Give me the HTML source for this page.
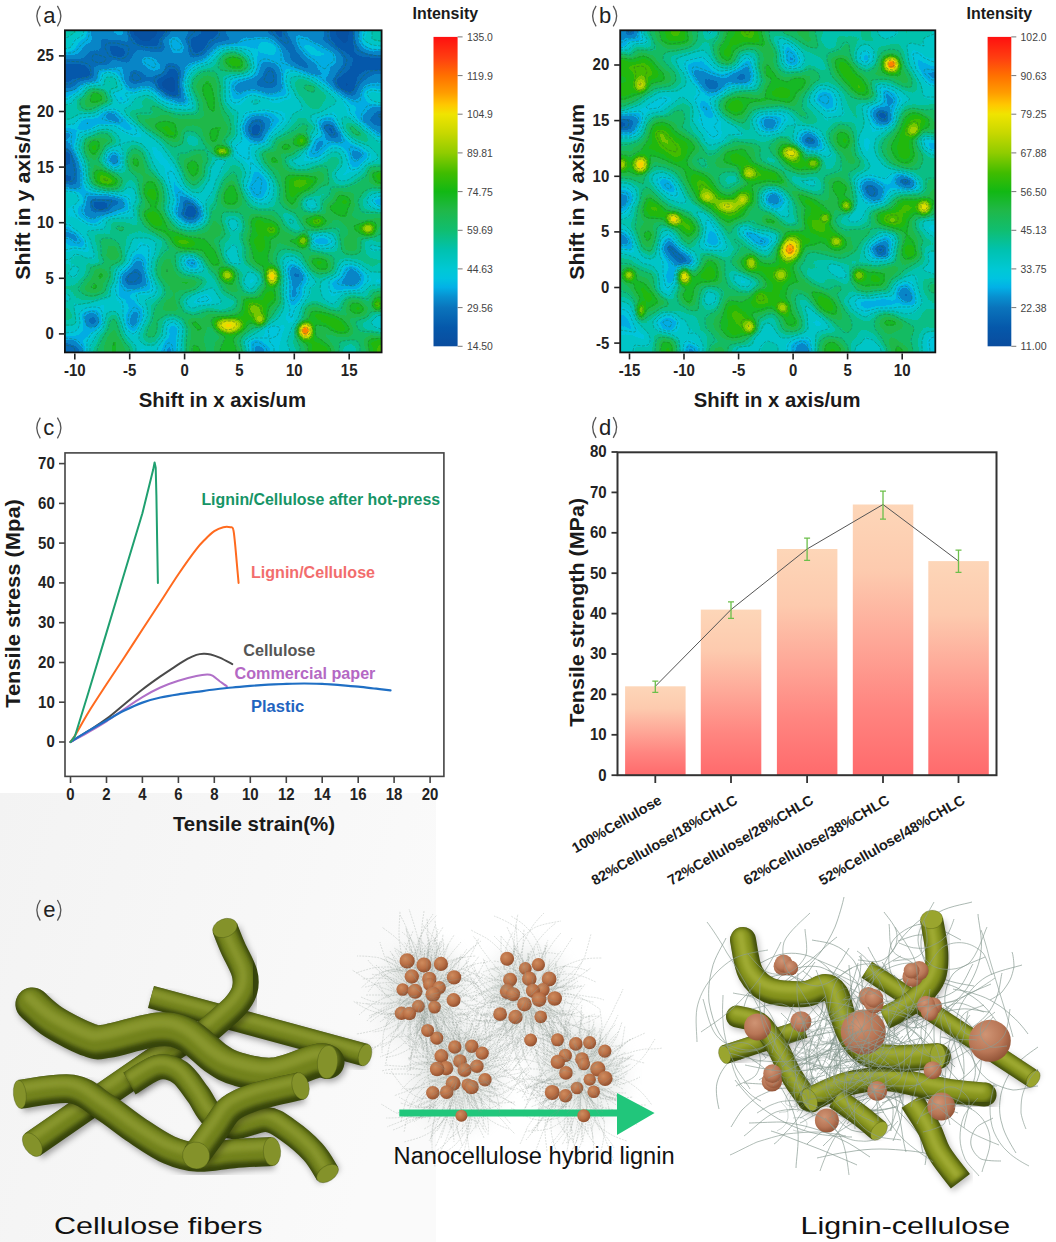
<!DOCTYPE html>
<html><head><meta charset="utf-8"><style>
html,body{margin:0;padding:0;background:#fff;}
body{width:1056px;height:1242px;overflow:hidden;}
svg{display:block;font-family:"Liberation Sans",sans-serif;}
</style></head><body>
<svg width="1056" height="1242" viewBox="0 0 1056 1242" font-family="Liberation Sans, sans-serif">
<rect width="1056" height="1242" fill="#fff"/>
<defs><linearGradient id="bgE" x1="0" y1="0" x2="1" y2="0.3"><stop offset="0" stop-color="#f3f3f3"/><stop offset="0.6" stop-color="#f7f7f7"/><stop offset="1" stop-color="#fafafa"/></linearGradient></defs>
<rect x="0" y="793" width="436" height="449" fill="url(#bgE)"/>
<defs><radialGradient id="hA_s60"><stop offset="0" stop-color="#999999" stop-opacity="1"/><stop offset="0.35" stop-color="#999999" stop-opacity="0.85"/><stop offset="0.7" stop-color="#999999" stop-opacity="0.4"/><stop offset="1" stop-color="#999999" stop-opacity="0"/></radialGradient><radialGradient id="hA_s66"><stop offset="0" stop-color="#a8a8a8" stop-opacity="1"/><stop offset="0.35" stop-color="#a8a8a8" stop-opacity="0.85"/><stop offset="0.7" stop-color="#a8a8a8" stop-opacity="0.4"/><stop offset="1" stop-color="#a8a8a8" stop-opacity="0"/></radialGradient><radialGradient id="hA_s70"><stop offset="0" stop-color="#b2b2b2" stop-opacity="1"/><stop offset="0.35" stop-color="#b2b2b2" stop-opacity="0.85"/><stop offset="0.7" stop-color="#b2b2b2" stop-opacity="0.4"/><stop offset="1" stop-color="#b2b2b2" stop-opacity="0"/></radialGradient><radialGradient id="hA_s72"><stop offset="0" stop-color="#b8b8b8" stop-opacity="1"/><stop offset="0.35" stop-color="#b8b8b8" stop-opacity="0.85"/><stop offset="0.7" stop-color="#b8b8b8" stop-opacity="0.4"/><stop offset="1" stop-color="#b8b8b8" stop-opacity="0"/></radialGradient><radialGradient id="hA_s73"><stop offset="0" stop-color="#bababa" stop-opacity="1"/><stop offset="0.35" stop-color="#bababa" stop-opacity="0.85"/><stop offset="0.7" stop-color="#bababa" stop-opacity="0.4"/><stop offset="1" stop-color="#bababa" stop-opacity="0"/></radialGradient><radialGradient id="hA_s80"><stop offset="0" stop-color="#cccccc" stop-opacity="1"/><stop offset="0.35" stop-color="#cccccc" stop-opacity="0.85"/><stop offset="0.7" stop-color="#cccccc" stop-opacity="0.4"/><stop offset="1" stop-color="#cccccc" stop-opacity="0"/></radialGradient><radialGradient id="hA_s86"><stop offset="0" stop-color="#dbdbdb" stop-opacity="1"/><stop offset="0.35" stop-color="#dbdbdb" stop-opacity="0.85"/><stop offset="0.7" stop-color="#dbdbdb" stop-opacity="0.4"/><stop offset="1" stop-color="#dbdbdb" stop-opacity="0"/></radialGradient><radialGradient id="hA_s96"><stop offset="0" stop-color="#f5f5f5" stop-opacity="1"/><stop offset="0.35" stop-color="#f5f5f5" stop-opacity="0.85"/><stop offset="0.7" stop-color="#f5f5f5" stop-opacity="0.4"/><stop offset="1" stop-color="#f5f5f5" stop-opacity="0"/></radialGradient><filter id="hA" x="44.9" y="10.3" width="356.7" height="362.1" filterUnits="userSpaceOnUse" color-interpolation-filters="sRGB"><feGaussianBlur stdDeviation="2.40"/><feComponentTransfer><feFuncR type="discrete" tableValues="0.031 0.020 0.031 0.035 0.008 0.000 0.000 0.004 0.043 0.082 0.122 0.090 0.133 0.263 0.463 0.635 0.776 0.886 0.980 1.000 1.000 1.000 1.000 1.000"/><feFuncG type="discrete" tableValues="0.314 0.349 0.420 0.522 0.678 0.773 0.776 0.761 0.749 0.737 0.722 0.722 0.725 0.741 0.780 0.816 0.847 0.878 0.820 0.643 0.506 0.369 0.231 0.118"/><feFuncB type="discrete" tableValues="0.635 0.671 0.714 0.784 0.894 0.863 0.784 0.682 0.522 0.388 0.290 0.149 0.051 0.000 0.000 0.000 0.000 0.000 0.000 0.000 0.000 0.024 0.063 0.063"/><feFuncA type="linear" slope="0" intercept="1"/></feComponentTransfer></filter><clipPath id="chA"><rect x="64.9" y="30.3" width="316.7" height="322.1"/></clipPath></defs><g clip-path="url(#chA)"><g filter="url(#hA)"><path fill="#000000" d="M163.6 83.7h7.2v7.3h-7.2z"/><path fill="#020202" d="M137.2 16.6h7.2v7.3h-7.2zM341.7 16.6h7.2v7.3h-7.2zM137.2 23.3h7.2v7.3h-7.2zM341.7 23.3h7.2v7.3h-7.2zM137.2 30.0h7.2v7.3h-7.2zM341.7 30.0h7.2v7.3h-7.2zM170.2 83.7h7.2v7.3h-7.2z"/><path fill="#040404" d="M143.8 16.6h7.2v7.3h-7.2zM335.1 16.6h7.2v7.3h-7.2zM143.8 23.3h7.2v7.3h-7.2zM335.1 23.3h7.2v7.3h-7.2zM143.8 30.0h7.2v7.3h-7.2zM335.1 30.0h7.2v7.3h-7.2zM163.6 77.0h7.2v7.3h-7.2z"/><path fill="#060606" d="M130.6 16.6h7.2v7.3h-7.2zM150.4 16.6h7.2v7.3h-7.2zM130.6 23.3h7.2v7.3h-7.2zM150.4 23.3h7.2v7.3h-7.2zM130.6 30.0h7.2v7.3h-7.2zM150.4 30.0h7.2v7.3h-7.2zM341.7 36.7h7.2v7.3h-7.2zM170.2 77.0h7.2v7.3h-7.2z"/><path fill="#080808" d="M137.2 36.7h7.2v7.3h-7.2zM143.8 36.7h7.2v7.3h-7.2zM341.7 83.7h7.2v7.3h-7.2zM170.2 90.4h7.2v7.3h-7.2z"/><path fill="#0a0a0a" d="M170.2 70.3h7.2v7.3h-7.2zM341.7 77.0h7.2v7.3h-7.2z"/><path fill="#0c0c0c" d="M150.4 36.7h7.2v7.3h-7.2zM335.1 36.7h7.2v7.3h-7.2zM110.8 50.1h7.2v7.3h-7.2zM368.1 56.8h7.2v7.3h-7.2zM77.8 70.3h7.2v7.3h-7.2zM157.0 77.0h7.2v7.3h-7.2zM157.0 83.7h7.2v7.3h-7.2zM348.3 83.7h7.2v7.3h-7.2zM51.4 150.8h7.2v7.3h-7.2zM58.0 150.8h7.2v7.3h-7.2zM64.6 150.8h7.2v7.3h-7.2zM97.6 204.5h7.2v7.3h-7.2zM190.0 204.5h7.2v7.3h-7.2z"/><path fill="#0e0e0e" d="M157.0 16.6h7.2v7.3h-7.2zM157.0 23.3h7.2v7.3h-7.2zM157.0 30.0h7.2v7.3h-7.2zM190.0 43.4h7.2v7.3h-7.2zM196.6 43.4h7.2v7.3h-7.2zM341.7 43.4h7.2v7.3h-7.2zM117.4 50.1h7.2v7.3h-7.2zM361.5 56.8h7.2v7.3h-7.2zM374.7 56.8h7.2v7.3h-7.2zM381.3 56.8h7.2v7.3h-7.2zM387.9 56.8h7.2v7.3h-7.2zM374.7 63.6h7.2v7.3h-7.2zM381.3 63.6h7.2v7.3h-7.2zM387.9 63.6h7.2v7.3h-7.2zM71.2 70.3h7.2v7.3h-7.2zM84.4 70.3h7.2v7.3h-7.2zM348.3 77.0h7.2v7.3h-7.2zM190.0 211.2h7.2v7.3h-7.2z"/><path fill="#101010" d="M203.2 16.6h7.2v7.3h-7.2zM209.8 16.6h7.2v7.3h-7.2zM275.7 16.6h7.2v7.3h-7.2zM203.2 23.3h7.2v7.3h-7.2zM209.8 23.3h7.2v7.3h-7.2zM275.7 23.3h7.2v7.3h-7.2zM203.2 30.0h7.2v7.3h-7.2zM209.8 30.0h7.2v7.3h-7.2zM275.7 30.0h7.2v7.3h-7.2zM190.0 36.7h7.2v7.3h-7.2zM348.3 43.4h7.2v7.3h-7.2zM71.2 63.6h7.2v7.3h-7.2zM77.8 63.6h7.2v7.3h-7.2zM368.1 63.6h7.2v7.3h-7.2zM51.4 70.3h7.2v7.3h-7.2zM58.0 70.3h7.2v7.3h-7.2zM64.6 70.3h7.2v7.3h-7.2zM335.1 77.0h7.2v7.3h-7.2zM249.3 130.7h7.2v7.3h-7.2zM328.5 130.7h7.2v7.3h-7.2zM183.4 211.2h7.2v7.3h-7.2z"/><path fill="#121212" d="M328.5 16.6h7.2v7.3h-7.2zM348.3 16.6h7.2v7.3h-7.2zM328.5 23.3h7.2v7.3h-7.2zM348.3 23.3h7.2v7.3h-7.2zM328.5 30.0h7.2v7.3h-7.2zM348.3 30.0h7.2v7.3h-7.2zM196.6 36.7h7.2v7.3h-7.2zM282.3 36.7h7.2v7.3h-7.2zM348.3 36.7h7.2v7.3h-7.2zM110.8 43.4h7.2v7.3h-7.2zM335.1 43.4h7.2v7.3h-7.2zM97.6 56.8h7.2v7.3h-7.2zM354.9 56.8h7.2v7.3h-7.2zM51.4 63.6h7.2v7.3h-7.2zM58.0 63.6h7.2v7.3h-7.2zM64.6 63.6h7.2v7.3h-7.2zM354.9 63.6h7.2v7.3h-7.2zM361.5 63.6h7.2v7.3h-7.2zM348.3 70.3h7.2v7.3h-7.2zM249.3 123.9h7.2v7.3h-7.2zM255.9 123.9h7.2v7.3h-7.2zM321.9 123.9h7.2v7.3h-7.2zM328.5 123.9h7.2v7.3h-7.2zM51.4 157.5h7.2v7.3h-7.2zM58.0 157.5h7.2v7.3h-7.2zM64.6 157.5h7.2v7.3h-7.2zM51.4 177.6h7.2v7.3h-7.2zM58.0 177.6h7.2v7.3h-7.2zM64.6 177.6h7.2v7.3h-7.2zM91.0 197.8h7.2v7.3h-7.2z"/><path fill="#141414" d="M203.2 36.7h7.2v7.3h-7.2zM328.5 36.7h7.2v7.3h-7.2zM104.2 43.4h7.2v7.3h-7.2zM348.3 50.1h7.2v7.3h-7.2zM348.3 63.6h7.2v7.3h-7.2zM163.6 70.3h7.2v7.3h-7.2zM341.7 70.3h7.2v7.3h-7.2zM354.9 70.3h7.2v7.3h-7.2zM51.4 77.0h7.2v7.3h-7.2zM58.0 77.0h7.2v7.3h-7.2zM64.6 77.0h7.2v7.3h-7.2zM335.1 83.7h7.2v7.3h-7.2zM163.6 90.4h7.2v7.3h-7.2zM255.9 130.7h7.2v7.3h-7.2zM97.6 197.8h7.2v7.3h-7.2zM91.0 204.5h7.2v7.3h-7.2zM104.2 204.5h7.2v7.3h-7.2zM183.4 204.5h7.2v7.3h-7.2zM130.6 271.6h7.2v7.3h-7.2z"/><path fill="#161616" d="M196.6 16.6h7.2v7.3h-7.2zM196.6 23.3h7.2v7.3h-7.2zM196.6 30.0h7.2v7.3h-7.2zM130.6 36.7h7.2v7.3h-7.2zM117.4 43.4h7.2v7.3h-7.2zM143.8 43.4h7.2v7.3h-7.2zM150.4 43.4h7.2v7.3h-7.2zM157.0 43.4h7.2v7.3h-7.2zM203.2 43.4h7.2v7.3h-7.2zM190.0 50.1h7.2v7.3h-7.2zM196.6 50.1h7.2v7.3h-7.2zM341.7 50.1h7.2v7.3h-7.2zM354.9 50.1h7.2v7.3h-7.2zM348.3 56.8h7.2v7.3h-7.2zM84.4 63.6h7.2v7.3h-7.2zM170.2 63.6h7.2v7.3h-7.2zM269.1 70.3h7.2v7.3h-7.2zM269.1 77.0h7.2v7.3h-7.2zM51.4 170.9h7.2v7.3h-7.2zM58.0 170.9h7.2v7.3h-7.2zM64.6 170.9h7.2v7.3h-7.2zM71.2 170.9h7.2v7.3h-7.2zM104.2 197.8h7.2v7.3h-7.2zM110.8 197.8h7.2v7.3h-7.2zM183.4 197.8h7.2v7.3h-7.2zM124.0 278.3h7.2v7.3h-7.2zM130.6 278.3h7.2v7.3h-7.2zM91.0 318.5h7.2v7.3h-7.2zM51.4 345.4h7.2v7.3h-7.2zM58.0 345.4h7.2v7.3h-7.2zM64.6 345.4h7.2v7.3h-7.2zM71.2 345.4h7.2v7.3h-7.2zM51.4 352.1h7.2v7.3h-7.2zM58.0 352.1h7.2v7.3h-7.2zM64.6 352.1h7.2v7.3h-7.2zM71.2 352.1h7.2v7.3h-7.2zM51.4 358.8h7.2v7.3h-7.2zM58.0 358.8h7.2v7.3h-7.2zM64.6 358.8h7.2v7.3h-7.2zM71.2 358.8h7.2v7.3h-7.2z"/><path fill="#181818" d="M163.6 16.6h7.2v7.3h-7.2zM216.4 16.6h7.2v7.3h-7.2zM269.1 16.6h7.2v7.3h-7.2zM163.6 23.3h7.2v7.3h-7.2zM216.4 23.3h7.2v7.3h-7.2zM269.1 23.3h7.2v7.3h-7.2zM163.6 30.0h7.2v7.3h-7.2zM216.4 30.0h7.2v7.3h-7.2zM269.1 30.0h7.2v7.3h-7.2zM157.0 36.7h7.2v7.3h-7.2zM209.8 36.7h7.2v7.3h-7.2zM275.7 36.7h7.2v7.3h-7.2zM124.0 43.4h7.2v7.3h-7.2zM288.9 43.4h7.2v7.3h-7.2zM91.0 50.1h7.2v7.3h-7.2zM124.0 50.1h7.2v7.3h-7.2zM91.0 56.8h7.2v7.3h-7.2zM295.5 56.8h7.2v7.3h-7.2zM163.6 63.6h7.2v7.3h-7.2zM130.6 70.3h7.2v7.3h-7.2zM361.5 70.3h7.2v7.3h-7.2zM71.2 77.0h7.2v7.3h-7.2zM130.6 77.0h7.2v7.3h-7.2zM137.2 77.0h7.2v7.3h-7.2zM262.5 77.0h7.2v7.3h-7.2zM354.9 77.0h7.2v7.3h-7.2zM176.8 90.4h7.2v7.3h-7.2zM348.3 90.4h7.2v7.3h-7.2zM374.7 110.5h7.2v7.3h-7.2zM381.3 110.5h7.2v7.3h-7.2zM387.9 110.5h7.2v7.3h-7.2zM255.9 117.2h7.2v7.3h-7.2zM51.4 164.2h7.2v7.3h-7.2zM58.0 164.2h7.2v7.3h-7.2zM64.6 164.2h7.2v7.3h-7.2zM71.2 164.2h7.2v7.3h-7.2zM71.2 177.6h7.2v7.3h-7.2zM137.2 271.6h7.2v7.3h-7.2z"/><path fill="#1a1a1a" d="M190.0 16.6h7.2v7.3h-7.2zM190.0 23.3h7.2v7.3h-7.2zM190.0 30.0h7.2v7.3h-7.2zM183.4 36.7h7.2v7.3h-7.2zM216.4 36.7h7.2v7.3h-7.2zM137.2 43.4h7.2v7.3h-7.2zM282.3 43.4h7.2v7.3h-7.2zM288.9 50.1h7.2v7.3h-7.2zM361.5 50.1h7.2v7.3h-7.2zM51.4 56.8h7.2v7.3h-7.2zM58.0 56.8h7.2v7.3h-7.2zM64.6 56.8h7.2v7.3h-7.2zM104.2 56.8h7.2v7.3h-7.2zM302.1 63.6h7.2v7.3h-7.2zM341.7 63.6h7.2v7.3h-7.2zM176.8 70.3h7.2v7.3h-7.2zM262.5 70.3h7.2v7.3h-7.2zM335.1 70.3h7.2v7.3h-7.2zM150.4 77.0h7.2v7.3h-7.2zM249.3 117.2h7.2v7.3h-7.2zM374.7 117.2h7.2v7.3h-7.2zM381.3 117.2h7.2v7.3h-7.2zM387.9 117.2h7.2v7.3h-7.2zM110.8 157.5h7.2v7.3h-7.2zM124.0 271.6h7.2v7.3h-7.2zM295.5 271.6h7.2v7.3h-7.2z"/><path fill="#1c1c1c" d="M282.3 16.6h7.2v7.3h-7.2zM282.3 23.3h7.2v7.3h-7.2zM282.3 30.0h7.2v7.3h-7.2zM223.0 36.7h7.2v7.3h-7.2zM321.9 36.7h7.2v7.3h-7.2zM130.6 43.4h7.2v7.3h-7.2zM104.2 50.1h7.2v7.3h-7.2zM71.2 56.8h7.2v7.3h-7.2zM77.8 56.8h7.2v7.3h-7.2zM84.4 56.8h7.2v7.3h-7.2zM117.4 56.8h7.2v7.3h-7.2zM124.0 56.8h7.2v7.3h-7.2zM288.9 56.8h7.2v7.3h-7.2zM341.7 56.8h7.2v7.3h-7.2zM137.2 70.3h7.2v7.3h-7.2zM77.8 77.0h7.2v7.3h-7.2zM255.9 77.0h7.2v7.3h-7.2zM51.4 83.7h7.2v7.3h-7.2zM58.0 83.7h7.2v7.3h-7.2zM64.6 83.7h7.2v7.3h-7.2zM368.1 117.2h7.2v7.3h-7.2zM335.1 130.7h7.2v7.3h-7.2zM71.2 157.5h7.2v7.3h-7.2zM176.8 211.2h7.2v7.3h-7.2zM137.2 278.3h7.2v7.3h-7.2z"/><path fill="#1e1e1e" d="M124.0 16.6h7.2v7.3h-7.2zM321.9 16.6h7.2v7.3h-7.2zM124.0 23.3h7.2v7.3h-7.2zM321.9 23.3h7.2v7.3h-7.2zM124.0 30.0h7.2v7.3h-7.2zM321.9 30.0h7.2v7.3h-7.2zM97.6 36.7h7.2v7.3h-7.2zM104.2 36.7h7.2v7.3h-7.2zM110.8 36.7h7.2v7.3h-7.2zM117.4 36.7h7.2v7.3h-7.2zM328.5 43.4h7.2v7.3h-7.2zM354.9 43.4h7.2v7.3h-7.2zM84.4 50.1h7.2v7.3h-7.2zM97.6 50.1h7.2v7.3h-7.2zM295.5 50.1h7.2v7.3h-7.2zM262.5 63.6h7.2v7.3h-7.2zM269.1 63.6h7.2v7.3h-7.2zM91.0 70.3h7.2v7.3h-7.2zM368.1 70.3h7.2v7.3h-7.2zM143.8 77.0h7.2v7.3h-7.2zM176.8 77.0h7.2v7.3h-7.2zM328.5 77.0h7.2v7.3h-7.2zM176.8 83.7h7.2v7.3h-7.2zM255.9 83.7h7.2v7.3h-7.2zM262.5 83.7h7.2v7.3h-7.2zM269.1 83.7h7.2v7.3h-7.2zM354.9 83.7h7.2v7.3h-7.2zM341.7 90.4h7.2v7.3h-7.2zM176.8 97.1h7.2v7.3h-7.2zM51.4 144.1h7.2v7.3h-7.2zM58.0 144.1h7.2v7.3h-7.2zM64.6 144.1h7.2v7.3h-7.2zM130.6 264.9h7.2v7.3h-7.2zM288.9 271.6h7.2v7.3h-7.2zM348.3 271.6h7.2v7.3h-7.2zM84.4 318.5h7.2v7.3h-7.2z"/><path fill="#202020" d="M183.4 16.6h7.2v7.3h-7.2zM223.0 16.6h7.2v7.3h-7.2zM183.4 23.3h7.2v7.3h-7.2zM223.0 23.3h7.2v7.3h-7.2zM183.4 30.0h7.2v7.3h-7.2zM223.0 30.0h7.2v7.3h-7.2zM229.5 36.7h7.2v7.3h-7.2zM97.6 43.4h7.2v7.3h-7.2zM130.6 50.1h7.2v7.3h-7.2zM150.4 50.1h7.2v7.3h-7.2zM368.1 50.1h7.2v7.3h-7.2zM374.7 50.1h7.2v7.3h-7.2zM381.3 50.1h7.2v7.3h-7.2zM387.9 50.1h7.2v7.3h-7.2zM302.1 56.8h7.2v7.3h-7.2zM91.0 63.6h7.2v7.3h-7.2zM176.8 63.6h7.2v7.3h-7.2zM295.5 63.6h7.2v7.3h-7.2zM308.7 63.6h7.2v7.3h-7.2zM157.0 70.3h7.2v7.3h-7.2zM374.7 70.3h7.2v7.3h-7.2zM381.3 70.3h7.2v7.3h-7.2zM387.9 70.3h7.2v7.3h-7.2zM84.4 77.0h7.2v7.3h-7.2zM124.0 77.0h7.2v7.3h-7.2zM361.5 77.0h7.2v7.3h-7.2zM71.2 83.7h7.2v7.3h-7.2zM242.7 123.9h7.2v7.3h-7.2zM262.5 123.9h7.2v7.3h-7.2zM374.7 123.9h7.2v7.3h-7.2zM381.3 123.9h7.2v7.3h-7.2zM387.9 123.9h7.2v7.3h-7.2zM117.4 197.8h7.2v7.3h-7.2zM196.6 211.2h7.2v7.3h-7.2zM190.0 217.9h7.2v7.3h-7.2zM348.3 278.3h7.2v7.3h-7.2zM91.0 311.8h7.2v7.3h-7.2zM51.4 338.7h7.2v7.3h-7.2zM58.0 338.7h7.2v7.3h-7.2zM64.6 338.7h7.2v7.3h-7.2z"/><path fill="#222222" d="M91.0 16.6h7.2v7.3h-7.2zM97.6 16.6h7.2v7.3h-7.2zM249.3 16.6h7.2v7.3h-7.2zM255.9 16.6h7.2v7.3h-7.2zM262.5 16.6h7.2v7.3h-7.2zM91.0 23.3h7.2v7.3h-7.2zM97.6 23.3h7.2v7.3h-7.2zM249.3 23.3h7.2v7.3h-7.2zM255.9 23.3h7.2v7.3h-7.2zM262.5 23.3h7.2v7.3h-7.2zM91.0 30.0h7.2v7.3h-7.2zM97.6 30.0h7.2v7.3h-7.2zM249.3 30.0h7.2v7.3h-7.2zM255.9 30.0h7.2v7.3h-7.2zM262.5 30.0h7.2v7.3h-7.2zM124.0 36.7h7.2v7.3h-7.2zM288.9 36.7h7.2v7.3h-7.2zM315.3 36.7h7.2v7.3h-7.2zM163.6 43.4h7.2v7.3h-7.2zM183.4 43.4h7.2v7.3h-7.2zM209.8 43.4h7.2v7.3h-7.2zM157.0 50.1h7.2v7.3h-7.2zM183.4 50.1h7.2v7.3h-7.2zM203.2 50.1h7.2v7.3h-7.2zM335.1 50.1h7.2v7.3h-7.2zM110.8 56.8h7.2v7.3h-7.2zM183.4 56.8h7.2v7.3h-7.2zM104.2 63.6h7.2v7.3h-7.2zM130.6 63.6h7.2v7.3h-7.2zM335.1 63.6h7.2v7.3h-7.2zM124.0 70.3h7.2v7.3h-7.2zM143.8 70.3h7.2v7.3h-7.2zM150.4 70.3h7.2v7.3h-7.2zM249.3 77.0h7.2v7.3h-7.2zM275.7 77.0h7.2v7.3h-7.2zM236.1 83.7h7.2v7.3h-7.2zM275.7 83.7h7.2v7.3h-7.2zM368.1 110.5h7.2v7.3h-7.2zM262.5 117.2h7.2v7.3h-7.2zM354.9 150.8h7.2v7.3h-7.2zM183.4 217.9h7.2v7.3h-7.2zM190.0 258.2h7.2v7.3h-7.2zM137.2 264.9h7.2v7.3h-7.2zM288.9 264.9h7.2v7.3h-7.2zM84.4 311.8h7.2v7.3h-7.2zM130.6 318.5h7.2v7.3h-7.2z"/><path fill="#242424" d="M302.1 16.6h7.2v7.3h-7.2zM302.1 23.3h7.2v7.3h-7.2zM302.1 30.0h7.2v7.3h-7.2zM84.4 43.4h7.2v7.3h-7.2zM143.8 50.1h7.2v7.3h-7.2zM163.6 50.1h7.2v7.3h-7.2zM130.6 56.8h7.2v7.3h-7.2zM157.0 56.8h7.2v7.3h-7.2zM163.6 56.8h7.2v7.3h-7.2zM176.8 56.8h7.2v7.3h-7.2zM190.0 56.8h7.2v7.3h-7.2zM97.6 63.6h7.2v7.3h-7.2zM124.0 63.6h7.2v7.3h-7.2zM275.7 70.3h7.2v7.3h-7.2zM91.0 77.0h7.2v7.3h-7.2zM130.6 83.7h7.2v7.3h-7.2zM242.7 83.7h7.2v7.3h-7.2zM249.3 83.7h7.2v7.3h-7.2zM354.9 90.4h7.2v7.3h-7.2zM104.2 110.5h7.2v7.3h-7.2zM361.5 117.2h7.2v7.3h-7.2zM368.1 123.9h7.2v7.3h-7.2zM255.9 137.4h7.2v7.3h-7.2zM335.1 137.4h7.2v7.3h-7.2zM110.8 150.8h7.2v7.3h-7.2zM71.2 184.3h7.2v7.3h-7.2zM84.4 197.8h7.2v7.3h-7.2zM84.4 204.5h7.2v7.3h-7.2zM110.8 204.5h7.2v7.3h-7.2zM91.0 211.2h7.2v7.3h-7.2zM51.4 231.3h7.2v7.3h-7.2zM58.0 231.3h7.2v7.3h-7.2zM64.6 231.3h7.2v7.3h-7.2zM71.2 231.3h7.2v7.3h-7.2zM341.7 278.3h7.2v7.3h-7.2zM77.8 345.4h7.2v7.3h-7.2zM255.9 345.4h7.2v7.3h-7.2zM77.8 352.1h7.2v7.3h-7.2zM255.9 352.1h7.2v7.3h-7.2zM77.8 358.8h7.2v7.3h-7.2zM255.9 358.8h7.2v7.3h-7.2z"/><path fill="#262626" d="M170.2 16.6h7.2v7.3h-7.2zM176.8 16.6h7.2v7.3h-7.2zM229.5 16.6h7.2v7.3h-7.2zM242.7 16.6h7.2v7.3h-7.2zM308.7 16.6h7.2v7.3h-7.2zM315.3 16.6h7.2v7.3h-7.2zM170.2 23.3h7.2v7.3h-7.2zM176.8 23.3h7.2v7.3h-7.2zM229.5 23.3h7.2v7.3h-7.2zM242.7 23.3h7.2v7.3h-7.2zM308.7 23.3h7.2v7.3h-7.2zM315.3 23.3h7.2v7.3h-7.2zM170.2 30.0h7.2v7.3h-7.2zM176.8 30.0h7.2v7.3h-7.2zM229.5 30.0h7.2v7.3h-7.2zM242.7 30.0h7.2v7.3h-7.2zM308.7 30.0h7.2v7.3h-7.2zM315.3 30.0h7.2v7.3h-7.2zM91.0 43.4h7.2v7.3h-7.2zM77.8 50.1h7.2v7.3h-7.2zM137.2 50.1h7.2v7.3h-7.2zM282.3 50.1h7.2v7.3h-7.2zM170.2 56.8h7.2v7.3h-7.2zM137.2 63.6h7.2v7.3h-7.2zM255.9 70.3h7.2v7.3h-7.2zM308.7 70.3h7.2v7.3h-7.2zM315.3 70.3h7.2v7.3h-7.2zM242.7 77.0h7.2v7.3h-7.2zM368.1 77.0h7.2v7.3h-7.2zM150.4 83.7h7.2v7.3h-7.2zM374.7 103.8h7.2v7.3h-7.2zM381.3 103.8h7.2v7.3h-7.2zM387.9 103.8h7.2v7.3h-7.2zM110.8 110.5h7.2v7.3h-7.2zM110.8 117.2h7.2v7.3h-7.2zM117.4 117.2h7.2v7.3h-7.2zM51.4 130.7h7.2v7.3h-7.2zM58.0 130.7h7.2v7.3h-7.2zM64.6 130.7h7.2v7.3h-7.2zM315.3 137.4h7.2v7.3h-7.2zM71.2 150.8h7.2v7.3h-7.2zM176.8 197.8h7.2v7.3h-7.2zM190.0 197.8h7.2v7.3h-7.2zM117.4 204.5h7.2v7.3h-7.2zM176.8 204.5h7.2v7.3h-7.2zM84.4 211.2h7.2v7.3h-7.2zM354.9 271.6h7.2v7.3h-7.2zM288.9 278.3h7.2v7.3h-7.2zM295.5 278.3h7.2v7.3h-7.2zM288.9 291.7h7.2v7.3h-7.2zM130.6 311.8h7.2v7.3h-7.2zM71.2 338.7h7.2v7.3h-7.2z"/><path fill="#282828" d="M104.2 16.6h7.2v7.3h-7.2zM295.5 16.6h7.2v7.3h-7.2zM104.2 23.3h7.2v7.3h-7.2zM295.5 23.3h7.2v7.3h-7.2zM104.2 30.0h7.2v7.3h-7.2zM295.5 30.0h7.2v7.3h-7.2zM91.0 36.7h7.2v7.3h-7.2zM236.1 36.7h7.2v7.3h-7.2zM308.7 36.7h7.2v7.3h-7.2zM321.9 43.4h7.2v7.3h-7.2zM170.2 50.1h7.2v7.3h-7.2zM282.3 56.8h7.2v7.3h-7.2zM335.1 56.8h7.2v7.3h-7.2zM110.8 63.6h7.2v7.3h-7.2zM328.5 63.6h7.2v7.3h-7.2zM328.5 70.3h7.2v7.3h-7.2zM321.9 77.0h7.2v7.3h-7.2zM374.7 77.0h7.2v7.3h-7.2zM381.3 77.0h7.2v7.3h-7.2zM387.9 77.0h7.2v7.3h-7.2zM328.5 83.7h7.2v7.3h-7.2zM368.1 103.8h7.2v7.3h-7.2zM321.9 117.2h7.2v7.3h-7.2zM242.7 130.7h7.2v7.3h-7.2zM321.9 130.7h7.2v7.3h-7.2zM315.3 144.1h7.2v7.3h-7.2zM348.3 150.8h7.2v7.3h-7.2zM249.3 184.3h7.2v7.3h-7.2zM176.8 191.0h7.2v7.3h-7.2zM196.6 204.5h7.2v7.3h-7.2zM71.2 238.0h7.2v7.3h-7.2zM137.2 258.2h7.2v7.3h-7.2zM348.3 264.9h7.2v7.3h-7.2zM354.9 278.3h7.2v7.3h-7.2zM130.6 285.0h7.2v7.3h-7.2zM288.9 285.0h7.2v7.3h-7.2zM163.6 345.4h7.2v7.3h-7.2zM163.6 352.1h7.2v7.3h-7.2zM163.6 358.8h7.2v7.3h-7.2z"/><path fill="#2a2a2a" d="M110.8 16.6h7.2v7.3h-7.2zM236.1 16.6h7.2v7.3h-7.2zM288.9 16.6h7.2v7.3h-7.2zM354.9 16.6h7.2v7.3h-7.2zM110.8 23.3h7.2v7.3h-7.2zM236.1 23.3h7.2v7.3h-7.2zM288.9 23.3h7.2v7.3h-7.2zM354.9 23.3h7.2v7.3h-7.2zM110.8 30.0h7.2v7.3h-7.2zM236.1 30.0h7.2v7.3h-7.2zM288.9 30.0h7.2v7.3h-7.2zM354.9 30.0h7.2v7.3h-7.2zM163.6 36.7h7.2v7.3h-7.2zM176.8 36.7h7.2v7.3h-7.2zM354.9 36.7h7.2v7.3h-7.2zM176.8 50.1h7.2v7.3h-7.2zM137.2 56.8h7.2v7.3h-7.2zM196.6 56.8h7.2v7.3h-7.2zM143.8 63.6h7.2v7.3h-7.2zM255.9 63.6h7.2v7.3h-7.2zM124.0 83.7h7.2v7.3h-7.2zM229.5 83.7h7.2v7.3h-7.2zM157.0 90.4h7.2v7.3h-7.2zM236.1 90.4h7.2v7.3h-7.2zM262.5 90.4h7.2v7.3h-7.2zM361.5 110.5h7.2v7.3h-7.2zM328.5 137.4h7.2v7.3h-7.2zM348.3 144.1h7.2v7.3h-7.2zM308.7 150.8h7.2v7.3h-7.2zM255.9 177.6h7.2v7.3h-7.2zM84.4 191.0h7.2v7.3h-7.2zM255.9 191.0h7.2v7.3h-7.2zM374.7 197.8h7.2v7.3h-7.2zM381.3 197.8h7.2v7.3h-7.2zM387.9 197.8h7.2v7.3h-7.2zM97.6 211.2h7.2v7.3h-7.2zM77.8 238.0h7.2v7.3h-7.2zM130.6 258.2h7.2v7.3h-7.2zM183.4 258.2h7.2v7.3h-7.2zM295.5 264.9h7.2v7.3h-7.2zM341.7 271.6h7.2v7.3h-7.2zM143.8 278.3h7.2v7.3h-7.2zM335.1 278.3h7.2v7.3h-7.2zM124.0 285.0h7.2v7.3h-7.2zM288.9 298.4h7.2v7.3h-7.2zM130.6 305.1h7.2v7.3h-7.2zM170.2 325.3h7.2v7.3h-7.2z"/><path fill="#2c2c2c" d="M269.1 36.7h7.2v7.3h-7.2zM77.8 43.4h7.2v7.3h-7.2zM295.5 43.4h7.2v7.3h-7.2zM71.2 50.1h7.2v7.3h-7.2zM262.5 56.8h7.2v7.3h-7.2zM308.7 56.8h7.2v7.3h-7.2zM117.4 63.6h7.2v7.3h-7.2zM157.0 63.6h7.2v7.3h-7.2zM183.4 63.6h7.2v7.3h-7.2zM275.7 63.6h7.2v7.3h-7.2zM288.9 63.6h7.2v7.3h-7.2zM236.1 77.0h7.2v7.3h-7.2zM269.1 90.4h7.2v7.3h-7.2zM170.2 97.1h7.2v7.3h-7.2zM183.4 97.1h7.2v7.3h-7.2zM348.3 97.1h7.2v7.3h-7.2zM354.9 97.1h7.2v7.3h-7.2zM84.4 117.2h7.2v7.3h-7.2zM91.0 117.2h7.2v7.3h-7.2zM97.6 117.2h7.2v7.3h-7.2zM104.2 117.2h7.2v7.3h-7.2zM269.1 117.2h7.2v7.3h-7.2zM328.5 117.2h7.2v7.3h-7.2zM84.4 123.9h7.2v7.3h-7.2zM124.0 123.9h7.2v7.3h-7.2zM262.5 130.7h7.2v7.3h-7.2zM374.7 130.7h7.2v7.3h-7.2zM381.3 130.7h7.2v7.3h-7.2zM387.9 130.7h7.2v7.3h-7.2zM51.4 137.4h7.2v7.3h-7.2zM58.0 137.4h7.2v7.3h-7.2zM64.6 137.4h7.2v7.3h-7.2zM249.3 137.4h7.2v7.3h-7.2zM321.9 137.4h7.2v7.3h-7.2zM341.7 137.4h7.2v7.3h-7.2zM308.7 144.1h7.2v7.3h-7.2zM315.3 150.8h7.2v7.3h-7.2zM361.5 150.8h7.2v7.3h-7.2zM348.3 157.5h7.2v7.3h-7.2zM354.9 157.5h7.2v7.3h-7.2zM77.8 170.9h7.2v7.3h-7.2zM77.8 177.6h7.2v7.3h-7.2zM51.4 184.3h7.2v7.3h-7.2zM58.0 184.3h7.2v7.3h-7.2zM64.6 184.3h7.2v7.3h-7.2zM77.8 184.3h7.2v7.3h-7.2zM255.9 184.3h7.2v7.3h-7.2zM104.2 211.2h7.2v7.3h-7.2zM315.3 238.0h7.2v7.3h-7.2zM321.9 238.0h7.2v7.3h-7.2zM117.4 271.6h7.2v7.3h-7.2zM117.4 278.3h7.2v7.3h-7.2zM137.2 285.0h7.2v7.3h-7.2zM295.5 285.0h7.2v7.3h-7.2zM295.5 291.7h7.2v7.3h-7.2zM137.2 311.8h7.2v7.3h-7.2zM124.0 318.5h7.2v7.3h-7.2zM130.6 325.3h7.2v7.3h-7.2zM249.3 338.7h7.2v7.3h-7.2zM170.2 345.4h7.2v7.3h-7.2zM249.3 345.4h7.2v7.3h-7.2zM262.5 345.4h7.2v7.3h-7.2zM170.2 352.1h7.2v7.3h-7.2zM249.3 352.1h7.2v7.3h-7.2zM262.5 352.1h7.2v7.3h-7.2zM170.2 358.8h7.2v7.3h-7.2zM249.3 358.8h7.2v7.3h-7.2zM262.5 358.8h7.2v7.3h-7.2z"/><path fill="#2e2e2e" d="M84.4 36.7h7.2v7.3h-7.2zM242.7 36.7h7.2v7.3h-7.2zM249.3 36.7h7.2v7.3h-7.2zM275.7 43.4h7.2v7.3h-7.2zM51.4 50.1h7.2v7.3h-7.2zM58.0 50.1h7.2v7.3h-7.2zM64.6 50.1h7.2v7.3h-7.2zM150.4 56.8h7.2v7.3h-7.2zM255.9 56.8h7.2v7.3h-7.2zM315.3 63.6h7.2v7.3h-7.2zM321.9 63.6h7.2v7.3h-7.2zM117.4 70.3h7.2v7.3h-7.2zM321.9 70.3h7.2v7.3h-7.2zM137.2 83.7h7.2v7.3h-7.2zM143.8 83.7h7.2v7.3h-7.2zM361.5 83.7h7.2v7.3h-7.2zM242.7 117.2h7.2v7.3h-7.2zM77.8 123.9h7.2v7.3h-7.2zM321.9 144.1h7.2v7.3h-7.2zM104.2 157.5h7.2v7.3h-7.2zM255.9 170.9h7.2v7.3h-7.2zM91.0 191.0h7.2v7.3h-7.2zM104.2 191.0h7.2v7.3h-7.2zM249.3 191.0h7.2v7.3h-7.2zM77.8 204.5h7.2v7.3h-7.2zM77.8 211.2h7.2v7.3h-7.2zM117.4 291.7h7.2v7.3h-7.2zM91.0 325.3h7.2v7.3h-7.2zM170.2 332.0h7.2v7.3h-7.2zM163.6 338.7h7.2v7.3h-7.2zM170.2 338.7h7.2v7.3h-7.2zM255.9 338.7h7.2v7.3h-7.2z"/><path fill="#303030" d="M117.4 16.6h7.2v7.3h-7.2zM117.4 23.3h7.2v7.3h-7.2zM117.4 30.0h7.2v7.3h-7.2zM302.1 36.7h7.2v7.3h-7.2zM216.4 43.4h7.2v7.3h-7.2zM315.3 43.4h7.2v7.3h-7.2zM361.5 43.4h7.2v7.3h-7.2zM275.7 50.1h7.2v7.3h-7.2zM302.1 50.1h7.2v7.3h-7.2zM328.5 50.1h7.2v7.3h-7.2zM269.1 56.8h7.2v7.3h-7.2zM275.7 56.8h7.2v7.3h-7.2zM315.3 56.8h7.2v7.3h-7.2zM321.9 56.8h7.2v7.3h-7.2zM374.7 83.7h7.2v7.3h-7.2zM381.3 83.7h7.2v7.3h-7.2zM387.9 83.7h7.2v7.3h-7.2zM51.4 90.4h7.2v7.3h-7.2zM58.0 90.4h7.2v7.3h-7.2zM64.6 90.4h7.2v7.3h-7.2zM229.5 90.4h7.2v7.3h-7.2zM275.7 90.4h7.2v7.3h-7.2zM117.4 97.1h7.2v7.3h-7.2zM361.5 103.8h7.2v7.3h-7.2zM255.9 110.5h7.2v7.3h-7.2zM262.5 110.5h7.2v7.3h-7.2zM354.9 110.5h7.2v7.3h-7.2zM315.3 117.2h7.2v7.3h-7.2zM71.2 130.7h7.2v7.3h-7.2zM341.7 144.1h7.2v7.3h-7.2zM354.9 144.1h7.2v7.3h-7.2zM77.8 164.2h7.2v7.3h-7.2zM262.5 177.6h7.2v7.3h-7.2zM97.6 191.0h7.2v7.3h-7.2zM124.0 204.5h7.2v7.3h-7.2zM91.0 217.9h7.2v7.3h-7.2zM51.4 224.6h7.2v7.3h-7.2zM58.0 224.6h7.2v7.3h-7.2zM64.6 224.6h7.2v7.3h-7.2zM124.0 264.9h7.2v7.3h-7.2zM190.0 264.9h7.2v7.3h-7.2zM341.7 264.9h7.2v7.3h-7.2zM302.1 271.6h7.2v7.3h-7.2zM143.8 285.0h7.2v7.3h-7.2zM335.1 285.0h7.2v7.3h-7.2zM348.3 285.0h7.2v7.3h-7.2zM124.0 291.7h7.2v7.3h-7.2zM137.2 305.1h7.2v7.3h-7.2zM124.0 311.8h7.2v7.3h-7.2zM97.6 318.5h7.2v7.3h-7.2zM84.4 325.3h7.2v7.3h-7.2z"/><path fill="#323232" d="M84.4 16.6h7.2v7.3h-7.2zM84.4 23.3h7.2v7.3h-7.2zM84.4 30.0h7.2v7.3h-7.2zM170.2 36.7h7.2v7.3h-7.2zM295.5 36.7h7.2v7.3h-7.2zM143.8 56.8h7.2v7.3h-7.2zM328.5 56.8h7.2v7.3h-7.2zM150.4 63.6h7.2v7.3h-7.2zM302.1 70.3h7.2v7.3h-7.2zM242.7 90.4h7.2v7.3h-7.2zM282.3 90.4h7.2v7.3h-7.2zM335.1 90.4h7.2v7.3h-7.2zM361.5 97.1h7.2v7.3h-7.2zM249.3 110.5h7.2v7.3h-7.2zM269.1 123.9h7.2v7.3h-7.2zM335.1 123.9h7.2v7.3h-7.2zM71.2 137.4h7.2v7.3h-7.2zM170.2 177.6h7.2v7.3h-7.2zM249.3 177.6h7.2v7.3h-7.2zM170.2 184.3h7.2v7.3h-7.2zM262.5 184.3h7.2v7.3h-7.2zM110.8 211.2h7.2v7.3h-7.2zM84.4 217.9h7.2v7.3h-7.2zM196.6 217.9h7.2v7.3h-7.2zM308.7 238.0h7.2v7.3h-7.2zM143.8 271.6h7.2v7.3h-7.2zM302.1 278.3h7.2v7.3h-7.2zM328.5 278.3h7.2v7.3h-7.2zM117.4 285.0h7.2v7.3h-7.2zM341.7 285.0h7.2v7.3h-7.2zM124.0 298.4h7.2v7.3h-7.2zM130.6 298.4h7.2v7.3h-7.2zM77.8 311.8h7.2v7.3h-7.2zM77.8 332.0h7.2v7.3h-7.2zM84.4 332.0h7.2v7.3h-7.2zM77.8 338.7h7.2v7.3h-7.2z"/><path fill="#343434" d="M77.8 36.7h7.2v7.3h-7.2zM255.9 36.7h7.2v7.3h-7.2zM262.5 36.7h7.2v7.3h-7.2zM170.2 43.4h7.2v7.3h-7.2zM176.8 43.4h7.2v7.3h-7.2zM249.3 43.4h7.2v7.3h-7.2zM209.8 50.1h7.2v7.3h-7.2zM255.9 50.1h7.2v7.3h-7.2zM282.3 63.6h7.2v7.3h-7.2zM117.4 77.0h7.2v7.3h-7.2zM229.5 77.0h7.2v7.3h-7.2zM77.8 83.7h7.2v7.3h-7.2zM368.1 83.7h7.2v7.3h-7.2zM110.8 90.4h7.2v7.3h-7.2zM255.9 90.4h7.2v7.3h-7.2zM163.6 97.1h7.2v7.3h-7.2zM354.9 103.8h7.2v7.3h-7.2zM97.6 110.5h7.2v7.3h-7.2zM269.1 110.5h7.2v7.3h-7.2zM77.8 117.2h7.2v7.3h-7.2zM275.7 117.2h7.2v7.3h-7.2zM354.9 117.2h7.2v7.3h-7.2zM315.3 123.9h7.2v7.3h-7.2zM262.5 137.4h7.2v7.3h-7.2zM236.1 144.1h7.2v7.3h-7.2zM104.2 150.8h7.2v7.3h-7.2zM242.7 150.8h7.2v7.3h-7.2zM117.4 157.5h7.2v7.3h-7.2zM249.3 170.9h7.2v7.3h-7.2zM77.8 191.0h7.2v7.3h-7.2zM183.4 191.0h7.2v7.3h-7.2zM170.2 204.5h7.2v7.3h-7.2zM130.6 251.4h7.2v7.3h-7.2zM137.2 251.4h7.2v7.3h-7.2zM354.9 264.9h7.2v7.3h-7.2zM354.9 285.0h7.2v7.3h-7.2zM137.2 318.5h7.2v7.3h-7.2zM269.1 325.3h7.2v7.3h-7.2z"/><path fill="#363636" d="M223.0 43.4h7.2v7.3h-7.2zM229.5 43.4h7.2v7.3h-7.2zM236.1 43.4h7.2v7.3h-7.2zM242.7 43.4h7.2v7.3h-7.2zM255.9 43.4h7.2v7.3h-7.2zM262.5 50.1h7.2v7.3h-7.2zM321.9 50.1h7.2v7.3h-7.2zM203.2 56.8h7.2v7.3h-7.2zM183.4 70.3h7.2v7.3h-7.2zM249.3 70.3h7.2v7.3h-7.2zM315.3 77.0h7.2v7.3h-7.2zM282.3 83.7h7.2v7.3h-7.2zM117.4 90.4h7.2v7.3h-7.2zM229.5 97.1h7.2v7.3h-7.2zM124.0 117.2h7.2v7.3h-7.2zM51.4 123.9h7.2v7.3h-7.2zM58.0 123.9h7.2v7.3h-7.2zM64.6 123.9h7.2v7.3h-7.2zM130.6 123.9h7.2v7.3h-7.2zM308.7 137.4h7.2v7.3h-7.2zM236.1 150.8h7.2v7.3h-7.2zM361.5 157.5h7.2v7.3h-7.2zM110.8 164.2h7.2v7.3h-7.2zM249.3 164.2h7.2v7.3h-7.2zM348.3 164.2h7.2v7.3h-7.2zM354.9 164.2h7.2v7.3h-7.2zM176.8 184.3h7.2v7.3h-7.2zM110.8 191.0h7.2v7.3h-7.2zM170.2 191.0h7.2v7.3h-7.2zM124.0 197.8h7.2v7.3h-7.2zM51.4 238.0h7.2v7.3h-7.2zM58.0 238.0h7.2v7.3h-7.2zM64.6 238.0h7.2v7.3h-7.2zM51.4 244.7h7.2v7.3h-7.2zM58.0 244.7h7.2v7.3h-7.2zM64.6 244.7h7.2v7.3h-7.2zM77.8 244.7h7.2v7.3h-7.2zM143.8 244.7h7.2v7.3h-7.2zM143.8 258.2h7.2v7.3h-7.2zM361.5 271.6h7.2v7.3h-7.2zM295.5 298.4h7.2v7.3h-7.2zM97.6 311.8h7.2v7.3h-7.2zM124.0 325.3h7.2v7.3h-7.2zM71.2 332.0h7.2v7.3h-7.2zM157.0 345.4h7.2v7.3h-7.2zM157.0 352.1h7.2v7.3h-7.2zM157.0 358.8h7.2v7.3h-7.2z"/><path fill="#383838" d="M71.2 43.4h7.2v7.3h-7.2zM308.7 43.4h7.2v7.3h-7.2zM269.1 50.1h7.2v7.3h-7.2zM308.7 50.1h7.2v7.3h-7.2zM315.3 50.1h7.2v7.3h-7.2zM97.6 70.3h7.2v7.3h-7.2zM71.2 90.4h7.2v7.3h-7.2zM124.0 97.1h7.2v7.3h-7.2zM236.1 97.1h7.2v7.3h-7.2zM348.3 110.5h7.2v7.3h-7.2zM71.2 123.9h7.2v7.3h-7.2zM91.0 123.9h7.2v7.3h-7.2zM117.4 123.9h7.2v7.3h-7.2zM130.6 130.7h7.2v7.3h-7.2zM71.2 144.1h7.2v7.3h-7.2zM170.2 170.9h7.2v7.3h-7.2zM262.5 191.0h7.2v7.3h-7.2zM170.2 211.2h7.2v7.3h-7.2zM176.8 217.9h7.2v7.3h-7.2zM328.5 238.0h7.2v7.3h-7.2zM288.9 258.2h7.2v7.3h-7.2zM143.8 264.9h7.2v7.3h-7.2zM196.6 264.9h7.2v7.3h-7.2zM282.3 264.9h7.2v7.3h-7.2zM361.5 278.3h7.2v7.3h-7.2zM328.5 285.0h7.2v7.3h-7.2zM196.6 298.4h7.2v7.3h-7.2zM203.2 298.4h7.2v7.3h-7.2zM91.0 305.1h7.2v7.3h-7.2zM124.0 305.1h7.2v7.3h-7.2zM288.9 305.1h7.2v7.3h-7.2zM77.8 325.3h7.2v7.3h-7.2zM163.6 325.3h7.2v7.3h-7.2zM51.4 332.0h7.2v7.3h-7.2zM58.0 332.0h7.2v7.3h-7.2zM64.6 332.0h7.2v7.3h-7.2zM269.1 332.0h7.2v7.3h-7.2z"/><path fill="#3a3a3a" d="M302.1 43.4h7.2v7.3h-7.2zM374.7 43.4h7.2v7.3h-7.2zM381.3 43.4h7.2v7.3h-7.2zM387.9 43.4h7.2v7.3h-7.2zM249.3 50.1h7.2v7.3h-7.2zM190.0 63.6h7.2v7.3h-7.2zM110.8 70.3h7.2v7.3h-7.2zM282.3 70.3h7.2v7.3h-7.2zM97.6 77.0h7.2v7.3h-7.2zM183.4 90.4h7.2v7.3h-7.2zM249.3 90.4h7.2v7.3h-7.2zM361.5 90.4h7.2v7.3h-7.2zM341.7 97.1h7.2v7.3h-7.2zM183.4 103.8h7.2v7.3h-7.2zM348.3 103.8h7.2v7.3h-7.2zM117.4 110.5h7.2v7.3h-7.2zM242.7 110.5h7.2v7.3h-7.2zM361.5 123.9h7.2v7.3h-7.2zM242.7 137.4h7.2v7.3h-7.2zM242.7 144.1h7.2v7.3h-7.2zM117.4 150.8h7.2v7.3h-7.2zM157.0 150.8h7.2v7.3h-7.2zM77.8 157.5h7.2v7.3h-7.2zM242.7 184.3h7.2v7.3h-7.2zM255.9 197.8h7.2v7.3h-7.2zM368.1 197.8h7.2v7.3h-7.2zM71.2 204.5h7.2v7.3h-7.2zM308.7 204.5h7.2v7.3h-7.2zM97.6 217.9h7.2v7.3h-7.2zM137.2 244.7h7.2v7.3h-7.2zM143.8 251.4h7.2v7.3h-7.2zM374.7 278.3h7.2v7.3h-7.2zM381.3 278.3h7.2v7.3h-7.2zM387.9 278.3h7.2v7.3h-7.2zM110.8 285.0h7.2v7.3h-7.2zM150.4 285.0h7.2v7.3h-7.2zM203.2 291.7h7.2v7.3h-7.2zM84.4 305.1h7.2v7.3h-7.2zM288.9 311.8h7.2v7.3h-7.2zM77.8 318.5h7.2v7.3h-7.2zM170.2 318.5h7.2v7.3h-7.2zM275.7 325.3h7.2v7.3h-7.2zM163.6 332.0h7.2v7.3h-7.2zM262.5 338.7h7.2v7.3h-7.2zM269.1 345.4h7.2v7.3h-7.2zM269.1 352.1h7.2v7.3h-7.2zM269.1 358.8h7.2v7.3h-7.2z"/><path fill="#3c3c3c" d="M361.5 16.6h7.2v7.3h-7.2zM361.5 23.3h7.2v7.3h-7.2zM361.5 30.0h7.2v7.3h-7.2zM71.2 36.7h7.2v7.3h-7.2zM269.1 43.4h7.2v7.3h-7.2zM368.1 43.4h7.2v7.3h-7.2zM282.3 77.0h7.2v7.3h-7.2zM130.6 90.4h7.2v7.3h-7.2zM150.4 90.4h7.2v7.3h-7.2zM51.4 97.1h7.2v7.3h-7.2zM58.0 97.1h7.2v7.3h-7.2zM64.6 97.1h7.2v7.3h-7.2zM157.0 97.1h7.2v7.3h-7.2zM269.1 97.1h7.2v7.3h-7.2zM275.7 110.5h7.2v7.3h-7.2zM328.5 110.5h7.2v7.3h-7.2zM236.1 123.9h7.2v7.3h-7.2zM137.2 130.7h7.2v7.3h-7.2zM150.4 144.1h7.2v7.3h-7.2zM229.5 144.1h7.2v7.3h-7.2zM328.5 144.1h7.2v7.3h-7.2zM335.1 144.1h7.2v7.3h-7.2zM150.4 150.8h7.2v7.3h-7.2zM302.1 150.8h7.2v7.3h-7.2zM157.0 157.5h7.2v7.3h-7.2zM163.6 157.5h7.2v7.3h-7.2zM242.7 157.5h7.2v7.3h-7.2zM249.3 157.5h7.2v7.3h-7.2zM163.6 164.2h7.2v7.3h-7.2zM163.6 170.9h7.2v7.3h-7.2zM341.7 170.9h7.2v7.3h-7.2zM163.6 177.6h7.2v7.3h-7.2zM77.8 197.8h7.2v7.3h-7.2zM374.7 204.5h7.2v7.3h-7.2zM381.3 204.5h7.2v7.3h-7.2zM387.9 204.5h7.2v7.3h-7.2zM71.2 211.2h7.2v7.3h-7.2zM77.8 231.3h7.2v7.3h-7.2zM321.9 231.3h7.2v7.3h-7.2zM71.2 244.7h7.2v7.3h-7.2zM84.4 244.7h7.2v7.3h-7.2zM229.5 258.2h7.2v7.3h-7.2zM183.4 264.9h7.2v7.3h-7.2zM282.3 271.6h7.2v7.3h-7.2zM249.3 278.3h7.2v7.3h-7.2zM282.3 291.7h7.2v7.3h-7.2zM190.0 298.4h7.2v7.3h-7.2zM97.6 305.1h7.2v7.3h-7.2zM176.8 325.3h7.2v7.3h-7.2zM262.5 325.3h7.2v7.3h-7.2zM275.7 332.0h7.2v7.3h-7.2zM137.2 345.4h7.2v7.3h-7.2zM137.2 352.1h7.2v7.3h-7.2zM137.2 358.8h7.2v7.3h-7.2z"/><path fill="#3e3e3e" d="M262.5 43.4h7.2v7.3h-7.2zM249.3 56.8h7.2v7.3h-7.2zM321.9 83.7h7.2v7.3h-7.2zM275.7 97.1h7.2v7.3h-7.2zM288.9 97.1h7.2v7.3h-7.2zM368.1 97.1h7.2v7.3h-7.2zM282.3 117.2h7.2v7.3h-7.2zM275.7 123.9h7.2v7.3h-7.2zM348.3 137.4h7.2v7.3h-7.2zM341.7 150.8h7.2v7.3h-7.2zM302.1 157.5h7.2v7.3h-7.2zM170.2 164.2h7.2v7.3h-7.2zM255.9 164.2h7.2v7.3h-7.2zM84.4 184.3h7.2v7.3h-7.2zM117.4 191.0h7.2v7.3h-7.2zM124.0 191.0h7.2v7.3h-7.2zM196.6 197.8h7.2v7.3h-7.2zM308.7 197.8h7.2v7.3h-7.2zM117.4 211.2h7.2v7.3h-7.2zM77.8 217.9h7.2v7.3h-7.2zM315.3 231.3h7.2v7.3h-7.2zM137.2 238.0h7.2v7.3h-7.2zM84.4 251.4h7.2v7.3h-7.2zM229.5 251.4h7.2v7.3h-7.2zM282.3 258.2h7.2v7.3h-7.2zM249.3 271.6h7.2v7.3h-7.2zM335.1 271.6h7.2v7.3h-7.2zM282.3 285.0h7.2v7.3h-7.2zM130.6 291.7h7.2v7.3h-7.2zM196.6 291.7h7.2v7.3h-7.2zM302.1 291.7h7.2v7.3h-7.2zM328.5 291.7h7.2v7.3h-7.2zM104.2 298.4h7.2v7.3h-7.2zM209.8 298.4h7.2v7.3h-7.2zM282.3 311.8h7.2v7.3h-7.2zM288.9 318.5h7.2v7.3h-7.2zM374.7 318.5h7.2v7.3h-7.2zM381.3 318.5h7.2v7.3h-7.2zM387.9 318.5h7.2v7.3h-7.2zM97.6 325.3h7.2v7.3h-7.2zM130.6 332.0h7.2v7.3h-7.2zM262.5 332.0h7.2v7.3h-7.2zM275.7 338.7h7.2v7.3h-7.2z"/><path fill="#404040" d="M295.5 70.3h7.2v7.3h-7.2zM124.0 90.4h7.2v7.3h-7.2zM341.7 103.8h7.2v7.3h-7.2zM282.3 110.5h7.2v7.3h-7.2zM321.9 110.5h7.2v7.3h-7.2zM124.0 130.7h7.2v7.3h-7.2zM269.1 130.7h7.2v7.3h-7.2zM315.3 130.7h7.2v7.3h-7.2zM341.7 130.7h7.2v7.3h-7.2zM236.1 137.4h7.2v7.3h-7.2zM302.1 144.1h7.2v7.3h-7.2zM361.5 144.1h7.2v7.3h-7.2zM321.9 150.8h7.2v7.3h-7.2zM368.1 150.8h7.2v7.3h-7.2zM216.4 157.5h7.2v7.3h-7.2zM295.5 157.5h7.2v7.3h-7.2zM308.7 157.5h7.2v7.3h-7.2zM117.4 164.2h7.2v7.3h-7.2zM209.8 170.9h7.2v7.3h-7.2zM262.5 170.9h7.2v7.3h-7.2zM335.1 170.9h7.2v7.3h-7.2zM242.7 177.6h7.2v7.3h-7.2zM269.1 184.3h7.2v7.3h-7.2zM170.2 197.8h7.2v7.3h-7.2zM262.5 197.8h7.2v7.3h-7.2zM51.4 204.5h7.2v7.3h-7.2zM58.0 204.5h7.2v7.3h-7.2zM64.6 204.5h7.2v7.3h-7.2zM51.4 211.2h7.2v7.3h-7.2zM58.0 211.2h7.2v7.3h-7.2zM64.6 211.2h7.2v7.3h-7.2zM124.0 211.2h7.2v7.3h-7.2zM229.5 217.9h7.2v7.3h-7.2zM229.5 224.6h7.2v7.3h-7.2zM84.4 238.0h7.2v7.3h-7.2zM196.6 258.2h7.2v7.3h-7.2zM117.4 264.9h7.2v7.3h-7.2zM242.7 278.3h7.2v7.3h-7.2zM368.1 278.3h7.2v7.3h-7.2zM302.1 285.0h7.2v7.3h-7.2zM143.8 291.7h7.2v7.3h-7.2zM117.4 298.4h7.2v7.3h-7.2zM77.8 305.1h7.2v7.3h-7.2zM117.4 305.1h7.2v7.3h-7.2zM282.3 318.5h7.2v7.3h-7.2zM282.3 325.3h7.2v7.3h-7.2zM176.8 332.0h7.2v7.3h-7.2zM84.4 338.7h7.2v7.3h-7.2zM157.0 338.7h7.2v7.3h-7.2zM242.7 338.7h7.2v7.3h-7.2zM269.1 338.7h7.2v7.3h-7.2zM84.4 345.4h7.2v7.3h-7.2zM143.8 345.4h7.2v7.3h-7.2zM275.7 345.4h7.2v7.3h-7.2zM84.4 352.1h7.2v7.3h-7.2zM143.8 352.1h7.2v7.3h-7.2zM275.7 352.1h7.2v7.3h-7.2zM84.4 358.8h7.2v7.3h-7.2zM143.8 358.8h7.2v7.3h-7.2zM275.7 358.8h7.2v7.3h-7.2z"/><path fill="#424242" d="M77.8 16.6h7.2v7.3h-7.2zM77.8 23.3h7.2v7.3h-7.2zM77.8 30.0h7.2v7.3h-7.2zM361.5 36.7h7.2v7.3h-7.2zM104.2 70.3h7.2v7.3h-7.2zM183.4 77.0h7.2v7.3h-7.2zM183.4 83.7h7.2v7.3h-7.2zM288.9 90.4h7.2v7.3h-7.2zM374.7 90.4h7.2v7.3h-7.2zM381.3 90.4h7.2v7.3h-7.2zM387.9 90.4h7.2v7.3h-7.2zM242.7 97.1h7.2v7.3h-7.2zM282.3 97.1h7.2v7.3h-7.2zM110.8 103.8h7.2v7.3h-7.2zM176.8 103.8h7.2v7.3h-7.2zM236.1 103.8h7.2v7.3h-7.2zM275.7 103.8h7.2v7.3h-7.2zM335.1 110.5h7.2v7.3h-7.2zM341.7 110.5h7.2v7.3h-7.2zM71.2 117.2h7.2v7.3h-7.2zM335.1 117.2h7.2v7.3h-7.2zM97.6 123.9h7.2v7.3h-7.2zM104.2 123.9h7.2v7.3h-7.2zM110.8 123.9h7.2v7.3h-7.2zM77.8 130.7h7.2v7.3h-7.2zM368.1 130.7h7.2v7.3h-7.2zM143.8 137.4h7.2v7.3h-7.2zM249.3 144.1h7.2v7.3h-7.2zM229.5 150.8h7.2v7.3h-7.2zM249.3 150.8h7.2v7.3h-7.2zM368.1 157.5h7.2v7.3h-7.2zM341.7 164.2h7.2v7.3h-7.2zM176.8 177.6h7.2v7.3h-7.2zM130.6 191.0h7.2v7.3h-7.2zM374.7 191.0h7.2v7.3h-7.2zM381.3 191.0h7.2v7.3h-7.2zM387.9 191.0h7.2v7.3h-7.2zM51.4 217.9h7.2v7.3h-7.2zM58.0 217.9h7.2v7.3h-7.2zM64.6 217.9h7.2v7.3h-7.2zM288.9 217.9h7.2v7.3h-7.2zM91.0 224.6h7.2v7.3h-7.2zM97.6 224.6h7.2v7.3h-7.2zM321.9 244.7h7.2v7.3h-7.2zM236.1 258.2h7.2v7.3h-7.2zM368.1 271.6h7.2v7.3h-7.2zM282.3 278.3h7.2v7.3h-7.2zM308.7 278.3h7.2v7.3h-7.2zM110.8 291.7h7.2v7.3h-7.2zM137.2 291.7h7.2v7.3h-7.2zM150.4 291.7h7.2v7.3h-7.2zM335.1 291.7h7.2v7.3h-7.2zM97.6 298.4h7.2v7.3h-7.2zM110.8 298.4h7.2v7.3h-7.2zM328.5 298.4h7.2v7.3h-7.2zM104.2 305.1h7.2v7.3h-7.2zM110.8 305.1h7.2v7.3h-7.2zM71.2 325.3h7.2v7.3h-7.2zM137.2 325.3h7.2v7.3h-7.2zM91.0 332.0h7.2v7.3h-7.2zM176.8 338.7h7.2v7.3h-7.2zM282.3 345.4h7.2v7.3h-7.2zM282.3 352.1h7.2v7.3h-7.2zM282.3 358.8h7.2v7.3h-7.2z"/><path fill="#444444" d="M51.4 43.4h7.2v7.3h-7.2zM58.0 43.4h7.2v7.3h-7.2zM64.6 43.4h7.2v7.3h-7.2zM242.7 50.1h7.2v7.3h-7.2zM288.9 70.3h7.2v7.3h-7.2zM223.0 77.0h7.2v7.3h-7.2zM137.2 90.4h7.2v7.3h-7.2zM223.0 97.1h7.2v7.3h-7.2zM262.5 97.1h7.2v7.3h-7.2zM104.2 103.8h7.2v7.3h-7.2zM170.2 103.8h7.2v7.3h-7.2zM262.5 103.8h7.2v7.3h-7.2zM282.3 103.8h7.2v7.3h-7.2zM335.1 103.8h7.2v7.3h-7.2zM236.1 117.2h7.2v7.3h-7.2zM117.4 130.7h7.2v7.3h-7.2zM236.1 130.7h7.2v7.3h-7.2zM137.2 137.4h7.2v7.3h-7.2zM150.4 137.4h7.2v7.3h-7.2zM143.8 144.1h7.2v7.3h-7.2zM157.0 144.1h7.2v7.3h-7.2zM150.4 157.5h7.2v7.3h-7.2zM315.3 157.5h7.2v7.3h-7.2zM341.7 157.5h7.2v7.3h-7.2zM157.0 164.2h7.2v7.3h-7.2zM348.3 170.9h7.2v7.3h-7.2zM203.2 184.3h7.2v7.3h-7.2zM71.2 191.0h7.2v7.3h-7.2zM190.0 191.0h7.2v7.3h-7.2zM203.2 191.0h7.2v7.3h-7.2zM269.1 191.0h7.2v7.3h-7.2zM51.4 197.8h7.2v7.3h-7.2zM58.0 197.8h7.2v7.3h-7.2zM64.6 197.8h7.2v7.3h-7.2zM71.2 197.8h7.2v7.3h-7.2zM71.2 224.6h7.2v7.3h-7.2zM308.7 231.3h7.2v7.3h-7.2zM130.6 238.0h7.2v7.3h-7.2zM143.8 238.0h7.2v7.3h-7.2zM130.6 244.7h7.2v7.3h-7.2zM150.4 244.7h7.2v7.3h-7.2zM315.3 244.7h7.2v7.3h-7.2zM368.1 244.7h7.2v7.3h-7.2zM150.4 251.4h7.2v7.3h-7.2zM223.0 251.4h7.2v7.3h-7.2zM124.0 258.2h7.2v7.3h-7.2zM295.5 258.2h7.2v7.3h-7.2zM150.4 278.3h7.2v7.3h-7.2zM321.9 278.3h7.2v7.3h-7.2zM249.3 285.0h7.2v7.3h-7.2zM321.9 285.0h7.2v7.3h-7.2zM361.5 285.0h7.2v7.3h-7.2zM209.8 291.7h7.2v7.3h-7.2zM321.9 291.7h7.2v7.3h-7.2zM137.2 298.4h7.2v7.3h-7.2zM282.3 298.4h7.2v7.3h-7.2zM295.5 305.1h7.2v7.3h-7.2zM117.4 311.8h7.2v7.3h-7.2zM163.6 318.5h7.2v7.3h-7.2zM275.7 318.5h7.2v7.3h-7.2zM51.4 325.3h7.2v7.3h-7.2zM58.0 325.3h7.2v7.3h-7.2zM64.6 325.3h7.2v7.3h-7.2zM255.9 332.0h7.2v7.3h-7.2zM130.6 338.7h7.2v7.3h-7.2zM150.4 345.4h7.2v7.3h-7.2zM176.8 345.4h7.2v7.3h-7.2zM150.4 352.1h7.2v7.3h-7.2zM176.8 352.1h7.2v7.3h-7.2zM150.4 358.8h7.2v7.3h-7.2zM176.8 358.8h7.2v7.3h-7.2z"/><path fill="#464646" d="M209.8 56.8h7.2v7.3h-7.2zM249.3 63.6h7.2v7.3h-7.2zM117.4 83.7h7.2v7.3h-7.2zM223.0 83.7h7.2v7.3h-7.2zM77.8 90.4h7.2v7.3h-7.2zM223.0 90.4h7.2v7.3h-7.2zM328.5 90.4h7.2v7.3h-7.2zM368.1 90.4h7.2v7.3h-7.2zM110.8 97.1h7.2v7.3h-7.2zM374.7 97.1h7.2v7.3h-7.2zM381.3 97.1h7.2v7.3h-7.2zM387.9 97.1h7.2v7.3h-7.2zM190.0 103.8h7.2v7.3h-7.2zM229.5 103.8h7.2v7.3h-7.2zM242.7 103.8h7.2v7.3h-7.2zM255.9 103.8h7.2v7.3h-7.2zM269.1 103.8h7.2v7.3h-7.2zM288.9 103.8h7.2v7.3h-7.2zM295.5 103.8h7.2v7.3h-7.2zM328.5 103.8h7.2v7.3h-7.2zM91.0 110.5h7.2v7.3h-7.2zM308.7 117.2h7.2v7.3h-7.2zM117.4 137.4h7.2v7.3h-7.2zM124.0 137.4h7.2v7.3h-7.2zM190.0 137.4h7.2v7.3h-7.2zM110.8 144.1h7.2v7.3h-7.2zM288.9 157.5h7.2v7.3h-7.2zM209.8 164.2h7.2v7.3h-7.2zM216.4 164.2h7.2v7.3h-7.2zM242.7 164.2h7.2v7.3h-7.2zM157.0 170.9h7.2v7.3h-7.2zM209.8 177.6h7.2v7.3h-7.2zM209.8 184.3h7.2v7.3h-7.2zM368.1 191.0h7.2v7.3h-7.2zM130.6 197.8h7.2v7.3h-7.2zM302.1 197.8h7.2v7.3h-7.2zM130.6 211.2h7.2v7.3h-7.2zM71.2 217.9h7.2v7.3h-7.2zM84.4 224.6h7.2v7.3h-7.2zM302.1 231.3h7.2v7.3h-7.2zM229.5 244.7h7.2v7.3h-7.2zM328.5 244.7h7.2v7.3h-7.2zM374.7 244.7h7.2v7.3h-7.2zM381.3 244.7h7.2v7.3h-7.2zM387.9 244.7h7.2v7.3h-7.2zM51.4 251.4h7.2v7.3h-7.2zM58.0 251.4h7.2v7.3h-7.2zM64.6 251.4h7.2v7.3h-7.2zM91.0 251.4h7.2v7.3h-7.2zM341.7 258.2h7.2v7.3h-7.2zM71.2 271.6h7.2v7.3h-7.2zM374.7 271.6h7.2v7.3h-7.2zM381.3 271.6h7.2v7.3h-7.2zM387.9 271.6h7.2v7.3h-7.2zM51.4 291.7h7.2v7.3h-7.2zM58.0 291.7h7.2v7.3h-7.2zM64.6 291.7h7.2v7.3h-7.2zM183.4 298.4h7.2v7.3h-7.2zM282.3 305.1h7.2v7.3h-7.2zM143.8 311.8h7.2v7.3h-7.2zM374.7 325.3h7.2v7.3h-7.2zM381.3 325.3h7.2v7.3h-7.2zM387.9 325.3h7.2v7.3h-7.2zM124.0 332.0h7.2v7.3h-7.2zM282.3 332.0h7.2v7.3h-7.2z"/><path fill="#484848" d="M51.4 36.7h7.2v7.3h-7.2zM58.0 36.7h7.2v7.3h-7.2zM64.6 36.7h7.2v7.3h-7.2zM196.6 63.6h7.2v7.3h-7.2zM242.7 70.3h7.2v7.3h-7.2zM104.2 83.7h7.2v7.3h-7.2zM143.8 90.4h7.2v7.3h-7.2zM295.5 97.1h7.2v7.3h-7.2zM335.1 97.1h7.2v7.3h-7.2zM117.4 103.8h7.2v7.3h-7.2zM163.6 103.8h7.2v7.3h-7.2zM249.3 103.8h7.2v7.3h-7.2zM77.8 110.5h7.2v7.3h-7.2zM236.1 110.5h7.2v7.3h-7.2zM315.3 110.5h7.2v7.3h-7.2zM51.4 117.2h7.2v7.3h-7.2zM58.0 117.2h7.2v7.3h-7.2zM64.6 117.2h7.2v7.3h-7.2zM84.4 130.7h7.2v7.3h-7.2zM143.8 130.7h7.2v7.3h-7.2zM308.7 130.7h7.2v7.3h-7.2zM229.5 137.4h7.2v7.3h-7.2zM374.7 137.4h7.2v7.3h-7.2zM381.3 137.4h7.2v7.3h-7.2zM387.9 137.4h7.2v7.3h-7.2zM163.6 150.8h7.2v7.3h-7.2zM223.0 157.5h7.2v7.3h-7.2zM236.1 157.5h7.2v7.3h-7.2zM216.4 170.9h7.2v7.3h-7.2zM335.1 177.6h7.2v7.3h-7.2zM341.7 177.6h7.2v7.3h-7.2zM124.0 184.3h7.2v7.3h-7.2zM51.4 191.0h7.2v7.3h-7.2zM58.0 191.0h7.2v7.3h-7.2zM64.6 191.0h7.2v7.3h-7.2zM196.6 191.0h7.2v7.3h-7.2zM249.3 197.8h7.2v7.3h-7.2zM368.1 204.5h7.2v7.3h-7.2zM203.2 211.2h7.2v7.3h-7.2zM328.5 231.3h7.2v7.3h-7.2zM150.4 238.0h7.2v7.3h-7.2zM124.0 251.4h7.2v7.3h-7.2zM183.4 251.4h7.2v7.3h-7.2zM348.3 258.2h7.2v7.3h-7.2zM71.2 264.9h7.2v7.3h-7.2zM335.1 264.9h7.2v7.3h-7.2zM361.5 264.9h7.2v7.3h-7.2zM209.8 285.0h7.2v7.3h-7.2zM242.7 285.0h7.2v7.3h-7.2zM190.0 291.7h7.2v7.3h-7.2zM216.4 298.4h7.2v7.3h-7.2zM71.2 305.1h7.2v7.3h-7.2zM190.0 305.1h7.2v7.3h-7.2zM374.7 311.8h7.2v7.3h-7.2zM381.3 311.8h7.2v7.3h-7.2zM387.9 311.8h7.2v7.3h-7.2zM295.5 318.5h7.2v7.3h-7.2zM368.1 318.5h7.2v7.3h-7.2zM288.9 325.3h7.2v7.3h-7.2zM249.3 332.0h7.2v7.3h-7.2zM282.3 338.7h7.2v7.3h-7.2z"/><path fill="#4a4a4a" d="M368.1 16.6h7.2v7.3h-7.2zM368.1 23.3h7.2v7.3h-7.2zM368.1 30.0h7.2v7.3h-7.2zM368.1 36.7h7.2v7.3h-7.2zM216.4 50.1h7.2v7.3h-7.2zM308.7 77.0h7.2v7.3h-7.2zM84.4 83.7h7.2v7.3h-7.2zM124.0 103.8h7.2v7.3h-7.2zM84.4 110.5h7.2v7.3h-7.2zM288.9 110.5h7.2v7.3h-7.2zM302.1 110.5h7.2v7.3h-7.2zM308.7 110.5h7.2v7.3h-7.2zM130.6 137.4h7.2v7.3h-7.2zM117.4 144.1h7.2v7.3h-7.2zM255.9 144.1h7.2v7.3h-7.2zM374.7 157.5h7.2v7.3h-7.2zM381.3 157.5h7.2v7.3h-7.2zM387.9 157.5h7.2v7.3h-7.2zM295.5 164.2h7.2v7.3h-7.2zM176.8 170.9h7.2v7.3h-7.2zM242.7 170.9h7.2v7.3h-7.2zM269.1 177.6h7.2v7.3h-7.2zM130.6 184.3h7.2v7.3h-7.2zM203.2 197.8h7.2v7.3h-7.2zM302.1 204.5h7.2v7.3h-7.2zM282.3 211.2h7.2v7.3h-7.2zM77.8 224.6h7.2v7.3h-7.2zM190.0 224.6h7.2v7.3h-7.2zM236.1 224.6h7.2v7.3h-7.2zM229.5 238.0h7.2v7.3h-7.2zM236.1 244.7h7.2v7.3h-7.2zM77.8 251.4h7.2v7.3h-7.2zM51.4 258.2h7.2v7.3h-7.2zM58.0 258.2h7.2v7.3h-7.2zM64.6 258.2h7.2v7.3h-7.2zM91.0 258.2h7.2v7.3h-7.2zM176.8 258.2h7.2v7.3h-7.2zM77.8 264.9h7.2v7.3h-7.2zM242.7 264.9h7.2v7.3h-7.2zM302.1 264.9h7.2v7.3h-7.2zM51.4 271.6h7.2v7.3h-7.2zM58.0 271.6h7.2v7.3h-7.2zM64.6 271.6h7.2v7.3h-7.2zM242.7 271.6h7.2v7.3h-7.2zM255.9 278.3h7.2v7.3h-7.2zM51.4 298.4h7.2v7.3h-7.2zM58.0 298.4h7.2v7.3h-7.2zM64.6 298.4h7.2v7.3h-7.2zM71.2 298.4h7.2v7.3h-7.2zM91.0 298.4h7.2v7.3h-7.2zM321.9 298.4h7.2v7.3h-7.2zM143.8 305.1h7.2v7.3h-7.2zM295.5 311.8h7.2v7.3h-7.2zM269.1 318.5h7.2v7.3h-7.2zM91.0 338.7h7.2v7.3h-7.2zM137.2 338.7h7.2v7.3h-7.2z"/><path fill="#4c4c4c" d="M51.4 16.6h7.2v7.3h-7.2zM58.0 16.6h7.2v7.3h-7.2zM64.6 16.6h7.2v7.3h-7.2zM71.2 16.6h7.2v7.3h-7.2zM51.4 23.3h7.2v7.3h-7.2zM58.0 23.3h7.2v7.3h-7.2zM64.6 23.3h7.2v7.3h-7.2zM71.2 23.3h7.2v7.3h-7.2zM51.4 30.0h7.2v7.3h-7.2zM58.0 30.0h7.2v7.3h-7.2zM64.6 30.0h7.2v7.3h-7.2zM71.2 30.0h7.2v7.3h-7.2zM97.6 83.7h7.2v7.3h-7.2zM71.2 97.1h7.2v7.3h-7.2zM130.6 97.1h7.2v7.3h-7.2zM190.0 97.1h7.2v7.3h-7.2zM249.3 97.1h7.2v7.3h-7.2zM255.9 97.1h7.2v7.3h-7.2zM302.1 103.8h7.2v7.3h-7.2zM321.9 103.8h7.2v7.3h-7.2zM288.9 117.2h7.2v7.3h-7.2zM348.3 117.2h7.2v7.3h-7.2zM137.2 123.9h7.2v7.3h-7.2zM282.3 123.9h7.2v7.3h-7.2zM110.8 130.7h7.2v7.3h-7.2zM77.8 137.4h7.2v7.3h-7.2zM302.1 137.4h7.2v7.3h-7.2zM368.1 144.1h7.2v7.3h-7.2zM77.8 150.8h7.2v7.3h-7.2zM374.7 150.8h7.2v7.3h-7.2zM381.3 150.8h7.2v7.3h-7.2zM387.9 150.8h7.2v7.3h-7.2zM170.2 157.5h7.2v7.3h-7.2zM150.4 164.2h7.2v7.3h-7.2zM354.9 170.9h7.2v7.3h-7.2zM203.2 177.6h7.2v7.3h-7.2zM163.6 184.3h7.2v7.3h-7.2zM183.4 184.3h7.2v7.3h-7.2zM209.8 191.0h7.2v7.3h-7.2zM269.1 197.8h7.2v7.3h-7.2zM361.5 197.8h7.2v7.3h-7.2zM130.6 204.5h7.2v7.3h-7.2zM163.6 204.5h7.2v7.3h-7.2zM315.3 204.5h7.2v7.3h-7.2zM130.6 217.9h7.2v7.3h-7.2zM223.0 217.9h7.2v7.3h-7.2zM104.2 224.6h7.2v7.3h-7.2zM183.4 224.6h7.2v7.3h-7.2zM84.4 231.3h7.2v7.3h-7.2zM157.0 238.0h7.2v7.3h-7.2zM302.1 238.0h7.2v7.3h-7.2zM368.1 238.0h7.2v7.3h-7.2zM71.2 251.4h7.2v7.3h-7.2zM190.0 251.4h7.2v7.3h-7.2zM288.9 251.4h7.2v7.3h-7.2zM71.2 258.2h7.2v7.3h-7.2zM51.4 264.9h7.2v7.3h-7.2zM58.0 264.9h7.2v7.3h-7.2zM64.6 264.9h7.2v7.3h-7.2zM110.8 278.3h7.2v7.3h-7.2zM203.2 285.0h7.2v7.3h-7.2zM315.3 285.0h7.2v7.3h-7.2zM223.0 298.4h7.2v7.3h-7.2zM302.1 298.4h7.2v7.3h-7.2zM335.1 298.4h7.2v7.3h-7.2zM183.4 305.1h7.2v7.3h-7.2zM275.7 311.8h7.2v7.3h-7.2zM176.8 318.5h7.2v7.3h-7.2zM255.9 325.3h7.2v7.3h-7.2zM288.9 332.0h7.2v7.3h-7.2zM242.7 345.4h7.2v7.3h-7.2zM288.9 345.4h7.2v7.3h-7.2zM348.3 345.4h7.2v7.3h-7.2zM242.7 352.1h7.2v7.3h-7.2zM288.9 352.1h7.2v7.3h-7.2zM348.3 352.1h7.2v7.3h-7.2zM242.7 358.8h7.2v7.3h-7.2zM288.9 358.8h7.2v7.3h-7.2zM348.3 358.8h7.2v7.3h-7.2z"/><path fill="#4e4e4e" d="M374.7 36.7h7.2v7.3h-7.2zM381.3 36.7h7.2v7.3h-7.2zM387.9 36.7h7.2v7.3h-7.2zM203.2 63.6h7.2v7.3h-7.2zM190.0 70.3h7.2v7.3h-7.2zM71.2 103.8h7.2v7.3h-7.2zM130.6 103.8h7.2v7.3h-7.2zM295.5 110.5h7.2v7.3h-7.2zM275.7 130.7h7.2v7.3h-7.2zM209.8 150.8h7.2v7.3h-7.2zM216.4 150.8h7.2v7.3h-7.2zM223.0 150.8h7.2v7.3h-7.2zM209.8 157.5h7.2v7.3h-7.2zM229.5 157.5h7.2v7.3h-7.2zM104.2 164.2h7.2v7.3h-7.2zM223.0 164.2h7.2v7.3h-7.2zM302.1 164.2h7.2v7.3h-7.2zM335.1 164.2h7.2v7.3h-7.2zM361.5 164.2h7.2v7.3h-7.2zM84.4 177.6h7.2v7.3h-7.2zM242.7 191.0h7.2v7.3h-7.2zM104.2 217.9h7.2v7.3h-7.2zM236.1 217.9h7.2v7.3h-7.2zM295.5 224.6h7.2v7.3h-7.2zM91.0 244.7h7.2v7.3h-7.2zM124.0 244.7h7.2v7.3h-7.2zM223.0 244.7h7.2v7.3h-7.2zM236.1 251.4h7.2v7.3h-7.2zM282.3 251.4h7.2v7.3h-7.2zM354.9 258.2h7.2v7.3h-7.2zM77.8 271.6h7.2v7.3h-7.2zM110.8 271.6h7.2v7.3h-7.2zM203.2 271.6h7.2v7.3h-7.2zM71.2 278.3h7.2v7.3h-7.2zM209.8 278.3h7.2v7.3h-7.2zM315.3 278.3h7.2v7.3h-7.2zM157.0 285.0h7.2v7.3h-7.2zM308.7 285.0h7.2v7.3h-7.2zM216.4 291.7h7.2v7.3h-7.2zM308.7 291.7h7.2v7.3h-7.2zM315.3 291.7h7.2v7.3h-7.2zM341.7 291.7h7.2v7.3h-7.2zM361.5 291.7h7.2v7.3h-7.2zM143.8 298.4h7.2v7.3h-7.2zM229.5 298.4h7.2v7.3h-7.2zM216.4 305.1h7.2v7.3h-7.2zM71.2 311.8h7.2v7.3h-7.2zM117.4 318.5h7.2v7.3h-7.2zM368.1 325.3h7.2v7.3h-7.2zM137.2 332.0h7.2v7.3h-7.2z"/><path fill="#505050" d="M236.1 70.3h7.2v7.3h-7.2zM288.9 77.0h7.2v7.3h-7.2zM288.9 83.7h7.2v7.3h-7.2zM328.5 97.1h7.2v7.3h-7.2zM51.4 103.8h7.2v7.3h-7.2zM58.0 103.8h7.2v7.3h-7.2zM64.6 103.8h7.2v7.3h-7.2zM97.6 103.8h7.2v7.3h-7.2zM71.2 110.5h7.2v7.3h-7.2zM354.9 137.4h7.2v7.3h-7.2zM223.0 144.1h7.2v7.3h-7.2zM262.5 144.1h7.2v7.3h-7.2zM374.7 144.1h7.2v7.3h-7.2zM381.3 144.1h7.2v7.3h-7.2zM387.9 144.1h7.2v7.3h-7.2zM143.8 150.8h7.2v7.3h-7.2zM328.5 150.8h7.2v7.3h-7.2zM335.1 150.8h7.2v7.3h-7.2zM255.9 157.5h7.2v7.3h-7.2zM328.5 170.9h7.2v7.3h-7.2zM348.3 177.6h7.2v7.3h-7.2zM91.0 184.3h7.2v7.3h-7.2zM321.9 191.0h7.2v7.3h-7.2zM315.3 197.8h7.2v7.3h-7.2zM203.2 204.5h7.2v7.3h-7.2zM170.2 217.9h7.2v7.3h-7.2zM203.2 217.9h7.2v7.3h-7.2zM288.9 224.6h7.2v7.3h-7.2zM130.6 231.3h7.2v7.3h-7.2zM143.8 231.3h7.2v7.3h-7.2zM229.5 231.3h7.2v7.3h-7.2zM361.5 238.0h7.2v7.3h-7.2zM308.7 244.7h7.2v7.3h-7.2zM368.1 251.4h7.2v7.3h-7.2zM374.7 251.4h7.2v7.3h-7.2zM381.3 251.4h7.2v7.3h-7.2zM387.9 251.4h7.2v7.3h-7.2zM150.4 258.2h7.2v7.3h-7.2zM176.8 264.9h7.2v7.3h-7.2zM236.1 264.9h7.2v7.3h-7.2zM374.7 264.9h7.2v7.3h-7.2zM381.3 264.9h7.2v7.3h-7.2zM387.9 264.9h7.2v7.3h-7.2zM255.9 271.6h7.2v7.3h-7.2zM308.7 271.6h7.2v7.3h-7.2zM328.5 271.6h7.2v7.3h-7.2zM354.9 291.7h7.2v7.3h-7.2zM77.8 298.4h7.2v7.3h-7.2zM84.4 298.4h7.2v7.3h-7.2zM196.6 305.1h7.2v7.3h-7.2zM104.2 311.8h7.2v7.3h-7.2zM71.2 318.5h7.2v7.3h-7.2zM143.8 318.5h7.2v7.3h-7.2zM157.0 332.0h7.2v7.3h-7.2zM130.6 345.4h7.2v7.3h-7.2zM341.7 345.4h7.2v7.3h-7.2zM130.6 352.1h7.2v7.3h-7.2zM341.7 352.1h7.2v7.3h-7.2zM130.6 358.8h7.2v7.3h-7.2zM341.7 358.8h7.2v7.3h-7.2z"/><path fill="#525252" d="M229.5 70.3h7.2v7.3h-7.2zM110.8 83.7h7.2v7.3h-7.2zM137.2 103.8h7.2v7.3h-7.2zM124.0 110.5h7.2v7.3h-7.2zM130.6 117.2h7.2v7.3h-7.2zM341.7 117.2h7.2v7.3h-7.2zM157.0 137.4h7.2v7.3h-7.2zM183.4 137.4h7.2v7.3h-7.2zM104.2 144.1h7.2v7.3h-7.2zM124.0 144.1h7.2v7.3h-7.2zM295.5 150.8h7.2v7.3h-7.2zM321.9 157.5h7.2v7.3h-7.2zM84.4 170.9h7.2v7.3h-7.2zM124.0 177.6h7.2v7.3h-7.2zM216.4 177.6h7.2v7.3h-7.2zM196.6 184.3h7.2v7.3h-7.2zM163.6 191.0h7.2v7.3h-7.2zM209.8 197.8h7.2v7.3h-7.2zM361.5 204.5h7.2v7.3h-7.2zM117.4 217.9h7.2v7.3h-7.2zM124.0 217.9h7.2v7.3h-7.2zM282.3 217.9h7.2v7.3h-7.2zM176.8 224.6h7.2v7.3h-7.2zM91.0 238.0h7.2v7.3h-7.2zM236.1 238.0h7.2v7.3h-7.2zM176.8 251.4h7.2v7.3h-7.2zM77.8 258.2h7.2v7.3h-7.2zM335.1 258.2h7.2v7.3h-7.2zM110.8 264.9h7.2v7.3h-7.2zM150.4 264.9h7.2v7.3h-7.2zM203.2 264.9h7.2v7.3h-7.2zM150.4 271.6h7.2v7.3h-7.2zM196.6 271.6h7.2v7.3h-7.2zM51.4 278.3h7.2v7.3h-7.2zM58.0 278.3h7.2v7.3h-7.2zM64.6 278.3h7.2v7.3h-7.2zM157.0 291.7h7.2v7.3h-7.2zM150.4 298.4h7.2v7.3h-7.2zM223.0 305.1h7.2v7.3h-7.2zM51.4 318.5h7.2v7.3h-7.2zM58.0 318.5h7.2v7.3h-7.2zM64.6 318.5h7.2v7.3h-7.2zM262.5 318.5h7.2v7.3h-7.2zM361.5 318.5h7.2v7.3h-7.2zM361.5 325.3h7.2v7.3h-7.2z"/><path fill="#545454" d="M374.7 16.6h7.2v7.3h-7.2zM381.3 16.6h7.2v7.3h-7.2zM387.9 16.6h7.2v7.3h-7.2zM374.7 23.3h7.2v7.3h-7.2zM381.3 23.3h7.2v7.3h-7.2zM387.9 23.3h7.2v7.3h-7.2zM374.7 30.0h7.2v7.3h-7.2zM381.3 30.0h7.2v7.3h-7.2zM387.9 30.0h7.2v7.3h-7.2zM110.8 77.0h7.2v7.3h-7.2zM91.0 83.7h7.2v7.3h-7.2zM315.3 83.7h7.2v7.3h-7.2zM137.2 97.1h7.2v7.3h-7.2zM150.4 97.1h7.2v7.3h-7.2zM321.9 97.1h7.2v7.3h-7.2zM223.0 103.8h7.2v7.3h-7.2zM229.5 110.5h7.2v7.3h-7.2zM91.0 130.7h7.2v7.3h-7.2zM183.4 130.7h7.2v7.3h-7.2zM368.1 137.4h7.2v7.3h-7.2zM77.8 144.1h7.2v7.3h-7.2zM84.4 164.2h7.2v7.3h-7.2zM203.2 164.2h7.2v7.3h-7.2zM288.9 164.2h7.2v7.3h-7.2zM130.6 177.6h7.2v7.3h-7.2zM315.3 191.0h7.2v7.3h-7.2zM163.6 197.8h7.2v7.3h-7.2zM255.9 204.5h7.2v7.3h-7.2zM262.5 204.5h7.2v7.3h-7.2zM288.9 211.2h7.2v7.3h-7.2zM137.2 224.6h7.2v7.3h-7.2zM104.2 231.3h7.2v7.3h-7.2zM124.0 231.3h7.2v7.3h-7.2zM137.2 231.3h7.2v7.3h-7.2zM150.4 231.3h7.2v7.3h-7.2zM295.5 231.3h7.2v7.3h-7.2zM124.0 238.0h7.2v7.3h-7.2zM223.0 238.0h7.2v7.3h-7.2zM157.0 244.7h7.2v7.3h-7.2zM361.5 244.7h7.2v7.3h-7.2zM84.4 258.2h7.2v7.3h-7.2zM275.7 258.2h7.2v7.3h-7.2zM368.1 264.9h7.2v7.3h-7.2zM203.2 278.3h7.2v7.3h-7.2zM368.1 285.0h7.2v7.3h-7.2zM374.7 285.0h7.2v7.3h-7.2zM381.3 285.0h7.2v7.3h-7.2zM387.9 285.0h7.2v7.3h-7.2zM104.2 291.7h7.2v7.3h-7.2zM183.4 291.7h7.2v7.3h-7.2zM315.3 298.4h7.2v7.3h-7.2zM209.8 305.1h7.2v7.3h-7.2zM335.1 305.1h7.2v7.3h-7.2zM150.4 338.7h7.2v7.3h-7.2zM288.9 338.7h7.2v7.3h-7.2z"/><path fill="#565656" d="M209.8 63.6h7.2v7.3h-7.2zM223.0 70.3h7.2v7.3h-7.2zM104.2 90.4h7.2v7.3h-7.2zM321.9 90.4h7.2v7.3h-7.2zM143.8 103.8h7.2v7.3h-7.2zM51.4 110.5h7.2v7.3h-7.2zM58.0 110.5h7.2v7.3h-7.2zM64.6 110.5h7.2v7.3h-7.2zM229.5 117.2h7.2v7.3h-7.2zM341.7 123.9h7.2v7.3h-7.2zM190.0 130.7h7.2v7.3h-7.2zM302.1 130.7h7.2v7.3h-7.2zM196.6 137.4h7.2v7.3h-7.2zM269.1 137.4h7.2v7.3h-7.2zM137.2 144.1h7.2v7.3h-7.2zM163.6 144.1h7.2v7.3h-7.2zM196.6 144.1h7.2v7.3h-7.2zM255.9 150.8h7.2v7.3h-7.2zM97.6 157.5h7.2v7.3h-7.2zM236.1 164.2h7.2v7.3h-7.2zM203.2 170.9h7.2v7.3h-7.2zM236.1 177.6h7.2v7.3h-7.2zM137.2 197.8h7.2v7.3h-7.2zM269.1 204.5h7.2v7.3h-7.2zM275.7 204.5h7.2v7.3h-7.2zM223.0 211.2h7.2v7.3h-7.2zM229.5 211.2h7.2v7.3h-7.2zM110.8 217.9h7.2v7.3h-7.2zM196.6 224.6h7.2v7.3h-7.2zM223.0 224.6h7.2v7.3h-7.2zM91.0 231.3h7.2v7.3h-7.2zM110.8 231.3h7.2v7.3h-7.2zM236.1 231.3h7.2v7.3h-7.2zM335.1 238.0h7.2v7.3h-7.2zM374.7 238.0h7.2v7.3h-7.2zM381.3 238.0h7.2v7.3h-7.2zM387.9 238.0h7.2v7.3h-7.2zM335.1 244.7h7.2v7.3h-7.2zM361.5 251.4h7.2v7.3h-7.2zM97.6 258.2h7.2v7.3h-7.2zM374.7 258.2h7.2v7.3h-7.2zM381.3 258.2h7.2v7.3h-7.2zM387.9 258.2h7.2v7.3h-7.2zM209.8 271.6h7.2v7.3h-7.2zM321.9 271.6h7.2v7.3h-7.2zM51.4 285.0h7.2v7.3h-7.2zM58.0 285.0h7.2v7.3h-7.2zM64.6 285.0h7.2v7.3h-7.2zM216.4 285.0h7.2v7.3h-7.2zM71.2 291.7h7.2v7.3h-7.2zM223.0 291.7h7.2v7.3h-7.2zM348.3 291.7h7.2v7.3h-7.2zM308.7 298.4h7.2v7.3h-7.2zM51.4 305.1h7.2v7.3h-7.2zM58.0 305.1h7.2v7.3h-7.2zM64.6 305.1h7.2v7.3h-7.2zM203.2 305.1h7.2v7.3h-7.2zM328.5 305.1h7.2v7.3h-7.2zM368.1 311.8h7.2v7.3h-7.2zM117.4 325.3h7.2v7.3h-7.2zM295.5 325.3h7.2v7.3h-7.2zM242.7 332.0h7.2v7.3h-7.2zM124.0 338.7h7.2v7.3h-7.2zM143.8 338.7h7.2v7.3h-7.2zM348.3 338.7h7.2v7.3h-7.2z"/><path fill="#585858" d="M236.1 50.1h7.2v7.3h-7.2zM104.2 77.0h7.2v7.3h-7.2zM190.0 90.4h7.2v7.3h-7.2zM295.5 90.4h7.2v7.3h-7.2zM302.1 97.1h7.2v7.3h-7.2zM315.3 97.1h7.2v7.3h-7.2zM308.7 103.8h7.2v7.3h-7.2zM315.3 103.8h7.2v7.3h-7.2zM288.9 123.9h7.2v7.3h-7.2zM354.9 123.9h7.2v7.3h-7.2zM150.4 130.7h7.2v7.3h-7.2zM361.5 137.4h7.2v7.3h-7.2zM176.8 144.1h7.2v7.3h-7.2zM183.4 144.1h7.2v7.3h-7.2zM190.0 144.1h7.2v7.3h-7.2zM143.8 157.5h7.2v7.3h-7.2zM282.3 157.5h7.2v7.3h-7.2zM335.1 157.5h7.2v7.3h-7.2zM176.8 164.2h7.2v7.3h-7.2zM262.5 164.2h7.2v7.3h-7.2zM308.7 164.2h7.2v7.3h-7.2zM117.4 170.9h7.2v7.3h-7.2zM124.0 170.9h7.2v7.3h-7.2zM223.0 170.9h7.2v7.3h-7.2zM361.5 170.9h7.2v7.3h-7.2zM328.5 177.6h7.2v7.3h-7.2zM163.6 211.2h7.2v7.3h-7.2zM137.2 217.9h7.2v7.3h-7.2zM97.6 231.3h7.2v7.3h-7.2zM117.4 238.0h7.2v7.3h-7.2zM295.5 251.4h7.2v7.3h-7.2zM223.0 258.2h7.2v7.3h-7.2zM361.5 258.2h7.2v7.3h-7.2zM368.1 258.2h7.2v7.3h-7.2zM84.4 264.9h7.2v7.3h-7.2zM249.3 264.9h7.2v7.3h-7.2zM183.4 271.6h7.2v7.3h-7.2zM190.0 271.6h7.2v7.3h-7.2zM104.2 285.0h7.2v7.3h-7.2zM196.6 285.0h7.2v7.3h-7.2zM275.7 305.1h7.2v7.3h-7.2zM110.8 311.8h7.2v7.3h-7.2zM104.2 318.5h7.2v7.3h-7.2zM354.9 318.5h7.2v7.3h-7.2zM157.0 325.3h7.2v7.3h-7.2zM97.6 332.0h7.2v7.3h-7.2zM341.7 338.7h7.2v7.3h-7.2zM91.0 345.4h7.2v7.3h-7.2zM354.9 345.4h7.2v7.3h-7.2zM91.0 352.1h7.2v7.3h-7.2zM354.9 352.1h7.2v7.3h-7.2zM91.0 358.8h7.2v7.3h-7.2zM354.9 358.8h7.2v7.3h-7.2z"/><path fill="#5a5a5a" d="M216.4 70.3h7.2v7.3h-7.2zM295.5 77.0h7.2v7.3h-7.2zM302.1 77.0h7.2v7.3h-7.2zM295.5 83.7h7.2v7.3h-7.2zM176.8 110.5h7.2v7.3h-7.2zM295.5 117.2h7.2v7.3h-7.2zM302.1 117.2h7.2v7.3h-7.2zM229.5 123.9h7.2v7.3h-7.2zM308.7 123.9h7.2v7.3h-7.2zM229.5 130.7h7.2v7.3h-7.2zM361.5 130.7h7.2v7.3h-7.2zM223.0 137.4h7.2v7.3h-7.2zM269.1 144.1h7.2v7.3h-7.2zM124.0 150.8h7.2v7.3h-7.2zM124.0 164.2h7.2v7.3h-7.2zM229.5 164.2h7.2v7.3h-7.2zM190.0 184.3h7.2v7.3h-7.2zM216.4 184.3h7.2v7.3h-7.2zM321.9 184.3h7.2v7.3h-7.2zM361.5 191.0h7.2v7.3h-7.2zM295.5 217.9h7.2v7.3h-7.2zM130.6 224.6h7.2v7.3h-7.2zM117.4 231.3h7.2v7.3h-7.2zM163.6 244.7h7.2v7.3h-7.2zM157.0 251.4h7.2v7.3h-7.2zM275.7 251.4h7.2v7.3h-7.2zM335.1 251.4h7.2v7.3h-7.2zM84.4 271.6h7.2v7.3h-7.2zM77.8 278.3h7.2v7.3h-7.2zM236.1 278.3h7.2v7.3h-7.2zM71.2 285.0h7.2v7.3h-7.2zM176.8 298.4h7.2v7.3h-7.2zM229.5 305.1h7.2v7.3h-7.2zM170.2 311.8h7.2v7.3h-7.2zM157.0 318.5h7.2v7.3h-7.2z"/><path fill="#5c5c5c" d="M216.4 77.0h7.2v7.3h-7.2zM302.1 90.4h7.2v7.3h-7.2zM308.7 90.4h7.2v7.3h-7.2zM143.8 97.1h7.2v7.3h-7.2zM143.8 110.5h7.2v7.3h-7.2zM183.4 110.5h7.2v7.3h-7.2zM190.0 110.5h7.2v7.3h-7.2zM282.3 130.7h7.2v7.3h-7.2zM110.8 137.4h7.2v7.3h-7.2zM295.5 144.1h7.2v7.3h-7.2zM170.2 150.8h7.2v7.3h-7.2zM84.4 157.5h7.2v7.3h-7.2zM328.5 164.2h7.2v7.3h-7.2zM236.1 170.9h7.2v7.3h-7.2zM269.1 170.9h7.2v7.3h-7.2zM275.7 184.3h7.2v7.3h-7.2zM275.7 191.0h7.2v7.3h-7.2zM308.7 191.0h7.2v7.3h-7.2zM354.9 197.8h7.2v7.3h-7.2zM249.3 204.5h7.2v7.3h-7.2zM236.1 211.2h7.2v7.3h-7.2zM275.7 211.2h7.2v7.3h-7.2zM335.1 231.3h7.2v7.3h-7.2zM216.4 238.0h7.2v7.3h-7.2zM97.6 244.7h7.2v7.3h-7.2zM328.5 251.4h7.2v7.3h-7.2zM275.7 264.9h7.2v7.3h-7.2zM315.3 271.6h7.2v7.3h-7.2zM77.8 291.7h7.2v7.3h-7.2zM97.6 291.7h7.2v7.3h-7.2zM368.1 305.1h7.2v7.3h-7.2zM374.7 305.1h7.2v7.3h-7.2zM381.3 305.1h7.2v7.3h-7.2zM387.9 305.1h7.2v7.3h-7.2zM51.4 311.8h7.2v7.3h-7.2zM58.0 311.8h7.2v7.3h-7.2zM64.6 311.8h7.2v7.3h-7.2zM163.6 311.8h7.2v7.3h-7.2zM183.4 325.3h7.2v7.3h-7.2zM354.9 325.3h7.2v7.3h-7.2zM295.5 345.4h7.2v7.3h-7.2zM295.5 352.1h7.2v7.3h-7.2zM295.5 358.8h7.2v7.3h-7.2z"/><path fill="#5e5e5e" d="M223.0 50.1h7.2v7.3h-7.2zM216.4 56.8h7.2v7.3h-7.2zM216.4 90.4h7.2v7.3h-7.2zM315.3 90.4h7.2v7.3h-7.2zM308.7 97.1h7.2v7.3h-7.2zM157.0 103.8h7.2v7.3h-7.2zM150.4 110.5h7.2v7.3h-7.2zM170.2 110.5h7.2v7.3h-7.2zM348.3 130.7h7.2v7.3h-7.2zM130.6 144.1h7.2v7.3h-7.2zM170.2 144.1h7.2v7.3h-7.2zM203.2 144.1h7.2v7.3h-7.2zM97.6 150.8h7.2v7.3h-7.2zM183.4 150.8h7.2v7.3h-7.2zM203.2 150.8h7.2v7.3h-7.2zM328.5 157.5h7.2v7.3h-7.2zM130.6 170.9h7.2v7.3h-7.2zM150.4 170.9h7.2v7.3h-7.2zM157.0 177.6h7.2v7.3h-7.2zM183.4 177.6h7.2v7.3h-7.2zM196.6 177.6h7.2v7.3h-7.2zM354.9 177.6h7.2v7.3h-7.2zM117.4 184.3h7.2v7.3h-7.2zM315.3 184.3h7.2v7.3h-7.2zM335.1 184.3h7.2v7.3h-7.2zM341.7 184.3h7.2v7.3h-7.2zM242.7 197.8h7.2v7.3h-7.2zM275.7 197.8h7.2v7.3h-7.2zM209.8 204.5h7.2v7.3h-7.2zM110.8 224.6h7.2v7.3h-7.2zM124.0 224.6h7.2v7.3h-7.2zM143.8 224.6h7.2v7.3h-7.2zM335.1 224.6h7.2v7.3h-7.2zM223.0 231.3h7.2v7.3h-7.2zM374.7 231.3h7.2v7.3h-7.2zM381.3 231.3h7.2v7.3h-7.2zM387.9 231.3h7.2v7.3h-7.2zM117.4 244.7h7.2v7.3h-7.2zM216.4 244.7h7.2v7.3h-7.2zM341.7 251.4h7.2v7.3h-7.2zM354.9 251.4h7.2v7.3h-7.2zM242.7 258.2h7.2v7.3h-7.2zM236.1 271.6h7.2v7.3h-7.2zM157.0 278.3h7.2v7.3h-7.2zM216.4 278.3h7.2v7.3h-7.2zM255.9 285.0h7.2v7.3h-7.2zM368.1 298.4h7.2v7.3h-7.2zM150.4 305.1h7.2v7.3h-7.2zM190.0 311.8h7.2v7.3h-7.2zM269.1 311.8h7.2v7.3h-7.2zM104.2 325.3h7.2v7.3h-7.2zM143.8 325.3h7.2v7.3h-7.2zM249.3 325.3h7.2v7.3h-7.2zM183.4 332.0h7.2v7.3h-7.2zM295.5 332.0h7.2v7.3h-7.2zM354.9 338.7h7.2v7.3h-7.2zM335.1 345.4h7.2v7.3h-7.2zM335.1 352.1h7.2v7.3h-7.2zM335.1 358.8h7.2v7.3h-7.2z"/><path fill="#606060" d="M242.7 56.8h7.2v7.3h-7.2zM216.4 63.6h7.2v7.3h-7.2zM196.6 70.3h7.2v7.3h-7.2zM190.0 77.0h7.2v7.3h-7.2zM77.8 103.8h7.2v7.3h-7.2zM130.6 110.5h7.2v7.3h-7.2zM137.2 110.5h7.2v7.3h-7.2zM223.0 110.5h7.2v7.3h-7.2zM295.5 123.9h7.2v7.3h-7.2zM176.8 150.8h7.2v7.3h-7.2zM143.8 164.2h7.2v7.3h-7.2zM321.9 164.2h7.2v7.3h-7.2zM374.7 164.2h7.2v7.3h-7.2zM381.3 164.2h7.2v7.3h-7.2zM387.9 164.2h7.2v7.3h-7.2zM97.6 184.3h7.2v7.3h-7.2zM328.5 184.3h7.2v7.3h-7.2zM368.1 184.3h7.2v7.3h-7.2zM137.2 191.0h7.2v7.3h-7.2zM354.9 211.2h7.2v7.3h-7.2zM242.7 224.6h7.2v7.3h-7.2zM302.1 224.6h7.2v7.3h-7.2zM328.5 224.6h7.2v7.3h-7.2zM110.8 238.0h7.2v7.3h-7.2zM163.6 238.0h7.2v7.3h-7.2zM242.7 244.7h7.2v7.3h-7.2zM282.3 244.7h7.2v7.3h-7.2zM302.1 244.7h7.2v7.3h-7.2zM97.6 251.4h7.2v7.3h-7.2zM348.3 251.4h7.2v7.3h-7.2zM117.4 258.2h7.2v7.3h-7.2zM302.1 258.2h7.2v7.3h-7.2zM229.5 264.9h7.2v7.3h-7.2zM104.2 278.3h7.2v7.3h-7.2zM275.7 285.0h7.2v7.3h-7.2zM229.5 291.7h7.2v7.3h-7.2zM249.3 291.7h7.2v7.3h-7.2zM368.1 291.7h7.2v7.3h-7.2zM157.0 298.4h7.2v7.3h-7.2zM302.1 305.1h7.2v7.3h-7.2zM150.4 311.8h7.2v7.3h-7.2zM302.1 318.5h7.2v7.3h-7.2zM209.8 325.3h7.2v7.3h-7.2zM302.1 325.3h7.2v7.3h-7.2zM117.4 332.0h7.2v7.3h-7.2zM97.6 338.7h7.2v7.3h-7.2zM236.1 338.7h7.2v7.3h-7.2zM295.5 338.7h7.2v7.3h-7.2zM335.1 338.7h7.2v7.3h-7.2z"/><path fill="#626262" d="M209.8 70.3h7.2v7.3h-7.2zM302.1 83.7h7.2v7.3h-7.2zM104.2 97.1h7.2v7.3h-7.2zM196.6 103.8h7.2v7.3h-7.2zM196.6 110.5h7.2v7.3h-7.2zM143.8 123.9h7.2v7.3h-7.2zM104.2 130.7h7.2v7.3h-7.2zM295.5 130.7h7.2v7.3h-7.2zM295.5 137.4h7.2v7.3h-7.2zM124.0 157.5h7.2v7.3h-7.2zM315.3 164.2h7.2v7.3h-7.2zM229.5 170.9h7.2v7.3h-7.2zM236.1 184.3h7.2v7.3h-7.2zM374.7 184.3h7.2v7.3h-7.2zM381.3 184.3h7.2v7.3h-7.2zM387.9 184.3h7.2v7.3h-7.2zM328.5 191.0h7.2v7.3h-7.2zM216.4 204.5h7.2v7.3h-7.2zM242.7 204.5h7.2v7.3h-7.2zM282.3 204.5h7.2v7.3h-7.2zM354.9 204.5h7.2v7.3h-7.2zM216.4 211.2h7.2v7.3h-7.2zM315.3 211.2h7.2v7.3h-7.2zM361.5 211.2h7.2v7.3h-7.2zM282.3 224.6h7.2v7.3h-7.2zM97.6 238.0h7.2v7.3h-7.2zM170.2 251.4h7.2v7.3h-7.2zM242.7 251.4h7.2v7.3h-7.2zM321.9 251.4h7.2v7.3h-7.2zM275.7 271.6h7.2v7.3h-7.2zM77.8 285.0h7.2v7.3h-7.2zM84.4 291.7h7.2v7.3h-7.2zM163.6 291.7h7.2v7.3h-7.2zM176.8 291.7h7.2v7.3h-7.2zM341.7 298.4h7.2v7.3h-7.2zM361.5 298.4h7.2v7.3h-7.2zM321.9 305.1h7.2v7.3h-7.2zM196.6 311.8h7.2v7.3h-7.2zM255.9 318.5h7.2v7.3h-7.2zM143.8 332.0h7.2v7.3h-7.2zM209.8 332.0h7.2v7.3h-7.2zM183.4 338.7h7.2v7.3h-7.2zM183.4 345.4h7.2v7.3h-7.2zM183.4 352.1h7.2v7.3h-7.2zM183.4 358.8h7.2v7.3h-7.2z"/><path fill="#646464" d="M229.5 50.1h7.2v7.3h-7.2zM190.0 83.7h7.2v7.3h-7.2zM216.4 83.7h7.2v7.3h-7.2zM77.8 97.1h7.2v7.3h-7.2zM196.6 97.1h7.2v7.3h-7.2zM216.4 97.1h7.2v7.3h-7.2zM91.0 103.8h7.2v7.3h-7.2zM150.4 103.8h7.2v7.3h-7.2zM302.1 123.9h7.2v7.3h-7.2zM97.6 130.7h7.2v7.3h-7.2zM196.6 130.7h7.2v7.3h-7.2zM288.9 130.7h7.2v7.3h-7.2zM163.6 137.4h7.2v7.3h-7.2zM216.4 144.1h7.2v7.3h-7.2zM288.9 150.8h7.2v7.3h-7.2zM176.8 157.5h7.2v7.3h-7.2zM368.1 164.2h7.2v7.3h-7.2zM137.2 177.6h7.2v7.3h-7.2zM275.7 177.6h7.2v7.3h-7.2zM361.5 184.3h7.2v7.3h-7.2zM302.1 191.0h7.2v7.3h-7.2zM321.9 197.8h7.2v7.3h-7.2zM137.2 204.5h7.2v7.3h-7.2zM242.7 211.2h7.2v7.3h-7.2zM308.7 211.2h7.2v7.3h-7.2zM368.1 211.2h7.2v7.3h-7.2zM374.7 211.2h7.2v7.3h-7.2zM381.3 211.2h7.2v7.3h-7.2zM387.9 211.2h7.2v7.3h-7.2zM242.7 217.9h7.2v7.3h-7.2zM361.5 217.9h7.2v7.3h-7.2zM117.4 224.6h7.2v7.3h-7.2zM203.2 224.6h7.2v7.3h-7.2zM374.7 224.6h7.2v7.3h-7.2zM381.3 224.6h7.2v7.3h-7.2zM387.9 224.6h7.2v7.3h-7.2zM275.7 244.7h7.2v7.3h-7.2zM196.6 251.4h7.2v7.3h-7.2zM104.2 264.9h7.2v7.3h-7.2zM176.8 271.6h7.2v7.3h-7.2zM216.4 271.6h7.2v7.3h-7.2zM262.5 278.3h7.2v7.3h-7.2zM275.7 278.3h7.2v7.3h-7.2zM91.0 291.7h7.2v7.3h-7.2zM236.1 298.4h7.2v7.3h-7.2zM176.8 305.1h7.2v7.3h-7.2zM176.8 311.8h7.2v7.3h-7.2zM150.4 318.5h7.2v7.3h-7.2zM348.3 318.5h7.2v7.3h-7.2zM150.4 332.0h7.2v7.3h-7.2z"/><path fill="#666666" d="M308.7 83.7h7.2v7.3h-7.2zM348.3 123.9h7.2v7.3h-7.2zM354.9 130.7h7.2v7.3h-7.2zM282.3 150.8h7.2v7.3h-7.2zM203.2 157.5h7.2v7.3h-7.2zM262.5 157.5h7.2v7.3h-7.2zM110.8 170.9h7.2v7.3h-7.2zM117.4 177.6h7.2v7.3h-7.2zM361.5 177.6h7.2v7.3h-7.2zM137.2 184.3h7.2v7.3h-7.2zM348.3 184.3h7.2v7.3h-7.2zM216.4 191.0h7.2v7.3h-7.2zM354.9 191.0h7.2v7.3h-7.2zM137.2 211.2h7.2v7.3h-7.2zM216.4 217.9h7.2v7.3h-7.2zM335.1 217.9h7.2v7.3h-7.2zM170.2 224.6h7.2v7.3h-7.2zM321.9 224.6h7.2v7.3h-7.2zM341.7 224.6h7.2v7.3h-7.2zM354.9 238.0h7.2v7.3h-7.2zM170.2 244.7h7.2v7.3h-7.2zM117.4 251.4h7.2v7.3h-7.2zM302.1 251.4h7.2v7.3h-7.2zM104.2 258.2h7.2v7.3h-7.2zM157.0 258.2h7.2v7.3h-7.2zM328.5 258.2h7.2v7.3h-7.2zM328.5 264.9h7.2v7.3h-7.2zM196.6 278.3h7.2v7.3h-7.2zM163.6 285.0h7.2v7.3h-7.2zM236.1 285.0h7.2v7.3h-7.2zM242.7 291.7h7.2v7.3h-7.2zM275.7 291.7h7.2v7.3h-7.2zM157.0 311.8h7.2v7.3h-7.2zM183.4 311.8h7.2v7.3h-7.2zM302.1 311.8h7.2v7.3h-7.2zM354.9 332.0h7.2v7.3h-7.2zM374.7 332.0h7.2v7.3h-7.2zM381.3 332.0h7.2v7.3h-7.2zM387.9 332.0h7.2v7.3h-7.2zM328.5 338.7h7.2v7.3h-7.2zM97.6 345.4h7.2v7.3h-7.2zM97.6 352.1h7.2v7.3h-7.2zM97.6 358.8h7.2v7.3h-7.2z"/><path fill="#686868" d="M242.7 63.6h7.2v7.3h-7.2zM203.2 70.3h7.2v7.3h-7.2zM84.4 90.4h7.2v7.3h-7.2zM137.2 117.2h7.2v7.3h-7.2zM223.0 117.2h7.2v7.3h-7.2zM190.0 123.9h7.2v7.3h-7.2zM275.7 137.4h7.2v7.3h-7.2zM209.8 144.1h7.2v7.3h-7.2zM137.2 150.8h7.2v7.3h-7.2zM190.0 150.8h7.2v7.3h-7.2zM275.7 150.8h7.2v7.3h-7.2zM269.1 164.2h7.2v7.3h-7.2zM282.3 164.2h7.2v7.3h-7.2zM321.9 170.9h7.2v7.3h-7.2zM223.0 177.6h7.2v7.3h-7.2zM321.9 177.6h7.2v7.3h-7.2zM354.9 184.3h7.2v7.3h-7.2zM216.4 197.8h7.2v7.3h-7.2zM295.5 197.8h7.2v7.3h-7.2zM236.1 204.5h7.2v7.3h-7.2zM295.5 204.5h7.2v7.3h-7.2zM321.9 204.5h7.2v7.3h-7.2zM209.8 211.2h7.2v7.3h-7.2zM295.5 211.2h7.2v7.3h-7.2zM348.3 211.2h7.2v7.3h-7.2zM368.1 224.6h7.2v7.3h-7.2zM157.0 231.3h7.2v7.3h-7.2zM190.0 231.3h7.2v7.3h-7.2zM341.7 231.3h7.2v7.3h-7.2zM104.2 238.0h7.2v7.3h-7.2zM288.9 244.7h7.2v7.3h-7.2zM354.9 244.7h7.2v7.3h-7.2zM163.6 251.4h7.2v7.3h-7.2zM216.4 251.4h7.2v7.3h-7.2zM110.8 258.2h7.2v7.3h-7.2zM170.2 258.2h7.2v7.3h-7.2zM203.2 258.2h7.2v7.3h-7.2zM190.0 285.0h7.2v7.3h-7.2zM275.7 298.4h7.2v7.3h-7.2zM157.0 305.1h7.2v7.3h-7.2zM236.1 305.1h7.2v7.3h-7.2zM341.7 305.1h7.2v7.3h-7.2zM223.0 311.8h7.2v7.3h-7.2zM341.7 311.8h7.2v7.3h-7.2zM110.8 318.5h7.2v7.3h-7.2zM183.4 318.5h7.2v7.3h-7.2zM150.4 325.3h7.2v7.3h-7.2zM203.2 332.0h7.2v7.3h-7.2zM216.4 332.0h7.2v7.3h-7.2zM321.9 332.0h7.2v7.3h-7.2zM328.5 332.0h7.2v7.3h-7.2zM361.5 332.0h7.2v7.3h-7.2zM203.2 338.7h7.2v7.3h-7.2zM209.8 338.7h7.2v7.3h-7.2zM124.0 345.4h7.2v7.3h-7.2zM203.2 345.4h7.2v7.3h-7.2zM209.8 345.4h7.2v7.3h-7.2zM361.5 345.4h7.2v7.3h-7.2zM124.0 352.1h7.2v7.3h-7.2zM203.2 352.1h7.2v7.3h-7.2zM209.8 352.1h7.2v7.3h-7.2zM361.5 352.1h7.2v7.3h-7.2zM124.0 358.8h7.2v7.3h-7.2zM203.2 358.8h7.2v7.3h-7.2zM209.8 358.8h7.2v7.3h-7.2zM361.5 358.8h7.2v7.3h-7.2z"/><path fill="#6a6a6a" d="M216.4 103.8h7.2v7.3h-7.2zM157.0 110.5h7.2v7.3h-7.2zM183.4 123.9h7.2v7.3h-7.2zM196.6 123.9h7.2v7.3h-7.2zM157.0 130.7h7.2v7.3h-7.2zM176.8 130.7h7.2v7.3h-7.2zM223.0 130.7h7.2v7.3h-7.2zM176.8 137.4h7.2v7.3h-7.2zM91.0 157.5h7.2v7.3h-7.2zM137.2 170.9h7.2v7.3h-7.2zM183.4 170.9h7.2v7.3h-7.2zM275.7 170.9h7.2v7.3h-7.2zM157.0 184.3h7.2v7.3h-7.2zM157.0 204.5h7.2v7.3h-7.2zM262.5 211.2h7.2v7.3h-7.2zM269.1 211.2h7.2v7.3h-7.2zM321.9 211.2h7.2v7.3h-7.2zM275.7 217.9h7.2v7.3h-7.2zM328.5 217.9h7.2v7.3h-7.2zM368.1 217.9h7.2v7.3h-7.2zM315.3 224.6h7.2v7.3h-7.2zM183.4 231.3h7.2v7.3h-7.2zM242.7 231.3h7.2v7.3h-7.2zM288.9 231.3h7.2v7.3h-7.2zM209.8 238.0h7.2v7.3h-7.2zM242.7 238.0h7.2v7.3h-7.2zM275.7 238.0h7.2v7.3h-7.2zM295.5 238.0h7.2v7.3h-7.2zM295.5 244.7h7.2v7.3h-7.2zM269.1 251.4h7.2v7.3h-7.2zM315.3 251.4h7.2v7.3h-7.2zM91.0 264.9h7.2v7.3h-7.2zM170.2 264.9h7.2v7.3h-7.2zM223.0 264.9h7.2v7.3h-7.2zM308.7 264.9h7.2v7.3h-7.2zM157.0 271.6h7.2v7.3h-7.2zM229.5 271.6h7.2v7.3h-7.2zM84.4 278.3h7.2v7.3h-7.2zM223.0 285.0h7.2v7.3h-7.2zM269.1 305.1h7.2v7.3h-7.2zM361.5 311.8h7.2v7.3h-7.2zM203.2 318.5h7.2v7.3h-7.2zM203.2 325.3h7.2v7.3h-7.2zM308.7 325.3h7.2v7.3h-7.2zM315.3 325.3h7.2v7.3h-7.2zM104.2 332.0h7.2v7.3h-7.2zM236.1 332.0h7.2v7.3h-7.2zM348.3 332.0h7.2v7.3h-7.2zM302.1 345.4h7.2v7.3h-7.2zM302.1 352.1h7.2v7.3h-7.2zM302.1 358.8h7.2v7.3h-7.2z"/><path fill="#6c6c6c" d="M163.6 110.5h7.2v7.3h-7.2zM84.4 150.8h7.2v7.3h-7.2zM97.6 164.2h7.2v7.3h-7.2zM143.8 170.9h7.2v7.3h-7.2zM190.0 177.6h7.2v7.3h-7.2zM229.5 177.6h7.2v7.3h-7.2zM348.3 191.0h7.2v7.3h-7.2zM328.5 197.8h7.2v7.3h-7.2zM223.0 204.5h7.2v7.3h-7.2zM255.9 211.2h7.2v7.3h-7.2zM302.1 211.2h7.2v7.3h-7.2zM209.8 217.9h7.2v7.3h-7.2zM354.9 217.9h7.2v7.3h-7.2zM308.7 224.6h7.2v7.3h-7.2zM216.4 231.3h7.2v7.3h-7.2zM348.3 231.3h7.2v7.3h-7.2zM354.9 231.3h7.2v7.3h-7.2zM361.5 231.3h7.2v7.3h-7.2zM368.1 231.3h7.2v7.3h-7.2zM104.2 244.7h7.2v7.3h-7.2zM341.7 244.7h7.2v7.3h-7.2zM308.7 251.4h7.2v7.3h-7.2zM269.1 258.2h7.2v7.3h-7.2zM97.6 264.9h7.2v7.3h-7.2zM157.0 264.9h7.2v7.3h-7.2zM209.8 264.9h7.2v7.3h-7.2zM255.9 264.9h7.2v7.3h-7.2zM223.0 271.6h7.2v7.3h-7.2zM262.5 271.6h7.2v7.3h-7.2zM176.8 285.0h7.2v7.3h-7.2zM170.2 291.7h7.2v7.3h-7.2zM236.1 291.7h7.2v7.3h-7.2zM216.4 311.8h7.2v7.3h-7.2zM335.1 311.8h7.2v7.3h-7.2zM110.8 325.3h7.2v7.3h-7.2zM335.1 332.0h7.2v7.3h-7.2zM368.1 332.0h7.2v7.3h-7.2zM236.1 345.4h7.2v7.3h-7.2zM236.1 352.1h7.2v7.3h-7.2zM236.1 358.8h7.2v7.3h-7.2z"/><path fill="#6e6e6e" d="M223.0 63.6h7.2v7.3h-7.2zM196.6 77.0h7.2v7.3h-7.2zM196.6 90.4h7.2v7.3h-7.2zM84.4 103.8h7.2v7.3h-7.2zM203.2 110.5h7.2v7.3h-7.2zM216.4 110.5h7.2v7.3h-7.2zM183.4 117.2h7.2v7.3h-7.2zM190.0 117.2h7.2v7.3h-7.2zM196.6 117.2h7.2v7.3h-7.2zM203.2 117.2h7.2v7.3h-7.2zM176.8 123.9h7.2v7.3h-7.2zM223.0 123.9h7.2v7.3h-7.2zM84.4 137.4h7.2v7.3h-7.2zM104.2 137.4h7.2v7.3h-7.2zM170.2 137.4h7.2v7.3h-7.2zM203.2 137.4h7.2v7.3h-7.2zM282.3 137.4h7.2v7.3h-7.2zM288.9 137.4h7.2v7.3h-7.2zM130.6 150.8h7.2v7.3h-7.2zM196.6 150.8h7.2v7.3h-7.2zM262.5 150.8h7.2v7.3h-7.2zM196.6 157.5h7.2v7.3h-7.2zM91.0 164.2h7.2v7.3h-7.2zM275.7 164.2h7.2v7.3h-7.2zM368.1 177.6h7.2v7.3h-7.2zM104.2 184.3h7.2v7.3h-7.2zM110.8 184.3h7.2v7.3h-7.2zM157.0 191.0h7.2v7.3h-7.2zM157.0 197.8h7.2v7.3h-7.2zM143.8 204.5h7.2v7.3h-7.2zM229.5 204.5h7.2v7.3h-7.2zM249.3 211.2h7.2v7.3h-7.2zM328.5 211.2h7.2v7.3h-7.2zM163.6 217.9h7.2v7.3h-7.2zM275.7 224.6h7.2v7.3h-7.2zM196.6 231.3h7.2v7.3h-7.2zM209.8 231.3h7.2v7.3h-7.2zM104.2 251.4h7.2v7.3h-7.2zM91.0 271.6h7.2v7.3h-7.2zM104.2 271.6h7.2v7.3h-7.2zM163.6 278.3h7.2v7.3h-7.2zM170.2 285.0h7.2v7.3h-7.2zM183.4 285.0h7.2v7.3h-7.2zM255.9 291.7h7.2v7.3h-7.2zM374.7 298.4h7.2v7.3h-7.2zM381.3 298.4h7.2v7.3h-7.2zM387.9 298.4h7.2v7.3h-7.2zM315.3 305.1h7.2v7.3h-7.2zM203.2 311.8h7.2v7.3h-7.2zM229.5 311.8h7.2v7.3h-7.2zM348.3 311.8h7.2v7.3h-7.2zM242.7 325.3h7.2v7.3h-7.2zM321.9 325.3h7.2v7.3h-7.2zM348.3 325.3h7.2v7.3h-7.2zM315.3 332.0h7.2v7.3h-7.2zM117.4 338.7h7.2v7.3h-7.2zM196.6 338.7h7.2v7.3h-7.2zM361.5 338.7h7.2v7.3h-7.2z"/><path fill="#707070" d="M143.8 117.2h7.2v7.3h-7.2zM176.8 117.2h7.2v7.3h-7.2zM209.8 117.2h7.2v7.3h-7.2zM216.4 137.4h7.2v7.3h-7.2zM97.6 144.1h7.2v7.3h-7.2zM196.6 170.9h7.2v7.3h-7.2zM302.1 170.9h7.2v7.3h-7.2zM308.7 170.9h7.2v7.3h-7.2zM236.1 191.0h7.2v7.3h-7.2zM288.9 204.5h7.2v7.3h-7.2zM348.3 204.5h7.2v7.3h-7.2zM341.7 217.9h7.2v7.3h-7.2zM216.4 224.6h7.2v7.3h-7.2zM203.2 231.3h7.2v7.3h-7.2zM275.7 231.3h7.2v7.3h-7.2zM269.1 238.0h7.2v7.3h-7.2zM110.8 244.7h7.2v7.3h-7.2zM269.1 244.7h7.2v7.3h-7.2zM163.6 258.2h7.2v7.3h-7.2zM97.6 278.3h7.2v7.3h-7.2zM170.2 278.3h7.2v7.3h-7.2zM97.6 285.0h7.2v7.3h-7.2zM374.7 291.7h7.2v7.3h-7.2zM381.3 291.7h7.2v7.3h-7.2zM387.9 291.7h7.2v7.3h-7.2zM163.6 298.4h7.2v7.3h-7.2zM170.2 298.4h7.2v7.3h-7.2zM163.6 305.1h7.2v7.3h-7.2zM308.7 305.1h7.2v7.3h-7.2zM354.9 311.8h7.2v7.3h-7.2zM216.4 325.3h7.2v7.3h-7.2zM190.0 332.0h7.2v7.3h-7.2zM196.6 332.0h7.2v7.3h-7.2zM302.1 332.0h7.2v7.3h-7.2zM341.7 332.0h7.2v7.3h-7.2zM104.2 338.7h7.2v7.3h-7.2zM216.4 338.7h7.2v7.3h-7.2zM117.4 345.4h7.2v7.3h-7.2zM117.4 352.1h7.2v7.3h-7.2zM117.4 358.8h7.2v7.3h-7.2z"/><path fill="#727272" d="M209.8 77.0h7.2v7.3h-7.2zM84.4 97.1h7.2v7.3h-7.2zM150.4 117.2h7.2v7.3h-7.2zM157.0 117.2h7.2v7.3h-7.2zM216.4 117.2h7.2v7.3h-7.2zM150.4 123.9h7.2v7.3h-7.2zM203.2 123.9h7.2v7.3h-7.2zM203.2 130.7h7.2v7.3h-7.2zM97.6 137.4h7.2v7.3h-7.2zM275.7 144.1h7.2v7.3h-7.2zM288.9 144.1h7.2v7.3h-7.2zM137.2 157.5h7.2v7.3h-7.2zM183.4 157.5h7.2v7.3h-7.2zM196.6 164.2h7.2v7.3h-7.2zM282.3 170.9h7.2v7.3h-7.2zM91.0 177.6h7.2v7.3h-7.2zM315.3 177.6h7.2v7.3h-7.2zM223.0 184.3h7.2v7.3h-7.2zM341.7 191.0h7.2v7.3h-7.2zM143.8 197.8h7.2v7.3h-7.2zM236.1 197.8h7.2v7.3h-7.2zM282.3 197.8h7.2v7.3h-7.2zM348.3 197.8h7.2v7.3h-7.2zM374.7 217.9h7.2v7.3h-7.2zM381.3 217.9h7.2v7.3h-7.2zM387.9 217.9h7.2v7.3h-7.2zM348.3 224.6h7.2v7.3h-7.2zM269.1 231.3h7.2v7.3h-7.2zM282.3 231.3h7.2v7.3h-7.2zM341.7 238.0h7.2v7.3h-7.2zM249.3 258.2h7.2v7.3h-7.2zM216.4 264.9h7.2v7.3h-7.2zM170.2 271.6h7.2v7.3h-7.2zM190.0 278.3h7.2v7.3h-7.2zM223.0 278.3h7.2v7.3h-7.2zM84.4 285.0h7.2v7.3h-7.2zM209.8 311.8h7.2v7.3h-7.2zM196.6 318.5h7.2v7.3h-7.2zM249.3 318.5h7.2v7.3h-7.2zM190.0 325.3h7.2v7.3h-7.2zM110.8 332.0h7.2v7.3h-7.2zM321.9 338.7h7.2v7.3h-7.2zM104.2 345.4h7.2v7.3h-7.2zM328.5 345.4h7.2v7.3h-7.2zM104.2 352.1h7.2v7.3h-7.2zM328.5 352.1h7.2v7.3h-7.2zM104.2 358.8h7.2v7.3h-7.2zM328.5 358.8h7.2v7.3h-7.2z"/><path fill="#747474" d="M196.6 83.7h7.2v7.3h-7.2zM209.8 83.7h7.2v7.3h-7.2zM203.2 103.8h7.2v7.3h-7.2zM209.8 110.5h7.2v7.3h-7.2zM163.6 117.2h7.2v7.3h-7.2zM170.2 117.2h7.2v7.3h-7.2zM209.8 123.9h7.2v7.3h-7.2zM216.4 130.7h7.2v7.3h-7.2zM84.4 144.1h7.2v7.3h-7.2zM269.1 150.8h7.2v7.3h-7.2zM130.6 164.2h7.2v7.3h-7.2zM288.9 170.9h7.2v7.3h-7.2zM295.5 170.9h7.2v7.3h-7.2zM315.3 170.9h7.2v7.3h-7.2zM368.1 170.9h7.2v7.3h-7.2zM143.8 177.6h7.2v7.3h-7.2zM308.7 184.3h7.2v7.3h-7.2zM269.1 217.9h7.2v7.3h-7.2zM348.3 217.9h7.2v7.3h-7.2zM209.8 224.6h7.2v7.3h-7.2zM282.3 238.0h7.2v7.3h-7.2zM348.3 238.0h7.2v7.3h-7.2zM209.8 244.7h7.2v7.3h-7.2zM348.3 244.7h7.2v7.3h-7.2zM269.1 264.9h7.2v7.3h-7.2zM91.0 278.3h7.2v7.3h-7.2zM229.5 278.3h7.2v7.3h-7.2zM269.1 278.3h7.2v7.3h-7.2zM348.3 298.4h7.2v7.3h-7.2zM354.9 298.4h7.2v7.3h-7.2zM170.2 305.1h7.2v7.3h-7.2zM361.5 305.1h7.2v7.3h-7.2zM209.8 318.5h7.2v7.3h-7.2zM308.7 318.5h7.2v7.3h-7.2zM341.7 318.5h7.2v7.3h-7.2zM223.0 332.0h7.2v7.3h-7.2zM308.7 332.0h7.2v7.3h-7.2zM190.0 338.7h7.2v7.3h-7.2zM302.1 338.7h7.2v7.3h-7.2zM216.4 345.4h7.2v7.3h-7.2zM216.4 352.1h7.2v7.3h-7.2zM216.4 358.8h7.2v7.3h-7.2z"/><path fill="#767676" d="M203.2 77.0h7.2v7.3h-7.2zM97.6 90.4h7.2v7.3h-7.2zM209.8 90.4h7.2v7.3h-7.2zM203.2 97.1h7.2v7.3h-7.2zM216.4 123.9h7.2v7.3h-7.2zM190.0 157.5h7.2v7.3h-7.2zM275.7 157.5h7.2v7.3h-7.2zM137.2 164.2h7.2v7.3h-7.2zM183.4 164.2h7.2v7.3h-7.2zM150.4 177.6h7.2v7.3h-7.2zM282.3 184.3h7.2v7.3h-7.2zM282.3 191.0h7.2v7.3h-7.2zM335.1 191.0h7.2v7.3h-7.2zM143.8 217.9h7.2v7.3h-7.2zM321.9 217.9h7.2v7.3h-7.2zM150.4 224.6h7.2v7.3h-7.2zM163.6 224.6h7.2v7.3h-7.2zM203.2 238.0h7.2v7.3h-7.2zM176.8 244.7h7.2v7.3h-7.2zM110.8 251.4h7.2v7.3h-7.2zM249.3 251.4h7.2v7.3h-7.2zM216.4 258.2h7.2v7.3h-7.2zM163.6 264.9h7.2v7.3h-7.2zM163.6 271.6h7.2v7.3h-7.2zM176.8 278.3h7.2v7.3h-7.2zM229.5 285.0h7.2v7.3h-7.2zM262.5 285.0h7.2v7.3h-7.2zM262.5 311.8h7.2v7.3h-7.2zM110.8 338.7h7.2v7.3h-7.2zM229.5 338.7h7.2v7.3h-7.2zM110.8 345.4h7.2v7.3h-7.2zM196.6 345.4h7.2v7.3h-7.2zM110.8 352.1h7.2v7.3h-7.2zM196.6 352.1h7.2v7.3h-7.2zM110.8 358.8h7.2v7.3h-7.2zM196.6 358.8h7.2v7.3h-7.2z"/><path fill="#787878" d="M203.2 83.7h7.2v7.3h-7.2zM209.8 103.8h7.2v7.3h-7.2zM170.2 123.9h7.2v7.3h-7.2zM91.0 137.4h7.2v7.3h-7.2zM209.8 137.4h7.2v7.3h-7.2zM91.0 150.8h7.2v7.3h-7.2zM282.3 177.6h7.2v7.3h-7.2zM295.5 191.0h7.2v7.3h-7.2zM150.4 204.5h7.2v7.3h-7.2zM341.7 204.5h7.2v7.3h-7.2zM335.1 211.2h7.2v7.3h-7.2zM341.7 211.2h7.2v7.3h-7.2zM302.1 217.9h7.2v7.3h-7.2zM249.3 224.6h7.2v7.3h-7.2zM269.1 224.6h7.2v7.3h-7.2zM361.5 224.6h7.2v7.3h-7.2zM163.6 231.3h7.2v7.3h-7.2zM176.8 231.3h7.2v7.3h-7.2zM249.3 231.3h7.2v7.3h-7.2zM288.9 238.0h7.2v7.3h-7.2zM249.3 244.7h7.2v7.3h-7.2zM262.5 251.4h7.2v7.3h-7.2zM262.5 258.2h7.2v7.3h-7.2zM308.7 258.2h7.2v7.3h-7.2zM262.5 264.9h7.2v7.3h-7.2zM269.1 271.6h7.2v7.3h-7.2zM183.4 278.3h7.2v7.3h-7.2zM91.0 285.0h7.2v7.3h-7.2zM328.5 311.8h7.2v7.3h-7.2zM196.6 325.3h7.2v7.3h-7.2zM229.5 332.0h7.2v7.3h-7.2zM223.0 338.7h7.2v7.3h-7.2zM190.0 345.4h7.2v7.3h-7.2zM190.0 352.1h7.2v7.3h-7.2zM190.0 358.8h7.2v7.3h-7.2z"/><path fill="#7a7a7a" d="M223.0 56.8h7.2v7.3h-7.2zM97.6 97.1h7.2v7.3h-7.2zM209.8 97.1h7.2v7.3h-7.2zM209.8 130.7h7.2v7.3h-7.2zM269.1 157.5h7.2v7.3h-7.2zM91.0 170.9h7.2v7.3h-7.2zM190.0 170.9h7.2v7.3h-7.2zM335.1 197.8h7.2v7.3h-7.2zM157.0 211.2h7.2v7.3h-7.2zM196.6 238.0h7.2v7.3h-7.2zM203.2 251.4h7.2v7.3h-7.2zM321.9 258.2h7.2v7.3h-7.2zM315.3 264.9h7.2v7.3h-7.2zM97.6 271.6h7.2v7.3h-7.2zM269.1 285.0h7.2v7.3h-7.2zM236.1 311.8h7.2v7.3h-7.2zM190.0 318.5h7.2v7.3h-7.2zM328.5 325.3h7.2v7.3h-7.2z"/><path fill="#7c7c7c" d="M130.6 157.5h7.2v7.3h-7.2zM229.5 184.3h7.2v7.3h-7.2zM223.0 191.0h7.2v7.3h-7.2zM223.0 197.8h7.2v7.3h-7.2zM288.9 197.8h7.2v7.3h-7.2zM328.5 204.5h7.2v7.3h-7.2zM249.3 217.9h7.2v7.3h-7.2zM262.5 217.9h7.2v7.3h-7.2zM354.9 224.6h7.2v7.3h-7.2zM262.5 231.3h7.2v7.3h-7.2zM196.6 244.7h7.2v7.3h-7.2zM203.2 244.7h7.2v7.3h-7.2zM255.9 251.4h7.2v7.3h-7.2zM255.9 258.2h7.2v7.3h-7.2zM321.9 264.9h7.2v7.3h-7.2zM269.1 298.4h7.2v7.3h-7.2zM348.3 305.1h7.2v7.3h-7.2zM315.3 318.5h7.2v7.3h-7.2zM236.1 325.3h7.2v7.3h-7.2zM368.1 345.4h7.2v7.3h-7.2zM368.1 352.1h7.2v7.3h-7.2zM368.1 358.8h7.2v7.3h-7.2z"/><path fill="#7e7e7e" d="M229.5 63.6h7.2v7.3h-7.2zM91.0 90.4h7.2v7.3h-7.2zM203.2 90.4h7.2v7.3h-7.2zM91.0 97.1h7.2v7.3h-7.2zM282.3 144.1h7.2v7.3h-7.2zM374.7 177.6h7.2v7.3h-7.2zM381.3 177.6h7.2v7.3h-7.2zM387.9 177.6h7.2v7.3h-7.2zM143.8 184.3h7.2v7.3h-7.2zM150.4 184.3h7.2v7.3h-7.2zM229.5 197.8h7.2v7.3h-7.2zM335.1 204.5h7.2v7.3h-7.2zM157.0 224.6h7.2v7.3h-7.2zM170.2 238.0h7.2v7.3h-7.2zM262.5 238.0h7.2v7.3h-7.2zM183.4 244.7h7.2v7.3h-7.2zM190.0 244.7h7.2v7.3h-7.2zM262.5 244.7h7.2v7.3h-7.2zM262.5 305.1h7.2v7.3h-7.2zM308.7 311.8h7.2v7.3h-7.2zM242.7 318.5h7.2v7.3h-7.2zM315.3 338.7h7.2v7.3h-7.2zM223.0 345.4h7.2v7.3h-7.2zM229.5 345.4h7.2v7.3h-7.2zM223.0 352.1h7.2v7.3h-7.2zM229.5 352.1h7.2v7.3h-7.2zM223.0 358.8h7.2v7.3h-7.2zM229.5 358.8h7.2v7.3h-7.2z"/><path fill="#818181" d="M236.1 63.6h7.2v7.3h-7.2zM157.0 123.9h7.2v7.3h-7.2zM163.6 130.7h7.2v7.3h-7.2zM104.2 170.9h7.2v7.3h-7.2zM308.7 177.6h7.2v7.3h-7.2zM229.5 191.0h7.2v7.3h-7.2zM150.4 197.8h7.2v7.3h-7.2zM170.2 231.3h7.2v7.3h-7.2zM255.9 231.3h7.2v7.3h-7.2zM190.0 238.0h7.2v7.3h-7.2zM249.3 238.0h7.2v7.3h-7.2zM209.8 251.4h7.2v7.3h-7.2zM209.8 258.2h7.2v7.3h-7.2zM262.5 298.4h7.2v7.3h-7.2zM321.9 311.8h7.2v7.3h-7.2zM216.4 318.5h7.2v7.3h-7.2zM223.0 318.5h7.2v7.3h-7.2zM223.0 325.3h7.2v7.3h-7.2zM308.7 338.7h7.2v7.3h-7.2zM368.1 338.7h7.2v7.3h-7.2zM308.7 345.4h7.2v7.3h-7.2zM308.7 352.1h7.2v7.3h-7.2zM308.7 358.8h7.2v7.3h-7.2z"/><path fill="#838383" d="M236.1 56.8h7.2v7.3h-7.2zM163.6 123.9h7.2v7.3h-7.2zM170.2 130.7h7.2v7.3h-7.2zM190.0 164.2h7.2v7.3h-7.2zM143.8 191.0h7.2v7.3h-7.2zM315.3 217.9h7.2v7.3h-7.2zM262.5 224.6h7.2v7.3h-7.2zM255.9 298.4h7.2v7.3h-7.2zM229.5 318.5h7.2v7.3h-7.2zM236.1 318.5h7.2v7.3h-7.2zM321.9 318.5h7.2v7.3h-7.2zM341.7 325.3h7.2v7.3h-7.2z"/><path fill="#858585" d="M302.1 184.3h7.2v7.3h-7.2zM288.9 191.0h7.2v7.3h-7.2zM341.7 197.8h7.2v7.3h-7.2zM143.8 211.2h7.2v7.3h-7.2zM157.0 217.9h7.2v7.3h-7.2zM255.9 217.9h7.2v7.3h-7.2zM308.7 217.9h7.2v7.3h-7.2zM255.9 238.0h7.2v7.3h-7.2zM255.9 244.7h7.2v7.3h-7.2zM315.3 258.2h7.2v7.3h-7.2zM262.5 291.7h7.2v7.3h-7.2zM242.7 298.4h7.2v7.3h-7.2zM242.7 305.1h7.2v7.3h-7.2zM354.9 305.1h7.2v7.3h-7.2zM242.7 311.8h7.2v7.3h-7.2zM315.3 311.8h7.2v7.3h-7.2zM229.5 325.3h7.2v7.3h-7.2zM321.9 345.4h7.2v7.3h-7.2zM321.9 352.1h7.2v7.3h-7.2zM321.9 358.8h7.2v7.3h-7.2z"/><path fill="#878787" d="M91.0 144.1h7.2v7.3h-7.2zM374.7 170.9h7.2v7.3h-7.2zM381.3 170.9h7.2v7.3h-7.2zM387.9 170.9h7.2v7.3h-7.2zM110.8 177.6h7.2v7.3h-7.2zM269.1 291.7h7.2v7.3h-7.2zM335.1 318.5h7.2v7.3h-7.2z"/><path fill="#898989" d="M288.9 177.6h7.2v7.3h-7.2zM288.9 184.3h7.2v7.3h-7.2zM150.4 191.0h7.2v7.3h-7.2zM150.4 211.2h7.2v7.3h-7.2zM255.9 224.6h7.2v7.3h-7.2zM255.9 311.8h7.2v7.3h-7.2zM335.1 325.3h7.2v7.3h-7.2zM374.7 338.7h7.2v7.3h-7.2zM381.3 338.7h7.2v7.3h-7.2zM387.9 338.7h7.2v7.3h-7.2z"/><path fill="#8b8b8b" d="M295.5 184.3h7.2v7.3h-7.2zM150.4 217.9h7.2v7.3h-7.2zM249.3 298.4h7.2v7.3h-7.2zM328.5 318.5h7.2v7.3h-7.2zM315.3 345.4h7.2v7.3h-7.2zM315.3 352.1h7.2v7.3h-7.2zM315.3 358.8h7.2v7.3h-7.2z"/><path fill="#8d8d8d" d="M229.5 56.8h7.2v7.3h-7.2zM97.6 170.9h7.2v7.3h-7.2zM249.3 311.8h7.2v7.3h-7.2zM374.7 345.4h7.2v7.3h-7.2zM381.3 345.4h7.2v7.3h-7.2zM387.9 345.4h7.2v7.3h-7.2zM374.7 352.1h7.2v7.3h-7.2zM381.3 352.1h7.2v7.3h-7.2zM387.9 352.1h7.2v7.3h-7.2zM374.7 358.8h7.2v7.3h-7.2zM381.3 358.8h7.2v7.3h-7.2zM387.9 358.8h7.2v7.3h-7.2z"/><path fill="#8f8f8f" d="M302.1 177.6h7.2v7.3h-7.2z"/><path fill="#919191" d="M97.6 177.6h7.2v7.3h-7.2zM295.5 177.6h7.2v7.3h-7.2zM183.4 238.0h7.2v7.3h-7.2z"/><path fill="#939393" d="M176.8 238.0h7.2v7.3h-7.2z"/><path fill="#979797" d="M255.9 305.1h7.2v7.3h-7.2z"/><path fill="#999999" d="M104.2 177.6h7.2v7.3h-7.2z"/><path fill="#9f9f9f" d="M249.3 305.1h7.2v7.3h-7.2z"/><ellipse cx="305.2" cy="330.6" rx="9.6" ry="11.2" fill="url(#hA_s96)"/><ellipse cx="228.7" cy="325.5" rx="17.6" ry="9.6" fill="url(#hA_s80)"/><ellipse cx="260.2" cy="320.0" rx="8.0" ry="8.0" fill="url(#hA_s72)"/><ellipse cx="272.2" cy="276.5" rx="8.0" ry="11.2" fill="url(#hA_s86)"/><ellipse cx="227.2" cy="275.0" rx="9.6" ry="8.0" fill="url(#hA_s72)"/><ellipse cx="368.3" cy="228.5" rx="9.6" ry="8.0" fill="url(#hA_s72)"/><ellipse cx="303.7" cy="240.5" rx="8.0" ry="9.6" fill="url(#hA_s70)"/><ellipse cx="222.7" cy="151.5" rx="11.2" ry="6.4" fill="url(#hA_s73)"/><ellipse cx="377.3" cy="305.0" rx="6.4" ry="8.0" fill="url(#hA_s66)"/><ellipse cx="302.2" cy="141.0" rx="9.6" ry="9.6" fill="url(#hA_s60)"/><ellipse cx="272.2" cy="230.0" rx="8.0" ry="8.0" fill="url(#hA_s60)"/><ellipse cx="317.2" cy="221.0" rx="8.0" ry="8.0" fill="url(#hA_s60)"/></g><path fill="none" stroke="#263" stroke-opacity="0.5" stroke-width="0.8" stroke-dasharray="3 1.5" d="M128 30L129 35L133 43L143 47L153 48L159 48L161 47L161 39L166 33L167 30M195 30L194 33L190 36L188 39L191 52L192 54L194 55L201 54L207 47L210 42L219 37L220 30M271 30L273 34L279 39L287 44L288 43L288 40L284 34L284 30M328 30L328 37L329 40L341 51L347 60L345 67L335 79L336 83L338 87L345 91L350 93L352 92L363 76L370 71L381 70M381 56L369 55L363 53L357 50L354 41L353 30M124 58L127 56L128 54L129 48L128 46L116 43L109 43L106 44L105 48L109 56L120 59L124 58M104 62L106 59L105 57L95 54L93 55L92 59L93 61L99 63L104 62M65 84L70 84L78 79L88 77L91 75L91 72L90 66L88 64L82 62L65 61M177 96L179 95L179 93L178 82L179 72L175 67L170 66L167 67L162 74L156 77L154 80L157 87L166 94L172 96L177 96M273 82L274 79L273 73L272 71L269 71L267 73L264 80L266 82L270 83L273 82M140 80L141 78L137 74L135 73L133 73L132 77L133 80L136 81L140 80M381 114L378 115L379 117L381 117M258 135L261 132L262 125L260 121L256 121L253 122L251 124L249 129L251 133L252 135L258 135M334 135L335 133L332 126L329 125L325 126L324 128L330 135L334 135M65 182L73 181L74 179L75 174L74 166L71 153L68 150L65 149M101 210L108 208L112 201L101 200L92 200L91 203L93 208L96 210L101 210M194 217L197 213L195 206L193 204L186 203L183 214L185 217L188 218L192 218L194 217M134 282L137 280L140 276L138 273L135 272L130 274L127 279L128 282L134 282M75 351L74 347L65 345M89 30L89 35L88 39L81 45L77 50L72 53L65 53M381 50L371 49L364 46L359 39L359 30M65 92L74 90L80 85L84 84L95 81L97 79L98 72L100 70L116 69L120 71L123 81L127 87L134 89L142 87L148 87L154 90L160 95L165 98L178 103L183 103L185 102L186 100L183 88L183 79L185 70L189 65L202 60L208 56L212 51L221 45L237 43L246 40L263 38L269 39L278 46L281 52L281 61L282 63L302 70L310 74L321 77L324 81L342 96L353 101L358 102L360 101L362 91L365 87L371 85L381 85M325 69L321 67L316 61L306 54L300 46L298 40L299 38L306 39L333 53L334 58L334 61L328 65L325 69M180 50L175 50L172 48L171 42L172 39L175 39L181 44L182 47L180 50M154 68L152 67L145 63L144 61L144 59L148 58L153 60L156 65L154 68M240 94L245 91L251 90L259 91L267 94L273 94L281 91L282 89L283 86L282 71L280 65L275 62L267 59L264 59L261 60L259 63L256 71L254 75L249 78L239 80L233 85L233 88L234 90L237 94L240 94M381 105L371 105L367 106L362 113L361 117L362 121L367 124L370 128L377 133L381 134M122 122L122 119L115 113L113 112L108 112L106 113L102 119L112 122L120 123L122 122M261 141L270 128L273 121L273 119L269 116L266 115L257 115L251 116L246 119L243 125L243 128L244 133L246 136L253 141L258 142L261 141M317 153L328 143L332 142L340 143L344 142L344 140L337 125L332 119L325 119L322 119L320 121L320 127L322 133L322 136L316 140L311 152L313 154L317 153M87 124L88 123L87 123L87 124M65 188L78 189L81 188L81 186L81 172L77 158L72 147L71 140L72 134L70 132L65 131M357 161L363 156L363 153L358 149L352 147L350 147L349 148L352 159L354 161L357 161M117 163L118 160L117 155L115 153L112 153L109 156L109 160L113 164L117 163M260 194L262 181L260 178L258 177L255 182L252 185L251 188L255 194L258 195L260 194M194 223L197 221L202 216L202 212L200 206L194 200L185 195L181 192L179 192L177 194L178 201L176 212L177 215L185 222L189 223L194 223M93 219L123 208L125 206L123 200L120 198L109 195L88 194L86 194L84 203L82 208L82 213L87 218L93 219M65 238L70 239L75 243L79 243L81 242L75 233L65 229M128 291L142 288L146 286L147 284L148 280L144 269L143 261L141 259L138 258L135 259L129 267L121 275L120 280L121 285L125 291L128 291M194 265L195 262L194 260L191 260L187 261L188 263L191 266L193 266L194 265M293 301L299 294L300 287L304 276L303 273L299 268L292 265L289 267L288 273L290 282L290 295L291 300L292 301L293 301M353 286L358 284L360 282L361 275L359 272L353 268L350 268L347 269L342 277L337 282L338 284L341 285L353 286M135 326L138 322L140 314L138 309L134 307L129 314L128 320L128 323L132 327L134 327L135 326M95 327L98 324L99 321L97 313L93 311L88 312L85 313L84 317L86 325L90 328L95 327M83 351L82 345L77 340L73 339L65 338M173 351L172 345L170 343L168 343L166 345L164 351M267 351L266 348L264 346L260 343L256 342L253 344L253 351M84 30L83 35L75 40L71 47L69 48L65 49M381 46L372 45L365 41L363 38L365 30M65 99L68 99L75 94L86 85L99 82L101 80L103 74L108 72L114 74L117 76L122 86L122 89L121 90L115 92L113 93L119 103L123 103L128 100L128 98L125 94L126 93L134 93L141 91L147 90L151 92L160 100L166 103L175 105L187 106L189 104L189 100L186 88L185 81L186 77L190 70L197 65L207 62L217 51L221 49L227 47L240 48L248 50L251 52L253 58L254 67L252 72L248 75L234 78L230 80L229 88L230 98L232 102L235 103L239 102L244 98L252 95L273 100L287 97L289 93L286 81L287 73L290 71L295 71L314 78L334 92L343 100L347 105L349 107L350 113L354 117L357 121L376 136L381 137M381 103L376 102L371 100L368 96L367 93L368 91L371 90L381 91M65 191L74 192L77 194L79 200L73 207L74 211L77 217L87 224L93 225L97 225L100 223L106 218L128 212L130 209L130 204L129 199L127 197L116 194L93 191L87 188L84 181L83 165L76 149L76 145L79 133L89 130L100 125L115 126L125 132L133 135L136 134L137 133L135 126L130 123L119 111L114 109L106 110L95 116L80 118L74 124L65 125M249 159L249 146L251 145L261 144L267 141L271 134L283 121L283 118L280 114L274 112L264 110L250 112L246 113L244 115L240 126L242 141L237 145L235 147L238 154L246 159L249 159M357 169L359 168L362 164L368 159L369 155L369 152L361 146L352 142L345 135L342 130L336 117L334 115L331 114L325 115L317 118L316 121L318 133L313 138L306 152L307 157L311 159L318 157L332 148L338 148L341 149L345 154L350 169L352 170L357 169M117 167L119 166L121 162L121 155L118 151L113 150L107 153L106 160L107 163L112 167L114 168L117 167M261 200L265 198L268 195L270 188L269 182L268 179L262 172L251 162L250 175L246 187L252 197L258 200L261 200M194 225L201 222L203 218L204 213L203 204L197 198L191 195L183 189L178 182L173 172L170 171L168 172L168 175L174 200L172 207L173 215L179 222L183 224L188 225L194 225M381 196L375 197L373 199L372 201L376 205L381 207M65 250L74 248L84 249L86 248L86 246L85 239L79 232L73 228L70 225L65 224M327 245L331 243L332 241L331 239L326 236L323 235L317 236L313 239L313 242L316 245L322 246L327 245M135 333L137 331L141 323L144 315L143 307L138 302L136 295L140 293L149 292L152 291L153 288L148 269L149 248L148 246L145 245L141 245L138 249L132 253L129 262L119 272L117 283L115 288L117 296L122 301L123 306L123 317L126 329L131 333L133 334L135 333M196 270L200 268L200 266L197 260L195 258L192 257L188 257L185 259L184 262L186 267L190 270L196 270M292 317L295 308L300 303L304 295L305 287L308 283L309 280L307 274L301 266L294 261L291 260L287 263L285 268L287 281L286 295L290 309L289 316L290 317L292 317M339 292L360 290L368 281L368 278L368 275L358 266L351 264L344 265L342 267L339 275L330 280L329 282L329 288L331 292L334 293L339 292M207 301L209 299L206 296L200 298L197 300L197 301L200 302L207 301M87 351L87 341L91 334L98 329L103 323L102 312L100 308L96 307L92 307L86 308L81 311L79 314L80 323L78 329L74 332L65 333M177 351L179 328L176 324L173 322L170 323L167 326L166 336L158 347L157 351M274 351L274 347L270 342L269 339L277 336L280 329L279 327L274 326L270 327L268 329L269 336L268 338L255 338L250 340L248 342L249 351M75 30L74 33L68 37L65 38M381 41L375 40L372 39L372 37L372 30M65 260L70 259L75 254L80 255L86 258L93 258L94 256L94 253L90 239L87 234L88 231L104 229L105 227L107 221L111 219L121 218L132 218L134 216L133 207L136 200L136 195L135 191L133 188L128 187L123 191L119 192L100 190L92 188L87 181L85 164L84 159L79 149L79 145L81 138L84 135L99 130L106 129L111 130L117 134L120 139L120 144L119 145L112 147L107 150L105 153L104 160L107 165L113 170L121 170L123 166L123 155L123 151L120 145L124 143L133 141L142 144L149 152L153 163L159 174L163 178L167 186L170 200L168 208L171 216L176 222L180 226L190 228L196 227L204 223L207 215L206 206L206 201L213 190L216 180L219 175L222 167L226 161L220 159L216 160L211 167L209 180L205 186L203 190L200 193L192 192L185 186L175 165L161 145L154 139L143 131L138 125L133 121L130 118L126 114L124 109L126 108L131 105L134 100L136 98L146 95L153 97L158 102L168 108L185 110L192 109L193 107L193 105L188 85L188 79L191 74L193 71L198 68L211 63L221 52L224 50L234 49L242 51L249 57L251 64L251 68L247 72L241 74L231 76L225 79L225 96L226 102L232 109L237 111L238 113L237 126L237 134L236 137L232 141L231 144L233 150L233 157L242 164L245 171L246 174L243 181L244 189L249 197L254 202L260 204L267 204L270 202L273 197L274 189L273 182L268 173L263 169L257 160L255 154L256 151L258 149L268 144L272 137L283 129L288 123L293 114L302 109L302 106L299 100L296 97L294 91L291 87L290 80L292 77L300 76L310 79L328 92L335 99L336 101L335 104L321 112L311 115L311 120L315 126L314 130L311 135L310 142L308 146L300 156L292 160L293 162L299 166L305 165L319 161L332 152L338 152L341 156L342 162L341 167L336 172L335 175L338 180L343 181L348 180L360 172L366 165L376 160L378 158L377 154L369 146L356 141L350 136L344 130L343 127L342 120L342 118L344 117L347 117L351 119L355 123L360 126L363 130L367 132L377 141L381 142M65 105L69 104L72 103L75 98L81 94L87 87L92 86L104 85L105 79L107 77L113 77L116 80L117 87L111 89L110 90L110 94L112 100L111 104L94 113L79 114L70 119L65 119M256 104L253 104L252 103L252 101L255 100L259 100L260 101L259 103L256 104M381 192L372 194L368 198L367 201L368 204L371 207L375 209L381 210M314 209L316 208L317 206L315 200L312 199L307 200L306 203L307 207L310 209L314 209M235 230L238 227L237 221L234 219L230 219L228 222L230 228L233 231L235 230M293 223L293 220L290 219L289 221L290 223L292 224L293 223M332 248L335 245L336 241L334 237L332 234L325 232L315 233L312 234L311 242L313 246L317 248L322 249L332 248M181 351L183 327L180 323L174 319L168 320L165 322L163 326L162 336L154 345L151 345L145 345L141 342L139 340L139 334L148 315L147 307L145 301L147 299L154 296L157 290L157 287L152 275L151 270L152 260L155 253L156 243L154 241L148 238L138 238L134 238L132 240L130 246L127 252L124 262L118 267L116 271L114 281L111 287L110 294L110 296L88 303L75 305L74 307L76 322L73 325L65 325M238 264L240 264L240 261L238 255L237 248L235 245L233 245L226 251L226 254L231 263L238 264M381 247L372 245L371 245L370 247L371 249L373 250L381 250M202 272L203 271L204 268L201 261L200 259L194 256L189 255L185 255L181 258L181 263L184 270L191 273L202 272M290 351L287 342L288 338L292 327L298 318L302 306L309 295L310 288L315 284L316 282L300 260L294 256L291 256L285 257L283 261L284 280L283 293L284 302L283 310L279 317L276 320L245 340L244 342L246 351M381 272L371 272L360 264L352 261L345 260L343 261L340 264L335 274L321 281L320 288L322 296L324 299L330 303L333 304L336 302L341 296L344 294L351 293L362 293L365 291L371 285L381 285M75 276L77 274L79 269L78 267L74 266L72 267L68 274L72 277L75 276M253 288L258 281L258 278L254 273L248 272L244 279L244 283L248 288L251 289L253 288M194 308L199 306L218 304L221 302L221 300L213 288L211 288L192 295L187 299L186 302L188 306L191 308L194 308M65 301L69 301L70 299L69 295L65 294M90 351L90 346L92 343L97 334L103 328L107 313L109 312L113 311L116 312L118 314L125 334L136 346L136 351M381 315L377 316L371 322L372 324L375 327L381 329M241 71L230 71L220 70L218 67L220 59L225 54L230 53L234 52L240 55L245 59L248 65L246 68L241 71M195 185L191 184L186 179L178 161L178 155L179 153L186 153L192 150L206 150L206 147L203 143L201 138L195 132L187 131L185 132L184 134L183 141L182 144L175 147L173 147L166 142L162 138L146 128L139 121L136 114L139 113L150 113L151 111L151 107L153 106L158 107L164 111L175 114L182 115L195 114L198 111L199 106L197 98L192 87L193 80L201 72L207 71L214 71L217 74L220 85L220 94L221 103L224 111L229 117L231 125L230 133L225 139L224 141L230 148L231 152L228 156L222 157L216 156L210 152L207 151L208 160L205 166L204 176L201 180L195 185M314 92L311 92L306 90L304 88L304 86L306 85L313 86L315 88L314 92M92 109L87 110L82 108L80 105L80 100L84 96L87 91L91 89L95 89L103 90L105 92L107 98L107 101L92 109M381 234L374 237L362 239L361 241L361 248L360 252L357 254L351 255L344 253L342 251L339 232L337 229L332 228L317 230L306 230L295 213L284 208L280 203L279 200L280 189L279 184L273 172L264 161L262 154L264 152L272 148L277 138L294 130L300 124L304 124L307 125L308 127L306 131L308 139L307 144L304 148L297 151L293 154L286 157L285 160L286 163L289 168L296 170L307 170L320 166L325 166L327 167L329 181L328 184L322 186L315 192L305 197L302 200L301 205L302 209L304 211L310 212L318 212L321 210L323 200L329 195L331 187L345 187L353 184L366 176L369 169L371 167L381 166M358 135L355 134L352 132L350 128L350 127L352 126L356 130L359 132L360 134L358 135M114 189L107 189L100 187L93 184L91 181L89 175L89 162L85 154L84 148L85 140L87 138L100 133L103 133L108 134L111 138L112 141L105 146L100 155L98 160L105 168L117 174L122 179L122 181L120 186L118 188L114 189M186 351L187 327L183 319L175 315L166 315L158 320L157 322L157 330L155 335L153 337L148 337L146 335L148 328L152 320L155 307L165 294L164 286L157 275L156 268L158 259L163 252L168 249L168 247L164 239L144 226L139 216L139 208L142 200L140 194L138 181L136 177L129 170L127 161L127 157L129 152L134 148L138 150L142 152L149 169L162 184L164 194L164 209L166 215L172 224L178 229L187 231L194 231L202 229L207 225L209 222L212 209L216 203L218 193L223 181L232 172L234 172L236 174L238 181L243 197L250 207L258 210L272 210L275 211L281 218L284 225L290 230L296 233L305 230L306 231L309 237L309 248L310 250L327 254L332 256L334 258L334 264L332 270L327 273L319 274L311 270L306 262L302 254L300 252L294 250L285 249L281 250L278 252L276 260L281 274L280 288L281 299L280 303L272 316L265 324L261 327L253 328L243 335L240 341L242 351M381 188L372 188L367 190L363 192L358 201L360 209L362 212L381 213M254 293L257 290L262 284L263 280L261 273L248 263L246 260L245 255L245 248L242 239L242 234L244 227L243 218L241 214L238 212L224 212L222 214L221 220L225 234L220 240L219 243L222 256L225 262L235 268L238 273L239 282L243 291L249 293L254 293M122 231L118 230L116 228L116 227L119 226L123 227L124 228L122 231M97 295L92 296L85 295L79 291L78 288L88 275L91 267L102 264L104 262L103 259L101 254L101 248L100 240L104 238L110 238L115 240L119 244L121 251L122 256L120 261L112 265L110 267L110 276L105 291L103 293L97 295M197 314L207 311L224 312L232 310L234 309L236 307L237 303L237 300L235 297L223 290L215 274L210 270L202 257L194 252L186 251L178 252L176 253L175 256L176 267L178 271L185 275L196 277L202 280L202 283L196 289L184 293L179 300L179 303L184 312L192 315L197 314M300 351L300 347L295 336L295 329L297 324L303 317L306 308L308 306L312 304L317 304L331 310L339 311L341 309L345 300L349 298L354 297L367 299L369 298L374 292L381 291M381 311L371 312L367 317L357 321L356 323L358 329L361 331L381 333M97 351L98 346L108 329L110 321L113 319L116 321L121 336L125 343L129 347L130 351M360 351L360 346L358 342L355 340L351 340L343 341L340 342L339 351M240 67L231 67L226 63L225 60L228 58L232 57L239 58L241 60L242 62L242 65L240 67M213 111L211 110L209 108L203 93L203 86L207 83L209 84L212 89L214 98L214 107L213 111M95 102L91 102L90 99L92 93L95 92L100 94L102 98L101 100L95 102M173 137L166 135L157 129L155 126L156 124L159 122L166 121L173 123L175 125L176 132L175 136L173 137M214 141L212 141L211 139L210 132L212 129L217 128L218 129L218 133L216 139L214 141M303 145L298 146L294 145L293 143L294 138L299 134L303 135L306 138L306 142L303 145M94 154L92 153L90 151L88 146L91 141L95 140L98 141L99 145L98 149L94 154M287 149L284 149L282 148L283 145L286 144L289 145L289 147L287 149M224 155L219 155L216 153L214 149L215 147L217 145L220 145L225 146L228 148L229 152L227 154L224 155M276 161L274 162L272 160L273 157L276 159L277 160L276 161M138 166L135 165L133 163L133 160L134 158L136 158L138 160L138 166M193 176L190 174L188 169L187 166L189 162L193 160L197 163L198 167L196 174L193 176M111 185L106 185L97 182L94 177L94 172L97 170L102 170L109 173L115 178L117 180L116 182L115 184L111 185M381 183L375 181L373 175L373 173L375 172L381 171M292 204L288 201L286 197L285 181L286 177L289 175L293 175L307 176L315 177L316 180L314 184L308 189L301 193L296 198L294 202L292 204M218 264L214 265L211 263L204 252L202 250L195 249L183 248L177 247L173 243L170 237L165 231L154 228L148 222L144 214L145 211L150 208L151 206L144 194L144 186L147 182L152 182L155 185L158 195L155 207L160 213L168 229L186 236L205 239L215 251L219 261L218 264M235 203L232 204L227 203L225 202L224 200L224 195L225 192L229 186L232 185L234 186L237 194L237 200L235 203M345 216L338 215L331 210L330 208L331 205L335 202L338 197L340 195L346 196L350 200L350 203L345 216M320 226L315 227L311 226L306 222L306 219L315 215L321 216L324 218L326 221L323 224L320 226M220 351L221 346L225 338L224 336L217 332L213 327L211 322L212 318L216 317L235 315L239 313L242 310L244 299L246 298L255 298L260 296L266 287L263 266L257 263L254 260L249 241L251 232L251 222L252 219L255 217L261 217L273 221L277 224L279 228L279 231L278 234L270 240L270 247L268 256L269 262L274 265L278 270L279 274L279 279L274 288L275 295L275 300L269 307L267 317L265 321L263 324L260 325L251 323L249 324L243 330L236 335L233 340L236 347L236 351M369 235L365 235L361 234L355 229L354 226L366 221L371 221L375 222L376 225L375 230L373 234L369 235M304 248L299 247L294 243L290 241L290 240L295 239L301 234L305 234L307 236L308 240L307 245L304 248M324 269L320 269L317 268L312 262L312 259L318 258L326 260L327 263L327 267L326 269L324 269M232 284L225 283L220 278L218 271L220 267L228 267L234 271L235 274L235 277L232 284M167 272L167 269L167 272M101 277L100 277L99 275L101 274L102 275L101 277M96 288L93 289L91 287L94 283L96 285L96 288M381 308L378 310L375 309L373 307L372 304L373 301L375 298L378 297L381 297M360 313L355 313L350 310L350 306L352 303L358 303L362 306L363 309L360 313M308 351L307 344L301 340L298 336L296 329L300 323L303 321L309 318L311 312L315 311L326 313L334 315L343 320L348 326L349 329L347 332L341 333L331 330L326 326L316 325L315 327L316 336L328 345L330 348L331 351M200 330L197 329L193 325L192 322L196 322L200 326L201 328L200 330M369 351L368 343L369 340L372 339L381 338M114 346L113 344L114 342L114 346M192 351L192 347L194 345L199 347L200 351M224 153L219 153L217 151L217 149L221 148L225 149L226 151L224 153M107 181L104 180L103 179L107 179L108 180L107 181M317 223L315 222L314 220L316 219L318 220L319 221L317 223M370 232L367 233L363 231L361 228L362 226L366 224L371 224L373 226L373 228L372 231L370 232M271 231L269 229L269 228L271 227L273 229L273 230L271 231M303 244L300 243L299 240L301 237L303 236L305 237L306 240L305 243L303 244M273 284L271 285L269 283L266 277L267 270L270 268L274 268L277 274L277 280L273 284M229 279L226 279L223 277L222 274L223 271L227 270L231 272L232 276L229 279M377 306L375 305L375 303L376 302L378 302L379 302L380 304L377 306M261 323L257 322L254 319L249 309L249 306L251 304L255 304L261 307L261 311L264 317L263 320L261 323M233 333L226 333L220 330L216 325L217 321L221 319L228 318L235 318L240 320L242 323L241 327L238 330L233 333M307 339L304 339L301 337L299 334L298 331L298 328L300 325L303 323L306 322L309 322L311 324L313 330L311 336L309 338L307 339M273 281L270 280L268 277L268 273L271 271L273 271L275 274L275 278L273 281M232 329L227 330L223 328L221 326L221 323L223 322L227 321L231 321L235 322L237 324L236 326L232 329M307 336L303 336L300 332L300 327L304 324L308 325L310 328L310 333L307 336M306 334L303 333L302 331L302 328L305 327L307 327L308 329L308 332L306 334"/></g><rect x="64.9" y="30.3" width="316.7" height="322.1" fill="none" stroke="#111" stroke-width="1.8"/>
<defs><radialGradient id="hB_s60"><stop offset="0" stop-color="#999999" stop-opacity="1"/><stop offset="0.35" stop-color="#999999" stop-opacity="0.85"/><stop offset="0.7" stop-color="#999999" stop-opacity="0.4"/><stop offset="1" stop-color="#999999" stop-opacity="0"/></radialGradient><radialGradient id="hB_s70"><stop offset="0" stop-color="#b2b2b2" stop-opacity="1"/><stop offset="0.35" stop-color="#b2b2b2" stop-opacity="0.85"/><stop offset="0.7" stop-color="#b2b2b2" stop-opacity="0.4"/><stop offset="1" stop-color="#b2b2b2" stop-opacity="0"/></radialGradient><radialGradient id="hB_s72"><stop offset="0" stop-color="#b8b8b8" stop-opacity="1"/><stop offset="0.35" stop-color="#b8b8b8" stop-opacity="0.85"/><stop offset="0.7" stop-color="#b8b8b8" stop-opacity="0.4"/><stop offset="1" stop-color="#b8b8b8" stop-opacity="0"/></radialGradient><radialGradient id="hB_s74"><stop offset="0" stop-color="#bdbdbd" stop-opacity="1"/><stop offset="0.35" stop-color="#bdbdbd" stop-opacity="0.85"/><stop offset="0.7" stop-color="#bdbdbd" stop-opacity="0.4"/><stop offset="1" stop-color="#bdbdbd" stop-opacity="0"/></radialGradient><radialGradient id="hB_s75"><stop offset="0" stop-color="#bfbfbf" stop-opacity="1"/><stop offset="0.35" stop-color="#bfbfbf" stop-opacity="0.85"/><stop offset="0.7" stop-color="#bfbfbf" stop-opacity="0.4"/><stop offset="1" stop-color="#bfbfbf" stop-opacity="0"/></radialGradient><radialGradient id="hB_s78"><stop offset="0" stop-color="#c7c7c7" stop-opacity="1"/><stop offset="0.35" stop-color="#c7c7c7" stop-opacity="0.85"/><stop offset="0.7" stop-color="#c7c7c7" stop-opacity="0.4"/><stop offset="1" stop-color="#c7c7c7" stop-opacity="0"/></radialGradient><radialGradient id="hB_s82"><stop offset="0" stop-color="#d1d1d1" stop-opacity="1"/><stop offset="0.35" stop-color="#d1d1d1" stop-opacity="0.85"/><stop offset="0.7" stop-color="#d1d1d1" stop-opacity="0.4"/><stop offset="1" stop-color="#d1d1d1" stop-opacity="0"/></radialGradient><radialGradient id="hB_s85"><stop offset="0" stop-color="#d9d9d9" stop-opacity="1"/><stop offset="0.35" stop-color="#d9d9d9" stop-opacity="0.85"/><stop offset="0.7" stop-color="#d9d9d9" stop-opacity="0.4"/><stop offset="1" stop-color="#d9d9d9" stop-opacity="0"/></radialGradient><radialGradient id="hB_s86"><stop offset="0" stop-color="#dbdbdb" stop-opacity="1"/><stop offset="0.35" stop-color="#dbdbdb" stop-opacity="0.85"/><stop offset="0.7" stop-color="#dbdbdb" stop-opacity="0.4"/><stop offset="1" stop-color="#dbdbdb" stop-opacity="0"/></radialGradient><radialGradient id="hB_s88"><stop offset="0" stop-color="#e0e0e0" stop-opacity="1"/><stop offset="0.35" stop-color="#e0e0e0" stop-opacity="0.85"/><stop offset="0.7" stop-color="#e0e0e0" stop-opacity="0.4"/><stop offset="1" stop-color="#e0e0e0" stop-opacity="0"/></radialGradient><radialGradient id="hB_s96"><stop offset="0" stop-color="#f5f5f5" stop-opacity="1"/><stop offset="0.35" stop-color="#f5f5f5" stop-opacity="0.85"/><stop offset="0.7" stop-color="#f5f5f5" stop-opacity="0.4"/><stop offset="1" stop-color="#f5f5f5" stop-opacity="0"/></radialGradient><filter id="hB" x="600.2" y="10.3" width="355.1" height="362.1" filterUnits="userSpaceOnUse" color-interpolation-filters="sRGB"><feGaussianBlur stdDeviation="2.40"/><feComponentTransfer><feFuncR type="discrete" tableValues="0.031 0.020 0.031 0.035 0.008 0.000 0.000 0.004 0.043 0.082 0.122 0.090 0.133 0.263 0.463 0.635 0.776 0.886 0.980 1.000 1.000 1.000 1.000 1.000"/><feFuncG type="discrete" tableValues="0.314 0.349 0.420 0.522 0.678 0.773 0.776 0.761 0.749 0.737 0.722 0.722 0.725 0.741 0.780 0.816 0.847 0.878 0.820 0.643 0.506 0.369 0.231 0.118"/><feFuncB type="discrete" tableValues="0.635 0.671 0.714 0.784 0.894 0.863 0.784 0.682 0.522 0.388 0.290 0.149 0.051 0.000 0.000 0.000 0.000 0.000 0.000 0.000 0.000 0.024 0.063 0.063"/><feFuncA type="linear" slope="0" intercept="1"/></feComponentTransfer></filter><clipPath id="chB"><rect x="620.2" y="30.3" width="315.1" height="322.1"/></clipPath></defs><g clip-path="url(#chB)"><g filter="url(#hB)"><path fill="#0a0a0a" d="M902.2 177.6h7.2v7.3h-7.2z"/><path fill="#0e0e0e" d="M875.9 110.5h7.2v7.3h-7.2zM875.9 244.7h7.2v7.3h-7.2z"/><path fill="#121212" d="M882.5 110.5h7.2v7.3h-7.2zM665.9 244.7h7.2v7.3h-7.2z"/><path fill="#141414" d="M626.5 16.6h7.2v7.3h-7.2zM626.5 23.3h7.2v7.3h-7.2zM626.5 30.0h7.2v7.3h-7.2zM606.8 117.2h7.2v7.3h-7.2zM613.3 117.2h7.2v7.3h-7.2zM619.9 117.2h7.2v7.3h-7.2zM882.5 117.2h7.2v7.3h-7.2zM606.8 123.9h7.2v7.3h-7.2zM613.3 123.9h7.2v7.3h-7.2zM619.9 123.9h7.2v7.3h-7.2zM803.7 137.4h7.2v7.3h-7.2zM869.4 191.0h7.2v7.3h-7.2zM672.4 251.4h7.2v7.3h-7.2z"/><path fill="#161616" d="M810.3 137.4h7.2v7.3h-7.2zM869.4 184.3h7.2v7.3h-7.2z"/><path fill="#181818" d="M705.2 83.7h7.2v7.3h-7.2zM711.8 83.7h7.2v7.3h-7.2zM626.5 123.9h7.2v7.3h-7.2zM862.8 184.3h7.2v7.3h-7.2zM875.9 251.4h7.2v7.3h-7.2zM679.0 258.2h7.2v7.3h-7.2zM902.2 291.7h7.2v7.3h-7.2z"/><path fill="#1a1a1a" d="M626.5 117.2h7.2v7.3h-7.2zM679.0 251.4h7.2v7.3h-7.2zM882.5 251.4h7.2v7.3h-7.2z"/><path fill="#1c1c1c" d="M738.1 70.3h7.2v7.3h-7.2zM705.2 77.0h7.2v7.3h-7.2zM738.1 77.0h7.2v7.3h-7.2zM875.9 117.2h7.2v7.3h-7.2zM895.6 177.6h7.2v7.3h-7.2zM882.5 244.7h7.2v7.3h-7.2z"/><path fill="#1e1e1e" d="M698.7 77.0h7.2v7.3h-7.2zM711.8 77.0h7.2v7.3h-7.2zM908.7 177.6h7.2v7.3h-7.2zM862.8 191.0h7.2v7.3h-7.2zM672.4 244.7h7.2v7.3h-7.2zM685.5 258.2h7.2v7.3h-7.2zM797.1 345.4h7.2v7.3h-7.2zM797.1 352.1h7.2v7.3h-7.2zM797.1 358.8h7.2v7.3h-7.2z"/><path fill="#202020" d="M731.5 77.0h7.2v7.3h-7.2zM764.3 117.2h7.2v7.3h-7.2zM875.9 191.0h7.2v7.3h-7.2zM606.8 238.0h7.2v7.3h-7.2zM613.3 238.0h7.2v7.3h-7.2zM619.9 238.0h7.2v7.3h-7.2zM665.9 251.4h7.2v7.3h-7.2zM672.4 258.2h7.2v7.3h-7.2z"/><path fill="#222222" d="M731.5 70.3h7.2v7.3h-7.2zM744.6 70.3h7.2v7.3h-7.2zM744.6 77.0h7.2v7.3h-7.2zM633.0 117.2h7.2v7.3h-7.2zM803.7 130.7h7.2v7.3h-7.2zM875.9 184.3h7.2v7.3h-7.2zM770.9 191.0h7.2v7.3h-7.2zM606.8 197.8h7.2v7.3h-7.2zM613.3 197.8h7.2v7.3h-7.2zM619.9 197.8h7.2v7.3h-7.2zM770.9 197.8h7.2v7.3h-7.2zM757.8 238.0h7.2v7.3h-7.2zM869.4 244.7h7.2v7.3h-7.2z"/><path fill="#242424" d="M606.8 16.6h7.2v7.3h-7.2zM613.3 16.6h7.2v7.3h-7.2zM619.9 16.6h7.2v7.3h-7.2zM633.0 16.6h7.2v7.3h-7.2zM606.8 23.3h7.2v7.3h-7.2zM613.3 23.3h7.2v7.3h-7.2zM619.9 23.3h7.2v7.3h-7.2zM633.0 23.3h7.2v7.3h-7.2zM606.8 30.0h7.2v7.3h-7.2zM613.3 30.0h7.2v7.3h-7.2zM619.9 30.0h7.2v7.3h-7.2zM633.0 30.0h7.2v7.3h-7.2zM692.1 70.3h7.2v7.3h-7.2zM698.7 70.3h7.2v7.3h-7.2zM718.4 77.0h7.2v7.3h-7.2zM882.5 90.4h7.2v7.3h-7.2zM764.3 123.9h7.2v7.3h-7.2zM665.9 238.0h7.2v7.3h-7.2zM902.2 285.0h7.2v7.3h-7.2zM803.7 345.4h7.2v7.3h-7.2zM803.7 352.1h7.2v7.3h-7.2zM803.7 358.8h7.2v7.3h-7.2z"/><path fill="#262626" d="M790.6 56.8h7.2v7.3h-7.2zM744.6 63.6h7.2v7.3h-7.2zM928.4 70.3h7.2v7.3h-7.2zM935.0 70.3h7.2v7.3h-7.2zM941.6 70.3h7.2v7.3h-7.2zM724.9 77.0h7.2v7.3h-7.2zM718.4 83.7h7.2v7.3h-7.2zM889.0 97.1h7.2v7.3h-7.2zM869.4 110.5h7.2v7.3h-7.2zM770.9 117.2h7.2v7.3h-7.2zM862.8 177.6h7.2v7.3h-7.2zM902.2 184.3h7.2v7.3h-7.2zM908.7 184.3h7.2v7.3h-7.2zM764.3 197.8h7.2v7.3h-7.2zM606.8 231.3h7.2v7.3h-7.2zM613.3 231.3h7.2v7.3h-7.2zM619.9 231.3h7.2v7.3h-7.2zM744.6 231.3h7.2v7.3h-7.2zM751.2 231.3h7.2v7.3h-7.2zM882.5 238.0h7.2v7.3h-7.2zM685.5 345.4h7.2v7.3h-7.2zM685.5 352.1h7.2v7.3h-7.2zM685.5 358.8h7.2v7.3h-7.2z"/><path fill="#282828" d="M823.4 97.1h7.2v7.3h-7.2zM875.9 103.8h7.2v7.3h-7.2zM770.9 123.9h7.2v7.3h-7.2zM797.1 137.4h7.2v7.3h-7.2zM810.3 144.1h7.2v7.3h-7.2zM869.4 177.6h7.2v7.3h-7.2zM665.9 184.3h7.2v7.3h-7.2zM606.8 191.0h7.2v7.3h-7.2zM613.3 191.0h7.2v7.3h-7.2zM619.9 191.0h7.2v7.3h-7.2zM895.6 291.7h7.2v7.3h-7.2zM908.7 291.7h7.2v7.3h-7.2z"/><path fill="#2a2a2a" d="M606.8 36.7h7.2v7.3h-7.2zM613.3 36.7h7.2v7.3h-7.2zM619.9 36.7h7.2v7.3h-7.2zM784.0 50.1h7.2v7.3h-7.2zM784.0 56.8h7.2v7.3h-7.2zM705.2 70.3h7.2v7.3h-7.2zM921.9 70.3h7.2v7.3h-7.2zM698.7 83.7h7.2v7.3h-7.2zM816.8 97.1h7.2v7.3h-7.2zM882.5 97.1h7.2v7.3h-7.2zM882.5 103.8h7.2v7.3h-7.2zM705.2 110.5h7.2v7.3h-7.2zM777.5 197.8h7.2v7.3h-7.2zM869.4 197.8h7.2v7.3h-7.2zM626.5 238.0h7.2v7.3h-7.2zM659.3 244.7h7.2v7.3h-7.2zM895.6 285.0h7.2v7.3h-7.2zM902.2 298.4h7.2v7.3h-7.2zM908.7 298.4h7.2v7.3h-7.2zM665.9 318.5h7.2v7.3h-7.2zM797.1 338.7h7.2v7.3h-7.2z"/><path fill="#2c2c2c" d="M692.1 63.6h7.2v7.3h-7.2zM928.4 77.0h7.2v7.3h-7.2zM935.0 77.0h7.2v7.3h-7.2zM941.6 77.0h7.2v7.3h-7.2zM698.7 103.8h7.2v7.3h-7.2zM889.0 103.8h7.2v7.3h-7.2zM757.8 117.2h7.2v7.3h-7.2zM633.0 123.9h7.2v7.3h-7.2zM810.3 130.7h7.2v7.3h-7.2zM803.7 144.1h7.2v7.3h-7.2zM895.6 170.9h7.2v7.3h-7.2zM659.3 177.6h7.2v7.3h-7.2zM764.3 191.0h7.2v7.3h-7.2zM875.9 197.8h7.2v7.3h-7.2zM606.8 204.5h7.2v7.3h-7.2zM613.3 204.5h7.2v7.3h-7.2zM619.9 204.5h7.2v7.3h-7.2zM751.2 238.0h7.2v7.3h-7.2zM875.9 238.0h7.2v7.3h-7.2zM685.5 251.4h7.2v7.3h-7.2zM665.9 271.6h7.2v7.3h-7.2zM875.9 298.4h7.2v7.3h-7.2zM882.5 298.4h7.2v7.3h-7.2zM659.3 318.5h7.2v7.3h-7.2zM665.9 325.3h7.2v7.3h-7.2zM692.1 345.4h7.2v7.3h-7.2zM790.6 345.4h7.2v7.3h-7.2zM692.1 352.1h7.2v7.3h-7.2zM790.6 352.1h7.2v7.3h-7.2zM692.1 358.8h7.2v7.3h-7.2zM790.6 358.8h7.2v7.3h-7.2z"/><path fill="#2e2e2e" d="M633.0 36.7h7.2v7.3h-7.2zM790.6 50.1h7.2v7.3h-7.2zM862.8 56.8h7.2v7.3h-7.2zM738.1 63.6h7.2v7.3h-7.2zM921.9 63.6h7.2v7.3h-7.2zM724.9 70.3h7.2v7.3h-7.2zM692.1 77.0h7.2v7.3h-7.2zM711.8 90.4h7.2v7.3h-7.2zM823.4 90.4h7.2v7.3h-7.2zM889.0 90.4h7.2v7.3h-7.2zM705.2 103.8h7.2v7.3h-7.2zM823.4 103.8h7.2v7.3h-7.2zM626.5 110.5h7.2v7.3h-7.2zM626.5 130.7h7.2v7.3h-7.2zM816.8 137.4h7.2v7.3h-7.2zM816.8 144.1h7.2v7.3h-7.2zM928.4 144.1h7.2v7.3h-7.2zM935.0 144.1h7.2v7.3h-7.2zM941.6 144.1h7.2v7.3h-7.2zM626.5 191.0h7.2v7.3h-7.2zM626.5 197.8h7.2v7.3h-7.2zM711.8 238.0h7.2v7.3h-7.2zM764.3 238.0h7.2v7.3h-7.2zM679.0 264.9h7.2v7.3h-7.2zM862.8 298.4h7.2v7.3h-7.2zM869.4 298.4h7.2v7.3h-7.2zM606.8 318.5h7.2v7.3h-7.2zM613.3 318.5h7.2v7.3h-7.2zM619.9 318.5h7.2v7.3h-7.2zM803.7 338.7h7.2v7.3h-7.2z"/><path fill="#303030" d="M784.0 43.4h7.2v7.3h-7.2zM744.6 56.8h7.2v7.3h-7.2zM685.5 63.6h7.2v7.3h-7.2zM711.8 70.3h7.2v7.3h-7.2zM705.2 90.4h7.2v7.3h-7.2zM816.8 90.4h7.2v7.3h-7.2zM633.0 110.5h7.2v7.3h-7.2zM889.0 117.2h7.2v7.3h-7.2zM757.8 123.9h7.2v7.3h-7.2zM665.9 177.6h7.2v7.3h-7.2zM659.3 184.3h7.2v7.3h-7.2zM856.2 184.3h7.2v7.3h-7.2zM882.5 184.3h7.2v7.3h-7.2zM895.6 184.3h7.2v7.3h-7.2zM770.9 204.5h7.2v7.3h-7.2zM705.2 231.3h7.2v7.3h-7.2zM705.2 238.0h7.2v7.3h-7.2zM626.5 244.7h7.2v7.3h-7.2zM869.4 251.4h7.2v7.3h-7.2zM672.4 264.9h7.2v7.3h-7.2zM672.4 271.6h7.2v7.3h-7.2zM665.9 278.3h7.2v7.3h-7.2z"/><path fill="#323232" d="M606.8 43.4h7.2v7.3h-7.2zM613.3 43.4h7.2v7.3h-7.2zM619.9 43.4h7.2v7.3h-7.2zM862.8 50.1h7.2v7.3h-7.2zM915.3 56.8h7.2v7.3h-7.2zM698.7 63.6h7.2v7.3h-7.2zM915.3 63.6h7.2v7.3h-7.2zM869.4 103.8h7.2v7.3h-7.2zM889.0 110.5h7.2v7.3h-7.2zM869.4 117.2h7.2v7.3h-7.2zM711.8 130.7h7.2v7.3h-7.2zM797.1 130.7h7.2v7.3h-7.2zM777.5 191.0h7.2v7.3h-7.2zM711.8 231.3h7.2v7.3h-7.2zM665.9 258.2h7.2v7.3h-7.2zM889.0 298.4h7.2v7.3h-7.2zM672.4 318.5h7.2v7.3h-7.2zM626.5 325.3h7.2v7.3h-7.2zM659.3 325.3h7.2v7.3h-7.2zM790.6 338.7h7.2v7.3h-7.2z"/><path fill="#343434" d="M639.6 36.7h7.2v7.3h-7.2zM698.7 56.8h7.2v7.3h-7.2zM705.2 63.6h7.2v7.3h-7.2zM928.4 63.6h7.2v7.3h-7.2zM935.0 63.6h7.2v7.3h-7.2zM941.6 63.6h7.2v7.3h-7.2zM718.4 70.3h7.2v7.3h-7.2zM698.7 97.1h7.2v7.3h-7.2zM830.0 97.1h7.2v7.3h-7.2zM606.8 110.5h7.2v7.3h-7.2zM613.3 110.5h7.2v7.3h-7.2zM619.9 110.5h7.2v7.3h-7.2zM777.5 117.2h7.2v7.3h-7.2zM705.2 123.9h7.2v7.3h-7.2zM606.8 130.7h7.2v7.3h-7.2zM613.3 130.7h7.2v7.3h-7.2zM619.9 130.7h7.2v7.3h-7.2zM921.9 137.4h7.2v7.3h-7.2zM902.2 170.9h7.2v7.3h-7.2zM856.2 177.6h7.2v7.3h-7.2zM875.9 177.6h7.2v7.3h-7.2zM889.0 177.6h7.2v7.3h-7.2zM889.0 184.3h7.2v7.3h-7.2zM882.5 191.0h7.2v7.3h-7.2zM659.3 238.0h7.2v7.3h-7.2zM665.9 264.9h7.2v7.3h-7.2zM856.2 298.4h7.2v7.3h-7.2zM895.6 298.4h7.2v7.3h-7.2zM862.8 305.1h7.2v7.3h-7.2zM606.8 311.8h7.2v7.3h-7.2zM613.3 311.8h7.2v7.3h-7.2zM619.9 311.8h7.2v7.3h-7.2zM928.4 338.7h7.2v7.3h-7.2zM935.0 338.7h7.2v7.3h-7.2zM941.6 338.7h7.2v7.3h-7.2z"/><path fill="#363636" d="M626.5 36.7h7.2v7.3h-7.2zM685.5 70.3h7.2v7.3h-7.2zM724.9 83.7h7.2v7.3h-7.2zM652.7 103.8h7.2v7.3h-7.2zM830.0 103.8h7.2v7.3h-7.2zM928.4 137.4h7.2v7.3h-7.2zM935.0 137.4h7.2v7.3h-7.2zM941.6 137.4h7.2v7.3h-7.2zM672.4 184.3h7.2v7.3h-7.2zM672.4 191.0h7.2v7.3h-7.2zM705.2 217.9h7.2v7.3h-7.2zM705.2 224.6h7.2v7.3h-7.2zM889.0 238.0h7.2v7.3h-7.2zM606.8 244.7h7.2v7.3h-7.2zM613.3 244.7h7.2v7.3h-7.2zM619.9 244.7h7.2v7.3h-7.2zM659.3 251.4h7.2v7.3h-7.2zM908.7 285.0h7.2v7.3h-7.2zM869.4 305.1h7.2v7.3h-7.2zM665.9 311.8h7.2v7.3h-7.2zM626.5 318.5h7.2v7.3h-7.2zM685.5 338.7h7.2v7.3h-7.2z"/><path fill="#383838" d="M692.1 56.8h7.2v7.3h-7.2zM790.6 63.6h7.2v7.3h-7.2zM875.9 83.7h7.2v7.3h-7.2zM830.0 90.4h7.2v7.3h-7.2zM659.3 97.1h7.2v7.3h-7.2zM895.6 97.1h7.2v7.3h-7.2zM646.2 103.8h7.2v7.3h-7.2zM711.8 110.5h7.2v7.3h-7.2zM764.3 110.5h7.2v7.3h-7.2zM711.8 117.2h7.2v7.3h-7.2zM875.9 123.9h7.2v7.3h-7.2zM882.5 123.9h7.2v7.3h-7.2zM889.0 170.9h7.2v7.3h-7.2zM862.8 197.8h7.2v7.3h-7.2zM882.5 231.3h7.2v7.3h-7.2zM738.1 278.3h7.2v7.3h-7.2zM856.2 305.1h7.2v7.3h-7.2z"/><path fill="#3a3a3a" d="M908.7 50.1h7.2v7.3h-7.2zM915.3 50.1h7.2v7.3h-7.2zM685.5 56.8h7.2v7.3h-7.2zM797.1 56.8h7.2v7.3h-7.2zM921.9 56.8h7.2v7.3h-7.2zM751.2 70.3h7.2v7.3h-7.2zM921.9 77.0h7.2v7.3h-7.2zM882.5 83.7h7.2v7.3h-7.2zM665.9 97.1h7.2v7.3h-7.2zM692.1 97.1h7.2v7.3h-7.2zM705.2 97.1h7.2v7.3h-7.2zM639.6 110.5h7.2v7.3h-7.2zM698.7 110.5h7.2v7.3h-7.2zM770.9 110.5h7.2v7.3h-7.2zM777.5 110.5h7.2v7.3h-7.2zM698.7 117.2h7.2v7.3h-7.2zM777.5 123.9h7.2v7.3h-7.2zM705.2 130.7h7.2v7.3h-7.2zM862.8 137.4h7.2v7.3h-7.2zM862.8 144.1h7.2v7.3h-7.2zM652.7 177.6h7.2v7.3h-7.2zM882.5 177.6h7.2v7.3h-7.2zM606.8 184.3h7.2v7.3h-7.2zM613.3 184.3h7.2v7.3h-7.2zM619.9 184.3h7.2v7.3h-7.2zM665.9 191.0h7.2v7.3h-7.2zM777.5 204.5h7.2v7.3h-7.2zM711.8 224.6h7.2v7.3h-7.2zM928.4 224.6h7.2v7.3h-7.2zM935.0 224.6h7.2v7.3h-7.2zM941.6 224.6h7.2v7.3h-7.2zM626.5 231.3h7.2v7.3h-7.2zM665.9 231.3h7.2v7.3h-7.2zM757.8 231.3h7.2v7.3h-7.2zM672.4 238.0h7.2v7.3h-7.2zM679.0 244.7h7.2v7.3h-7.2zM711.8 244.7h7.2v7.3h-7.2zM685.5 264.9h7.2v7.3h-7.2zM672.4 278.3h7.2v7.3h-7.2zM902.2 278.3h7.2v7.3h-7.2zM665.9 285.0h7.2v7.3h-7.2zM889.0 305.1h7.2v7.3h-7.2zM626.5 311.8h7.2v7.3h-7.2zM606.8 325.3h7.2v7.3h-7.2zM613.3 325.3h7.2v7.3h-7.2zM619.9 325.3h7.2v7.3h-7.2zM672.4 325.3h7.2v7.3h-7.2zM639.6 332.0h7.2v7.3h-7.2zM928.4 345.4h7.2v7.3h-7.2zM935.0 345.4h7.2v7.3h-7.2zM941.6 345.4h7.2v7.3h-7.2zM928.4 352.1h7.2v7.3h-7.2zM935.0 352.1h7.2v7.3h-7.2zM941.6 352.1h7.2v7.3h-7.2zM928.4 358.8h7.2v7.3h-7.2zM935.0 358.8h7.2v7.3h-7.2zM941.6 358.8h7.2v7.3h-7.2z"/><path fill="#3c3c3c" d="M856.2 50.1h7.2v7.3h-7.2zM856.2 56.8h7.2v7.3h-7.2zM698.7 90.4h7.2v7.3h-7.2zM652.7 97.1h7.2v7.3h-7.2zM810.3 97.1h7.2v7.3h-7.2zM816.8 103.8h7.2v7.3h-7.2zM639.6 117.2h7.2v7.3h-7.2zM705.2 117.2h7.2v7.3h-7.2zM698.7 123.9h7.2v7.3h-7.2zM869.4 123.9h7.2v7.3h-7.2zM633.0 130.7h7.2v7.3h-7.2zM921.9 144.1h7.2v7.3h-7.2zM915.3 184.3h7.2v7.3h-7.2zM626.5 204.5h7.2v7.3h-7.2zM764.3 231.3h7.2v7.3h-7.2zM718.4 238.0h7.2v7.3h-7.2zM869.4 238.0h7.2v7.3h-7.2zM705.2 244.7h7.2v7.3h-7.2zM757.8 244.7h7.2v7.3h-7.2zM692.1 258.2h7.2v7.3h-7.2zM659.3 271.6h7.2v7.3h-7.2zM836.5 271.6h7.2v7.3h-7.2zM744.6 278.3h7.2v7.3h-7.2zM606.8 305.1h7.2v7.3h-7.2zM613.3 305.1h7.2v7.3h-7.2zM619.9 305.1h7.2v7.3h-7.2zM875.9 305.1h7.2v7.3h-7.2zM882.5 305.1h7.2v7.3h-7.2zM652.7 318.5h7.2v7.3h-7.2zM816.8 318.5h7.2v7.3h-7.2zM633.0 325.3h7.2v7.3h-7.2zM633.0 332.0h7.2v7.3h-7.2zM784.0 345.4h7.2v7.3h-7.2zM784.0 352.1h7.2v7.3h-7.2zM784.0 358.8h7.2v7.3h-7.2z"/><path fill="#3e3e3e" d="M777.5 43.4h7.2v7.3h-7.2zM705.2 56.8h7.2v7.3h-7.2zM738.1 56.8h7.2v7.3h-7.2zM908.7 56.8h7.2v7.3h-7.2zM928.4 56.8h7.2v7.3h-7.2zM935.0 56.8h7.2v7.3h-7.2zM941.6 56.8h7.2v7.3h-7.2zM784.0 63.6h7.2v7.3h-7.2zM915.3 70.3h7.2v7.3h-7.2zM744.6 83.7h7.2v7.3h-7.2zM718.4 90.4h7.2v7.3h-7.2zM639.6 103.8h7.2v7.3h-7.2zM659.3 103.8h7.2v7.3h-7.2zM718.4 117.2h7.2v7.3h-7.2zM784.0 117.2h7.2v7.3h-7.2zM711.8 123.9h7.2v7.3h-7.2zM724.9 123.9h7.2v7.3h-7.2zM823.4 144.1h7.2v7.3h-7.2zM869.4 170.9h7.2v7.3h-7.2zM626.5 184.3h7.2v7.3h-7.2zM856.2 191.0h7.2v7.3h-7.2zM784.0 197.8h7.2v7.3h-7.2zM606.8 211.2h7.2v7.3h-7.2zM613.3 211.2h7.2v7.3h-7.2zM619.9 211.2h7.2v7.3h-7.2zM698.7 211.2h7.2v7.3h-7.2zM744.6 224.6h7.2v7.3h-7.2zM764.3 244.7h7.2v7.3h-7.2zM889.0 244.7h7.2v7.3h-7.2zM659.3 258.2h7.2v7.3h-7.2zM659.3 264.9h7.2v7.3h-7.2zM830.0 264.9h7.2v7.3h-7.2zM659.3 278.3h7.2v7.3h-7.2zM908.7 278.3h7.2v7.3h-7.2zM659.3 285.0h7.2v7.3h-7.2zM705.2 291.7h7.2v7.3h-7.2zM895.6 305.1h7.2v7.3h-7.2zM902.2 305.1h7.2v7.3h-7.2zM810.3 318.5h7.2v7.3h-7.2zM928.4 332.0h7.2v7.3h-7.2zM935.0 332.0h7.2v7.3h-7.2zM941.6 332.0h7.2v7.3h-7.2zM679.0 338.7h7.2v7.3h-7.2zM784.0 338.7h7.2v7.3h-7.2zM679.0 345.4h7.2v7.3h-7.2zM679.0 352.1h7.2v7.3h-7.2zM679.0 358.8h7.2v7.3h-7.2z"/><path fill="#404040" d="M777.5 36.7h7.2v7.3h-7.2zM790.6 43.4h7.2v7.3h-7.2zM679.0 56.8h7.2v7.3h-7.2zM679.0 63.6h7.2v7.3h-7.2zM751.2 77.0h7.2v7.3h-7.2zM731.5 83.7h7.2v7.3h-7.2zM928.4 83.7h7.2v7.3h-7.2zM935.0 83.7h7.2v7.3h-7.2zM941.6 83.7h7.2v7.3h-7.2zM692.1 90.4h7.2v7.3h-7.2zM875.9 90.4h7.2v7.3h-7.2zM895.6 90.4h7.2v7.3h-7.2zM862.8 103.8h7.2v7.3h-7.2zM895.6 103.8h7.2v7.3h-7.2zM757.8 110.5h7.2v7.3h-7.2zM784.0 110.5h7.2v7.3h-7.2zM830.0 110.5h7.2v7.3h-7.2zM862.8 110.5h7.2v7.3h-7.2zM692.1 117.2h7.2v7.3h-7.2zM751.2 117.2h7.2v7.3h-7.2zM718.4 123.9h7.2v7.3h-7.2zM718.4 130.7h7.2v7.3h-7.2zM764.3 130.7h7.2v7.3h-7.2zM869.4 130.7h7.2v7.3h-7.2zM797.1 144.1h7.2v7.3h-7.2zM862.8 150.8h7.2v7.3h-7.2zM862.8 170.9h7.2v7.3h-7.2zM856.2 211.2h7.2v7.3h-7.2zM606.8 224.6h7.2v7.3h-7.2zM613.3 224.6h7.2v7.3h-7.2zM619.9 224.6h7.2v7.3h-7.2zM738.1 224.6h7.2v7.3h-7.2zM738.1 231.3h7.2v7.3h-7.2zM770.9 231.3h7.2v7.3h-7.2zM770.9 238.0h7.2v7.3h-7.2zM718.4 244.7h7.2v7.3h-7.2zM928.4 251.4h7.2v7.3h-7.2zM935.0 251.4h7.2v7.3h-7.2zM941.6 251.4h7.2v7.3h-7.2zM836.5 264.9h7.2v7.3h-7.2zM889.0 291.7h7.2v7.3h-7.2zM705.2 298.4h7.2v7.3h-7.2zM849.7 298.4h7.2v7.3h-7.2zM915.3 298.4h7.2v7.3h-7.2zM626.5 305.1h7.2v7.3h-7.2zM908.7 305.1h7.2v7.3h-7.2zM659.3 311.8h7.2v7.3h-7.2zM810.3 311.8h7.2v7.3h-7.2zM764.3 325.3h7.2v7.3h-7.2zM606.8 332.0h7.2v7.3h-7.2zM613.3 332.0h7.2v7.3h-7.2zM619.9 332.0h7.2v7.3h-7.2zM803.7 332.0h7.2v7.3h-7.2zM921.9 338.7h7.2v7.3h-7.2zM810.3 345.4h7.2v7.3h-7.2zM869.4 345.4h7.2v7.3h-7.2zM810.3 352.1h7.2v7.3h-7.2zM869.4 352.1h7.2v7.3h-7.2zM810.3 358.8h7.2v7.3h-7.2zM869.4 358.8h7.2v7.3h-7.2z"/><path fill="#424242" d="M626.5 43.4h7.2v7.3h-7.2zM908.7 43.4h7.2v7.3h-7.2zM928.4 43.4h7.2v7.3h-7.2zM935.0 43.4h7.2v7.3h-7.2zM941.6 43.4h7.2v7.3h-7.2zM869.4 50.1h7.2v7.3h-7.2zM928.4 50.1h7.2v7.3h-7.2zM935.0 50.1h7.2v7.3h-7.2zM941.6 50.1h7.2v7.3h-7.2zM869.4 56.8h7.2v7.3h-7.2zM711.8 63.6h7.2v7.3h-7.2zM692.1 83.7h7.2v7.3h-7.2zM816.8 83.7h7.2v7.3h-7.2zM659.3 90.4h7.2v7.3h-7.2zM665.9 90.4h7.2v7.3h-7.2zM685.5 90.4h7.2v7.3h-7.2zM810.3 90.4h7.2v7.3h-7.2zM646.2 97.1h7.2v7.3h-7.2zM875.9 97.1h7.2v7.3h-7.2zM692.1 103.8h7.2v7.3h-7.2zM836.5 103.8h7.2v7.3h-7.2zM803.7 123.9h7.2v7.3h-7.2zM862.8 130.7h7.2v7.3h-7.2zM711.8 137.4h7.2v7.3h-7.2zM718.4 137.4h7.2v7.3h-7.2zM823.4 150.8h7.2v7.3h-7.2zM869.4 150.8h7.2v7.3h-7.2zM659.3 170.9h7.2v7.3h-7.2zM679.0 197.8h7.2v7.3h-7.2zM882.5 197.8h7.2v7.3h-7.2zM764.3 204.5h7.2v7.3h-7.2zM856.2 204.5h7.2v7.3h-7.2zM777.5 211.2h7.2v7.3h-7.2zM849.7 211.2h7.2v7.3h-7.2zM921.9 224.6h7.2v7.3h-7.2zM698.7 238.0h7.2v7.3h-7.2zM633.0 244.7h7.2v7.3h-7.2zM698.7 244.7h7.2v7.3h-7.2zM633.0 251.4h7.2v7.3h-7.2zM889.0 251.4h7.2v7.3h-7.2zM665.9 291.7h7.2v7.3h-7.2zM875.9 291.7h7.2v7.3h-7.2zM882.5 291.7h7.2v7.3h-7.2zM862.8 311.8h7.2v7.3h-7.2zM679.0 318.5h7.2v7.3h-7.2zM810.3 325.3h7.2v7.3h-7.2zM816.8 325.3h7.2v7.3h-7.2zM626.5 332.0h7.2v7.3h-7.2zM672.4 332.0h7.2v7.3h-7.2zM606.8 338.7h7.2v7.3h-7.2zM613.3 338.7h7.2v7.3h-7.2zM619.9 338.7h7.2v7.3h-7.2zM639.6 338.7h7.2v7.3h-7.2zM692.1 338.7h7.2v7.3h-7.2zM738.1 345.4h7.2v7.3h-7.2zM744.6 345.4h7.2v7.3h-7.2zM856.2 345.4h7.2v7.3h-7.2zM862.8 345.4h7.2v7.3h-7.2zM921.9 345.4h7.2v7.3h-7.2zM738.1 352.1h7.2v7.3h-7.2zM744.6 352.1h7.2v7.3h-7.2zM856.2 352.1h7.2v7.3h-7.2zM862.8 352.1h7.2v7.3h-7.2zM921.9 352.1h7.2v7.3h-7.2zM738.1 358.8h7.2v7.3h-7.2zM744.6 358.8h7.2v7.3h-7.2zM856.2 358.8h7.2v7.3h-7.2zM862.8 358.8h7.2v7.3h-7.2zM921.9 358.8h7.2v7.3h-7.2z"/><path fill="#444444" d="M882.5 16.6h7.2v7.3h-7.2zM889.0 16.6h7.2v7.3h-7.2zM882.5 23.3h7.2v7.3h-7.2zM889.0 23.3h7.2v7.3h-7.2zM882.5 30.0h7.2v7.3h-7.2zM889.0 30.0h7.2v7.3h-7.2zM928.4 36.7h7.2v7.3h-7.2zM935.0 36.7h7.2v7.3h-7.2zM941.6 36.7h7.2v7.3h-7.2zM862.8 43.4h7.2v7.3h-7.2zM698.7 50.1h7.2v7.3h-7.2zM797.1 50.1h7.2v7.3h-7.2zM921.9 50.1h7.2v7.3h-7.2zM731.5 63.6h7.2v7.3h-7.2zM751.2 63.6h7.2v7.3h-7.2zM797.1 63.6h7.2v7.3h-7.2zM685.5 77.0h7.2v7.3h-7.2zM738.1 83.7h7.2v7.3h-7.2zM823.4 83.7h7.2v7.3h-7.2zM921.9 83.7h7.2v7.3h-7.2zM679.0 90.4h7.2v7.3h-7.2zM836.5 97.1h7.2v7.3h-7.2zM902.2 97.1h7.2v7.3h-7.2zM823.4 110.5h7.2v7.3h-7.2zM836.5 110.5h7.2v7.3h-7.2zM797.1 123.9h7.2v7.3h-7.2zM731.5 130.7h7.2v7.3h-7.2zM738.1 130.7h7.2v7.3h-7.2zM816.8 130.7h7.2v7.3h-7.2zM705.2 137.4h7.2v7.3h-7.2zM856.2 137.4h7.2v7.3h-7.2zM869.4 137.4h7.2v7.3h-7.2zM869.4 157.5h7.2v7.3h-7.2zM875.9 170.9h7.2v7.3h-7.2zM882.5 170.9h7.2v7.3h-7.2zM810.3 177.6h7.2v7.3h-7.2zM915.3 177.6h7.2v7.3h-7.2zM698.7 217.9h7.2v7.3h-7.2zM849.7 217.9h7.2v7.3h-7.2zM928.4 217.9h7.2v7.3h-7.2zM935.0 217.9h7.2v7.3h-7.2zM941.6 217.9h7.2v7.3h-7.2zM659.3 231.3h7.2v7.3h-7.2zM889.0 231.3h7.2v7.3h-7.2zM928.4 231.3h7.2v7.3h-7.2zM935.0 231.3h7.2v7.3h-7.2zM941.6 231.3h7.2v7.3h-7.2zM862.8 244.7h7.2v7.3h-7.2zM639.6 258.2h7.2v7.3h-7.2zM646.2 258.2h7.2v7.3h-7.2zM652.7 258.2h7.2v7.3h-7.2zM869.4 258.2h7.2v7.3h-7.2zM928.4 258.2h7.2v7.3h-7.2zM935.0 258.2h7.2v7.3h-7.2zM941.6 258.2h7.2v7.3h-7.2zM928.4 264.9h7.2v7.3h-7.2zM935.0 264.9h7.2v7.3h-7.2zM941.6 264.9h7.2v7.3h-7.2zM895.6 278.3h7.2v7.3h-7.2zM711.8 291.7h7.2v7.3h-7.2zM915.3 291.7h7.2v7.3h-7.2zM711.8 298.4h7.2v7.3h-7.2zM803.7 305.1h7.2v7.3h-7.2zM849.7 305.1h7.2v7.3h-7.2zM823.4 325.3h7.2v7.3h-7.2zM757.8 332.0h7.2v7.3h-7.2zM764.3 332.0h7.2v7.3h-7.2zM770.9 332.0h7.2v7.3h-7.2zM646.2 338.7h7.2v7.3h-7.2zM777.5 338.7h7.2v7.3h-7.2zM810.3 338.7h7.2v7.3h-7.2zM862.8 338.7h7.2v7.3h-7.2zM869.4 338.7h7.2v7.3h-7.2zM698.7 345.4h7.2v7.3h-7.2zM875.9 345.4h7.2v7.3h-7.2zM698.7 352.1h7.2v7.3h-7.2zM875.9 352.1h7.2v7.3h-7.2zM698.7 358.8h7.2v7.3h-7.2zM875.9 358.8h7.2v7.3h-7.2z"/><path fill="#464646" d="M639.6 16.6h7.2v7.3h-7.2zM705.2 16.6h7.2v7.3h-7.2zM639.6 23.3h7.2v7.3h-7.2zM705.2 23.3h7.2v7.3h-7.2zM639.6 30.0h7.2v7.3h-7.2zM705.2 30.0h7.2v7.3h-7.2zM692.1 50.1h7.2v7.3h-7.2zM908.7 63.6h7.2v7.3h-7.2zM751.2 83.7h7.2v7.3h-7.2zM672.4 90.4h7.2v7.3h-7.2zM921.9 90.4h7.2v7.3h-7.2zM633.0 103.8h7.2v7.3h-7.2zM646.2 110.5h7.2v7.3h-7.2zM790.6 117.2h7.2v7.3h-7.2zM731.5 123.9h7.2v7.3h-7.2zM862.8 123.9h7.2v7.3h-7.2zM757.8 130.7h7.2v7.3h-7.2zM770.9 130.7h7.2v7.3h-7.2zM875.9 130.7h7.2v7.3h-7.2zM790.6 137.4h7.2v7.3h-7.2zM869.4 144.1h7.2v7.3h-7.2zM816.8 150.8h7.2v7.3h-7.2zM928.4 150.8h7.2v7.3h-7.2zM935.0 150.8h7.2v7.3h-7.2zM941.6 150.8h7.2v7.3h-7.2zM875.9 157.5h7.2v7.3h-7.2zM875.9 164.2h7.2v7.3h-7.2zM652.7 170.9h7.2v7.3h-7.2zM797.1 177.6h7.2v7.3h-7.2zM803.7 177.6h7.2v7.3h-7.2zM679.0 191.0h7.2v7.3h-7.2zM672.4 197.8h7.2v7.3h-7.2zM856.2 197.8h7.2v7.3h-7.2zM862.8 204.5h7.2v7.3h-7.2zM626.5 211.2h7.2v7.3h-7.2zM784.0 211.2h7.2v7.3h-7.2zM921.9 217.9h7.2v7.3h-7.2zM718.4 231.3h7.2v7.3h-7.2zM875.9 231.3h7.2v7.3h-7.2zM744.6 238.0h7.2v7.3h-7.2zM626.5 251.4h7.2v7.3h-7.2zM862.8 251.4h7.2v7.3h-7.2zM921.9 264.9h7.2v7.3h-7.2zM679.0 271.6h7.2v7.3h-7.2zM731.5 271.6h7.2v7.3h-7.2zM843.1 271.6h7.2v7.3h-7.2zM856.2 291.7h7.2v7.3h-7.2zM672.4 311.8h7.2v7.3h-7.2zM652.7 325.3h7.2v7.3h-7.2zM679.0 332.0h7.2v7.3h-7.2zM692.1 332.0h7.2v7.3h-7.2zM797.1 332.0h7.2v7.3h-7.2zM810.3 332.0h7.2v7.3h-7.2zM921.9 332.0h7.2v7.3h-7.2zM626.5 338.7h7.2v7.3h-7.2zM757.8 338.7h7.2v7.3h-7.2zM626.5 345.4h7.2v7.3h-7.2zM751.2 345.4h7.2v7.3h-7.2zM777.5 345.4h7.2v7.3h-7.2zM626.5 352.1h7.2v7.3h-7.2zM751.2 352.1h7.2v7.3h-7.2zM777.5 352.1h7.2v7.3h-7.2zM626.5 358.8h7.2v7.3h-7.2zM751.2 358.8h7.2v7.3h-7.2zM777.5 358.8h7.2v7.3h-7.2z"/><path fill="#484848" d="M875.9 16.6h7.2v7.3h-7.2zM875.9 23.3h7.2v7.3h-7.2zM875.9 30.0h7.2v7.3h-7.2zM823.4 36.7h7.2v7.3h-7.2zM921.9 36.7h7.2v7.3h-7.2zM915.3 43.4h7.2v7.3h-7.2zM777.5 50.1h7.2v7.3h-7.2zM672.4 56.8h7.2v7.3h-7.2zM751.2 56.8h7.2v7.3h-7.2zM685.5 83.7h7.2v7.3h-7.2zM889.0 83.7h7.2v7.3h-7.2zM928.4 90.4h7.2v7.3h-7.2zM935.0 90.4h7.2v7.3h-7.2zM941.6 90.4h7.2v7.3h-7.2zM672.4 97.1h7.2v7.3h-7.2zM685.5 97.1h7.2v7.3h-7.2zM711.8 103.8h7.2v7.3h-7.2zM692.1 110.5h7.2v7.3h-7.2zM862.8 117.2h7.2v7.3h-7.2zM639.6 123.9h7.2v7.3h-7.2zM751.2 123.9h7.2v7.3h-7.2zM869.4 164.2h7.2v7.3h-7.2zM882.5 164.2h7.2v7.3h-7.2zM908.7 170.9h7.2v7.3h-7.2zM672.4 177.6h7.2v7.3h-7.2zM633.0 191.0h7.2v7.3h-7.2zM889.0 191.0h7.2v7.3h-7.2zM633.0 197.8h7.2v7.3h-7.2zM757.8 197.8h7.2v7.3h-7.2zM685.5 204.5h7.2v7.3h-7.2zM784.0 204.5h7.2v7.3h-7.2zM692.1 251.4h7.2v7.3h-7.2zM875.9 258.2h7.2v7.3h-7.2zM652.7 264.9h7.2v7.3h-7.2zM830.0 271.6h7.2v7.3h-7.2zM908.7 271.6h7.2v7.3h-7.2zM731.5 278.3h7.2v7.3h-7.2zM744.6 285.0h7.2v7.3h-7.2zM889.0 285.0h7.2v7.3h-7.2zM633.0 311.8h7.2v7.3h-7.2zM633.0 318.5h7.2v7.3h-7.2zM823.4 318.5h7.2v7.3h-7.2zM679.0 325.3h7.2v7.3h-7.2zM685.5 325.3h7.2v7.3h-7.2zM751.2 332.0h7.2v7.3h-7.2zM633.0 338.7h7.2v7.3h-7.2zM751.2 338.7h7.2v7.3h-7.2zM770.9 338.7h7.2v7.3h-7.2z"/><path fill="#4a4a4a" d="M928.4 16.6h7.2v7.3h-7.2zM935.0 16.6h7.2v7.3h-7.2zM941.6 16.6h7.2v7.3h-7.2zM928.4 23.3h7.2v7.3h-7.2zM935.0 23.3h7.2v7.3h-7.2zM941.6 23.3h7.2v7.3h-7.2zM928.4 30.0h7.2v7.3h-7.2zM935.0 30.0h7.2v7.3h-7.2zM941.6 30.0h7.2v7.3h-7.2zM784.0 36.7h7.2v7.3h-7.2zM882.5 36.7h7.2v7.3h-7.2zM856.2 43.4h7.2v7.3h-7.2zM902.2 43.4h7.2v7.3h-7.2zM921.9 43.4h7.2v7.3h-7.2zM705.2 50.1h7.2v7.3h-7.2zM744.6 50.1h7.2v7.3h-7.2zM777.5 56.8h7.2v7.3h-7.2zM679.0 83.7h7.2v7.3h-7.2zM652.7 90.4h7.2v7.3h-7.2zM902.2 90.4h7.2v7.3h-7.2zM711.8 97.1h7.2v7.3h-7.2zM908.7 97.1h7.2v7.3h-7.2zM928.4 97.1h7.2v7.3h-7.2zM935.0 97.1h7.2v7.3h-7.2zM941.6 97.1h7.2v7.3h-7.2zM823.4 117.2h7.2v7.3h-7.2zM810.3 123.9h7.2v7.3h-7.2zM724.9 130.7h7.2v7.3h-7.2zM777.5 130.7h7.2v7.3h-7.2zM790.6 130.7h7.2v7.3h-7.2zM856.2 130.7h7.2v7.3h-7.2zM856.2 144.1h7.2v7.3h-7.2zM830.0 150.8h7.2v7.3h-7.2zM665.9 170.9h7.2v7.3h-7.2zM856.2 170.9h7.2v7.3h-7.2zM790.6 177.6h7.2v7.3h-7.2zM652.7 184.3h7.2v7.3h-7.2zM770.9 184.3h7.2v7.3h-7.2zM810.3 184.3h7.2v7.3h-7.2zM757.8 191.0h7.2v7.3h-7.2zM692.1 204.5h7.2v7.3h-7.2zM849.7 204.5h7.2v7.3h-7.2zM692.1 211.2h7.2v7.3h-7.2zM843.1 217.9h7.2v7.3h-7.2zM856.2 217.9h7.2v7.3h-7.2zM724.9 244.7h7.2v7.3h-7.2zM639.6 251.4h7.2v7.3h-7.2zM882.5 258.2h7.2v7.3h-7.2zM823.4 264.9h7.2v7.3h-7.2zM738.1 271.6h7.2v7.3h-7.2zM928.4 271.6h7.2v7.3h-7.2zM935.0 271.6h7.2v7.3h-7.2zM941.6 271.6h7.2v7.3h-7.2zM915.3 285.0h7.2v7.3h-7.2zM849.7 291.7h7.2v7.3h-7.2zM606.8 298.4h7.2v7.3h-7.2zM613.3 298.4h7.2v7.3h-7.2zM619.9 298.4h7.2v7.3h-7.2zM843.1 298.4h7.2v7.3h-7.2zM915.3 305.1h7.2v7.3h-7.2zM803.7 311.8h7.2v7.3h-7.2zM902.2 311.8h7.2v7.3h-7.2zM764.3 318.5h7.2v7.3h-7.2zM803.7 318.5h7.2v7.3h-7.2zM770.9 325.3h7.2v7.3h-7.2zM646.2 332.0h7.2v7.3h-7.2zM862.8 332.0h7.2v7.3h-7.2zM698.7 338.7h7.2v7.3h-7.2zM606.8 345.4h7.2v7.3h-7.2zM613.3 345.4h7.2v7.3h-7.2zM619.9 345.4h7.2v7.3h-7.2zM757.8 345.4h7.2v7.3h-7.2zM606.8 352.1h7.2v7.3h-7.2zM613.3 352.1h7.2v7.3h-7.2zM619.9 352.1h7.2v7.3h-7.2zM757.8 352.1h7.2v7.3h-7.2zM606.8 358.8h7.2v7.3h-7.2zM613.3 358.8h7.2v7.3h-7.2zM619.9 358.8h7.2v7.3h-7.2zM757.8 358.8h7.2v7.3h-7.2z"/><path fill="#4c4c4c" d="M711.8 16.6h7.2v7.3h-7.2zM895.6 16.6h7.2v7.3h-7.2zM915.3 16.6h7.2v7.3h-7.2zM711.8 23.3h7.2v7.3h-7.2zM895.6 23.3h7.2v7.3h-7.2zM915.3 23.3h7.2v7.3h-7.2zM711.8 30.0h7.2v7.3h-7.2zM895.6 30.0h7.2v7.3h-7.2zM915.3 30.0h7.2v7.3h-7.2zM902.2 36.7h7.2v7.3h-7.2zM869.4 43.4h7.2v7.3h-7.2zM685.5 50.1h7.2v7.3h-7.2zM810.3 56.8h7.2v7.3h-7.2zM816.8 63.6h7.2v7.3h-7.2zM862.8 63.6h7.2v7.3h-7.2zM679.0 70.3h7.2v7.3h-7.2zM915.3 77.0h7.2v7.3h-7.2zM836.5 90.4h7.2v7.3h-7.2zM921.9 97.1h7.2v7.3h-7.2zM665.9 103.8h7.2v7.3h-7.2zM810.3 103.8h7.2v7.3h-7.2zM856.2 103.8h7.2v7.3h-7.2zM843.1 110.5h7.2v7.3h-7.2zM790.6 123.9h7.2v7.3h-7.2zM889.0 123.9h7.2v7.3h-7.2zM698.7 130.7h7.2v7.3h-7.2zM698.7 137.4h7.2v7.3h-7.2zM705.2 144.1h7.2v7.3h-7.2zM770.9 157.5h7.2v7.3h-7.2zM862.8 157.5h7.2v7.3h-7.2zM803.7 184.3h7.2v7.3h-7.2zM659.3 191.0h7.2v7.3h-7.2zM862.8 211.2h7.2v7.3h-7.2zM711.8 217.9h7.2v7.3h-7.2zM784.0 217.9h7.2v7.3h-7.2zM698.7 231.3h7.2v7.3h-7.2zM606.8 251.4h7.2v7.3h-7.2zM613.3 251.4h7.2v7.3h-7.2zM619.9 251.4h7.2v7.3h-7.2zM652.7 251.4h7.2v7.3h-7.2zM921.9 251.4h7.2v7.3h-7.2zM810.3 271.6h7.2v7.3h-7.2zM915.3 271.6h7.2v7.3h-7.2zM915.3 278.3h7.2v7.3h-7.2zM816.8 311.8h7.2v7.3h-7.2zM856.2 311.8h7.2v7.3h-7.2zM908.7 311.8h7.2v7.3h-7.2zM639.6 325.3h7.2v7.3h-7.2zM757.8 325.3h7.2v7.3h-7.2zM803.7 325.3h7.2v7.3h-7.2zM685.5 332.0h7.2v7.3h-7.2zM698.7 332.0h7.2v7.3h-7.2zM777.5 332.0h7.2v7.3h-7.2zM764.3 338.7h7.2v7.3h-7.2zM633.0 345.4h7.2v7.3h-7.2zM731.5 345.4h7.2v7.3h-7.2zM849.7 345.4h7.2v7.3h-7.2zM633.0 352.1h7.2v7.3h-7.2zM731.5 352.1h7.2v7.3h-7.2zM849.7 352.1h7.2v7.3h-7.2zM633.0 358.8h7.2v7.3h-7.2zM731.5 358.8h7.2v7.3h-7.2zM849.7 358.8h7.2v7.3h-7.2z"/><path fill="#4e4e4e" d="M843.1 16.6h7.2v7.3h-7.2zM921.9 16.6h7.2v7.3h-7.2zM843.1 23.3h7.2v7.3h-7.2zM921.9 23.3h7.2v7.3h-7.2zM843.1 30.0h7.2v7.3h-7.2zM921.9 30.0h7.2v7.3h-7.2zM770.9 36.7h7.2v7.3h-7.2zM830.0 36.7h7.2v7.3h-7.2zM875.9 36.7h7.2v7.3h-7.2zM889.0 36.7h7.2v7.3h-7.2zM895.6 36.7h7.2v7.3h-7.2zM915.3 36.7h7.2v7.3h-7.2zM803.7 56.8h7.2v7.3h-7.2zM816.8 56.8h7.2v7.3h-7.2zM718.4 63.6h7.2v7.3h-7.2zM830.0 83.7h7.2v7.3h-7.2zM915.3 90.4h7.2v7.3h-7.2zM915.3 97.1h7.2v7.3h-7.2zM626.5 103.8h7.2v7.3h-7.2zM652.7 110.5h7.2v7.3h-7.2zM659.3 110.5h7.2v7.3h-7.2zM816.8 110.5h7.2v7.3h-7.2zM816.8 117.2h7.2v7.3h-7.2zM784.0 123.9h7.2v7.3h-7.2zM816.8 123.9h7.2v7.3h-7.2zM744.6 130.7h7.2v7.3h-7.2zM711.8 144.1h7.2v7.3h-7.2zM810.3 150.8h7.2v7.3h-7.2zM724.9 177.6h7.2v7.3h-7.2zM849.7 177.6h7.2v7.3h-7.2zM633.0 184.3h7.2v7.3h-7.2zM764.3 184.3h7.2v7.3h-7.2zM685.5 197.8h7.2v7.3h-7.2zM705.2 211.2h7.2v7.3h-7.2zM843.1 211.2h7.2v7.3h-7.2zM606.8 217.9h7.2v7.3h-7.2zM613.3 217.9h7.2v7.3h-7.2zM619.9 217.9h7.2v7.3h-7.2zM790.6 217.9h7.2v7.3h-7.2zM672.4 231.3h7.2v7.3h-7.2zM724.9 238.0h7.2v7.3h-7.2zM751.2 244.7h7.2v7.3h-7.2zM718.4 251.4h7.2v7.3h-7.2zM633.0 258.2h7.2v7.3h-7.2zM823.4 258.2h7.2v7.3h-7.2zM830.0 258.2h7.2v7.3h-7.2zM862.8 258.2h7.2v7.3h-7.2zM915.3 264.9h7.2v7.3h-7.2zM921.9 271.6h7.2v7.3h-7.2zM751.2 278.3h7.2v7.3h-7.2zM816.8 278.3h7.2v7.3h-7.2zM843.1 278.3h7.2v7.3h-7.2zM738.1 285.0h7.2v7.3h-7.2zM869.4 291.7h7.2v7.3h-7.2zM626.5 298.4h7.2v7.3h-7.2zM803.7 298.4h7.2v7.3h-7.2zM705.2 305.1h7.2v7.3h-7.2zM810.3 305.1h7.2v7.3h-7.2zM869.4 311.8h7.2v7.3h-7.2zM685.5 318.5h7.2v7.3h-7.2zM692.1 325.3h7.2v7.3h-7.2zM830.0 325.3h7.2v7.3h-7.2zM790.6 332.0h7.2v7.3h-7.2zM856.2 338.7h7.2v7.3h-7.2zM639.6 345.4h7.2v7.3h-7.2zM646.2 345.4h7.2v7.3h-7.2zM639.6 352.1h7.2v7.3h-7.2zM646.2 352.1h7.2v7.3h-7.2zM639.6 358.8h7.2v7.3h-7.2zM646.2 358.8h7.2v7.3h-7.2z"/><path fill="#505050" d="M908.7 16.6h7.2v7.3h-7.2zM908.7 23.3h7.2v7.3h-7.2zM908.7 30.0h7.2v7.3h-7.2zM646.2 36.7h7.2v7.3h-7.2zM908.7 36.7h7.2v7.3h-7.2zM646.2 43.4h7.2v7.3h-7.2zM698.7 43.4h7.2v7.3h-7.2zM705.2 43.4h7.2v7.3h-7.2zM823.4 43.4h7.2v7.3h-7.2zM830.0 43.4h7.2v7.3h-7.2zM738.1 50.1h7.2v7.3h-7.2zM803.7 50.1h7.2v7.3h-7.2zM902.2 50.1h7.2v7.3h-7.2zM724.9 63.6h7.2v7.3h-7.2zM639.6 97.1h7.2v7.3h-7.2zM679.0 97.1h7.2v7.3h-7.2zM751.2 110.5h7.2v7.3h-7.2zM724.9 117.2h7.2v7.3h-7.2zM830.0 117.2h7.2v7.3h-7.2zM692.1 123.9h7.2v7.3h-7.2zM823.4 123.9h7.2v7.3h-7.2zM856.2 123.9h7.2v7.3h-7.2zM751.2 130.7h7.2v7.3h-7.2zM784.0 130.7h7.2v7.3h-7.2zM921.9 130.7h7.2v7.3h-7.2zM724.9 137.4h7.2v7.3h-7.2zM856.2 150.8h7.2v7.3h-7.2zM764.3 157.5h7.2v7.3h-7.2zM823.4 157.5h7.2v7.3h-7.2zM830.0 157.5h7.2v7.3h-7.2zM889.0 164.2h7.2v7.3h-7.2zM646.2 170.9h7.2v7.3h-7.2zM606.8 177.6h7.2v7.3h-7.2zM613.3 177.6h7.2v7.3h-7.2zM619.9 177.6h7.2v7.3h-7.2zM731.5 177.6h7.2v7.3h-7.2zM816.8 184.3h7.2v7.3h-7.2zM665.9 197.8h7.2v7.3h-7.2zM869.4 204.5h7.2v7.3h-7.2zM626.5 224.6h7.2v7.3h-7.2zM659.3 224.6h7.2v7.3h-7.2zM665.9 224.6h7.2v7.3h-7.2zM698.7 224.6h7.2v7.3h-7.2zM921.9 231.3h7.2v7.3h-7.2zM633.0 238.0h7.2v7.3h-7.2zM652.7 244.7h7.2v7.3h-7.2zM921.9 244.7h7.2v7.3h-7.2zM724.9 251.4h7.2v7.3h-7.2zM816.8 258.2h7.2v7.3h-7.2zM646.2 264.9h7.2v7.3h-7.2zM843.1 264.9h7.2v7.3h-7.2zM803.7 271.6h7.2v7.3h-7.2zM902.2 271.6h7.2v7.3h-7.2zM672.4 285.0h7.2v7.3h-7.2zM659.3 291.7h7.2v7.3h-7.2zM862.8 291.7h7.2v7.3h-7.2zM698.7 298.4h7.2v7.3h-7.2zM797.1 298.4h7.2v7.3h-7.2zM921.9 298.4h7.2v7.3h-7.2zM685.5 311.8h7.2v7.3h-7.2zM895.6 311.8h7.2v7.3h-7.2zM757.8 318.5h7.2v7.3h-7.2zM770.9 318.5h7.2v7.3h-7.2zM665.9 332.0h7.2v7.3h-7.2zM856.2 332.0h7.2v7.3h-7.2zM869.4 332.0h7.2v7.3h-7.2zM770.9 345.4h7.2v7.3h-7.2zM770.9 352.1h7.2v7.3h-7.2zM770.9 358.8h7.2v7.3h-7.2z"/><path fill="#525252" d="M823.4 16.6h7.2v7.3h-7.2zM830.0 16.6h7.2v7.3h-7.2zM836.5 16.6h7.2v7.3h-7.2zM849.7 16.6h7.2v7.3h-7.2zM869.4 16.6h7.2v7.3h-7.2zM823.4 23.3h7.2v7.3h-7.2zM830.0 23.3h7.2v7.3h-7.2zM836.5 23.3h7.2v7.3h-7.2zM849.7 23.3h7.2v7.3h-7.2zM869.4 23.3h7.2v7.3h-7.2zM823.4 30.0h7.2v7.3h-7.2zM830.0 30.0h7.2v7.3h-7.2zM836.5 30.0h7.2v7.3h-7.2zM849.7 30.0h7.2v7.3h-7.2zM869.4 30.0h7.2v7.3h-7.2zM639.6 43.4h7.2v7.3h-7.2zM679.0 50.1h7.2v7.3h-7.2zM672.4 63.6h7.2v7.3h-7.2zM679.0 77.0h7.2v7.3h-7.2zM915.3 83.7h7.2v7.3h-7.2zM908.7 90.4h7.2v7.3h-7.2zM803.7 97.1h7.2v7.3h-7.2zM843.1 103.8h7.2v7.3h-7.2zM895.6 110.5h7.2v7.3h-7.2zM836.5 117.2h7.2v7.3h-7.2zM843.1 117.2h7.2v7.3h-7.2zM849.7 117.2h7.2v7.3h-7.2zM692.1 130.7h7.2v7.3h-7.2zM606.8 137.4h7.2v7.3h-7.2zM613.3 137.4h7.2v7.3h-7.2zM619.9 137.4h7.2v7.3h-7.2zM626.5 137.4h7.2v7.3h-7.2zM757.8 137.4h7.2v7.3h-7.2zM823.4 137.4h7.2v7.3h-7.2zM915.3 137.4h7.2v7.3h-7.2zM823.4 164.2h7.2v7.3h-7.2zM862.8 164.2h7.2v7.3h-7.2zM646.2 177.6h7.2v7.3h-7.2zM816.8 177.6h7.2v7.3h-7.2zM679.0 184.3h7.2v7.3h-7.2zM679.0 204.5h7.2v7.3h-7.2zM626.5 217.9h7.2v7.3h-7.2zM836.5 217.9h7.2v7.3h-7.2zM862.8 217.9h7.2v7.3h-7.2zM862.8 238.0h7.2v7.3h-7.2zM692.1 244.7h7.2v7.3h-7.2zM764.3 251.4h7.2v7.3h-7.2zM849.7 258.2h7.2v7.3h-7.2zM921.9 258.2h7.2v7.3h-7.2zM816.8 264.9h7.2v7.3h-7.2zM724.9 271.6h7.2v7.3h-7.2zM816.8 271.6h7.2v7.3h-7.2zM823.4 271.6h7.2v7.3h-7.2zM705.2 285.0h7.2v7.3h-7.2zM652.7 311.8h7.2v7.3h-7.2zM679.0 311.8h7.2v7.3h-7.2zM915.3 311.8h7.2v7.3h-7.2zM646.2 318.5h7.2v7.3h-7.2zM692.1 318.5h7.2v7.3h-7.2zM646.2 325.3h7.2v7.3h-7.2zM921.9 325.3h7.2v7.3h-7.2zM928.4 325.3h7.2v7.3h-7.2zM935.0 325.3h7.2v7.3h-7.2zM941.6 325.3h7.2v7.3h-7.2zM784.0 332.0h7.2v7.3h-7.2zM849.7 338.7h7.2v7.3h-7.2zM875.9 338.7h7.2v7.3h-7.2zM915.3 338.7h7.2v7.3h-7.2zM764.3 345.4h7.2v7.3h-7.2zM764.3 352.1h7.2v7.3h-7.2zM764.3 358.8h7.2v7.3h-7.2z"/><path fill="#545454" d="M856.2 16.6h7.2v7.3h-7.2zM856.2 23.3h7.2v7.3h-7.2zM856.2 30.0h7.2v7.3h-7.2zM816.8 36.7h7.2v7.3h-7.2zM856.2 36.7h7.2v7.3h-7.2zM797.1 43.4h7.2v7.3h-7.2zM875.9 43.4h7.2v7.3h-7.2zM626.5 50.1h7.2v7.3h-7.2zM751.2 50.1h7.2v7.3h-7.2zM810.3 50.1h7.2v7.3h-7.2zM665.9 56.8h7.2v7.3h-7.2zM711.8 56.8h7.2v7.3h-7.2zM902.2 56.8h7.2v7.3h-7.2zM777.5 63.6h7.2v7.3h-7.2zM823.4 63.6h7.2v7.3h-7.2zM823.4 70.3h7.2v7.3h-7.2zM908.7 70.3h7.2v7.3h-7.2zM672.4 83.7h7.2v7.3h-7.2zM810.3 83.7h7.2v7.3h-7.2zM895.6 83.7h7.2v7.3h-7.2zM724.9 90.4h7.2v7.3h-7.2zM869.4 97.1h7.2v7.3h-7.2zM803.7 103.8h7.2v7.3h-7.2zM685.5 110.5h7.2v7.3h-7.2zM790.6 110.5h7.2v7.3h-7.2zM810.3 110.5h7.2v7.3h-7.2zM856.2 110.5h7.2v7.3h-7.2zM797.1 117.2h7.2v7.3h-7.2zM856.2 117.2h7.2v7.3h-7.2zM738.1 123.9h7.2v7.3h-7.2zM882.5 130.7h7.2v7.3h-7.2zM764.3 137.4h7.2v7.3h-7.2zM875.9 137.4h7.2v7.3h-7.2zM764.3 150.8h7.2v7.3h-7.2zM777.5 164.2h7.2v7.3h-7.2zM830.0 164.2h7.2v7.3h-7.2zM724.9 170.9h7.2v7.3h-7.2zM731.5 170.9h7.2v7.3h-7.2zM784.0 170.9h7.2v7.3h-7.2zM790.6 170.9h7.2v7.3h-7.2zM797.1 184.3h7.2v7.3h-7.2zM895.6 191.0h7.2v7.3h-7.2zM915.3 217.9h7.2v7.3h-7.2zM718.4 224.6h7.2v7.3h-7.2zM751.2 224.6h7.2v7.3h-7.2zM915.3 224.6h7.2v7.3h-7.2zM928.4 238.0h7.2v7.3h-7.2zM935.0 238.0h7.2v7.3h-7.2zM941.6 238.0h7.2v7.3h-7.2zM685.5 244.7h7.2v7.3h-7.2zM731.5 244.7h7.2v7.3h-7.2zM928.4 244.7h7.2v7.3h-7.2zM935.0 244.7h7.2v7.3h-7.2zM941.6 244.7h7.2v7.3h-7.2zM810.3 258.2h7.2v7.3h-7.2zM856.2 258.2h7.2v7.3h-7.2zM889.0 258.2h7.2v7.3h-7.2zM692.1 264.9h7.2v7.3h-7.2zM803.7 264.9h7.2v7.3h-7.2zM652.7 271.6h7.2v7.3h-7.2zM679.0 278.3h7.2v7.3h-7.2zM836.5 278.3h7.2v7.3h-7.2zM921.9 291.7h7.2v7.3h-7.2zM672.4 298.4h7.2v7.3h-7.2zM928.4 298.4h7.2v7.3h-7.2zM935.0 298.4h7.2v7.3h-7.2zM941.6 298.4h7.2v7.3h-7.2zM633.0 305.1h7.2v7.3h-7.2zM679.0 305.1h7.2v7.3h-7.2zM921.9 305.1h7.2v7.3h-7.2zM928.4 305.1h7.2v7.3h-7.2zM935.0 305.1h7.2v7.3h-7.2zM941.6 305.1h7.2v7.3h-7.2zM692.1 311.8h7.2v7.3h-7.2zM639.6 318.5h7.2v7.3h-7.2zM816.8 332.0h7.2v7.3h-7.2zM915.3 332.0h7.2v7.3h-7.2zM915.3 345.4h7.2v7.3h-7.2zM915.3 352.1h7.2v7.3h-7.2zM915.3 358.8h7.2v7.3h-7.2z"/><path fill="#565656" d="M698.7 16.6h7.2v7.3h-7.2zM770.9 16.6h7.2v7.3h-7.2zM816.8 16.6h7.2v7.3h-7.2zM902.2 16.6h7.2v7.3h-7.2zM698.7 23.3h7.2v7.3h-7.2zM770.9 23.3h7.2v7.3h-7.2zM816.8 23.3h7.2v7.3h-7.2zM902.2 23.3h7.2v7.3h-7.2zM698.7 30.0h7.2v7.3h-7.2zM770.9 30.0h7.2v7.3h-7.2zM816.8 30.0h7.2v7.3h-7.2zM902.2 30.0h7.2v7.3h-7.2zM698.7 36.7h7.2v7.3h-7.2zM705.2 36.7h7.2v7.3h-7.2zM862.8 36.7h7.2v7.3h-7.2zM869.4 36.7h7.2v7.3h-7.2zM633.0 43.4h7.2v7.3h-7.2zM882.5 43.4h7.2v7.3h-7.2zM672.4 50.1h7.2v7.3h-7.2zM849.7 50.1h7.2v7.3h-7.2zM810.3 63.6h7.2v7.3h-7.2zM869.4 63.6h7.2v7.3h-7.2zM843.1 97.1h7.2v7.3h-7.2zM672.4 103.8h7.2v7.3h-7.2zM777.5 103.8h7.2v7.3h-7.2zM718.4 110.5h7.2v7.3h-7.2zM849.7 110.5h7.2v7.3h-7.2zM685.5 117.2h7.2v7.3h-7.2zM685.5 123.9h7.2v7.3h-7.2zM639.6 130.7h7.2v7.3h-7.2zM744.6 137.4h7.2v7.3h-7.2zM751.2 137.4h7.2v7.3h-7.2zM803.7 150.8h7.2v7.3h-7.2zM875.9 150.8h7.2v7.3h-7.2zM921.9 150.8h7.2v7.3h-7.2zM849.7 170.9h7.2v7.3h-7.2zM626.5 177.6h7.2v7.3h-7.2zM784.0 191.0h7.2v7.3h-7.2zM849.7 197.8h7.2v7.3h-7.2zM790.6 204.5h7.2v7.3h-7.2zM790.6 211.2h7.2v7.3h-7.2zM764.3 224.6h7.2v7.3h-7.2zM692.1 238.0h7.2v7.3h-7.2zM646.2 251.4h7.2v7.3h-7.2zM810.3 251.4h7.2v7.3h-7.2zM856.2 251.4h7.2v7.3h-7.2zM836.5 258.2h7.2v7.3h-7.2zM810.3 264.9h7.2v7.3h-7.2zM908.7 264.9h7.2v7.3h-7.2zM810.3 278.3h7.2v7.3h-7.2zM823.4 278.3h7.2v7.3h-7.2zM889.0 278.3h7.2v7.3h-7.2zM652.7 285.0h7.2v7.3h-7.2zM751.2 285.0h7.2v7.3h-7.2zM606.8 291.7h7.2v7.3h-7.2zM613.3 291.7h7.2v7.3h-7.2zM619.9 291.7h7.2v7.3h-7.2zM698.7 291.7h7.2v7.3h-7.2zM843.1 291.7h7.2v7.3h-7.2zM711.8 305.1h7.2v7.3h-7.2zM797.1 305.1h7.2v7.3h-7.2zM770.9 311.8h7.2v7.3h-7.2zM862.8 318.5h7.2v7.3h-7.2zM915.3 318.5h7.2v7.3h-7.2zM856.2 325.3h7.2v7.3h-7.2zM862.8 325.3h7.2v7.3h-7.2zM705.2 338.7h7.2v7.3h-7.2z"/><path fill="#585858" d="M862.8 16.6h7.2v7.3h-7.2zM862.8 23.3h7.2v7.3h-7.2zM862.8 30.0h7.2v7.3h-7.2zM849.7 36.7h7.2v7.3h-7.2zM895.6 43.4h7.2v7.3h-7.2zM665.9 50.1h7.2v7.3h-7.2zM803.7 63.6h7.2v7.3h-7.2zM856.2 63.6h7.2v7.3h-7.2zM757.8 77.0h7.2v7.3h-7.2zM823.4 77.0h7.2v7.3h-7.2zM836.5 83.7h7.2v7.3h-7.2zM869.4 83.7h7.2v7.3h-7.2zM646.2 90.4h7.2v7.3h-7.2zM849.7 97.1h7.2v7.3h-7.2zM685.5 103.8h7.2v7.3h-7.2zM849.7 103.8h7.2v7.3h-7.2zM902.2 103.8h7.2v7.3h-7.2zM915.3 103.8h7.2v7.3h-7.2zM921.9 103.8h7.2v7.3h-7.2zM849.7 123.9h7.2v7.3h-7.2zM823.4 130.7h7.2v7.3h-7.2zM633.0 137.4h7.2v7.3h-7.2zM816.8 157.5h7.2v7.3h-7.2zM882.5 157.5h7.2v7.3h-7.2zM921.9 164.2h7.2v7.3h-7.2zM915.3 170.9h7.2v7.3h-7.2zM928.4 170.9h7.2v7.3h-7.2zM935.0 170.9h7.2v7.3h-7.2zM941.6 170.9h7.2v7.3h-7.2zM718.4 177.6h7.2v7.3h-7.2zM849.7 184.3h7.2v7.3h-7.2zM902.2 191.0h7.2v7.3h-7.2zM875.9 204.5h7.2v7.3h-7.2zM731.5 224.6h7.2v7.3h-7.2zM757.8 224.6h7.2v7.3h-7.2zM869.4 231.3h7.2v7.3h-7.2zM711.8 251.4h7.2v7.3h-7.2zM757.8 251.4h7.2v7.3h-7.2zM843.1 258.2h7.2v7.3h-7.2zM639.6 264.9h7.2v7.3h-7.2zM724.9 264.9h7.2v7.3h-7.2zM849.7 264.9h7.2v7.3h-7.2zM652.7 278.3h7.2v7.3h-7.2zM711.8 285.0h7.2v7.3h-7.2zM843.1 285.0h7.2v7.3h-7.2zM849.7 285.0h7.2v7.3h-7.2zM797.1 291.7h7.2v7.3h-7.2zM698.7 305.1h7.2v7.3h-7.2zM843.1 305.1h7.2v7.3h-7.2zM849.7 311.8h7.2v7.3h-7.2zM928.4 311.8h7.2v7.3h-7.2zM935.0 311.8h7.2v7.3h-7.2zM941.6 311.8h7.2v7.3h-7.2zM698.7 318.5h7.2v7.3h-7.2zM908.7 318.5h7.2v7.3h-7.2zM921.9 318.5h7.2v7.3h-7.2zM698.7 325.3h7.2v7.3h-7.2zM652.7 332.0h7.2v7.3h-7.2zM705.2 332.0h7.2v7.3h-7.2zM836.5 332.0h7.2v7.3h-7.2zM744.6 338.7h7.2v7.3h-7.2zM882.5 345.4h7.2v7.3h-7.2zM882.5 352.1h7.2v7.3h-7.2zM882.5 358.8h7.2v7.3h-7.2z"/><path fill="#5a5a5a" d="M711.8 36.7h7.2v7.3h-7.2zM790.6 36.7h7.2v7.3h-7.2zM836.5 36.7h7.2v7.3h-7.2zM692.1 43.4h7.2v7.3h-7.2zM849.7 43.4h7.2v7.3h-7.2zM889.0 43.4h7.2v7.3h-7.2zM606.8 50.1h7.2v7.3h-7.2zM613.3 50.1h7.2v7.3h-7.2zM619.9 50.1h7.2v7.3h-7.2zM816.8 50.1h7.2v7.3h-7.2zM849.7 56.8h7.2v7.3h-7.2zM803.7 90.4h7.2v7.3h-7.2zM843.1 90.4h7.2v7.3h-7.2zM856.2 97.1h7.2v7.3h-7.2zM770.9 103.8h7.2v7.3h-7.2zM665.9 110.5h7.2v7.3h-7.2zM646.2 117.2h7.2v7.3h-7.2zM744.6 117.2h7.2v7.3h-7.2zM744.6 123.9h7.2v7.3h-7.2zM830.0 123.9h7.2v7.3h-7.2zM915.3 130.7h7.2v7.3h-7.2zM928.4 130.7h7.2v7.3h-7.2zM935.0 130.7h7.2v7.3h-7.2zM941.6 130.7h7.2v7.3h-7.2zM738.1 137.4h7.2v7.3h-7.2zM875.9 144.1h7.2v7.3h-7.2zM698.7 157.5h7.2v7.3h-7.2zM836.5 157.5h7.2v7.3h-7.2zM652.7 164.2h7.2v7.3h-7.2zM816.8 164.2h7.2v7.3h-7.2zM928.4 164.2h7.2v7.3h-7.2zM935.0 164.2h7.2v7.3h-7.2zM941.6 164.2h7.2v7.3h-7.2zM672.4 170.9h7.2v7.3h-7.2zM810.3 170.9h7.2v7.3h-7.2zM724.9 184.3h7.2v7.3h-7.2zM633.0 204.5h7.2v7.3h-7.2zM672.4 204.5h7.2v7.3h-7.2zM757.8 204.5h7.2v7.3h-7.2zM843.1 204.5h7.2v7.3h-7.2zM770.9 211.2h7.2v7.3h-7.2zM843.1 224.6h7.2v7.3h-7.2zM849.7 224.6h7.2v7.3h-7.2zM856.2 224.6h7.2v7.3h-7.2zM875.9 224.6h7.2v7.3h-7.2zM633.0 231.3h7.2v7.3h-7.2zM652.7 238.0h7.2v7.3h-7.2zM777.5 238.0h7.2v7.3h-7.2zM895.6 238.0h7.2v7.3h-7.2zM770.9 244.7h7.2v7.3h-7.2zM856.2 244.7h7.2v7.3h-7.2zM626.5 258.2h7.2v7.3h-7.2zM724.9 258.2h7.2v7.3h-7.2zM803.7 258.2h7.2v7.3h-7.2zM731.5 264.9h7.2v7.3h-7.2zM797.1 264.9h7.2v7.3h-7.2zM744.6 271.6h7.2v7.3h-7.2zM921.9 278.3h7.2v7.3h-7.2zM823.4 285.0h7.2v7.3h-7.2zM921.9 285.0h7.2v7.3h-7.2zM672.4 291.7h7.2v7.3h-7.2zM718.4 291.7h7.2v7.3h-7.2zM836.5 291.7h7.2v7.3h-7.2zM659.3 305.1h7.2v7.3h-7.2zM764.3 311.8h7.2v7.3h-7.2zM921.9 311.8h7.2v7.3h-7.2zM856.2 318.5h7.2v7.3h-7.2zM869.4 318.5h7.2v7.3h-7.2zM915.3 325.3h7.2v7.3h-7.2zM659.3 332.0h7.2v7.3h-7.2zM830.0 332.0h7.2v7.3h-7.2zM849.7 332.0h7.2v7.3h-7.2zM843.1 338.7h7.2v7.3h-7.2z"/><path fill="#5c5c5c" d="M777.5 16.6h7.2v7.3h-7.2zM777.5 23.3h7.2v7.3h-7.2zM777.5 30.0h7.2v7.3h-7.2zM843.1 36.7h7.2v7.3h-7.2zM836.5 43.4h7.2v7.3h-7.2zM875.9 50.1h7.2v7.3h-7.2zM902.2 63.6h7.2v7.3h-7.2zM816.8 70.3h7.2v7.3h-7.2zM830.0 77.0h7.2v7.3h-7.2zM869.4 77.0h7.2v7.3h-7.2zM875.9 77.0h7.2v7.3h-7.2zM882.5 77.0h7.2v7.3h-7.2zM665.9 83.7h7.2v7.3h-7.2zM862.8 97.1h7.2v7.3h-7.2zM606.8 103.8h7.2v7.3h-7.2zM613.3 103.8h7.2v7.3h-7.2zM619.9 103.8h7.2v7.3h-7.2zM679.0 103.8h7.2v7.3h-7.2zM908.7 103.8h7.2v7.3h-7.2zM928.4 103.8h7.2v7.3h-7.2zM935.0 103.8h7.2v7.3h-7.2zM941.6 103.8h7.2v7.3h-7.2zM810.3 117.2h7.2v7.3h-7.2zM679.0 123.9h7.2v7.3h-7.2zM830.0 144.1h7.2v7.3h-7.2zM915.3 144.1h7.2v7.3h-7.2zM757.8 150.8h7.2v7.3h-7.2zM921.9 157.5h7.2v7.3h-7.2zM659.3 164.2h7.2v7.3h-7.2zM698.7 164.2h7.2v7.3h-7.2zM836.5 164.2h7.2v7.3h-7.2zM718.4 170.9h7.2v7.3h-7.2zM816.8 170.9h7.2v7.3h-7.2zM823.4 170.9h7.2v7.3h-7.2zM921.9 170.9h7.2v7.3h-7.2zM738.1 177.6h7.2v7.3h-7.2zM777.5 184.3h7.2v7.3h-7.2zM921.9 184.3h7.2v7.3h-7.2zM816.8 191.0h7.2v7.3h-7.2zM908.7 191.0h7.2v7.3h-7.2zM915.3 191.0h7.2v7.3h-7.2zM659.3 197.8h7.2v7.3h-7.2zM698.7 204.5h7.2v7.3h-7.2zM633.0 211.2h7.2v7.3h-7.2zM836.5 224.6h7.2v7.3h-7.2zM731.5 231.3h7.2v7.3h-7.2zM679.0 238.0h7.2v7.3h-7.2zM921.9 238.0h7.2v7.3h-7.2zM698.7 251.4h7.2v7.3h-7.2zM803.7 251.4h7.2v7.3h-7.2zM816.8 251.4h7.2v7.3h-7.2zM849.7 251.4h7.2v7.3h-7.2zM606.8 258.2h7.2v7.3h-7.2zM613.3 258.2h7.2v7.3h-7.2zM619.9 258.2h7.2v7.3h-7.2zM724.9 278.3h7.2v7.3h-7.2zM830.0 278.3h7.2v7.3h-7.2zM626.5 291.7h7.2v7.3h-7.2zM928.4 291.7h7.2v7.3h-7.2zM935.0 291.7h7.2v7.3h-7.2zM941.6 291.7h7.2v7.3h-7.2zM665.9 298.4h7.2v7.3h-7.2zM672.4 305.1h7.2v7.3h-7.2zM639.6 311.8h7.2v7.3h-7.2zM698.7 311.8h7.2v7.3h-7.2zM797.1 311.8h7.2v7.3h-7.2zM849.7 318.5h7.2v7.3h-7.2zM751.2 325.3h7.2v7.3h-7.2zM777.5 325.3h7.2v7.3h-7.2zM836.5 325.3h7.2v7.3h-7.2zM869.4 325.3h7.2v7.3h-7.2zM823.4 332.0h7.2v7.3h-7.2zM843.1 332.0h7.2v7.3h-7.2zM875.9 332.0h7.2v7.3h-7.2zM711.8 338.7h7.2v7.3h-7.2zM705.2 345.4h7.2v7.3h-7.2zM705.2 352.1h7.2v7.3h-7.2zM705.2 358.8h7.2v7.3h-7.2z"/><path fill="#5e5e5e" d="M646.2 16.6h7.2v7.3h-7.2zM646.2 23.3h7.2v7.3h-7.2zM646.2 30.0h7.2v7.3h-7.2zM652.7 43.4h7.2v7.3h-7.2zM770.9 43.4h7.2v7.3h-7.2zM803.7 43.4h7.2v7.3h-7.2zM816.8 43.4h7.2v7.3h-7.2zM823.4 50.1h7.2v7.3h-7.2zM659.3 56.8h7.2v7.3h-7.2zM823.4 56.8h7.2v7.3h-7.2zM665.9 63.6h7.2v7.3h-7.2zM672.4 70.3h7.2v7.3h-7.2zM784.0 70.3h7.2v7.3h-7.2zM816.8 77.0h7.2v7.3h-7.2zM889.0 77.0h7.2v7.3h-7.2zM659.3 83.7h7.2v7.3h-7.2zM764.3 103.8h7.2v7.3h-7.2zM784.0 103.8h7.2v7.3h-7.2zM895.6 117.2h7.2v7.3h-7.2zM685.5 130.7h7.2v7.3h-7.2zM849.7 130.7h7.2v7.3h-7.2zM770.9 137.4h7.2v7.3h-7.2zM718.4 144.1h7.2v7.3h-7.2zM757.8 144.1h7.2v7.3h-7.2zM764.3 144.1h7.2v7.3h-7.2zM705.2 150.8h7.2v7.3h-7.2zM711.8 150.8h7.2v7.3h-7.2zM692.1 157.5h7.2v7.3h-7.2zM757.8 157.5h7.2v7.3h-7.2zM928.4 157.5h7.2v7.3h-7.2zM935.0 157.5h7.2v7.3h-7.2zM941.6 157.5h7.2v7.3h-7.2zM705.2 164.2h7.2v7.3h-7.2zM856.2 164.2h7.2v7.3h-7.2zM895.6 164.2h7.2v7.3h-7.2zM797.1 170.9h7.2v7.3h-7.2zM803.7 170.9h7.2v7.3h-7.2zM921.9 177.6h7.2v7.3h-7.2zM639.6 184.3h7.2v7.3h-7.2zM718.4 184.3h7.2v7.3h-7.2zM652.7 191.0h7.2v7.3h-7.2zM685.5 191.0h7.2v7.3h-7.2zM810.3 191.0h7.2v7.3h-7.2zM790.6 197.8h7.2v7.3h-7.2zM889.0 197.8h7.2v7.3h-7.2zM836.5 211.2h7.2v7.3h-7.2zM928.4 211.2h7.2v7.3h-7.2zM935.0 211.2h7.2v7.3h-7.2zM941.6 211.2h7.2v7.3h-7.2zM633.0 217.9h7.2v7.3h-7.2zM744.6 217.9h7.2v7.3h-7.2zM724.9 231.3h7.2v7.3h-7.2zM777.5 231.3h7.2v7.3h-7.2zM738.1 238.0h7.2v7.3h-7.2zM705.2 251.4h7.2v7.3h-7.2zM731.5 251.4h7.2v7.3h-7.2zM915.3 258.2h7.2v7.3h-7.2zM856.2 264.9h7.2v7.3h-7.2zM685.5 271.6h7.2v7.3h-7.2zM849.7 271.6h7.2v7.3h-7.2zM928.4 278.3h7.2v7.3h-7.2zM935.0 278.3h7.2v7.3h-7.2zM941.6 278.3h7.2v7.3h-7.2zM731.5 285.0h7.2v7.3h-7.2zM836.5 298.4h7.2v7.3h-7.2zM665.9 305.1h7.2v7.3h-7.2zM646.2 311.8h7.2v7.3h-7.2zM875.9 311.8h7.2v7.3h-7.2zM830.0 318.5h7.2v7.3h-7.2zM928.4 318.5h7.2v7.3h-7.2zM935.0 318.5h7.2v7.3h-7.2zM941.6 318.5h7.2v7.3h-7.2zM849.7 325.3h7.2v7.3h-7.2zM652.7 338.7h7.2v7.3h-7.2zM672.4 338.7h7.2v7.3h-7.2zM718.4 338.7h7.2v7.3h-7.2zM908.7 338.7h7.2v7.3h-7.2zM724.9 345.4h7.2v7.3h-7.2zM724.9 352.1h7.2v7.3h-7.2zM724.9 358.8h7.2v7.3h-7.2z"/><path fill="#606060" d="M764.3 16.6h7.2v7.3h-7.2zM810.3 16.6h7.2v7.3h-7.2zM764.3 23.3h7.2v7.3h-7.2zM810.3 23.3h7.2v7.3h-7.2zM764.3 30.0h7.2v7.3h-7.2zM810.3 30.0h7.2v7.3h-7.2zM659.3 50.1h7.2v7.3h-7.2zM711.8 50.1h7.2v7.3h-7.2zM757.8 70.3h7.2v7.3h-7.2zM672.4 77.0h7.2v7.3h-7.2zM908.7 77.0h7.2v7.3h-7.2zM902.2 83.7h7.2v7.3h-7.2zM908.7 83.7h7.2v7.3h-7.2zM633.0 97.1h7.2v7.3h-7.2zM757.8 103.8h7.2v7.3h-7.2zM797.1 103.8h7.2v7.3h-7.2zM803.7 110.5h7.2v7.3h-7.2zM731.5 117.2h7.2v7.3h-7.2zM803.7 117.2h7.2v7.3h-7.2zM731.5 137.4h7.2v7.3h-7.2zM836.5 150.8h7.2v7.3h-7.2zM770.9 164.2h7.2v7.3h-7.2zM915.3 164.2h7.2v7.3h-7.2zM639.6 170.9h7.2v7.3h-7.2zM738.1 170.9h7.2v7.3h-7.2zM830.0 170.9h7.2v7.3h-7.2zM843.1 170.9h7.2v7.3h-7.2zM633.0 177.6h7.2v7.3h-7.2zM646.2 184.3h7.2v7.3h-7.2zM757.8 184.3h7.2v7.3h-7.2zM849.7 191.0h7.2v7.3h-7.2zM665.9 204.5h7.2v7.3h-7.2zM751.2 211.2h7.2v7.3h-7.2zM751.2 217.9h7.2v7.3h-7.2zM777.5 217.9h7.2v7.3h-7.2zM830.0 217.9h7.2v7.3h-7.2zM652.7 224.6h7.2v7.3h-7.2zM862.8 224.6h7.2v7.3h-7.2zM869.4 224.6h7.2v7.3h-7.2zM744.6 244.7h7.2v7.3h-7.2zM823.4 251.4h7.2v7.3h-7.2zM633.0 264.9h7.2v7.3h-7.2zM902.2 264.9h7.2v7.3h-7.2zM698.7 285.0h7.2v7.3h-7.2zM718.4 285.0h7.2v7.3h-7.2zM724.9 285.0h7.2v7.3h-7.2zM830.0 285.0h7.2v7.3h-7.2zM718.4 298.4h7.2v7.3h-7.2zM705.2 311.8h7.2v7.3h-7.2zM889.0 311.8h7.2v7.3h-7.2zM902.2 318.5h7.2v7.3h-7.2zM705.2 325.3h7.2v7.3h-7.2zM711.8 332.0h7.2v7.3h-7.2zM895.6 332.0h7.2v7.3h-7.2zM902.2 332.0h7.2v7.3h-7.2zM908.7 332.0h7.2v7.3h-7.2zM816.8 338.7h7.2v7.3h-7.2zM652.7 345.4h7.2v7.3h-7.2zM908.7 345.4h7.2v7.3h-7.2zM652.7 352.1h7.2v7.3h-7.2zM908.7 352.1h7.2v7.3h-7.2zM652.7 358.8h7.2v7.3h-7.2zM908.7 358.8h7.2v7.3h-7.2z"/><path fill="#626262" d="M692.1 36.7h7.2v7.3h-7.2zM810.3 43.4h7.2v7.3h-7.2zM652.7 50.1h7.2v7.3h-7.2zM830.0 50.1h7.2v7.3h-7.2zM895.6 50.1h7.2v7.3h-7.2zM731.5 56.8h7.2v7.3h-7.2zM790.6 70.3h7.2v7.3h-7.2zM797.1 70.3h7.2v7.3h-7.2zM652.7 83.7h7.2v7.3h-7.2zM757.8 83.7h7.2v7.3h-7.2zM731.5 90.4h7.2v7.3h-7.2zM718.4 97.1h7.2v7.3h-7.2zM797.1 97.1h7.2v7.3h-7.2zM679.0 110.5h7.2v7.3h-7.2zM606.8 144.1h7.2v7.3h-7.2zM613.3 144.1h7.2v7.3h-7.2zM619.9 144.1h7.2v7.3h-7.2zM698.7 144.1h7.2v7.3h-7.2zM705.2 157.5h7.2v7.3h-7.2zM810.3 157.5h7.2v7.3h-7.2zM856.2 157.5h7.2v7.3h-7.2zM646.2 164.2h7.2v7.3h-7.2zM784.0 164.2h7.2v7.3h-7.2zM836.5 170.9h7.2v7.3h-7.2zM639.6 177.6h7.2v7.3h-7.2zM679.0 177.6h7.2v7.3h-7.2zM928.4 177.6h7.2v7.3h-7.2zM935.0 177.6h7.2v7.3h-7.2zM941.6 177.6h7.2v7.3h-7.2zM882.5 204.5h7.2v7.3h-7.2zM685.5 211.2h7.2v7.3h-7.2zM921.9 211.2h7.2v7.3h-7.2zM738.1 217.9h7.2v7.3h-7.2zM869.4 217.9h7.2v7.3h-7.2zM633.0 224.6h7.2v7.3h-7.2zM652.7 231.3h7.2v7.3h-7.2zM895.6 231.3h7.2v7.3h-7.2zM915.3 231.3h7.2v7.3h-7.2zM731.5 238.0h7.2v7.3h-7.2zM856.2 238.0h7.2v7.3h-7.2zM738.1 244.7h7.2v7.3h-7.2zM895.6 244.7h7.2v7.3h-7.2zM843.1 251.4h7.2v7.3h-7.2zM698.7 258.2h7.2v7.3h-7.2zM606.8 264.9h7.2v7.3h-7.2zM613.3 264.9h7.2v7.3h-7.2zM619.9 264.9h7.2v7.3h-7.2zM626.5 264.9h7.2v7.3h-7.2zM895.6 271.6h7.2v7.3h-7.2zM606.8 285.0h7.2v7.3h-7.2zM613.3 285.0h7.2v7.3h-7.2zM619.9 285.0h7.2v7.3h-7.2zM816.8 285.0h7.2v7.3h-7.2zM790.6 291.7h7.2v7.3h-7.2zM830.0 291.7h7.2v7.3h-7.2zM633.0 298.4h7.2v7.3h-7.2zM790.6 298.4h7.2v7.3h-7.2zM685.5 305.1h7.2v7.3h-7.2zM843.1 311.8h7.2v7.3h-7.2zM777.5 318.5h7.2v7.3h-7.2zM797.1 325.3h7.2v7.3h-7.2zM908.7 325.3h7.2v7.3h-7.2zM744.6 332.0h7.2v7.3h-7.2zM724.9 338.7h7.2v7.3h-7.2zM731.5 338.7h7.2v7.3h-7.2zM738.1 338.7h7.2v7.3h-7.2zM902.2 338.7h7.2v7.3h-7.2z"/><path fill="#646464" d="M692.1 16.6h7.2v7.3h-7.2zM784.0 16.6h7.2v7.3h-7.2zM692.1 23.3h7.2v7.3h-7.2zM784.0 23.3h7.2v7.3h-7.2zM692.1 30.0h7.2v7.3h-7.2zM784.0 30.0h7.2v7.3h-7.2zM685.5 43.4h7.2v7.3h-7.2zM843.1 43.4h7.2v7.3h-7.2zM836.5 50.1h7.2v7.3h-7.2zM843.1 50.1h7.2v7.3h-7.2zM757.8 56.8h7.2v7.3h-7.2zM875.9 56.8h7.2v7.3h-7.2zM777.5 70.3h7.2v7.3h-7.2zM830.0 70.3h7.2v7.3h-7.2zM862.8 70.3h7.2v7.3h-7.2zM810.3 77.0h7.2v7.3h-7.2zM639.6 90.4h7.2v7.3h-7.2zM744.6 110.5h7.2v7.3h-7.2zM797.1 110.5h7.2v7.3h-7.2zM928.4 110.5h7.2v7.3h-7.2zM935.0 110.5h7.2v7.3h-7.2zM941.6 110.5h7.2v7.3h-7.2zM679.0 117.2h7.2v7.3h-7.2zM843.1 123.9h7.2v7.3h-7.2zM882.5 137.4h7.2v7.3h-7.2zM849.7 144.1h7.2v7.3h-7.2zM770.9 150.8h7.2v7.3h-7.2zM777.5 157.5h7.2v7.3h-7.2zM665.9 164.2h7.2v7.3h-7.2zM843.1 164.2h7.2v7.3h-7.2zM849.7 164.2h7.2v7.3h-7.2zM711.8 170.9h7.2v7.3h-7.2zM784.0 177.6h7.2v7.3h-7.2zM731.5 184.3h7.2v7.3h-7.2zM823.4 184.3h7.2v7.3h-7.2zM639.6 191.0h7.2v7.3h-7.2zM921.9 191.0h7.2v7.3h-7.2zM692.1 197.8h7.2v7.3h-7.2zM797.1 217.9h7.2v7.3h-7.2zM882.5 224.6h7.2v7.3h-7.2zM843.1 231.3h7.2v7.3h-7.2zM862.8 231.3h7.2v7.3h-7.2zM639.6 244.7h7.2v7.3h-7.2zM915.3 244.7h7.2v7.3h-7.2zM751.2 251.4h7.2v7.3h-7.2zM718.4 258.2h7.2v7.3h-7.2zM797.1 258.2h7.2v7.3h-7.2zM875.9 264.9h7.2v7.3h-7.2zM757.8 278.3h7.2v7.3h-7.2zM849.7 278.3h7.2v7.3h-7.2zM836.5 285.0h7.2v7.3h-7.2zM882.5 285.0h7.2v7.3h-7.2zM928.4 285.0h7.2v7.3h-7.2zM935.0 285.0h7.2v7.3h-7.2zM941.6 285.0h7.2v7.3h-7.2zM803.7 291.7h7.2v7.3h-7.2zM705.2 318.5h7.2v7.3h-7.2zM797.1 318.5h7.2v7.3h-7.2zM843.1 325.3h7.2v7.3h-7.2z"/><path fill="#666666" d="M718.4 16.6h7.2v7.3h-7.2zM718.4 23.3h7.2v7.3h-7.2zM718.4 30.0h7.2v7.3h-7.2zM797.1 36.7h7.2v7.3h-7.2zM711.8 43.4h7.2v7.3h-7.2zM757.8 50.1h7.2v7.3h-7.2zM882.5 50.1h7.2v7.3h-7.2zM889.0 50.1h7.2v7.3h-7.2zM869.4 90.4h7.2v7.3h-7.2zM751.2 103.8h7.2v7.3h-7.2zM672.4 117.2h7.2v7.3h-7.2zM889.0 130.7h7.2v7.3h-7.2zM692.1 137.4h7.2v7.3h-7.2zM784.0 137.4h7.2v7.3h-7.2zM626.5 144.1h7.2v7.3h-7.2zM724.9 144.1h7.2v7.3h-7.2zM790.6 144.1h7.2v7.3h-7.2zM698.7 150.8h7.2v7.3h-7.2zM915.3 157.5h7.2v7.3h-7.2zM810.3 164.2h7.2v7.3h-7.2zM902.2 164.2h7.2v7.3h-7.2zM790.6 184.3h7.2v7.3h-7.2zM823.4 191.0h7.2v7.3h-7.2zM751.2 204.5h7.2v7.3h-7.2zM830.0 211.2h7.2v7.3h-7.2zM869.4 211.2h7.2v7.3h-7.2zM692.1 217.9h7.2v7.3h-7.2zM672.4 224.6h7.2v7.3h-7.2zM724.9 224.6h7.2v7.3h-7.2zM790.6 224.6h7.2v7.3h-7.2zM797.1 224.6h7.2v7.3h-7.2zM849.7 238.0h7.2v7.3h-7.2zM830.0 251.4h7.2v7.3h-7.2zM718.4 264.9h7.2v7.3h-7.2zM606.8 271.6h7.2v7.3h-7.2zM613.3 271.6h7.2v7.3h-7.2zM619.9 271.6h7.2v7.3h-7.2zM626.5 271.6h7.2v7.3h-7.2zM633.0 271.6h7.2v7.3h-7.2zM646.2 271.6h7.2v7.3h-7.2zM797.1 271.6h7.2v7.3h-7.2zM757.8 285.0h7.2v7.3h-7.2zM692.1 305.1h7.2v7.3h-7.2zM751.2 318.5h7.2v7.3h-7.2zM843.1 318.5h7.2v7.3h-7.2zM875.9 325.3h7.2v7.3h-7.2zM882.5 338.7h7.2v7.3h-7.2zM672.4 345.4h7.2v7.3h-7.2zM816.8 345.4h7.2v7.3h-7.2zM843.1 345.4h7.2v7.3h-7.2zM672.4 352.1h7.2v7.3h-7.2zM816.8 352.1h7.2v7.3h-7.2zM843.1 352.1h7.2v7.3h-7.2zM672.4 358.8h7.2v7.3h-7.2zM816.8 358.8h7.2v7.3h-7.2zM843.1 358.8h7.2v7.3h-7.2z"/><path fill="#686868" d="M790.6 16.6h7.2v7.3h-7.2zM790.6 23.3h7.2v7.3h-7.2zM790.6 30.0h7.2v7.3h-7.2zM652.7 36.7h7.2v7.3h-7.2zM764.3 36.7h7.2v7.3h-7.2zM659.3 43.4h7.2v7.3h-7.2zM679.0 43.4h7.2v7.3h-7.2zM744.6 43.4h7.2v7.3h-7.2zM751.2 43.4h7.2v7.3h-7.2zM633.0 50.1h7.2v7.3h-7.2zM646.2 50.1h7.2v7.3h-7.2zM770.9 56.8h7.2v7.3h-7.2zM895.6 56.8h7.2v7.3h-7.2zM659.3 63.6h7.2v7.3h-7.2zM803.7 70.3h7.2v7.3h-7.2zM843.1 83.7h7.2v7.3h-7.2zM751.2 90.4h7.2v7.3h-7.2zM849.7 90.4h7.2v7.3h-7.2zM718.4 103.8h7.2v7.3h-7.2zM790.6 103.8h7.2v7.3h-7.2zM672.4 110.5h7.2v7.3h-7.2zM921.9 110.5h7.2v7.3h-7.2zM738.1 117.2h7.2v7.3h-7.2zM836.5 123.9h7.2v7.3h-7.2zM849.7 137.4h7.2v7.3h-7.2zM751.2 144.1h7.2v7.3h-7.2zM770.9 144.1h7.2v7.3h-7.2zM849.7 150.8h7.2v7.3h-7.2zM882.5 150.8h7.2v7.3h-7.2zM639.6 164.2h7.2v7.3h-7.2zM711.8 164.2h7.2v7.3h-7.2zM908.7 164.2h7.2v7.3h-7.2zM711.8 177.6h7.2v7.3h-7.2zM823.4 177.6h7.2v7.3h-7.2zM843.1 177.6h7.2v7.3h-7.2zM843.1 197.8h7.2v7.3h-7.2zM797.1 204.5h7.2v7.3h-7.2zM836.5 204.5h7.2v7.3h-7.2zM928.4 204.5h7.2v7.3h-7.2zM935.0 204.5h7.2v7.3h-7.2zM941.6 204.5h7.2v7.3h-7.2zM757.8 211.2h7.2v7.3h-7.2zM639.6 217.9h7.2v7.3h-7.2zM757.8 217.9h7.2v7.3h-7.2zM908.7 217.9h7.2v7.3h-7.2zM770.9 224.6h7.2v7.3h-7.2zM685.5 238.0h7.2v7.3h-7.2zM915.3 238.0h7.2v7.3h-7.2zM738.1 251.4h7.2v7.3h-7.2zM770.9 251.4h7.2v7.3h-7.2zM895.6 251.4h7.2v7.3h-7.2zM731.5 258.2h7.2v7.3h-7.2zM895.6 258.2h7.2v7.3h-7.2zM869.4 264.9h7.2v7.3h-7.2zM639.6 271.6h7.2v7.3h-7.2zM606.8 278.3h7.2v7.3h-7.2zM613.3 278.3h7.2v7.3h-7.2zM619.9 278.3h7.2v7.3h-7.2zM803.7 278.3h7.2v7.3h-7.2zM679.0 285.0h7.2v7.3h-7.2zM724.9 291.7h7.2v7.3h-7.2zM731.5 291.7h7.2v7.3h-7.2zM790.6 305.1h7.2v7.3h-7.2zM711.8 311.8h7.2v7.3h-7.2zM757.8 311.8h7.2v7.3h-7.2zM823.4 311.8h7.2v7.3h-7.2zM882.5 311.8h7.2v7.3h-7.2zM882.5 332.0h7.2v7.3h-7.2zM889.0 332.0h7.2v7.3h-7.2z"/><path fill="#6a6a6a" d="M718.4 36.7h7.2v7.3h-7.2zM810.3 36.7h7.2v7.3h-7.2zM770.9 50.1h7.2v7.3h-7.2zM652.7 56.8h7.2v7.3h-7.2zM770.9 63.6h7.2v7.3h-7.2zM810.3 70.3h7.2v7.3h-7.2zM869.4 70.3h7.2v7.3h-7.2zM902.2 70.3h7.2v7.3h-7.2zM836.5 77.0h7.2v7.3h-7.2zM738.1 90.4h7.2v7.3h-7.2zM757.8 90.4h7.2v7.3h-7.2zM665.9 117.2h7.2v7.3h-7.2zM928.4 117.2h7.2v7.3h-7.2zM935.0 117.2h7.2v7.3h-7.2zM941.6 117.2h7.2v7.3h-7.2zM830.0 130.7h7.2v7.3h-7.2zM639.6 137.4h7.2v7.3h-7.2zM882.5 144.1h7.2v7.3h-7.2zM692.1 150.8h7.2v7.3h-7.2zM915.3 150.8h7.2v7.3h-7.2zM646.2 157.5h7.2v7.3h-7.2zM843.1 157.5h7.2v7.3h-7.2zM692.1 164.2h7.2v7.3h-7.2zM928.4 184.3h7.2v7.3h-7.2zM935.0 184.3h7.2v7.3h-7.2zM941.6 184.3h7.2v7.3h-7.2zM823.4 197.8h7.2v7.3h-7.2zM744.6 211.2h7.2v7.3h-7.2zM797.1 211.2h7.2v7.3h-7.2zM915.3 211.2h7.2v7.3h-7.2zM652.7 217.9h7.2v7.3h-7.2zM659.3 217.9h7.2v7.3h-7.2zM784.0 224.6h7.2v7.3h-7.2zM908.7 224.6h7.2v7.3h-7.2zM856.2 231.3h7.2v7.3h-7.2zM744.6 251.4h7.2v7.3h-7.2zM836.5 251.4h7.2v7.3h-7.2zM908.7 258.2h7.2v7.3h-7.2zM862.8 264.9h7.2v7.3h-7.2zM895.6 264.9h7.2v7.3h-7.2zM718.4 271.6h7.2v7.3h-7.2zM751.2 271.6h7.2v7.3h-7.2zM856.2 271.6h7.2v7.3h-7.2zM646.2 278.3h7.2v7.3h-7.2zM718.4 278.3h7.2v7.3h-7.2zM626.5 285.0h7.2v7.3h-7.2zM790.6 285.0h7.2v7.3h-7.2zM869.4 285.0h7.2v7.3h-7.2zM875.9 285.0h7.2v7.3h-7.2zM738.1 291.7h7.2v7.3h-7.2zM744.6 291.7h7.2v7.3h-7.2zM692.1 298.4h7.2v7.3h-7.2zM652.7 305.1h7.2v7.3h-7.2zM718.4 305.1h7.2v7.3h-7.2zM836.5 318.5h7.2v7.3h-7.2zM902.2 325.3h7.2v7.3h-7.2zM836.5 338.7h7.2v7.3h-7.2z"/><path fill="#6c6c6c" d="M731.5 50.1h7.2v7.3h-7.2zM757.8 63.6h7.2v7.3h-7.2zM875.9 63.6h7.2v7.3h-7.2zM665.9 70.3h7.2v7.3h-7.2zM764.3 77.0h7.2v7.3h-7.2zM862.8 77.0h7.2v7.3h-7.2zM895.6 77.0h7.2v7.3h-7.2zM646.2 83.7h7.2v7.3h-7.2zM797.1 90.4h7.2v7.3h-7.2zM626.5 97.1h7.2v7.3h-7.2zM672.4 123.9h7.2v7.3h-7.2zM830.0 137.4h7.2v7.3h-7.2zM731.5 144.1h7.2v7.3h-7.2zM626.5 150.8h7.2v7.3h-7.2zM718.4 150.8h7.2v7.3h-7.2zM751.2 150.8h7.2v7.3h-7.2zM797.1 150.8h7.2v7.3h-7.2zM652.7 157.5h7.2v7.3h-7.2zM711.8 157.5h7.2v7.3h-7.2zM751.2 157.5h7.2v7.3h-7.2zM889.0 157.5h7.2v7.3h-7.2zM718.4 164.2h7.2v7.3h-7.2zM724.9 164.2h7.2v7.3h-7.2zM731.5 164.2h7.2v7.3h-7.2zM705.2 170.9h7.2v7.3h-7.2zM777.5 170.9h7.2v7.3h-7.2zM685.5 184.3h7.2v7.3h-7.2zM646.2 191.0h7.2v7.3h-7.2zM803.7 191.0h7.2v7.3h-7.2zM639.6 197.8h7.2v7.3h-7.2zM816.8 197.8h7.2v7.3h-7.2zM711.8 211.2h7.2v7.3h-7.2zM718.4 217.9h7.2v7.3h-7.2zM679.0 231.3h7.2v7.3h-7.2zM849.7 231.3h7.2v7.3h-7.2zM646.2 244.7h7.2v7.3h-7.2zM849.7 244.7h7.2v7.3h-7.2zM797.1 251.4h7.2v7.3h-7.2zM889.0 271.6h7.2v7.3h-7.2zM679.0 298.4h7.2v7.3h-7.2zM810.3 298.4h7.2v7.3h-7.2zM639.6 305.1h7.2v7.3h-7.2zM836.5 305.1h7.2v7.3h-7.2zM875.9 318.5h7.2v7.3h-7.2zM711.8 325.3h7.2v7.3h-7.2zM784.0 325.3h7.2v7.3h-7.2zM895.6 325.3h7.2v7.3h-7.2zM895.6 338.7h7.2v7.3h-7.2z"/><path fill="#6e6e6e" d="M652.7 16.6h7.2v7.3h-7.2zM797.1 16.6h7.2v7.3h-7.2zM803.7 16.6h7.2v7.3h-7.2zM652.7 23.3h7.2v7.3h-7.2zM797.1 23.3h7.2v7.3h-7.2zM803.7 23.3h7.2v7.3h-7.2zM652.7 30.0h7.2v7.3h-7.2zM797.1 30.0h7.2v7.3h-7.2zM803.7 30.0h7.2v7.3h-7.2zM803.7 36.7h7.2v7.3h-7.2zM830.0 63.6h7.2v7.3h-7.2zM856.2 70.3h7.2v7.3h-7.2zM665.9 77.0h7.2v7.3h-7.2zM803.7 83.7h7.2v7.3h-7.2zM744.6 90.4h7.2v7.3h-7.2zM724.9 110.5h7.2v7.3h-7.2zM902.2 110.5h7.2v7.3h-7.2zM652.7 117.2h7.2v7.3h-7.2zM646.2 123.9h7.2v7.3h-7.2zM895.6 123.9h7.2v7.3h-7.2zM777.5 137.4h7.2v7.3h-7.2zM633.0 144.1h7.2v7.3h-7.2zM639.6 157.5h7.2v7.3h-7.2zM672.4 164.2h7.2v7.3h-7.2zM764.3 164.2h7.2v7.3h-7.2zM606.8 170.9h7.2v7.3h-7.2zM613.3 170.9h7.2v7.3h-7.2zM619.9 170.9h7.2v7.3h-7.2zM633.0 170.9h7.2v7.3h-7.2zM679.0 170.9h7.2v7.3h-7.2zM744.6 177.6h7.2v7.3h-7.2zM784.0 184.3h7.2v7.3h-7.2zM724.9 191.0h7.2v7.3h-7.2zM928.4 191.0h7.2v7.3h-7.2zM935.0 191.0h7.2v7.3h-7.2zM941.6 191.0h7.2v7.3h-7.2zM830.0 204.5h7.2v7.3h-7.2zM764.3 211.2h7.2v7.3h-7.2zM646.2 217.9h7.2v7.3h-7.2zM731.5 217.9h7.2v7.3h-7.2zM692.1 231.3h7.2v7.3h-7.2zM803.7 244.7h7.2v7.3h-7.2zM764.3 258.2h7.2v7.3h-7.2zM738.1 264.9h7.2v7.3h-7.2zM882.5 264.9h7.2v7.3h-7.2zM626.5 278.3h7.2v7.3h-7.2zM797.1 285.0h7.2v7.3h-7.2zM856.2 285.0h7.2v7.3h-7.2zM751.2 311.8h7.2v7.3h-7.2zM777.5 311.8h7.2v7.3h-7.2zM836.5 311.8h7.2v7.3h-7.2zM711.8 318.5h7.2v7.3h-7.2zM744.6 325.3h7.2v7.3h-7.2zM718.4 332.0h7.2v7.3h-7.2zM711.8 345.4h7.2v7.3h-7.2zM711.8 352.1h7.2v7.3h-7.2zM711.8 358.8h7.2v7.3h-7.2z"/><path fill="#707070" d="M685.5 16.6h7.2v7.3h-7.2zM685.5 23.3h7.2v7.3h-7.2zM685.5 30.0h7.2v7.3h-7.2zM665.9 43.4h7.2v7.3h-7.2zM672.4 43.4h7.2v7.3h-7.2zM639.6 50.1h7.2v7.3h-7.2zM718.4 56.8h7.2v7.3h-7.2zM875.9 70.3h7.2v7.3h-7.2zM928.4 123.9h7.2v7.3h-7.2zM935.0 123.9h7.2v7.3h-7.2zM941.6 123.9h7.2v7.3h-7.2zM679.0 130.7h7.2v7.3h-7.2zM633.0 150.8h7.2v7.3h-7.2zM685.5 157.5h7.2v7.3h-7.2zM849.7 157.5h7.2v7.3h-7.2zM626.5 170.9h7.2v7.3h-7.2zM751.2 184.3h7.2v7.3h-7.2zM744.6 204.5h7.2v7.3h-7.2zM823.4 204.5h7.2v7.3h-7.2zM679.0 211.2h7.2v7.3h-7.2zM639.6 224.6h7.2v7.3h-7.2zM646.2 224.6h7.2v7.3h-7.2zM777.5 224.6h7.2v7.3h-7.2zM836.5 231.3h7.2v7.3h-7.2zM639.6 238.0h7.2v7.3h-7.2zM777.5 244.7h7.2v7.3h-7.2zM810.3 244.7h7.2v7.3h-7.2zM816.8 244.7h7.2v7.3h-7.2zM823.4 244.7h7.2v7.3h-7.2zM915.3 251.4h7.2v7.3h-7.2zM770.9 258.2h7.2v7.3h-7.2zM685.5 278.3h7.2v7.3h-7.2zM882.5 278.3h7.2v7.3h-7.2zM810.3 285.0h7.2v7.3h-7.2zM633.0 291.7h7.2v7.3h-7.2zM652.7 291.7h7.2v7.3h-7.2zM692.1 291.7h7.2v7.3h-7.2zM790.6 325.3h7.2v7.3h-7.2zM882.5 325.3h7.2v7.3h-7.2zM889.0 325.3h7.2v7.3h-7.2zM718.4 345.4h7.2v7.3h-7.2zM889.0 345.4h7.2v7.3h-7.2zM902.2 345.4h7.2v7.3h-7.2zM718.4 352.1h7.2v7.3h-7.2zM889.0 352.1h7.2v7.3h-7.2zM902.2 352.1h7.2v7.3h-7.2zM718.4 358.8h7.2v7.3h-7.2zM889.0 358.8h7.2v7.3h-7.2zM902.2 358.8h7.2v7.3h-7.2z"/><path fill="#727272" d="M764.3 56.8h7.2v7.3h-7.2zM830.0 56.8h7.2v7.3h-7.2zM849.7 63.6h7.2v7.3h-7.2zM882.5 70.3h7.2v7.3h-7.2zM784.0 77.0h7.2v7.3h-7.2zM803.7 77.0h7.2v7.3h-7.2zM902.2 77.0h7.2v7.3h-7.2zM606.8 97.1h7.2v7.3h-7.2zM613.3 97.1h7.2v7.3h-7.2zM619.9 97.1h7.2v7.3h-7.2zM744.6 103.8h7.2v7.3h-7.2zM659.3 117.2h7.2v7.3h-7.2zM744.6 144.1h7.2v7.3h-7.2zM606.8 150.8h7.2v7.3h-7.2zM613.3 150.8h7.2v7.3h-7.2zM619.9 150.8h7.2v7.3h-7.2zM843.1 150.8h7.2v7.3h-7.2zM633.0 157.5h7.2v7.3h-7.2zM659.3 157.5h7.2v7.3h-7.2zM633.0 164.2h7.2v7.3h-7.2zM738.1 184.3h7.2v7.3h-7.2zM751.2 191.0h7.2v7.3h-7.2zM790.6 191.0h7.2v7.3h-7.2zM830.0 191.0h7.2v7.3h-7.2zM843.1 191.0h7.2v7.3h-7.2zM751.2 197.8h7.2v7.3h-7.2zM830.0 197.8h7.2v7.3h-7.2zM836.5 197.8h7.2v7.3h-7.2zM921.9 197.8h7.2v7.3h-7.2zM823.4 211.2h7.2v7.3h-7.2zM830.0 224.6h7.2v7.3h-7.2zM908.7 231.3h7.2v7.3h-7.2zM902.2 258.2h7.2v7.3h-7.2zM698.7 264.9h7.2v7.3h-7.2zM790.6 264.9h7.2v7.3h-7.2zM692.1 271.6h7.2v7.3h-7.2zM784.0 291.7h7.2v7.3h-7.2zM823.4 291.7h7.2v7.3h-7.2zM659.3 298.4h7.2v7.3h-7.2zM784.0 298.4h7.2v7.3h-7.2zM718.4 311.8h7.2v7.3h-7.2zM790.6 311.8h7.2v7.3h-7.2zM895.6 318.5h7.2v7.3h-7.2zM889.0 338.7h7.2v7.3h-7.2z"/><path fill="#747474" d="M757.8 16.6h7.2v7.3h-7.2zM757.8 23.3h7.2v7.3h-7.2zM757.8 30.0h7.2v7.3h-7.2zM738.1 43.4h7.2v7.3h-7.2zM757.8 43.4h7.2v7.3h-7.2zM764.3 43.4h7.2v7.3h-7.2zM895.6 63.6h7.2v7.3h-7.2zM764.3 97.1h7.2v7.3h-7.2zM770.9 97.1h7.2v7.3h-7.2zM790.6 97.1h7.2v7.3h-7.2zM646.2 130.7h7.2v7.3h-7.2zM889.0 137.4h7.2v7.3h-7.2zM738.1 144.1h7.2v7.3h-7.2zM836.5 144.1h7.2v7.3h-7.2zM639.6 150.8h7.2v7.3h-7.2zM744.6 150.8h7.2v7.3h-7.2zM889.0 150.8h7.2v7.3h-7.2zM718.4 157.5h7.2v7.3h-7.2zM803.7 157.5h7.2v7.3h-7.2zM830.0 177.6h7.2v7.3h-7.2zM652.7 197.8h7.2v7.3h-7.2zM928.4 197.8h7.2v7.3h-7.2zM935.0 197.8h7.2v7.3h-7.2zM941.6 197.8h7.2v7.3h-7.2zM639.6 204.5h7.2v7.3h-7.2zM705.2 204.5h7.2v7.3h-7.2zM889.0 204.5h7.2v7.3h-7.2zM921.9 204.5h7.2v7.3h-7.2zM639.6 211.2h7.2v7.3h-7.2zM665.9 217.9h7.2v7.3h-7.2zM823.4 217.9h7.2v7.3h-7.2zM889.0 224.6h7.2v7.3h-7.2zM816.8 238.0h7.2v7.3h-7.2zM843.1 238.0h7.2v7.3h-7.2zM843.1 244.7h7.2v7.3h-7.2zM711.8 258.2h7.2v7.3h-7.2zM757.8 258.2h7.2v7.3h-7.2zM790.6 258.2h7.2v7.3h-7.2zM889.0 264.9h7.2v7.3h-7.2zM882.5 271.6h7.2v7.3h-7.2zM639.6 278.3h7.2v7.3h-7.2zM646.2 285.0h7.2v7.3h-7.2zM692.1 285.0h7.2v7.3h-7.2zM784.0 285.0h7.2v7.3h-7.2zM803.7 285.0h7.2v7.3h-7.2zM862.8 285.0h7.2v7.3h-7.2zM738.1 298.4h7.2v7.3h-7.2zM646.2 305.1h7.2v7.3h-7.2zM764.3 305.1h7.2v7.3h-7.2zM770.9 305.1h7.2v7.3h-7.2zM784.0 305.1h7.2v7.3h-7.2zM816.8 305.1h7.2v7.3h-7.2zM823.4 338.7h7.2v7.3h-7.2z"/><path fill="#767676" d="M724.9 16.6h7.2v7.3h-7.2zM724.9 23.3h7.2v7.3h-7.2zM724.9 30.0h7.2v7.3h-7.2zM685.5 36.7h7.2v7.3h-7.2zM764.3 50.1h7.2v7.3h-7.2zM843.1 56.8h7.2v7.3h-7.2zM659.3 70.3h7.2v7.3h-7.2zM770.9 70.3h7.2v7.3h-7.2zM777.5 77.0h7.2v7.3h-7.2zM639.6 83.7h7.2v7.3h-7.2zM764.3 83.7h7.2v7.3h-7.2zM633.0 90.4h7.2v7.3h-7.2zM738.1 110.5h7.2v7.3h-7.2zM908.7 137.4h7.2v7.3h-7.2zM639.6 144.1h7.2v7.3h-7.2zM692.1 144.1h7.2v7.3h-7.2zM777.5 144.1h7.2v7.3h-7.2zM843.1 144.1h7.2v7.3h-7.2zM646.2 150.8h7.2v7.3h-7.2zM908.7 157.5h7.2v7.3h-7.2zM679.0 164.2h7.2v7.3h-7.2zM685.5 164.2h7.2v7.3h-7.2zM744.6 170.9h7.2v7.3h-7.2zM836.5 177.6h7.2v7.3h-7.2zM711.8 184.3h7.2v7.3h-7.2zM692.1 191.0h7.2v7.3h-7.2zM797.1 197.8h7.2v7.3h-7.2zM803.7 204.5h7.2v7.3h-7.2zM672.4 211.2h7.2v7.3h-7.2zM639.6 231.3h7.2v7.3h-7.2zM902.2 231.3h7.2v7.3h-7.2zM646.2 238.0h7.2v7.3h-7.2zM757.8 271.6h7.2v7.3h-7.2zM862.8 271.6h7.2v7.3h-7.2zM633.0 278.3h7.2v7.3h-7.2zM711.8 278.3h7.2v7.3h-7.2zM790.6 278.3h7.2v7.3h-7.2zM797.1 278.3h7.2v7.3h-7.2zM856.2 278.3h7.2v7.3h-7.2zM764.3 285.0h7.2v7.3h-7.2zM751.2 291.7h7.2v7.3h-7.2zM724.9 298.4h7.2v7.3h-7.2zM731.5 298.4h7.2v7.3h-7.2zM830.0 311.8h7.2v7.3h-7.2zM718.4 318.5h7.2v7.3h-7.2zM718.4 325.3h7.2v7.3h-7.2z"/><path fill="#787878" d="M659.3 36.7h7.2v7.3h-7.2zM626.5 56.8h7.2v7.3h-7.2zM889.0 56.8h7.2v7.3h-7.2zM652.7 63.6h7.2v7.3h-7.2zM764.3 63.6h7.2v7.3h-7.2zM659.3 77.0h7.2v7.3h-7.2zM790.6 90.4h7.2v7.3h-7.2zM724.9 97.1h7.2v7.3h-7.2zM744.6 97.1h7.2v7.3h-7.2zM751.2 97.1h7.2v7.3h-7.2zM757.8 97.1h7.2v7.3h-7.2zM777.5 97.1h7.2v7.3h-7.2zM889.0 144.1h7.2v7.3h-7.2zM908.7 144.1h7.2v7.3h-7.2zM685.5 150.8h7.2v7.3h-7.2zM665.9 157.5h7.2v7.3h-7.2zM895.6 157.5h7.2v7.3h-7.2zM757.8 164.2h7.2v7.3h-7.2zM803.7 164.2h7.2v7.3h-7.2zM764.3 177.6h7.2v7.3h-7.2zM830.0 184.3h7.2v7.3h-7.2zM843.1 184.3h7.2v7.3h-7.2zM718.4 191.0h7.2v7.3h-7.2zM731.5 191.0h7.2v7.3h-7.2zM797.1 191.0h7.2v7.3h-7.2zM836.5 191.0h7.2v7.3h-7.2zM895.6 197.8h7.2v7.3h-7.2zM908.7 211.2h7.2v7.3h-7.2zM692.1 224.6h7.2v7.3h-7.2zM803.7 224.6h7.2v7.3h-7.2zM803.7 231.3h7.2v7.3h-7.2zM823.4 238.0h7.2v7.3h-7.2zM902.2 238.0h7.2v7.3h-7.2zM908.7 238.0h7.2v7.3h-7.2zM797.1 244.7h7.2v7.3h-7.2zM830.0 244.7h7.2v7.3h-7.2zM836.5 244.7h7.2v7.3h-7.2zM738.1 258.2h7.2v7.3h-7.2zM698.7 278.3h7.2v7.3h-7.2zM705.2 278.3h7.2v7.3h-7.2zM764.3 278.3h7.2v7.3h-7.2zM685.5 285.0h7.2v7.3h-7.2zM679.0 291.7h7.2v7.3h-7.2zM639.6 298.4h7.2v7.3h-7.2zM830.0 298.4h7.2v7.3h-7.2zM744.6 305.1h7.2v7.3h-7.2zM777.5 305.1h7.2v7.3h-7.2zM738.1 332.0h7.2v7.3h-7.2zM659.3 338.7h7.2v7.3h-7.2zM665.9 338.7h7.2v7.3h-7.2zM830.0 338.7h7.2v7.3h-7.2zM836.5 345.4h7.2v7.3h-7.2zM836.5 352.1h7.2v7.3h-7.2zM836.5 358.8h7.2v7.3h-7.2z"/><path fill="#7a7a7a" d="M659.3 16.6h7.2v7.3h-7.2zM659.3 23.3h7.2v7.3h-7.2zM659.3 30.0h7.2v7.3h-7.2zM718.4 43.4h7.2v7.3h-7.2zM633.0 56.8h7.2v7.3h-7.2zM724.9 56.8h7.2v7.3h-7.2zM836.5 70.3h7.2v7.3h-7.2zM889.0 70.3h7.2v7.3h-7.2zM895.6 70.3h7.2v7.3h-7.2zM652.7 77.0h7.2v7.3h-7.2zM770.9 77.0h7.2v7.3h-7.2zM764.3 90.4h7.2v7.3h-7.2zM856.2 90.4h7.2v7.3h-7.2zM731.5 110.5h7.2v7.3h-7.2zM915.3 110.5h7.2v7.3h-7.2zM672.4 130.7h7.2v7.3h-7.2zM843.1 130.7h7.2v7.3h-7.2zM646.2 137.4h7.2v7.3h-7.2zM652.7 150.8h7.2v7.3h-7.2zM738.1 150.8h7.2v7.3h-7.2zM777.5 150.8h7.2v7.3h-7.2zM626.5 157.5h7.2v7.3h-7.2zM724.9 157.5h7.2v7.3h-7.2zM606.8 164.2h7.2v7.3h-7.2zM613.3 164.2h7.2v7.3h-7.2zM619.9 164.2h7.2v7.3h-7.2zM626.5 164.2h7.2v7.3h-7.2zM738.1 164.2h7.2v7.3h-7.2zM698.7 170.9h7.2v7.3h-7.2zM685.5 177.6h7.2v7.3h-7.2zM751.2 177.6h7.2v7.3h-7.2zM744.6 184.3h7.2v7.3h-7.2zM698.7 197.8h7.2v7.3h-7.2zM659.3 204.5h7.2v7.3h-7.2zM724.9 217.9h7.2v7.3h-7.2zM770.9 217.9h7.2v7.3h-7.2zM902.2 224.6h7.2v7.3h-7.2zM810.3 231.3h7.2v7.3h-7.2zM784.0 238.0h7.2v7.3h-7.2zM810.3 238.0h7.2v7.3h-7.2zM790.6 251.4h7.2v7.3h-7.2zM705.2 258.2h7.2v7.3h-7.2zM790.6 271.6h7.2v7.3h-7.2zM692.1 278.3h7.2v7.3h-7.2zM784.0 278.3h7.2v7.3h-7.2zM862.8 278.3h7.2v7.3h-7.2zM633.0 285.0h7.2v7.3h-7.2zM652.7 298.4h7.2v7.3h-7.2zM744.6 298.4h7.2v7.3h-7.2zM777.5 298.4h7.2v7.3h-7.2zM738.1 305.1h7.2v7.3h-7.2zM882.5 318.5h7.2v7.3h-7.2zM724.9 332.0h7.2v7.3h-7.2zM895.6 345.4h7.2v7.3h-7.2zM895.6 352.1h7.2v7.3h-7.2zM895.6 358.8h7.2v7.3h-7.2z"/><path fill="#7c7c7c" d="M731.5 43.4h7.2v7.3h-7.2zM646.2 56.8h7.2v7.3h-7.2zM606.8 77.0h7.2v7.3h-7.2zM613.3 77.0h7.2v7.3h-7.2zM619.9 77.0h7.2v7.3h-7.2zM790.6 77.0h7.2v7.3h-7.2zM633.0 83.7h7.2v7.3h-7.2zM770.9 83.7h7.2v7.3h-7.2zM790.6 83.7h7.2v7.3h-7.2zM797.1 83.7h7.2v7.3h-7.2zM862.8 90.4h7.2v7.3h-7.2zM784.0 97.1h7.2v7.3h-7.2zM665.9 123.9h7.2v7.3h-7.2zM915.3 123.9h7.2v7.3h-7.2zM921.9 123.9h7.2v7.3h-7.2zM836.5 130.7h7.2v7.3h-7.2zM895.6 130.7h7.2v7.3h-7.2zM908.7 130.7h7.2v7.3h-7.2zM685.5 137.4h7.2v7.3h-7.2zM659.3 150.8h7.2v7.3h-7.2zM908.7 150.8h7.2v7.3h-7.2zM790.6 164.2h7.2v7.3h-7.2zM757.8 177.6h7.2v7.3h-7.2zM915.3 197.8h7.2v7.3h-7.2zM738.1 211.2h7.2v7.3h-7.2zM803.7 211.2h7.2v7.3h-7.2zM764.3 217.9h7.2v7.3h-7.2zM875.9 217.9h7.2v7.3h-7.2zM646.2 231.3h7.2v7.3h-7.2zM685.5 231.3h7.2v7.3h-7.2zM784.0 231.3h7.2v7.3h-7.2zM751.2 258.2h7.2v7.3h-7.2zM711.8 264.9h7.2v7.3h-7.2zM810.3 291.7h7.2v7.3h-7.2zM685.5 298.4h7.2v7.3h-7.2zM757.8 305.1h7.2v7.3h-7.2zM744.6 311.8h7.2v7.3h-7.2zM784.0 318.5h7.2v7.3h-7.2zM889.0 318.5h7.2v7.3h-7.2zM659.3 345.4h7.2v7.3h-7.2zM659.3 352.1h7.2v7.3h-7.2zM659.3 358.8h7.2v7.3h-7.2z"/><path fill="#7e7e7e" d="M731.5 16.6h7.2v7.3h-7.2zM731.5 23.3h7.2v7.3h-7.2zM731.5 30.0h7.2v7.3h-7.2zM724.9 36.7h7.2v7.3h-7.2zM757.8 36.7h7.2v7.3h-7.2zM718.4 50.1h7.2v7.3h-7.2zM836.5 56.8h7.2v7.3h-7.2zM882.5 56.8h7.2v7.3h-7.2zM764.3 70.3h7.2v7.3h-7.2zM646.2 77.0h7.2v7.3h-7.2zM843.1 77.0h7.2v7.3h-7.2zM784.0 83.7h7.2v7.3h-7.2zM862.8 83.7h7.2v7.3h-7.2zM738.1 97.1h7.2v7.3h-7.2zM908.7 110.5h7.2v7.3h-7.2zM902.2 117.2h7.2v7.3h-7.2zM836.5 137.4h7.2v7.3h-7.2zM685.5 144.1h7.2v7.3h-7.2zM724.9 150.8h7.2v7.3h-7.2zM679.0 157.5h7.2v7.3h-7.2zM744.6 157.5h7.2v7.3h-7.2zM902.2 157.5h7.2v7.3h-7.2zM685.5 170.9h7.2v7.3h-7.2zM705.2 177.6h7.2v7.3h-7.2zM770.9 177.6h7.2v7.3h-7.2zM810.3 197.8h7.2v7.3h-7.2zM816.8 211.2h7.2v7.3h-7.2zM875.9 211.2h7.2v7.3h-7.2zM902.2 217.9h7.2v7.3h-7.2zM895.6 224.6h7.2v7.3h-7.2zM784.0 244.7h7.2v7.3h-7.2zM744.6 264.9h7.2v7.3h-7.2zM875.9 271.6h7.2v7.3h-7.2zM685.5 291.7h7.2v7.3h-7.2zM777.5 291.7h7.2v7.3h-7.2zM751.2 305.1h7.2v7.3h-7.2zM724.9 318.5h7.2v7.3h-7.2zM823.4 345.4h7.2v7.3h-7.2zM823.4 352.1h7.2v7.3h-7.2zM823.4 358.8h7.2v7.3h-7.2z"/><path fill="#818181" d="M665.9 36.7h7.2v7.3h-7.2zM672.4 36.7h7.2v7.3h-7.2zM724.9 43.4h7.2v7.3h-7.2zM606.8 70.3h7.2v7.3h-7.2zM613.3 70.3h7.2v7.3h-7.2zM619.9 70.3h7.2v7.3h-7.2zM849.7 70.3h7.2v7.3h-7.2zM626.5 77.0h7.2v7.3h-7.2zM797.1 77.0h7.2v7.3h-7.2zM777.5 83.7h7.2v7.3h-7.2zM626.5 90.4h7.2v7.3h-7.2zM921.9 117.2h7.2v7.3h-7.2zM908.7 123.9h7.2v7.3h-7.2zM679.0 137.4h7.2v7.3h-7.2zM895.6 137.4h7.2v7.3h-7.2zM646.2 144.1h7.2v7.3h-7.2zM784.0 144.1h7.2v7.3h-7.2zM895.6 150.8h7.2v7.3h-7.2zM606.8 157.5h7.2v7.3h-7.2zM613.3 157.5h7.2v7.3h-7.2zM619.9 157.5h7.2v7.3h-7.2zM672.4 157.5h7.2v7.3h-7.2zM692.1 170.9h7.2v7.3h-7.2zM777.5 177.6h7.2v7.3h-7.2zM836.5 184.3h7.2v7.3h-7.2zM816.8 204.5h7.2v7.3h-7.2zM915.3 204.5h7.2v7.3h-7.2zM646.2 211.2h7.2v7.3h-7.2zM810.3 211.2h7.2v7.3h-7.2zM803.7 217.9h7.2v7.3h-7.2zM830.0 238.0h7.2v7.3h-7.2zM836.5 238.0h7.2v7.3h-7.2zM902.2 251.4h7.2v7.3h-7.2zM777.5 258.2h7.2v7.3h-7.2zM770.9 264.9h7.2v7.3h-7.2zM777.5 264.9h7.2v7.3h-7.2zM711.8 271.6h7.2v7.3h-7.2zM784.0 271.6h7.2v7.3h-7.2zM777.5 278.3h7.2v7.3h-7.2zM869.4 278.3h7.2v7.3h-7.2zM770.9 285.0h7.2v7.3h-7.2zM777.5 285.0h7.2v7.3h-7.2zM639.6 291.7h7.2v7.3h-7.2zM816.8 291.7h7.2v7.3h-7.2zM646.2 298.4h7.2v7.3h-7.2zM830.0 305.1h7.2v7.3h-7.2zM784.0 311.8h7.2v7.3h-7.2zM744.6 318.5h7.2v7.3h-7.2zM790.6 318.5h7.2v7.3h-7.2zM724.9 325.3h7.2v7.3h-7.2zM731.5 332.0h7.2v7.3h-7.2zM830.0 345.4h7.2v7.3h-7.2zM830.0 352.1h7.2v7.3h-7.2zM830.0 358.8h7.2v7.3h-7.2z"/><path fill="#838383" d="M679.0 36.7h7.2v7.3h-7.2zM738.1 36.7h7.2v7.3h-7.2zM882.5 63.6h7.2v7.3h-7.2zM626.5 70.3h7.2v7.3h-7.2zM856.2 77.0h7.2v7.3h-7.2zM849.7 83.7h7.2v7.3h-7.2zM731.5 97.1h7.2v7.3h-7.2zM724.9 103.8h7.2v7.3h-7.2zM738.1 103.8h7.2v7.3h-7.2zM843.1 137.4h7.2v7.3h-7.2zM652.7 144.1h7.2v7.3h-7.2zM895.6 144.1h7.2v7.3h-7.2zM731.5 150.8h7.2v7.3h-7.2zM790.6 150.8h7.2v7.3h-7.2zM797.1 164.2h7.2v7.3h-7.2zM646.2 197.8h7.2v7.3h-7.2zM908.7 197.8h7.2v7.3h-7.2zM665.9 211.2h7.2v7.3h-7.2zM718.4 211.2h7.2v7.3h-7.2zM797.1 231.3h7.2v7.3h-7.2zM816.8 231.3h7.2v7.3h-7.2zM830.0 231.3h7.2v7.3h-7.2zM790.6 244.7h7.2v7.3h-7.2zM744.6 258.2h7.2v7.3h-7.2zM784.0 264.9h7.2v7.3h-7.2zM869.4 271.6h7.2v7.3h-7.2zM770.9 278.3h7.2v7.3h-7.2zM875.9 278.3h7.2v7.3h-7.2zM639.6 285.0h7.2v7.3h-7.2zM757.8 291.7h7.2v7.3h-7.2zM764.3 291.7h7.2v7.3h-7.2zM770.9 291.7h7.2v7.3h-7.2zM770.9 298.4h7.2v7.3h-7.2zM724.9 305.1h7.2v7.3h-7.2zM724.9 311.8h7.2v7.3h-7.2zM738.1 325.3h7.2v7.3h-7.2zM665.9 345.4h7.2v7.3h-7.2zM665.9 352.1h7.2v7.3h-7.2zM665.9 358.8h7.2v7.3h-7.2z"/><path fill="#858585" d="M679.0 16.6h7.2v7.3h-7.2zM679.0 23.3h7.2v7.3h-7.2zM679.0 30.0h7.2v7.3h-7.2zM744.6 36.7h7.2v7.3h-7.2zM606.8 56.8h7.2v7.3h-7.2zM613.3 56.8h7.2v7.3h-7.2zM619.9 56.8h7.2v7.3h-7.2zM639.6 56.8h7.2v7.3h-7.2zM836.5 63.6h7.2v7.3h-7.2zM889.0 63.6h7.2v7.3h-7.2zM652.7 70.3h7.2v7.3h-7.2zM633.0 77.0h7.2v7.3h-7.2zM606.8 83.7h7.2v7.3h-7.2zM613.3 83.7h7.2v7.3h-7.2zM619.9 83.7h7.2v7.3h-7.2zM626.5 83.7h7.2v7.3h-7.2zM606.8 90.4h7.2v7.3h-7.2zM613.3 90.4h7.2v7.3h-7.2zM619.9 90.4h7.2v7.3h-7.2zM770.9 90.4h7.2v7.3h-7.2zM784.0 90.4h7.2v7.3h-7.2zM652.7 123.9h7.2v7.3h-7.2zM659.3 123.9h7.2v7.3h-7.2zM902.2 137.4h7.2v7.3h-7.2zM784.0 157.5h7.2v7.3h-7.2zM751.2 164.2h7.2v7.3h-7.2zM692.1 184.3h7.2v7.3h-7.2zM902.2 197.8h7.2v7.3h-7.2zM810.3 204.5h7.2v7.3h-7.2zM652.7 211.2h7.2v7.3h-7.2zM685.5 217.9h7.2v7.3h-7.2zM803.7 238.0h7.2v7.3h-7.2zM902.2 244.7h7.2v7.3h-7.2zM908.7 251.4h7.2v7.3h-7.2zM705.2 264.9h7.2v7.3h-7.2zM751.2 264.9h7.2v7.3h-7.2zM757.8 264.9h7.2v7.3h-7.2zM764.3 264.9h7.2v7.3h-7.2zM698.7 271.6h7.2v7.3h-7.2zM764.3 271.6h7.2v7.3h-7.2zM777.5 271.6h7.2v7.3h-7.2zM646.2 291.7h7.2v7.3h-7.2z"/><path fill="#878787" d="M731.5 36.7h7.2v7.3h-7.2zM724.9 50.1h7.2v7.3h-7.2zM843.1 70.3h7.2v7.3h-7.2zM639.6 77.0h7.2v7.3h-7.2zM777.5 90.4h7.2v7.3h-7.2zM902.2 123.9h7.2v7.3h-7.2zM665.9 130.7h7.2v7.3h-7.2zM652.7 137.4h7.2v7.3h-7.2zM672.4 137.4h7.2v7.3h-7.2zM679.0 144.1h7.2v7.3h-7.2zM902.2 144.1h7.2v7.3h-7.2zM784.0 150.8h7.2v7.3h-7.2zM902.2 150.8h7.2v7.3h-7.2zM731.5 157.5h7.2v7.3h-7.2zM770.9 170.9h7.2v7.3h-7.2zM744.6 197.8h7.2v7.3h-7.2zM803.7 197.8h7.2v7.3h-7.2zM895.6 204.5h7.2v7.3h-7.2zM659.3 211.2h7.2v7.3h-7.2zM902.2 211.2h7.2v7.3h-7.2zM672.4 217.9h7.2v7.3h-7.2zM816.8 217.9h7.2v7.3h-7.2zM679.0 224.6h7.2v7.3h-7.2zM790.6 231.3h7.2v7.3h-7.2zM823.4 231.3h7.2v7.3h-7.2zM908.7 244.7h7.2v7.3h-7.2zM777.5 251.4h7.2v7.3h-7.2zM784.0 258.2h7.2v7.3h-7.2zM751.2 298.4h7.2v7.3h-7.2zM731.5 325.3h7.2v7.3h-7.2z"/><path fill="#898989" d="M665.9 16.6h7.2v7.3h-7.2zM751.2 16.6h7.2v7.3h-7.2zM665.9 23.3h7.2v7.3h-7.2zM751.2 23.3h7.2v7.3h-7.2zM665.9 30.0h7.2v7.3h-7.2zM751.2 30.0h7.2v7.3h-7.2zM751.2 36.7h7.2v7.3h-7.2zM606.8 63.6h7.2v7.3h-7.2zM613.3 63.6h7.2v7.3h-7.2zM619.9 63.6h7.2v7.3h-7.2zM843.1 63.6h7.2v7.3h-7.2zM849.7 77.0h7.2v7.3h-7.2zM665.9 150.8h7.2v7.3h-7.2zM679.0 150.8h7.2v7.3h-7.2zM797.1 157.5h7.2v7.3h-7.2zM738.1 197.8h7.2v7.3h-7.2zM711.8 204.5h7.2v7.3h-7.2zM738.1 204.5h7.2v7.3h-7.2zM731.5 211.2h7.2v7.3h-7.2zM823.4 224.6h7.2v7.3h-7.2zM797.1 238.0h7.2v7.3h-7.2zM784.0 251.4h7.2v7.3h-7.2zM770.9 271.6h7.2v7.3h-7.2zM731.5 305.1h7.2v7.3h-7.2zM823.4 305.1h7.2v7.3h-7.2z"/><path fill="#8b8b8b" d="M738.1 16.6h7.2v7.3h-7.2zM738.1 23.3h7.2v7.3h-7.2zM738.1 30.0h7.2v7.3h-7.2zM646.2 63.6h7.2v7.3h-7.2zM902.2 130.7h7.2v7.3h-7.2zM659.3 144.1h7.2v7.3h-7.2zM744.6 164.2h7.2v7.3h-7.2zM751.2 170.9h7.2v7.3h-7.2zM692.1 177.6h7.2v7.3h-7.2zM738.1 191.0h7.2v7.3h-7.2zM646.2 204.5h7.2v7.3h-7.2zM908.7 204.5h7.2v7.3h-7.2zM790.6 238.0h7.2v7.3h-7.2zM816.8 298.4h7.2v7.3h-7.2zM731.5 318.5h7.2v7.3h-7.2z"/><path fill="#8d8d8d" d="M626.5 63.6h7.2v7.3h-7.2zM731.5 103.8h7.2v7.3h-7.2zM908.7 117.2h7.2v7.3h-7.2zM738.1 157.5h7.2v7.3h-7.2zM757.8 170.9h7.2v7.3h-7.2zM764.3 170.9h7.2v7.3h-7.2zM698.7 177.6h7.2v7.3h-7.2zM711.8 191.0h7.2v7.3h-7.2zM744.6 191.0h7.2v7.3h-7.2zM731.5 197.8h7.2v7.3h-7.2zM724.9 211.2h7.2v7.3h-7.2zM882.5 211.2h7.2v7.3h-7.2zM679.0 217.9h7.2v7.3h-7.2zM810.3 224.6h7.2v7.3h-7.2zM705.2 271.6h7.2v7.3h-7.2zM764.3 298.4h7.2v7.3h-7.2zM823.4 298.4h7.2v7.3h-7.2zM738.1 311.8h7.2v7.3h-7.2zM738.1 318.5h7.2v7.3h-7.2z"/><path fill="#8f8f8f" d="M633.0 70.3h7.2v7.3h-7.2zM646.2 70.3h7.2v7.3h-7.2zM856.2 83.7h7.2v7.3h-7.2zM790.6 157.5h7.2v7.3h-7.2zM705.2 184.3h7.2v7.3h-7.2zM698.7 191.0h7.2v7.3h-7.2zM705.2 197.8h7.2v7.3h-7.2zM724.9 197.8h7.2v7.3h-7.2zM652.7 204.5h7.2v7.3h-7.2zM895.6 211.2h7.2v7.3h-7.2zM810.3 217.9h7.2v7.3h-7.2zM757.8 298.4h7.2v7.3h-7.2z"/><path fill="#919191" d="M672.4 16.6h7.2v7.3h-7.2zM672.4 23.3h7.2v7.3h-7.2zM672.4 30.0h7.2v7.3h-7.2zM915.3 117.2h7.2v7.3h-7.2zM672.4 150.8h7.2v7.3h-7.2zM902.2 204.5h7.2v7.3h-7.2zM889.0 211.2h7.2v7.3h-7.2zM882.5 217.9h7.2v7.3h-7.2zM895.6 217.9h7.2v7.3h-7.2zM685.5 224.6h7.2v7.3h-7.2zM731.5 311.8h7.2v7.3h-7.2z"/><path fill="#939393" d="M744.6 16.6h7.2v7.3h-7.2zM744.6 23.3h7.2v7.3h-7.2zM744.6 30.0h7.2v7.3h-7.2zM633.0 63.6h7.2v7.3h-7.2zM639.6 63.6h7.2v7.3h-7.2zM639.6 70.3h7.2v7.3h-7.2zM652.7 130.7h7.2v7.3h-7.2zM672.4 144.1h7.2v7.3h-7.2zM718.4 197.8h7.2v7.3h-7.2zM816.8 224.6h7.2v7.3h-7.2z"/><path fill="#959595" d="M665.9 137.4h7.2v7.3h-7.2zM665.9 144.1h7.2v7.3h-7.2zM698.7 184.3h7.2v7.3h-7.2zM718.4 204.5h7.2v7.3h-7.2z"/><path fill="#979797" d="M659.3 130.7h7.2v7.3h-7.2zM659.3 137.4h7.2v7.3h-7.2zM711.8 197.8h7.2v7.3h-7.2z"/><path fill="#999999" d="M705.2 191.0h7.2v7.3h-7.2zM731.5 204.5h7.2v7.3h-7.2zM889.0 217.9h7.2v7.3h-7.2z"/><path fill="#9b9b9b" d="M724.9 204.5h7.2v7.3h-7.2z"/><ellipse cx="891.6" cy="64.3" rx="9.6" ry="9.6" fill="url(#hB_s96)"/><ellipse cx="640.9" cy="85.2" rx="8.0" ry="9.6" fill="url(#hB_s74)"/><ellipse cx="914.0" cy="130.4" rx="8.0" ry="8.0" fill="url(#hB_s72)"/><ellipse cx="640.9" cy="164.7" rx="9.6" ry="11.2" fill="url(#hB_s86)"/><ellipse cx="621.5" cy="164.7" rx="6.4" ry="8.0" fill="url(#hB_s72)"/><ellipse cx="748.4" cy="173.7" rx="9.6" ry="8.0" fill="url(#hB_s72)"/><ellipse cx="791.6" cy="152.8" rx="12.8" ry="8.0" fill="url(#hB_s78)"/><ellipse cx="814.0" cy="163.2" rx="8.0" ry="8.0" fill="url(#hB_s70)"/><ellipse cx="706.6" cy="197.0" rx="9.6" ry="6.4" fill="url(#hB_s72)"/><ellipse cx="727.5" cy="205.9" rx="12.8" ry="6.4" fill="url(#hB_s72)"/><ellipse cx="742.4" cy="200.0" rx="8.0" ry="8.0" fill="url(#hB_s72)"/><ellipse cx="846.9" cy="205.9" rx="8.0" ry="8.0" fill="url(#hB_s72)"/><ellipse cx="924.5" cy="207.4" rx="8.0" ry="9.6" fill="url(#hB_s82)"/><ellipse cx="673.7" cy="219.4" rx="8.0" ry="8.0" fill="url(#hB_s85)"/><ellipse cx="826.0" cy="217.9" rx="6.4" ry="6.4" fill="url(#hB_s70)"/><ellipse cx="790.1" cy="249.2" rx="12.8" ry="14.4" fill="url(#hB_s88)"/><ellipse cx="836.4" cy="241.7" rx="8.0" ry="6.4" fill="url(#hB_s72)"/><ellipse cx="751.3" cy="262.6" rx="6.4" ry="9.6" fill="url(#hB_s72)"/><ellipse cx="629.0" cy="275.0" rx="8.0" ry="8.0" fill="url(#hB_s72)"/><ellipse cx="684.2" cy="276.5" rx="8.0" ry="11.2" fill="url(#hB_s85)"/><ellipse cx="781.2" cy="275.0" rx="8.0" ry="8.0" fill="url(#hB_s70)"/><ellipse cx="858.8" cy="275.0" rx="8.0" ry="8.0" fill="url(#hB_s70)"/><ellipse cx="640.9" cy="310.8" rx="4.8" ry="11.2" fill="url(#hB_s72)"/><ellipse cx="782.7" cy="307.8" rx="8.0" ry="8.0" fill="url(#hB_s72)"/><ellipse cx="749.9" cy="327.2" rx="8.0" ry="9.6" fill="url(#hB_s75)"/><ellipse cx="760.3" cy="295.9" rx="8.0" ry="8.0" fill="url(#hB_s60)"/></g><path fill="none" stroke="#263" stroke-opacity="0.5" stroke-width="0.8" stroke-dasharray="3 1.5" d="M628 30L628 32L630 33L632 30M885 120L887 117L886 113L882 112L878 112L877 114L878 117L883 120L885 120M620 128L628 127L629 123L628 120L620 119M812 141L813 140L811 139L808 138L807 139L807 141L812 141M907 183L908 181L907 180L904 179L902 180L902 181L903 183L907 183M874 195L875 192L873 187L870 186L867 187L867 189L869 194L871 196L874 195M883 252L884 249L883 247L880 246L877 247L877 249L878 252L880 253L883 252M683 259L680 255L673 250L671 247L670 247L668 247L669 249L672 251L675 256L681 260L683 259M620 42L623 42L628 39L637 38L638 36L638 30M794 62L795 59L794 56L792 53L788 51L787 54L787 60L791 63L794 62M715 92L728 84L744 83L748 82L750 80L751 74L748 65L746 64L728 74L722 76L715 74L697 67L693 67L692 70L693 75L702 88L708 93L715 92M934 70L926 69L925 69L924 71L925 74L932 80L934 80M887 124L891 120L891 110L895 100L892 95L889 92L886 91L884 93L885 100L884 103L874 108L871 111L871 113L871 116L876 123L881 125L887 124M828 103L829 99L827 95L824 95L820 97L819 99L820 101L826 104L828 103M707 110L706 107L703 107L707 110M620 133L629 133L632 132L636 128L639 120L638 117L635 115L620 115M771 129L776 127L778 122L777 119L775 118L769 117L763 118L761 121L763 127L766 129L771 129M814 148L819 146L820 141L818 138L815 135L812 133L807 132L803 133L800 138L800 141L807 147L814 148M908 188L911 188L913 186L914 183L913 180L905 176L899 175L897 176L895 180L896 184L902 188L908 188M878 200L881 199L883 195L884 189L884 186L881 184L873 180L867 179L864 180L861 183L860 187L864 197L871 201L878 200M671 188L671 186L669 184L667 183L665 184L665 186L667 188L669 189L671 188M620 208L624 207L628 201L629 198L628 195L627 193L620 192M776 204L780 202L781 200L778 195L774 193L769 194L766 198L767 201L773 205L776 204M620 246L627 245L629 244L630 242L629 240L625 234L623 233L620 232M764 243L765 242L765 240L758 237L755 234L749 233L747 233L748 235L756 242L760 244L764 243M678 265L690 263L691 261L691 258L687 253L680 249L671 240L669 239L667 239L663 245L662 249L666 256L670 261L673 265L675 266L678 265M883 257L887 256L889 252L888 242L887 240L885 239L878 241L871 246L870 248L871 251L876 256L883 257M909 302L912 300L912 295L908 287L905 286L900 287L898 292L898 297L903 302L909 302M670 327L672 323L670 321L667 320L663 322L663 323L666 326L670 327M809 351L807 344L805 342L801 341L798 342L795 344L793 347L793 351M695 351L694 348L689 346L687 347L687 351M620 48L625 47L629 43L631 42L640 41L643 40L641 30M795 66L799 63L800 60L797 52L789 44L787 43L784 44L783 45L783 47L784 62L788 66L792 67L795 66M867 62L869 59L869 53L867 51L864 51L861 53L860 59L863 62L867 62M934 62L931 61L924 58L918 53L915 53L913 54L914 61L916 69L926 82L930 85L934 86M716 136L718 134L718 132L715 128L714 126L718 121L712 109L710 101L710 99L728 88L735 86L748 86L751 84L753 81L754 73L750 60L748 58L746 58L744 59L735 68L729 70L723 71L719 71L714 68L705 59L702 57L689 60L686 61L685 63L685 67L688 75L692 83L696 86L700 93L695 100L700 114L703 127L710 135L713 137L716 136M880 129L886 128L893 122L895 112L900 100L895 91L885 87L882 87L880 88L881 99L880 101L869 106L868 108L867 111L867 115L871 125L875 129L880 129M835 110L836 107L837 101L834 93L830 90L826 89L821 89L818 91L816 93L814 98L815 102L825 111L831 111L835 110M658 108L666 101L667 99L664 98L660 98L648 105L646 107L647 108L649 109L658 108M620 136L630 136L637 132L639 129L642 121L643 114L642 112L639 111L620 113M771 132L777 131L780 128L785 120L785 118L783 115L778 114L766 114L761 115L757 118L756 122L759 130L765 132L771 132M823 150L825 147L822 139L816 132L806 129L801 130L798 132L797 136L796 140L805 149L812 151L820 151L823 150M934 139L926 139L924 139L924 141L925 146L927 148L931 150L934 151M875 203L883 201L891 191L897 190L910 190L914 189L917 186L916 180L913 177L907 174L898 172L891 174L886 179L870 175L865 176L859 179L857 181L857 187L862 198L864 202L866 203L875 203M677 195L677 192L676 187L671 179L662 177L657 179L657 182L661 189L670 195L675 196L677 195M620 214L624 213L628 209L632 201L633 196L632 192L629 189L625 187L620 187M780 208L785 201L781 193L774 190L768 191L765 193L764 195L763 199L765 204L773 209L777 209L780 208M716 247L720 244L720 240L716 231L712 225L710 221L707 220L706 221L706 228L704 243L707 246L716 247M620 249L630 250L632 249L633 247L632 240L629 233L625 230L620 229M763 247L767 246L771 242L772 239L770 236L748 229L744 230L743 232L744 235L752 243L760 247L763 247M668 288L673 283L675 272L677 268L682 266L691 265L694 262L694 260L690 252L680 246L671 236L668 234L661 239L659 248L660 256L663 262L663 274L665 284L666 287L668 288M887 258L891 254L893 241L892 239L889 236L885 235L877 238L871 242L868 246L868 249L869 255L872 258L879 259L887 258M867 311L879 308L893 308L899 307L909 307L913 306L916 303L916 300L915 293L913 285L908 282L904 281L897 285L893 295L891 296L872 298L860 298L857 299L855 302L857 308L863 311L867 311M620 330L633 332L635 332L636 330L629 313L625 310L620 309M672 331L676 329L678 322L677 320L671 315L669 315L666 315L660 318L657 321L657 324L660 329L667 331L672 331M812 351L810 340L808 338L805 338L798 338L791 341L788 345L787 351M934 337L931 338L929 341L930 351M699 351L699 347L697 345L688 341L686 341L684 343L683 351M620 50L628 50L635 44L645 43L647 41L647 39L644 34L644 30M707 30L708 33L709 34L711 32L712 30M877 30L879 35L883 38L886 39L894 36L896 34L896 30M934 34L924 38L923 42L924 46L911 43L908 44L907 46L909 63L921 85L923 95L926 97L934 97M794 69L801 67L803 64L805 59L803 53L795 45L789 41L782 38L779 39L778 41L782 63L786 68L794 69M868 65L873 61L874 52L873 49L869 45L864 44L860 46L857 50L856 53L856 59L857 62L859 63L865 66L868 65M620 138L630 138L637 136L642 130L646 118L648 115L653 113L663 111L676 101L679 98L682 97L686 99L692 105L693 113L692 119L693 122L696 126L698 130L702 134L705 141L708 145L712 145L722 142L728 135L742 134L742 133L738 130L735 126L727 122L719 115L715 108L715 101L718 97L723 95L727 91L732 89L739 88L750 88L755 86L757 81L757 74L754 59L749 55L745 54L740 57L738 62L735 65L730 68L725 68L719 67L715 64L708 54L703 50L694 52L680 57L676 59L676 61L679 68L683 72L686 79L686 83L685 86L676 91L659 92L647 99L639 105L626 110L620 111M856 222L860 220L862 218L866 210L869 207L884 203L887 201L891 196L896 193L914 191L919 190L921 187L919 180L912 174L907 172L888 168L882 164L876 155L874 147L876 138L893 125L896 121L897 113L902 105L910 99L901 91L894 87L887 85L880 84L877 85L876 87L877 95L875 100L873 102L864 105L862 107L864 122L863 128L859 136L858 142L861 150L863 155L867 159L870 166L868 169L857 176L854 180L857 203L855 209L850 215L848 219L850 222L856 222M834 117L841 116L843 113L841 99L838 92L835 89L828 86L822 85L818 86L811 93L809 99L810 103L817 110L822 114L826 118L834 117M829 156L830 155L831 153L828 146L821 131L816 128L809 126L795 125L794 119L788 113L780 111L763 112L758 113L752 119L752 123L755 130L759 135L764 136L768 136L781 133L784 131L787 126L794 125L795 126L793 135L793 139L795 142L806 151L817 153L826 157L829 156M934 137L924 136L921 138L921 141L923 149L930 154L934 155M685 203L686 200L679 185L673 178L669 175L663 172L658 173L654 174L652 178L652 181L659 191L668 199L680 203L685 203M812 186L814 186L815 184L814 180L811 180L801 181L808 185L812 186M620 220L626 218L630 215L633 205L636 200L637 195L636 190L632 185L627 183L620 183M788 217L789 214L788 208L789 201L783 192L774 188L767 189L764 190L762 193L761 199L762 202L765 207L777 212L781 216L788 217M723 251L726 249L727 246L725 240L722 233L710 218L703 212L697 212L697 214L700 219L703 228L702 235L699 242L700 248L704 250L723 251M934 220L924 221L923 223L923 226L924 229L930 235L934 237M620 253L624 254L631 256L638 259L642 263L650 265L653 266L658 273L660 289L662 292L669 296L671 294L676 284L676 275L678 269L680 267L683 266L692 267L696 264L698 261L697 258L695 252L680 243L672 232L668 230L663 231L661 233L659 239L655 256L651 259L645 258L642 256L639 251L631 231L625 225L620 223M768 250L776 241L777 236L775 233L768 231L754 229L747 226L742 226L739 228L739 231L740 235L750 244L760 250L765 251L768 250M875 262L886 261L890 259L893 256L896 241L894 236L892 234L885 232L879 233L870 239L866 245L864 251L865 257L869 261L875 262M934 251L930 251L928 253L929 262L927 265L924 267L923 269L925 271L934 274M846 277L846 275L846 273L841 266L833 264L830 264L828 266L828 270L832 274L839 278L843 278L846 277M748 287L751 283L751 281L750 280L741 276L736 275L734 275L734 280L736 283L740 286L748 287M866 317L871 314L879 311L893 311L906 314L912 313L916 310L921 305L922 301L915 276L913 275L911 275L904 277L898 280L893 286L890 291L887 293L868 296L856 295L851 297L848 301L852 309L862 316L866 317M709 305L715 302L716 296L714 293L709 292L707 292L705 294L704 300L706 304L709 305M633 351L634 346L635 345L643 346L648 345L650 342L650 338L648 333L636 320L630 305L625 302L620 301M815 351L816 334L818 332L828 329L829 327L825 321L808 307L806 306L805 309L807 314L808 328L805 332L789 338L781 338L779 336L771 324L768 323L766 323L763 325L761 331L755 338L752 344L749 346L738 347L737 349L736 351M703 351L703 345L699 336L695 333L692 333L689 334L688 333L690 330L689 328L685 320L680 318L677 314L672 312L667 312L661 313L653 321L653 324L654 328L658 331L671 334L678 338L679 341L680 351M934 331L927 332L924 334L922 341L922 351M881 351L880 347L873 340L866 338L864 339L861 343L856 346L855 351M759 351L761 346L765 342L768 341L776 344L778 347L778 351M620 54L630 55L637 50L650 50L654 49L655 45L650 33L650 30M698 30L697 40L692 46L685 49L667 52L664 54L663 58L664 61L675 73L676 79L675 82L670 86L654 89L635 101L624 106L620 106M769 30L770 40L776 51L777 64L780 70L784 72L788 73L800 72L807 69L812 69L816 71L819 74L820 79L812 84L806 92L803 99L802 107L804 110L807 114L808 117L807 119L799 115L795 111L788 108L780 106L761 108L754 110L750 113L745 122L742 123L738 122L724 114L720 110L719 107L720 102L722 99L736 92L756 90L759 88L762 80L759 67L759 56L757 52L755 50L748 49L740 51L734 61L730 64L724 64L718 62L714 54L713 46L713 43L718 36L719 30M815 30L818 46L817 48L814 48L809 47L791 36L785 34L783 32L783 30M866 99L858 99L851 97L831 75L827 60L827 54L829 53L839 49L841 47L843 43L845 42L847 42L849 44L850 53L853 62L858 68L865 71L868 71L874 68L879 56L883 51L891 49L897 50L900 52L905 66L912 79L912 86L911 87L908 87L904 87L890 80L884 79L872 80L871 81L871 85L873 94L871 97L866 99M934 133L924 132L917 139L916 142L917 146L922 154L923 160L920 168L918 169L912 169L904 168L891 163L888 161L883 153L881 147L884 140L889 134L895 129L901 115L904 111L912 108L925 110L934 109M620 145L630 144L638 141L644 134L647 124L653 118L656 117L668 116L675 111L682 110L684 113L685 119L682 127L696 138L704 151L707 154L714 154L722 147L735 141L756 144L760 147L760 157L762 161L783 171L785 176L790 182L798 189L813 194L820 195L823 193L824 189L824 179L825 176L838 171L840 169L841 166L841 158L838 153L830 142L829 133L831 131L838 125L841 124L847 125L850 127L853 132L854 139L855 152L856 156L860 160L860 162L858 167L850 172L849 174L854 202L853 208L848 213L839 215L835 220L836 222L839 227L846 230L861 229L868 226L870 223L870 214L872 212L886 206L898 197L904 195L917 195L921 193L926 188L926 179L928 178L934 178M804 174L799 174L785 169L780 163L777 158L772 154L769 148L769 146L773 141L780 137L787 138L791 142L799 148L806 155L815 155L820 158L822 161L822 164L819 171L816 173L804 174M705 166L706 165L704 159L701 158L698 159L698 161L701 166L705 166M709 351L710 346L715 340L712 334L706 328L705 323L705 317L707 315L714 312L717 309L722 296L722 291L717 287L709 286L705 287L702 289L700 294L698 310L694 311L688 310L684 307L679 304L678 302L677 295L679 288L677 277L678 271L681 268L684 268L692 271L695 271L697 269L700 264L703 256L707 254L711 255L725 261L725 275L727 283L729 286L738 292L745 292L749 292L757 286L759 283L759 281L756 278L738 270L731 263L731 260L738 250L739 247L739 245L735 242L734 240L735 239L737 240L744 246L760 256L767 257L770 255L777 244L780 237L780 233L776 230L748 221L738 224L734 227L731 233L729 234L724 227L719 223L717 219L710 212L704 209L693 201L689 195L684 185L676 173L671 170L663 167L656 166L653 167L645 176L643 184L631 179L620 178M729 188L739 181L736 173L734 172L725 172L721 174L719 176L719 181L721 185L725 188L729 188M794 225L796 224L798 221L796 207L793 200L788 192L781 187L775 185L766 185L761 187L759 190L758 194L758 203L759 208L762 210L770 213L777 218L785 225L794 225M650 251L646 250L642 247L635 227L638 207L640 201L642 191L645 187L649 188L661 200L669 206L684 211L689 213L696 220L699 228L698 236L689 244L687 243L682 239L678 232L674 229L664 225L660 225L657 228L656 235L654 243L652 249L650 251M934 214L927 217L918 218L915 221L916 228L919 233L923 241L921 247L922 255L920 259L916 263L904 270L899 275L892 279L887 288L884 290L866 292L857 290L851 282L850 272L852 268L857 265L879 266L895 262L896 258L899 241L897 234L894 231L879 228L871 229L867 235L863 239L855 251L848 256L844 258L838 258L814 252L810 253L807 254L804 262L800 267L800 269L804 276L812 283L826 289L829 289L835 286L839 286L841 287L841 290L838 293L837 294L841 303L845 311L849 315L852 322L852 328L849 332L846 333L843 332L835 323L826 317L822 313L818 310L807 297L802 294L799 294L796 296L795 301L797 309L802 321L802 326L800 329L793 332L785 331L782 328L779 320L775 315L772 314L767 314L759 319L757 329L755 333L743 342L730 345L728 347L728 351M620 263L630 264L641 270L651 274L653 278L655 289L660 296L667 300L668 304L667 306L661 308L643 320L640 320L638 318L636 314L634 301L632 298L627 293L620 291M934 293L930 292L928 287L930 283L934 282M887 351L886 346L881 337L875 329L874 324L875 320L878 316L885 314L893 315L913 326L914 329L911 340L913 351M818 351L819 345L820 341L824 338L828 336L842 338L848 346L848 351M655 351L656 340L658 338L662 337L670 338L674 340L676 344L677 351M687 30L688 38L687 41L683 42L671 44L667 43L661 40L660 35L659 30M761 30L763 40L762 45L748 43L740 46L734 50L730 59L727 61L721 56L719 51L720 46L724 41L727 34L727 30M898 75L888 75L884 73L882 71L881 67L881 63L882 58L885 56L892 54L896 56L899 58L901 66L900 73L898 75M620 58L631 59L643 56L649 58L663 73L664 78L662 81L651 84L646 90L642 93L634 95L624 99L620 99M865 95L858 94L844 81L839 74L836 67L835 62L837 59L840 58L845 60L857 75L862 78L867 87L867 92L865 95M790 102L786 102L765 98L766 90L770 83L771 80L771 78L766 75L765 73L765 67L766 65L768 65L777 78L784 81L787 82L792 79L797 78L801 78L804 79L805 82L803 86L802 88L797 91L793 99L790 102M740 114L734 115L726 110L725 105L728 100L732 98L737 97L759 99L760 100L749 103L744 111L740 114M908 162L903 163L898 160L892 151L891 146L900 129L904 118L911 113L918 113L928 118L929 120L929 125L928 127L922 130L912 139L912 142L914 155L911 160L908 162M620 154L630 156L641 150L647 141L653 125L657 123L663 122L670 125L674 130L679 134L690 140L695 147L687 159L687 163L688 166L691 169L702 173L709 178L717 189L721 193L726 195L730 195L748 184L747 182L741 176L737 166L726 162L724 160L725 154L727 152L740 149L743 149L745 150L753 162L765 168L776 172L782 180L780 182L765 181L752 185L753 195L752 202L747 208L743 215L728 222L720 218L710 208L698 200L688 181L685 170L677 165L658 157L651 155L650 156L650 162L649 167L647 170L643 174L637 175L628 171L620 173M846 147L844 148L841 146L837 141L837 135L840 132L845 133L848 136L849 141L846 147M813 169L799 170L793 168L790 165L785 162L779 155L778 151L780 146L783 144L789 144L794 146L798 149L801 152L804 158L806 158L813 157L817 158L819 161L819 165L816 168L813 169M848 210L843 211L839 207L838 203L838 198L832 188L833 184L834 182L839 181L846 186L846 189L844 195L849 199L852 204L851 208L848 210M738 337L733 338L727 336L720 328L720 322L726 305L728 301L730 300L735 301L742 302L749 298L756 291L765 287L766 284L765 279L759 274L756 273L748 271L745 269L741 263L741 260L747 255L750 254L754 255L760 261L763 263L769 264L775 262L776 260L778 247L786 232L791 231L802 231L805 229L804 217L805 207L800 200L798 195L800 194L815 200L823 205L830 212L831 216L830 223L830 225L832 228L845 239L846 242L846 246L840 250L834 250L830 248L822 242L820 242L815 244L806 246L804 248L800 256L793 266L793 270L797 281L791 284L788 286L786 293L786 297L790 304L791 312L795 320L795 322L794 324L791 325L787 324L783 317L774 310L771 308L766 308L752 313L752 315L755 320L756 324L756 328L754 331L750 334L738 337M689 236L687 235L677 227L668 224L662 219L649 218L645 217L643 213L643 208L646 199L648 198L651 198L666 210L677 212L690 219L695 228L693 232L689 236M910 258L905 259L903 257L902 255L902 248L906 235L905 233L901 230L883 225L878 222L877 219L877 214L879 213L891 208L898 201L902 199L916 199L924 197L930 198L932 199L933 201L932 209L929 213L926 215L923 215L915 213L909 220L906 234L912 241L914 245L916 253L914 256L910 258M774 222L767 222L766 220L766 219L768 219L773 220L774 222M648 241L646 240L644 235L645 232L647 231L649 231L651 234L650 238L648 241M689 302L686 301L683 296L683 294L686 289L681 285L679 281L678 276L679 272L682 269L685 269L688 271L693 276L695 277L702 270L707 261L709 260L713 261L715 264L717 267L717 274L716 279L713 281L701 282L697 284L694 289L691 300L689 302M642 317L639 316L637 312L637 305L640 298L638 294L635 289L634 284L633 283L625 281L622 277L622 272L623 270L626 268L630 268L634 270L636 273L637 280L643 283L646 285L657 300L657 302L656 303L647 309L642 317M868 285L865 286L859 284L855 281L853 278L852 275L854 270L857 268L860 268L868 272L880 273L884 274L884 280L882 284L879 285L868 285M834 314L825 311L819 306L812 295L812 292L814 292L822 293L828 296L833 300L837 308L836 312L834 314M893 325L887 325L885 322L887 320L892 321L895 322L895 323L893 325M660 351L662 343L663 342L666 342L670 343L672 346L672 351M825 351L825 347L826 345L828 343L832 342L835 343L839 346L841 351M896 351L896 347L898 346L901 348L902 351M750 30L749 34L747 35L745 33L745 30M892 72L886 71L883 66L883 62L884 59L889 56L892 56L895 57L898 60L899 63L898 69L895 71L892 72M641 90L638 91L636 89L634 84L636 74L634 67L641 66L645 67L647 72L645 76L646 82L646 85L644 88L641 90M914 134L911 135L908 134L906 132L906 130L907 127L909 124L912 122L915 121L917 122L919 128L917 131L914 134M676 152L668 150L660 143L656 135L657 132L660 131L663 132L670 138L677 147L677 150L676 152M796 161L791 161L787 159L784 157L782 152L783 148L786 147L789 146L793 147L796 149L799 154L798 158L796 161M642 172L639 172L636 171L633 168L632 165L632 162L634 159L639 156L644 157L647 161L647 167L642 172M620 158L625 160L626 164L624 168L620 170M814 166L811 166L809 165L809 162L810 160L813 159L816 161L816 164L814 166M750 178L745 177L743 173L743 169L747 166L753 168L757 173L756 176L750 178M730 213L727 213L720 211L717 208L713 204L705 202L701 199L699 195L700 186L701 184L703 185L709 189L714 193L717 198L719 199L732 199L735 198L740 193L744 193L747 194L749 198L747 203L735 212L730 213M926 212L921 213L917 208L917 204L920 201L925 200L928 201L929 203L929 208L926 212M847 209L844 208L842 206L842 203L844 201L847 201L849 203L849 206L847 209M677 224L672 224L668 222L666 217L667 214L673 213L678 215L682 221L681 223L677 224M825 222L822 222L820 219L821 215L824 214L827 215L828 217L827 220L825 222M896 222L892 223L889 222L886 220L886 218L890 215L896 215L898 216L898 219L898 221L896 222M790 261L786 262L782 259L780 255L779 250L781 245L785 238L788 236L793 236L799 239L801 241L801 244L800 250L798 255L794 259L790 261M838 245L834 246L831 243L830 239L832 237L836 236L841 239L841 242L838 245M753 269L749 268L746 265L746 260L749 257L753 258L755 261L755 266L753 269M781 281L776 279L774 275L775 271L780 268L784 269L787 273L786 277L781 281M631 278L628 279L625 277L624 274L626 271L629 271L632 272L633 275L631 278M685 283L682 282L680 278L680 273L683 271L687 272L690 276L689 281L685 283M861 279L858 279L856 277L855 274L856 272L859 271L862 273L863 276L861 279M761 301L758 300L757 298L758 295L760 294L763 295L764 298L764 300L761 301M784 312L780 312L777 308L777 304L779 302L783 302L787 305L787 310L784 312M641 313L639 312L639 309L640 306L641 305L642 306L643 309L641 313M750 332L746 332L743 329L741 323L742 320L748 319L753 322L754 327L752 330L750 332M893 70L888 69L885 66L885 62L888 59L893 59L896 61L896 66L893 70M641 85L639 85L639 83L640 83L641 83L641 85M793 156L788 155L786 153L786 151L789 150L793 150L795 153L793 156M640 169L637 168L635 164L637 160L640 159L644 160L645 164L643 168L640 169M925 210L923 210L921 208L921 205L922 203L925 203L927 205L927 208L925 210M729 207L726 207L724 205L726 204L728 204L730 205L729 207M674 222L672 222L670 220L670 217L671 216L674 215L677 218L677 221L674 222M790 258L787 258L785 256L783 253L782 250L783 246L785 243L788 240L791 240L796 242L797 248L795 254L790 258M685 280L683 280L681 277L682 274L683 273L685 273L687 275L687 278L685 280M749 327L748 326L749 325L749 327M892 67L890 67L888 65L888 62L890 60L893 61L894 63L894 66L892 67M791 253L788 253L786 250L787 246L789 244L792 245L793 247L793 250L791 253"/></g><rect x="620.2" y="30.3" width="315.1" height="322.1" fill="none" stroke="#111" stroke-width="1.8"/>
<line x1="58.9" y1="333.9" x2="64.9" y2="333.9" stroke="#222" stroke-width="1.6"/><text x="53.8" y="339.3" font-size="16.2" font-weight="bold" text-anchor="end" textLength="8.3" lengthAdjust="spacingAndGlyphs" fill="#222">0</text><line x1="58.9" y1="278.3" x2="64.9" y2="278.3" stroke="#222" stroke-width="1.6"/><text x="53.8" y="283.7" font-size="16.2" font-weight="bold" text-anchor="end" textLength="8.3" lengthAdjust="spacingAndGlyphs" fill="#222">5</text><line x1="58.9" y1="222.7" x2="64.9" y2="222.7" stroke="#222" stroke-width="1.6"/><text x="53.8" y="228.1" font-size="16.2" font-weight="bold" text-anchor="end" textLength="16.7" lengthAdjust="spacingAndGlyphs" fill="#222">10</text><line x1="58.9" y1="167.1" x2="64.9" y2="167.1" stroke="#222" stroke-width="1.6"/><text x="53.8" y="172.5" font-size="16.2" font-weight="bold" text-anchor="end" textLength="16.7" lengthAdjust="spacingAndGlyphs" fill="#222">15</text><line x1="58.9" y1="111.5" x2="64.9" y2="111.5" stroke="#222" stroke-width="1.6"/><text x="53.8" y="116.9" font-size="16.2" font-weight="bold" text-anchor="end" textLength="16.7" lengthAdjust="spacingAndGlyphs" fill="#222">20</text><line x1="58.9" y1="55.9" x2="64.9" y2="55.9" stroke="#222" stroke-width="1.6"/><text x="53.8" y="61.3" font-size="16.2" font-weight="bold" text-anchor="end" textLength="16.7" lengthAdjust="spacingAndGlyphs" fill="#222">25</text>
<line x1="74.8" y1="353.4" x2="74.8" y2="359.4" stroke="#222" stroke-width="1.6"/><text x="74.8" y="375.7" font-size="16.2" font-weight="bold" text-anchor="middle" textLength="21.7" lengthAdjust="spacingAndGlyphs" fill="#222">-10</text><line x1="129.7" y1="353.4" x2="129.7" y2="359.4" stroke="#222" stroke-width="1.6"/><text x="129.7" y="375.7" font-size="16.2" font-weight="bold" text-anchor="middle" textLength="13.3" lengthAdjust="spacingAndGlyphs" fill="#222">-5</text><line x1="184.6" y1="353.4" x2="184.6" y2="359.4" stroke="#222" stroke-width="1.6"/><text x="184.6" y="375.7" font-size="16.2" font-weight="bold" text-anchor="middle" textLength="8.3" lengthAdjust="spacingAndGlyphs" fill="#222">0</text><line x1="239.4" y1="353.4" x2="239.4" y2="359.4" stroke="#222" stroke-width="1.6"/><text x="239.4" y="375.7" font-size="16.2" font-weight="bold" text-anchor="middle" textLength="8.3" lengthAdjust="spacingAndGlyphs" fill="#222">5</text><line x1="294.3" y1="353.4" x2="294.3" y2="359.4" stroke="#222" stroke-width="1.6"/><text x="294.3" y="375.7" font-size="16.2" font-weight="bold" text-anchor="middle" textLength="16.7" lengthAdjust="spacingAndGlyphs" fill="#222">10</text><line x1="349.2" y1="353.4" x2="349.2" y2="359.4" stroke="#222" stroke-width="1.6"/><text x="349.2" y="375.7" font-size="16.2" font-weight="bold" text-anchor="middle" textLength="16.7" lengthAdjust="spacingAndGlyphs" fill="#222">15</text>
<text x="138.8" y="406.6" font-size="21.0" font-weight="bold" textLength="167.2" lengthAdjust="spacingAndGlyphs" fill="#1a1a1a" >Shift in x axis/um</text>
<g transform="translate(30,191.9) rotate(-90)"><text x="0.0" y="0.0" font-size="21.0" font-weight="bold" text-anchor="middle" textLength="175.7" lengthAdjust="spacingAndGlyphs" fill="#1a1a1a" >Shift in y axis/um</text></g>
<line x1="614.2" y1="343.1" x2="620.2" y2="343.1" stroke="#222" stroke-width="1.6"/><text x="609.3" y="348.5" font-size="16.2" font-weight="bold" text-anchor="end" textLength="13.3" lengthAdjust="spacingAndGlyphs" fill="#222">-5</text><line x1="614.2" y1="287.5" x2="620.2" y2="287.5" stroke="#222" stroke-width="1.6"/><text x="609.3" y="292.9" font-size="16.2" font-weight="bold" text-anchor="end" textLength="8.3" lengthAdjust="spacingAndGlyphs" fill="#222">0</text><line x1="614.2" y1="231.9" x2="620.2" y2="231.9" stroke="#222" stroke-width="1.6"/><text x="609.3" y="237.3" font-size="16.2" font-weight="bold" text-anchor="end" textLength="8.3" lengthAdjust="spacingAndGlyphs" fill="#222">5</text><line x1="614.2" y1="176.3" x2="620.2" y2="176.3" stroke="#222" stroke-width="1.6"/><text x="609.3" y="181.7" font-size="16.2" font-weight="bold" text-anchor="end" textLength="16.7" lengthAdjust="spacingAndGlyphs" fill="#222">10</text><line x1="614.2" y1="120.6" x2="620.2" y2="120.6" stroke="#222" stroke-width="1.6"/><text x="609.3" y="126.0" font-size="16.2" font-weight="bold" text-anchor="end" textLength="16.7" lengthAdjust="spacingAndGlyphs" fill="#222">15</text><line x1="614.2" y1="65.0" x2="620.2" y2="65.0" stroke="#222" stroke-width="1.6"/><text x="609.3" y="70.4" font-size="16.2" font-weight="bold" text-anchor="end" textLength="16.7" lengthAdjust="spacingAndGlyphs" fill="#222">20</text>
<line x1="629.5" y1="353.4" x2="629.5" y2="359.4" stroke="#222" stroke-width="1.6"/><text x="629.5" y="375.7" font-size="16.2" font-weight="bold" text-anchor="middle" textLength="21.7" lengthAdjust="spacingAndGlyphs" fill="#222">-15</text><line x1="684.0" y1="353.4" x2="684.0" y2="359.4" stroke="#222" stroke-width="1.6"/><text x="684.0" y="375.7" font-size="16.2" font-weight="bold" text-anchor="middle" textLength="21.7" lengthAdjust="spacingAndGlyphs" fill="#222">-10</text><line x1="738.6" y1="353.4" x2="738.6" y2="359.4" stroke="#222" stroke-width="1.6"/><text x="738.6" y="375.7" font-size="16.2" font-weight="bold" text-anchor="middle" textLength="13.3" lengthAdjust="spacingAndGlyphs" fill="#222">-5</text><line x1="793.1" y1="353.4" x2="793.1" y2="359.4" stroke="#222" stroke-width="1.6"/><text x="793.1" y="375.7" font-size="16.2" font-weight="bold" text-anchor="middle" textLength="8.3" lengthAdjust="spacingAndGlyphs" fill="#222">0</text><line x1="847.6" y1="353.4" x2="847.6" y2="359.4" stroke="#222" stroke-width="1.6"/><text x="847.6" y="375.7" font-size="16.2" font-weight="bold" text-anchor="middle" textLength="8.3" lengthAdjust="spacingAndGlyphs" fill="#222">5</text><line x1="902.2" y1="353.4" x2="902.2" y2="359.4" stroke="#222" stroke-width="1.6"/><text x="902.2" y="375.7" font-size="16.2" font-weight="bold" text-anchor="middle" textLength="16.7" lengthAdjust="spacingAndGlyphs" fill="#222">10</text>
<text x="693.8" y="406.6" font-size="21.0" font-weight="bold" textLength="166.7" lengthAdjust="spacingAndGlyphs" fill="#1a1a1a" >Shift in x axis/um</text>
<g transform="translate(583.5,191.9) rotate(-90)"><text x="0.0" y="0.0" font-size="21.0" font-weight="bold" text-anchor="middle" textLength="175.7" lengthAdjust="spacingAndGlyphs" fill="#1a1a1a" >Shift in y axis/um</text></g>
<defs><linearGradient id="cb" x1="0" y1="0" x2="0" y2="1"><stop offset="0.000" stop-color="#ff1010"/><stop offset="0.070" stop-color="#ff4010"/><stop offset="0.125" stop-color="#ff7000"/><stop offset="0.180" stop-color="#ff9c00"/><stop offset="0.220" stop-color="#ffc800"/><stop offset="0.250" stop-color="#f0e400"/><stop offset="0.310" stop-color="#c8d800"/><stop offset="0.375" stop-color="#90cc00"/><stop offset="0.440" stop-color="#40bc00"/><stop offset="0.500" stop-color="#12b814"/><stop offset="0.560" stop-color="#20b848"/><stop offset="0.625" stop-color="#10be70"/><stop offset="0.690" stop-color="#00c2b0"/><stop offset="0.750" stop-color="#00c8d4"/><stop offset="0.780" stop-color="#00c4e0"/><stop offset="0.810" stop-color="#02b0e6"/><stop offset="0.840" stop-color="#0890d0"/><stop offset="0.875" stop-color="#0a74bc"/><stop offset="0.940" stop-color="#0558aa"/><stop offset="1.000" stop-color="#0a4c9e"/></linearGradient></defs>
<rect x="433.5" y="36.9" width="24.1" height="309.4" fill="url(#cb)"/><line x1="457.6" y1="36.9" x2="462.6" y2="36.9" stroke="#777" stroke-width="1"/><text x="466.9" y="40.9" font-size="11.0" textLength="26.0" lengthAdjust="spacingAndGlyphs" fill="#444" >135.0</text><line x1="457.6" y1="75.6" x2="462.6" y2="75.6" stroke="#777" stroke-width="1"/><text x="466.9" y="79.6" font-size="11.0" textLength="26.0" lengthAdjust="spacingAndGlyphs" fill="#444" >119.9</text><line x1="457.6" y1="114.2" x2="462.6" y2="114.2" stroke="#777" stroke-width="1"/><text x="466.9" y="118.2" font-size="11.0" textLength="26.0" lengthAdjust="spacingAndGlyphs" fill="#444" >104.9</text><line x1="457.6" y1="152.9" x2="462.6" y2="152.9" stroke="#777" stroke-width="1"/><text x="466.9" y="156.9" font-size="11.0" textLength="26.0" lengthAdjust="spacingAndGlyphs" fill="#444" >89.81</text><line x1="457.6" y1="191.6" x2="462.6" y2="191.6" stroke="#777" stroke-width="1"/><text x="466.9" y="195.6" font-size="11.0" textLength="26.0" lengthAdjust="spacingAndGlyphs" fill="#444" >74.75</text><line x1="457.6" y1="230.3" x2="462.6" y2="230.3" stroke="#777" stroke-width="1"/><text x="466.9" y="234.3" font-size="11.0" textLength="26.0" lengthAdjust="spacingAndGlyphs" fill="#444" >59.69</text><line x1="457.6" y1="268.9" x2="462.6" y2="268.9" stroke="#777" stroke-width="1"/><text x="466.9" y="272.9" font-size="11.0" textLength="26.0" lengthAdjust="spacingAndGlyphs" fill="#444" >44.63</text><line x1="457.6" y1="307.6" x2="462.6" y2="307.6" stroke="#777" stroke-width="1"/><text x="466.9" y="311.6" font-size="11.0" textLength="26.0" lengthAdjust="spacingAndGlyphs" fill="#444" >29.56</text><line x1="457.6" y1="346.3" x2="462.6" y2="346.3" stroke="#777" stroke-width="1"/><text x="466.9" y="350.3" font-size="11.0" textLength="26.0" lengthAdjust="spacingAndGlyphs" fill="#444" >14.50</text><text x="412.5" y="18.6" font-size="16.0" font-weight="bold" textLength="65.6" lengthAdjust="spacingAndGlyphs" fill="#1a1a1a" >Intensity</text>
<rect x="987.6" y="36.9" width="23.7" height="309.4" fill="url(#cb)"/><line x1="1011.3" y1="36.9" x2="1016.3" y2="36.9" stroke="#777" stroke-width="1"/><text x="1020.6" y="40.9" font-size="11.0" textLength="26.0" lengthAdjust="spacingAndGlyphs" fill="#444" >102.0</text><line x1="1011.3" y1="75.6" x2="1016.3" y2="75.6" stroke="#777" stroke-width="1"/><text x="1020.6" y="79.6" font-size="11.0" textLength="26.0" lengthAdjust="spacingAndGlyphs" fill="#444" >90.63</text><line x1="1011.3" y1="114.2" x2="1016.3" y2="114.2" stroke="#777" stroke-width="1"/><text x="1020.6" y="118.2" font-size="11.0" textLength="26.0" lengthAdjust="spacingAndGlyphs" fill="#444" >79.25</text><line x1="1011.3" y1="152.9" x2="1016.3" y2="152.9" stroke="#777" stroke-width="1"/><text x="1020.6" y="156.9" font-size="11.0" textLength="26.0" lengthAdjust="spacingAndGlyphs" fill="#444" >67.88</text><line x1="1011.3" y1="191.6" x2="1016.3" y2="191.6" stroke="#777" stroke-width="1"/><text x="1020.6" y="195.6" font-size="11.0" textLength="26.0" lengthAdjust="spacingAndGlyphs" fill="#444" >56.50</text><line x1="1011.3" y1="230.3" x2="1016.3" y2="230.3" stroke="#777" stroke-width="1"/><text x="1020.6" y="234.3" font-size="11.0" textLength="26.0" lengthAdjust="spacingAndGlyphs" fill="#444" >45.13</text><line x1="1011.3" y1="268.9" x2="1016.3" y2="268.9" stroke="#777" stroke-width="1"/><text x="1020.6" y="272.9" font-size="11.0" textLength="26.0" lengthAdjust="spacingAndGlyphs" fill="#444" >33.75</text><line x1="1011.3" y1="307.6" x2="1016.3" y2="307.6" stroke="#777" stroke-width="1"/><text x="1020.6" y="311.6" font-size="11.0" textLength="26.0" lengthAdjust="spacingAndGlyphs" fill="#444" >22.38</text><line x1="1011.3" y1="346.3" x2="1016.3" y2="346.3" stroke="#777" stroke-width="1"/><text x="1020.6" y="350.3" font-size="11.0" textLength="26.0" lengthAdjust="spacingAndGlyphs" fill="#444" >11.00</text><text x="966.6" y="18.6" font-size="16.0" font-weight="bold" textLength="65.6" lengthAdjust="spacingAndGlyphs" fill="#1a1a1a" >Intensity</text>
<g><path d="M40.3 5.8Q33.3 16.1 40.3 26.4" stroke="#555" stroke-width="1.3" fill="none"/><path d="M57.4 5.8Q64.4 16.1 57.4 26.4" stroke="#555" stroke-width="1.3" fill="none"/><text x="43.2" y="23.2" font-size="22.0" fill="#222" >a</text></g>
<g><path d="M596.1 5.8Q589.1 16.1 596.1 26.4" stroke="#555" stroke-width="1.3" fill="none"/><path d="M613.2 5.8Q620.2 16.1 613.2 26.4" stroke="#555" stroke-width="1.3" fill="none"/><text x="599.0" y="23.2" font-size="22.0" fill="#222" >b</text></g>
<g><path d="M40.3 417.7Q33.3 428.0 40.3 438.3" stroke="#555" stroke-width="1.3" fill="none"/><path d="M57.4 417.7Q64.4 428.0 57.4 438.3" stroke="#555" stroke-width="1.3" fill="none"/><text x="43.2" y="435.1" font-size="22.0" fill="#222" >c</text></g>
<g><path d="M596.1 417.2Q589.1 427.5 596.1 437.8" stroke="#555" stroke-width="1.3" fill="none"/><path d="M613.2 417.2Q620.2 427.5 613.2 437.8" stroke="#555" stroke-width="1.3" fill="none"/><text x="599.0" y="434.6" font-size="22.0" fill="#222" >d</text></g>
<g><path d="M40.3 900.0Q33.3 910.3 40.3 920.6" stroke="#555" stroke-width="1.3" fill="none"/><path d="M57.4 900.0Q64.4 910.3 57.4 920.6" stroke="#555" stroke-width="1.3" fill="none"/><text x="43.2" y="917.4" font-size="22.0" fill="#222" >e</text></g>
<rect x="65" y="452.9" width="378.9" height="323.5" fill="none" stroke="#444" stroke-width="1.6"/>
<line x1="59.0" y1="742.0" x2="65.0" y2="742.0" stroke="#444" stroke-width="1.6"/><text x="54.8" y="747.4" font-size="16.2" font-weight="bold" text-anchor="end" textLength="8.3" lengthAdjust="spacingAndGlyphs" fill="#222">0</text><line x1="59.0" y1="702.2" x2="65.0" y2="702.2" stroke="#444" stroke-width="1.6"/><text x="54.8" y="707.6" font-size="16.2" font-weight="bold" text-anchor="end" textLength="16.7" lengthAdjust="spacingAndGlyphs" fill="#222">10</text><line x1="59.0" y1="662.5" x2="65.0" y2="662.5" stroke="#444" stroke-width="1.6"/><text x="54.8" y="667.9" font-size="16.2" font-weight="bold" text-anchor="end" textLength="16.7" lengthAdjust="spacingAndGlyphs" fill="#222">20</text><line x1="59.0" y1="622.7" x2="65.0" y2="622.7" stroke="#444" stroke-width="1.6"/><text x="54.8" y="628.1" font-size="16.2" font-weight="bold" text-anchor="end" textLength="16.7" lengthAdjust="spacingAndGlyphs" fill="#222">30</text><line x1="59.0" y1="582.9" x2="65.0" y2="582.9" stroke="#444" stroke-width="1.6"/><text x="54.8" y="588.3" font-size="16.2" font-weight="bold" text-anchor="end" textLength="16.7" lengthAdjust="spacingAndGlyphs" fill="#222">40</text><line x1="59.0" y1="543.1" x2="65.0" y2="543.1" stroke="#444" stroke-width="1.6"/><text x="54.8" y="548.5" font-size="16.2" font-weight="bold" text-anchor="end" textLength="16.7" lengthAdjust="spacingAndGlyphs" fill="#222">50</text><line x1="59.0" y1="503.4" x2="65.0" y2="503.4" stroke="#444" stroke-width="1.6"/><text x="54.8" y="508.8" font-size="16.2" font-weight="bold" text-anchor="end" textLength="16.7" lengthAdjust="spacingAndGlyphs" fill="#222">60</text><line x1="59.0" y1="463.6" x2="65.0" y2="463.6" stroke="#444" stroke-width="1.6"/><text x="54.8" y="469.0" font-size="16.2" font-weight="bold" text-anchor="end" textLength="16.7" lengthAdjust="spacingAndGlyphs" fill="#222">70</text>
<line x1="70.5" y1="777.0" x2="70.5" y2="783.0" stroke="#444" stroke-width="1.6"/><text x="70.5" y="799.6" font-size="16.2" font-weight="bold" text-anchor="middle" textLength="8.3" lengthAdjust="spacingAndGlyphs" fill="#222">0</text><line x1="106.5" y1="777.0" x2="106.5" y2="783.0" stroke="#444" stroke-width="1.6"/><text x="106.5" y="799.6" font-size="16.2" font-weight="bold" text-anchor="middle" textLength="8.3" lengthAdjust="spacingAndGlyphs" fill="#222">2</text><line x1="142.4" y1="777.0" x2="142.4" y2="783.0" stroke="#444" stroke-width="1.6"/><text x="142.4" y="799.6" font-size="16.2" font-weight="bold" text-anchor="middle" textLength="8.3" lengthAdjust="spacingAndGlyphs" fill="#222">4</text><line x1="178.4" y1="777.0" x2="178.4" y2="783.0" stroke="#444" stroke-width="1.6"/><text x="178.4" y="799.6" font-size="16.2" font-weight="bold" text-anchor="middle" textLength="8.3" lengthAdjust="spacingAndGlyphs" fill="#222">6</text><line x1="214.3" y1="777.0" x2="214.3" y2="783.0" stroke="#444" stroke-width="1.6"/><text x="214.3" y="799.6" font-size="16.2" font-weight="bold" text-anchor="middle" textLength="8.3" lengthAdjust="spacingAndGlyphs" fill="#222">8</text><line x1="250.3" y1="777.0" x2="250.3" y2="783.0" stroke="#444" stroke-width="1.6"/><text x="250.3" y="799.6" font-size="16.2" font-weight="bold" text-anchor="middle" textLength="16.7" lengthAdjust="spacingAndGlyphs" fill="#222">10</text><line x1="286.3" y1="777.0" x2="286.3" y2="783.0" stroke="#444" stroke-width="1.6"/><text x="286.3" y="799.6" font-size="16.2" font-weight="bold" text-anchor="middle" textLength="16.7" lengthAdjust="spacingAndGlyphs" fill="#222">12</text><line x1="322.2" y1="777.0" x2="322.2" y2="783.0" stroke="#444" stroke-width="1.6"/><text x="322.2" y="799.6" font-size="16.2" font-weight="bold" text-anchor="middle" textLength="16.7" lengthAdjust="spacingAndGlyphs" fill="#222">14</text><line x1="358.2" y1="777.0" x2="358.2" y2="783.0" stroke="#444" stroke-width="1.6"/><text x="358.2" y="799.6" font-size="16.2" font-weight="bold" text-anchor="middle" textLength="16.7" lengthAdjust="spacingAndGlyphs" fill="#222">16</text><line x1="394.1" y1="777.0" x2="394.1" y2="783.0" stroke="#444" stroke-width="1.6"/><text x="394.1" y="799.6" font-size="16.2" font-weight="bold" text-anchor="middle" textLength="16.7" lengthAdjust="spacingAndGlyphs" fill="#222">18</text><line x1="430.1" y1="777.0" x2="430.1" y2="783.0" stroke="#444" stroke-width="1.6"/><text x="430.1" y="799.6" font-size="16.2" font-weight="bold" text-anchor="middle" textLength="16.7" lengthAdjust="spacingAndGlyphs" fill="#222">20</text>
<text x="172.9" y="830.5" font-size="20.5" font-weight="bold" textLength="162.2" lengthAdjust="spacingAndGlyphs" fill="#1a1a1a" >Tensile strain(%)</text>
<g transform="translate(20.4,603.5) rotate(-90)"><text x="0.0" y="0.0" font-size="20.0" font-weight="bold" text-anchor="middle" textLength="208.7" lengthAdjust="spacingAndGlyphs" fill="#1a1a1a" >Tensile stress (Mpa)</text></g>
<path d="M70.5 742.0C73.5 740.1 82.5 734.7 88.5 730.9C94.5 727.0 100.5 723.4 106.5 718.9C112.5 714.5 118.4 709.1 124.4 704.2C130.4 699.3 136.4 694.1 142.4 689.5C148.4 684.9 154.4 680.6 160.4 676.4C166.4 672.2 173.9 667.4 178.4 664.4C182.9 661.5 184.4 660.5 187.4 658.9C190.4 657.3 193.7 655.8 196.4 654.9C199.1 654.0 201.2 653.8 203.6 653.7C205.9 653.6 208.0 653.8 210.7 654.5C213.4 655.2 216.1 656.1 219.7 657.7C223.3 659.3 230.2 663.0 232.3 664.1" fill="none" stroke="#4a4a4a" stroke-width="2.0" stroke-linejoin="round" stroke-linecap="round"/>
<path d="M70.5 742.0C73.5 740.3 82.5 735.5 88.5 732.1C94.5 728.6 100.5 725.2 106.5 721.3C112.5 717.5 118.4 713.0 124.4 709.0C130.4 704.9 136.4 700.6 142.4 697.1C148.4 693.5 154.4 690.2 160.4 687.5C166.4 684.8 172.4 682.7 178.4 680.8C184.4 678.8 191.6 677.0 196.4 676.0C201.2 674.9 204.5 674.5 207.1 674.4C209.8 674.3 210.4 674.5 212.5 675.6C214.6 676.7 217.3 679.4 219.7 681.2C222.1 682.9 225.7 685.5 226.9 686.3" fill="none" stroke="#b070c8" stroke-width="2.0" stroke-linejoin="round" stroke-linecap="round"/>
<path d="M70.5 742.0C73.5 740.1 82.5 734.4 88.5 730.9C94.5 727.3 100.5 723.9 106.5 720.5C112.5 717.1 118.4 713.6 124.4 710.6C130.4 707.6 136.4 704.8 142.4 702.6C148.4 700.4 154.4 698.8 160.4 697.5C166.4 696.1 172.4 695.2 178.4 694.3C184.4 693.3 190.4 692.7 196.4 691.9C202.4 691.1 208.3 690.2 214.3 689.5C220.3 688.8 226.3 688.1 232.3 687.5C238.3 686.9 244.3 686.4 250.3 685.9C256.3 685.5 262.3 685.1 268.3 684.7C274.3 684.4 280.3 684.1 286.3 683.9C292.3 683.7 298.2 683.5 304.2 683.5C310.2 683.5 316.2 683.7 322.2 683.9C328.2 684.2 334.2 684.7 340.2 685.1C346.2 685.6 352.2 686.1 358.2 686.7C364.2 687.3 370.8 688.1 376.2 688.7C381.6 689.3 388.1 690.0 390.5 690.3" fill="none" stroke="#1f6fc4" stroke-width="2.2" stroke-linejoin="round" stroke-linecap="round"/>
<path d="M70.5 742.0C71.4 740.7 72.9 739.0 75.9 734.0C78.9 729.1 83.4 720.5 88.5 712.2C93.6 703.9 100.5 693.5 106.5 684.3C112.5 675.2 118.4 666.4 124.4 657.3C130.4 648.1 136.4 638.7 142.4 629.5C148.4 620.2 154.4 611.2 160.4 602.0C166.4 592.8 172.4 583.0 178.4 574.2C184.4 565.4 191.9 554.9 196.4 549.1C200.9 543.3 202.4 542.2 205.3 539.2C208.3 536.2 211.3 533.2 214.3 531.2C217.3 529.2 220.6 527.9 223.3 527.2C226.0 526.6 228.9 526.9 230.5 527.2C232.2 527.6 232.5 526.6 233.2 529.2C234.0 531.9 234.4 537.5 235.0 543.1C235.6 548.8 236.2 556.4 236.8 563.0C237.4 569.7 238.3 579.6 238.6 582.9" fill="none" stroke="#ff6a1e" stroke-width="2.0" stroke-linejoin="round" stroke-linecap="round"/>
<path d="M70.5 742.0 L75.0 736.0 L88.5 692.3 L106.5 632.6 L124.4 573.0 L142.4 513.3 L153.2 469.6 L154.6 462.4 L155.7 467.6 L156.4 495.4 L157.2 543.1 L157.9 582.9" fill="none" stroke="#1fa070" stroke-width="2.0" stroke-linejoin="round" stroke-linecap="round"/>
<text x="201.4" y="504.5" font-size="16.0" font-weight="bold" textLength="238.7" lengthAdjust="spacingAndGlyphs" fill="#169466" >Lignin/Cellulose after hot-press</text>
<text x="251.0" y="577.5" font-size="16.0" font-weight="bold" textLength="124.0" lengthAdjust="spacingAndGlyphs" fill="#f26d6d" >Lignin/Cellulose</text>
<text x="243.3" y="656.3" font-size="16.0" font-weight="bold" textLength="72.0" lengthAdjust="spacingAndGlyphs" fill="#555" >Cellulose</text>
<text x="234.6" y="679.2" font-size="16.0" font-weight="bold" textLength="140.8" lengthAdjust="spacingAndGlyphs" fill="#b468c4" >Commercial paper</text>
<text x="251.0" y="711.8" font-size="16.0" font-weight="bold" textLength="53.2" lengthAdjust="spacingAndGlyphs" fill="#1f64c0" >Plastic</text>
<defs><linearGradient id="barg" x1="0" y1="0" x2="0" y2="1"><stop offset="0" stop-color="#fdd6b8"/><stop offset="0.25" stop-color="#fdcaae"/><stop offset="0.5" stop-color="#fea898"/><stop offset="0.75" stop-color="#ff8580"/><stop offset="1" stop-color="#ff6a6c"/></linearGradient></defs>
<rect x="625.1" y="686.3" width="60.5" height="88.9" fill="url(#barg)"/>
<rect x="700.8" y="609.6" width="60.5" height="165.6" fill="url(#barg)"/>
<rect x="776.9" y="549.0" width="60.5" height="226.2" fill="url(#barg)"/>
<rect x="852.8" y="504.5" width="60.5" height="270.7" fill="url(#barg)"/>
<rect x="928.3" y="561.1" width="60.5" height="214.1" fill="url(#barg)"/>
<polyline points="655.3,686.3 731.0,609.6 807.1,549.0 883.0,504.5 958.5,561.1" fill="none" stroke="#555" stroke-width="1"/>
<path d="M655.3 681.1V692.4M652.3 681.1h6M652.3 692.4h6" stroke="#6cbf4a" stroke-width="1.3" fill="none"/>
<path d="M731.0 601.9V618.4M728.0 601.9h6M728.0 618.4h6" stroke="#6cbf4a" stroke-width="1.3" fill="none"/>
<path d="M807.1 538.1V560.3M804.1 538.1h6M804.1 560.3h6" stroke="#6cbf4a" stroke-width="1.3" fill="none"/>
<path d="M883.0 491.2V519.1M880.0 491.2h6M880.0 519.1h6" stroke="#6cbf4a" stroke-width="1.3" fill="none"/>
<path d="M958.5 550.2V572.4M955.5 550.2h6M955.5 572.4h6" stroke="#6cbf4a" stroke-width="1.3" fill="none"/>
<rect x="617.5" y="452.3" width="379" height="322.9" fill="none" stroke="#333" stroke-width="2"/>
<line x1="611.5" y1="775.2" x2="617.5" y2="775.2" stroke="#333" stroke-width="1.8"/><text x="606.6" y="780.6" font-size="16.2" font-weight="bold" text-anchor="end" textLength="8.3" lengthAdjust="spacingAndGlyphs" fill="#222">0</text><line x1="611.5" y1="734.8" x2="617.5" y2="734.8" stroke="#333" stroke-width="1.8"/><text x="606.6" y="740.2" font-size="16.2" font-weight="bold" text-anchor="end" textLength="16.7" lengthAdjust="spacingAndGlyphs" fill="#222">10</text><line x1="611.5" y1="694.4" x2="617.5" y2="694.4" stroke="#333" stroke-width="1.8"/><text x="606.6" y="699.8" font-size="16.2" font-weight="bold" text-anchor="end" textLength="16.7" lengthAdjust="spacingAndGlyphs" fill="#222">20</text><line x1="611.5" y1="654.0" x2="617.5" y2="654.0" stroke="#333" stroke-width="1.8"/><text x="606.6" y="659.4" font-size="16.2" font-weight="bold" text-anchor="end" textLength="16.7" lengthAdjust="spacingAndGlyphs" fill="#222">30</text><line x1="611.5" y1="613.6" x2="617.5" y2="613.6" stroke="#333" stroke-width="1.8"/><text x="606.6" y="619.0" font-size="16.2" font-weight="bold" text-anchor="end" textLength="16.7" lengthAdjust="spacingAndGlyphs" fill="#222">40</text><line x1="611.5" y1="573.2" x2="617.5" y2="573.2" stroke="#333" stroke-width="1.8"/><text x="606.6" y="578.6" font-size="16.2" font-weight="bold" text-anchor="end" textLength="16.7" lengthAdjust="spacingAndGlyphs" fill="#222">50</text><line x1="611.5" y1="532.8" x2="617.5" y2="532.8" stroke="#333" stroke-width="1.8"/><text x="606.6" y="538.2" font-size="16.2" font-weight="bold" text-anchor="end" textLength="16.7" lengthAdjust="spacingAndGlyphs" fill="#222">60</text><line x1="611.5" y1="492.4" x2="617.5" y2="492.4" stroke="#333" stroke-width="1.8"/><text x="606.6" y="497.8" font-size="16.2" font-weight="bold" text-anchor="end" textLength="16.7" lengthAdjust="spacingAndGlyphs" fill="#222">70</text><line x1="611.5" y1="452.0" x2="617.5" y2="452.0" stroke="#333" stroke-width="1.8"/><text x="606.6" y="457.4" font-size="16.2" font-weight="bold" text-anchor="end" textLength="16.7" lengthAdjust="spacingAndGlyphs" fill="#222">80</text>
<line x1="655.3" y1="776.0" x2="655.3" y2="783.0" stroke="#333" stroke-width="1.8"/><line x1="731.0" y1="776.0" x2="731.0" y2="783.0" stroke="#333" stroke-width="1.8"/><line x1="807.1" y1="776.0" x2="807.1" y2="783.0" stroke="#333" stroke-width="1.8"/><line x1="883.0" y1="776.0" x2="883.0" y2="783.0" stroke="#333" stroke-width="1.8"/><line x1="958.5" y1="776.0" x2="958.5" y2="783.0" stroke="#333" stroke-width="1.8"/>
<g transform="translate(584,612.3) rotate(-90)"><text x="0.0" y="0.0" font-size="20.5" font-weight="bold" text-anchor="middle" textLength="228.7" lengthAdjust="spacingAndGlyphs" fill="#1a1a1a" >Tensile strength (MPa)</text></g>
<g transform="translate(662.8,803) rotate(-30)"><text x="0.0" y="0.0" font-size="14.4" font-weight="bold" text-anchor="end" fill="#1a1a1a" >100%Cellulose</text></g>
<g transform="translate(738.5,803) rotate(-30)"><text x="0.0" y="0.0" font-size="14.4" font-weight="bold" text-anchor="end" fill="#1a1a1a" >82%Cellulose/18%CHLC</text></g>
<g transform="translate(814.6,803) rotate(-30)"><text x="0.0" y="0.0" font-size="14.4" font-weight="bold" text-anchor="end" fill="#1a1a1a" >72%Cellulose/28%CHLC</text></g>
<g transform="translate(890.5,803) rotate(-30)"><text x="0.0" y="0.0" font-size="14.4" font-weight="bold" text-anchor="end" fill="#1a1a1a" >62%Cellulose/38%CHLC</text></g>
<g transform="translate(966.0,803) rotate(-30)"><text x="0.0" y="0.0" font-size="14.4" font-weight="bold" text-anchor="end" fill="#1a1a1a" >52%Cellulose/48%CHLC</text></g>
<defs><filter id="blur2" x="-20%" y="-20%" width="140%" height="140%"><feGaussianBlur stdDeviation="2"/></filter><filter id="blur3" x="-20%" y="-20%" width="140%" height="140%"><feGaussianBlur stdDeviation="3"/></filter><filter id="blur8" x="-50%" y="-50%" width="200%" height="200%"><feGaussianBlur stdDeviation="8"/></filter><radialGradient id="sph" cx="0.38" cy="0.35" r="0.7"><stop offset="0" stop-color="#cf8c5e"/><stop offset="0.55" stop-color="#b96f45"/><stop offset="1" stop-color="#8c4c2c"/></radialGradient><radialGradient id="sph2" cx="0.4" cy="0.35" r="0.7"><stop offset="0" stop-color="#cf9474"/><stop offset="0.6" stop-color="#b87656"/><stop offset="1" stop-color="#8e5034"/></radialGradient></defs>
<path d="M151.0 997.0L365.0 1055.0" stroke="#000" stroke-opacity="0.35" stroke-width="23.0" fill="none" transform="translate(2,3)" filter="url(#blur3)" stroke-linecap="butt"/><mask id="tm1" maskUnits="userSpaceOnUse" x="0" y="780" width="1056" height="462"><path d="M151.0 997.0L365.0 1055.0" stroke="#fff" stroke-width="23.0" fill="none" stroke-linecap="butt"/></mask><path d="M151.0 997.0L365.0 1055.0" stroke="#37450c" stroke-width="23.0" fill="none" stroke-linecap="butt"/><g mask="url(#tm1)"><path d="M151.0 997.0L365.0 1055.0" stroke="#72821e" stroke-width="18.4" fill="none" transform="translate(-1.4,-2.3)" filter="url(#blur2)" stroke-linecap="butt"/><path d="M151.0 997.0L365.0 1055.0" stroke="#8e9b32" stroke-width="6.9" fill="none" transform="translate(-2.3,-4.6)" filter="url(#blur2)" opacity="0.8" stroke-linecap="butt"/></g><ellipse cx="365.0" cy="1055.0" rx="6.4" ry="11.2" transform="rotate(15.2 365.0 1055.0)" fill="#84922a" stroke="#37450c" stroke-width="0.6" stroke-opacity="0.5"/><path d="M32.4 1144.7C43.7 1136.9 74.2 1115.7 100.0 1098.0C125.8 1080.3 172.6 1048.2 187.1 1038.3" stroke="#000" stroke-opacity="0.35" stroke-width="27.0" fill="none" transform="translate(2,3)" filter="url(#blur3)" stroke-linecap="butt"/><mask id="tm2" maskUnits="userSpaceOnUse" x="0" y="780" width="1056" height="462"><path d="M32.4 1144.7C43.7 1136.9 74.2 1115.7 100.0 1098.0C125.8 1080.3 172.6 1048.2 187.1 1038.3" stroke="#fff" stroke-width="27.0" fill="none" stroke-linecap="butt"/></mask><path d="M32.4 1144.7C43.7 1136.9 74.2 1115.7 100.0 1098.0C125.8 1080.3 172.6 1048.2 187.1 1038.3" stroke="#37450c" stroke-width="27.0" fill="none" stroke-linecap="butt"/><g mask="url(#tm2)"><path d="M32.4 1144.7C43.7 1136.9 74.2 1115.7 100.0 1098.0C125.8 1080.3 172.6 1048.2 187.1 1038.3" stroke="#72821e" stroke-width="21.6" fill="none" transform="translate(-1.6,-2.7)" filter="url(#blur2)" stroke-linecap="butt"/><path d="M32.4 1144.7C43.7 1136.9 74.2 1115.7 100.0 1098.0C125.8 1080.3 172.6 1048.2 187.1 1038.3" stroke="#8e9b32" stroke-width="8.1" fill="none" transform="translate(-2.7,-5.4)" filter="url(#blur2)" opacity="0.8" stroke-linecap="butt"/></g><ellipse cx="32.4" cy="1144.7" rx="8.1" ry="13.2" transform="rotate(145.4 32.4 1144.7)" fill="#84922a" stroke="#37450c" stroke-width="0.6" stroke-opacity="0.5"/><path d="M224.9 928.0C226.2 931.3 229.7 940.5 233.0 948.0C236.3 955.5 242.6 966.0 244.5 973.0C246.4 980.0 246.1 984.7 244.7 990.0C243.3 995.3 240.1 1000.0 236.0 1005.0C231.9 1010.0 225.2 1015.3 220.0 1020.0C214.8 1024.7 207.5 1030.8 205.0 1033.0" stroke="#000" stroke-opacity="0.35" stroke-width="26.0" fill="none" transform="translate(2,3)" filter="url(#blur3)" stroke-linecap="butt"/><mask id="tm3" maskUnits="userSpaceOnUse" x="0" y="780" width="1056" height="462"><path d="M224.9 928.0C226.2 931.3 229.7 940.5 233.0 948.0C236.3 955.5 242.6 966.0 244.5 973.0C246.4 980.0 246.1 984.7 244.7 990.0C243.3 995.3 240.1 1000.0 236.0 1005.0C231.9 1010.0 225.2 1015.3 220.0 1020.0C214.8 1024.7 207.5 1030.8 205.0 1033.0" stroke="#fff" stroke-width="26.0" fill="none" stroke-linecap="butt"/></mask><path d="M224.9 928.0C226.2 931.3 229.7 940.5 233.0 948.0C236.3 955.5 242.6 966.0 244.5 973.0C246.4 980.0 246.1 984.7 244.7 990.0C243.3 995.3 240.1 1000.0 236.0 1005.0C231.9 1010.0 225.2 1015.3 220.0 1020.0C214.8 1024.7 207.5 1030.8 205.0 1033.0" stroke="#37450c" stroke-width="26.0" fill="none" stroke-linecap="butt"/><g mask="url(#tm3)"><path d="M224.9 928.0C226.2 931.3 229.7 940.5 233.0 948.0C236.3 955.5 242.6 966.0 244.5 973.0C246.4 980.0 246.1 984.7 244.7 990.0C243.3 995.3 240.1 1000.0 236.0 1005.0C231.9 1010.0 225.2 1015.3 220.0 1020.0C214.8 1024.7 207.5 1030.8 205.0 1033.0" stroke="#72821e" stroke-width="20.8" fill="none" transform="translate(-1.6,-2.6)" filter="url(#blur2)" stroke-linecap="butt"/><path d="M224.9 928.0C226.2 931.3 229.7 940.5 233.0 948.0C236.3 955.5 242.6 966.0 244.5 973.0C246.4 980.0 246.1 984.7 244.7 990.0C243.3 995.3 240.1 1000.0 236.0 1005.0C231.9 1010.0 225.2 1015.3 220.0 1020.0C214.8 1024.7 207.5 1030.8 205.0 1033.0" stroke="#8e9b32" stroke-width="7.8" fill="none" transform="translate(-2.6,-5.2)" filter="url(#blur2)" opacity="0.8" stroke-linecap="butt"/></g><ellipse cx="224.9" cy="928.0" rx="9.1" ry="12.7" transform="rotate(-112.0 224.9 928.0)" fill="#84922a" stroke="#37450c" stroke-width="0.6" stroke-opacity="0.5"/><path d="M129.5 1083.5C134.3 1080.8 149.9 1069.1 158.3 1067.3C166.7 1065.5 173.4 1068.2 180.0 1072.7C186.6 1077.2 192.5 1087.1 197.9 1094.3C203.3 1101.5 206.3 1110.5 212.3 1115.9C218.3 1121.3 224.9 1126.1 233.9 1126.7C242.9 1127.3 257.3 1118.9 266.3 1119.5C275.3 1120.1 280.1 1124.9 287.9 1130.3C295.7 1135.7 306.4 1144.7 313.0 1151.9C319.6 1159.1 325.1 1169.9 327.5 1173.5" stroke="#000" stroke-opacity="0.35" stroke-width="25.0" fill="none" transform="translate(2,3)" filter="url(#blur3)" stroke-linecap="butt"/><mask id="tm4" maskUnits="userSpaceOnUse" x="0" y="780" width="1056" height="462"><path d="M129.5 1083.5C134.3 1080.8 149.9 1069.1 158.3 1067.3C166.7 1065.5 173.4 1068.2 180.0 1072.7C186.6 1077.2 192.5 1087.1 197.9 1094.3C203.3 1101.5 206.3 1110.5 212.3 1115.9C218.3 1121.3 224.9 1126.1 233.9 1126.7C242.9 1127.3 257.3 1118.9 266.3 1119.5C275.3 1120.1 280.1 1124.9 287.9 1130.3C295.7 1135.7 306.4 1144.7 313.0 1151.9C319.6 1159.1 325.1 1169.9 327.5 1173.5" stroke="#fff" stroke-width="25.0" fill="none" stroke-linecap="butt"/></mask><path d="M129.5 1083.5C134.3 1080.8 149.9 1069.1 158.3 1067.3C166.7 1065.5 173.4 1068.2 180.0 1072.7C186.6 1077.2 192.5 1087.1 197.9 1094.3C203.3 1101.5 206.3 1110.5 212.3 1115.9C218.3 1121.3 224.9 1126.1 233.9 1126.7C242.9 1127.3 257.3 1118.9 266.3 1119.5C275.3 1120.1 280.1 1124.9 287.9 1130.3C295.7 1135.7 306.4 1144.7 313.0 1151.9C319.6 1159.1 325.1 1169.9 327.5 1173.5" stroke="#37450c" stroke-width="25.0" fill="none" stroke-linecap="butt"/><g mask="url(#tm4)"><path d="M129.5 1083.5C134.3 1080.8 149.9 1069.1 158.3 1067.3C166.7 1065.5 173.4 1068.2 180.0 1072.7C186.6 1077.2 192.5 1087.1 197.9 1094.3C203.3 1101.5 206.3 1110.5 212.3 1115.9C218.3 1121.3 224.9 1126.1 233.9 1126.7C242.9 1127.3 257.3 1118.9 266.3 1119.5C275.3 1120.1 280.1 1124.9 287.9 1130.3C295.7 1135.7 306.4 1144.7 313.0 1151.9C319.6 1159.1 325.1 1169.9 327.5 1173.5" stroke="#72821e" stroke-width="20.0" fill="none" transform="translate(-1.5,-2.5)" filter="url(#blur2)" stroke-linecap="butt"/><path d="M129.5 1083.5C134.3 1080.8 149.9 1069.1 158.3 1067.3C166.7 1065.5 173.4 1068.2 180.0 1072.7C186.6 1077.2 192.5 1087.1 197.9 1094.3C203.3 1101.5 206.3 1110.5 212.3 1115.9C218.3 1121.3 224.9 1126.1 233.9 1126.7C242.9 1127.3 257.3 1118.9 266.3 1119.5C275.3 1120.1 280.1 1124.9 287.9 1130.3C295.7 1135.7 306.4 1144.7 313.0 1151.9C319.6 1159.1 325.1 1169.9 327.5 1173.5" stroke="#8e9b32" stroke-width="7.5" fill="none" transform="translate(-2.5,-5.0)" filter="url(#blur2)" opacity="0.8" stroke-linecap="butt"/></g><ellipse cx="327.5" cy="1173.5" rx="7.5" ry="12.2" transform="rotate(56.1 327.5 1173.5)" fill="#84922a" stroke="#37450c" stroke-width="0.6" stroke-opacity="0.5"/><path d="M19.8 1094.3C28.5 1093.4 57.9 1086.9 72.0 1089.0C86.1 1091.1 93.6 1100.1 104.4 1107.0C115.2 1113.9 125.9 1123.1 136.7 1130.3C147.5 1137.5 158.9 1145.5 169.1 1150.0C179.3 1154.5 187.2 1156.7 198.0 1157.3C208.8 1157.9 221.6 1154.7 233.9 1153.7C246.2 1152.7 265.6 1151.9 272.0 1151.5" stroke="#000" stroke-opacity="0.35" stroke-width="29.0" fill="none" transform="translate(2,3)" filter="url(#blur3)" stroke-linecap="butt"/><mask id="tm5" maskUnits="userSpaceOnUse" x="0" y="780" width="1056" height="462"><path d="M19.8 1094.3C28.5 1093.4 57.9 1086.9 72.0 1089.0C86.1 1091.1 93.6 1100.1 104.4 1107.0C115.2 1113.9 125.9 1123.1 136.7 1130.3C147.5 1137.5 158.9 1145.5 169.1 1150.0C179.3 1154.5 187.2 1156.7 198.0 1157.3C208.8 1157.9 221.6 1154.7 233.9 1153.7C246.2 1152.7 265.6 1151.9 272.0 1151.5" stroke="#fff" stroke-width="29.0" fill="none" stroke-linecap="butt"/></mask><path d="M19.8 1094.3C28.5 1093.4 57.9 1086.9 72.0 1089.0C86.1 1091.1 93.6 1100.1 104.4 1107.0C115.2 1113.9 125.9 1123.1 136.7 1130.3C147.5 1137.5 158.9 1145.5 169.1 1150.0C179.3 1154.5 187.2 1156.7 198.0 1157.3C208.8 1157.9 221.6 1154.7 233.9 1153.7C246.2 1152.7 265.6 1151.9 272.0 1151.5" stroke="#37450c" stroke-width="29.0" fill="none" stroke-linecap="butt"/><g mask="url(#tm5)"><path d="M19.8 1094.3C28.5 1093.4 57.9 1086.9 72.0 1089.0C86.1 1091.1 93.6 1100.1 104.4 1107.0C115.2 1113.9 125.9 1123.1 136.7 1130.3C147.5 1137.5 158.9 1145.5 169.1 1150.0C179.3 1154.5 187.2 1156.7 198.0 1157.3C208.8 1157.9 221.6 1154.7 233.9 1153.7C246.2 1152.7 265.6 1151.9 272.0 1151.5" stroke="#72821e" stroke-width="23.2" fill="none" transform="translate(-1.7,-2.9)" filter="url(#blur2)" stroke-linecap="butt"/><path d="M19.8 1094.3C28.5 1093.4 57.9 1086.9 72.0 1089.0C86.1 1091.1 93.6 1100.1 104.4 1107.0C115.2 1113.9 125.9 1123.1 136.7 1130.3C147.5 1137.5 158.9 1145.5 169.1 1150.0C179.3 1154.5 187.2 1156.7 198.0 1157.3C208.8 1157.9 221.6 1154.7 233.9 1153.7C246.2 1152.7 265.6 1151.9 272.0 1151.5" stroke="#8e9b32" stroke-width="8.7" fill="none" transform="translate(-2.9,-5.8)" filter="url(#blur2)" opacity="0.8" stroke-linecap="butt"/></g><ellipse cx="272.0" cy="1151.5" rx="8.7" ry="14.2" transform="rotate(-3.3 272.0 1151.5)" fill="#84922a" stroke="#37450c" stroke-width="0.6" stroke-opacity="0.5"/><ellipse cx="19.8" cy="1094.3" rx="6.4" ry="14.2" transform="rotate(174.2 19.8 1094.3)" fill="#84922a" stroke="#37450c" stroke-width="0.6" stroke-opacity="0.5"/><path d="M32.4 1004.4C36.0 1007.4 44.4 1016.4 54.0 1022.4C63.6 1028.4 81.0 1037.2 90.0 1040.3C99.0 1043.4 96.6 1042.8 108.0 1041.0C119.4 1039.2 145.1 1030.5 158.3 1029.5C171.5 1028.5 177.4 1030.2 187.0 1035.0C196.6 1039.8 207.6 1052.6 216.0 1058.3C224.4 1064.0 227.9 1066.3 237.5 1069.0C247.1 1071.7 260.3 1075.8 273.5 1074.5C286.7 1073.2 307.7 1063.1 316.7 1061.0C325.7 1058.9 325.7 1061.8 327.5 1062.0" stroke="#000" stroke-opacity="0.35" stroke-width="34.0" fill="none" transform="translate(2,3)" filter="url(#blur3)" stroke-linecap="round"/><mask id="tm6" maskUnits="userSpaceOnUse" x="0" y="780" width="1056" height="462"><path d="M32.4 1004.4C36.0 1007.4 44.4 1016.4 54.0 1022.4C63.6 1028.4 81.0 1037.2 90.0 1040.3C99.0 1043.4 96.6 1042.8 108.0 1041.0C119.4 1039.2 145.1 1030.5 158.3 1029.5C171.5 1028.5 177.4 1030.2 187.0 1035.0C196.6 1039.8 207.6 1052.6 216.0 1058.3C224.4 1064.0 227.9 1066.3 237.5 1069.0C247.1 1071.7 260.3 1075.8 273.5 1074.5C286.7 1073.2 307.7 1063.1 316.7 1061.0C325.7 1058.9 325.7 1061.8 327.5 1062.0" stroke="#fff" stroke-width="34.0" fill="none" stroke-linecap="round"/></mask><path d="M32.4 1004.4C36.0 1007.4 44.4 1016.4 54.0 1022.4C63.6 1028.4 81.0 1037.2 90.0 1040.3C99.0 1043.4 96.6 1042.8 108.0 1041.0C119.4 1039.2 145.1 1030.5 158.3 1029.5C171.5 1028.5 177.4 1030.2 187.0 1035.0C196.6 1039.8 207.6 1052.6 216.0 1058.3C224.4 1064.0 227.9 1066.3 237.5 1069.0C247.1 1071.7 260.3 1075.8 273.5 1074.5C286.7 1073.2 307.7 1063.1 316.7 1061.0C325.7 1058.9 325.7 1061.8 327.5 1062.0" stroke="#37450c" stroke-width="34.0" fill="none" stroke-linecap="round"/><g mask="url(#tm6)"><path d="M32.4 1004.4C36.0 1007.4 44.4 1016.4 54.0 1022.4C63.6 1028.4 81.0 1037.2 90.0 1040.3C99.0 1043.4 96.6 1042.8 108.0 1041.0C119.4 1039.2 145.1 1030.5 158.3 1029.5C171.5 1028.5 177.4 1030.2 187.0 1035.0C196.6 1039.8 207.6 1052.6 216.0 1058.3C224.4 1064.0 227.9 1066.3 237.5 1069.0C247.1 1071.7 260.3 1075.8 273.5 1074.5C286.7 1073.2 307.7 1063.1 316.7 1061.0C325.7 1058.9 325.7 1061.8 327.5 1062.0" stroke="#72821e" stroke-width="27.2" fill="none" transform="translate(-2.0,-3.4)" filter="url(#blur2)" stroke-linecap="round"/><path d="M32.4 1004.4C36.0 1007.4 44.4 1016.4 54.0 1022.4C63.6 1028.4 81.0 1037.2 90.0 1040.3C99.0 1043.4 96.6 1042.8 108.0 1041.0C119.4 1039.2 145.1 1030.5 158.3 1029.5C171.5 1028.5 177.4 1030.2 187.0 1035.0C196.6 1039.8 207.6 1052.6 216.0 1058.3C224.4 1064.0 227.9 1066.3 237.5 1069.0C247.1 1071.7 260.3 1075.8 273.5 1074.5C286.7 1073.2 307.7 1063.1 316.7 1061.0C325.7 1058.9 325.7 1061.8 327.5 1062.0" stroke="#8e9b32" stroke-width="10.2" fill="none" transform="translate(-3.4,-6.8)" filter="url(#blur2)" opacity="0.8" stroke-linecap="round"/></g><ellipse cx="327.5" cy="1062.0" rx="10.2" ry="16.7" transform="rotate(5.3 327.5 1062.0)" fill="#84922a" stroke="#37450c" stroke-width="0.6" stroke-opacity="0.5"/><path d="M196.1 1155.5C199.4 1150.9 210.3 1135.8 216.0 1128.0C221.7 1120.2 223.8 1113.9 230.3 1108.7C236.8 1103.5 243.3 1100.8 255.0 1097.0C266.7 1093.2 292.9 1087.8 300.5 1086.0" stroke="#000" stroke-opacity="0.35" stroke-width="28.0" fill="none" transform="translate(2,3)" filter="url(#blur3)" stroke-linecap="butt"/><mask id="tm7" maskUnits="userSpaceOnUse" x="0" y="780" width="1056" height="462"><path d="M196.1 1155.5C199.4 1150.9 210.3 1135.8 216.0 1128.0C221.7 1120.2 223.8 1113.9 230.3 1108.7C236.8 1103.5 243.3 1100.8 255.0 1097.0C266.7 1093.2 292.9 1087.8 300.5 1086.0" stroke="#fff" stroke-width="28.0" fill="none" stroke-linecap="butt"/></mask><path d="M196.1 1155.5C199.4 1150.9 210.3 1135.8 216.0 1128.0C221.7 1120.2 223.8 1113.9 230.3 1108.7C236.8 1103.5 243.3 1100.8 255.0 1097.0C266.7 1093.2 292.9 1087.8 300.5 1086.0" stroke="#37450c" stroke-width="28.0" fill="none" stroke-linecap="butt"/><g mask="url(#tm7)"><path d="M196.1 1155.5C199.4 1150.9 210.3 1135.8 216.0 1128.0C221.7 1120.2 223.8 1113.9 230.3 1108.7C236.8 1103.5 243.3 1100.8 255.0 1097.0C266.7 1093.2 292.9 1087.8 300.5 1086.0" stroke="#72821e" stroke-width="22.4" fill="none" transform="translate(-1.7,-2.8)" filter="url(#blur2)" stroke-linecap="butt"/><path d="M196.1 1155.5C199.4 1150.9 210.3 1135.8 216.0 1128.0C221.7 1120.2 223.8 1113.9 230.3 1108.7C236.8 1103.5 243.3 1100.8 255.0 1097.0C266.7 1093.2 292.9 1087.8 300.5 1086.0" stroke="#8e9b32" stroke-width="8.4" fill="none" transform="translate(-2.8,-5.6)" filter="url(#blur2)" opacity="0.8" stroke-linecap="butt"/></g><ellipse cx="300.5" cy="1086.0" rx="8.4" ry="13.7" transform="rotate(-13.6 300.5 1086.0)" fill="#84922a" stroke="#37450c" stroke-width="0.6" stroke-opacity="0.5"/><ellipse cx="196.1" cy="1155.5" rx="13.4" ry="13.7" transform="rotate(125.9 196.1 1155.5)" fill="#84922a" stroke="#37450c" stroke-width="0.6" stroke-opacity="0.5"/>
<ellipse cx="425.0" cy="996.0" rx="48" ry="56" fill="#d8dcda" opacity="0.3" filter="url(#blur8)"/><ellipse cx="425.0" cy="990.0" rx="30" ry="33" fill="#cdd4cf" opacity="0.55" filter="url(#blur8)"/><ellipse cx="527.0" cy="999.0" rx="48" ry="56" fill="#d8dcda" opacity="0.3" filter="url(#blur8)"/><ellipse cx="527.0" cy="993.0" rx="30" ry="33" fill="#cdd4cf" opacity="0.55" filter="url(#blur8)"/><ellipse cx="458.0" cy="1076.0" rx="48" ry="56" fill="#d8dcda" opacity="0.3" filter="url(#blur8)"/><ellipse cx="458.0" cy="1070.0" rx="30" ry="33" fill="#cdd4cf" opacity="0.55" filter="url(#blur8)"/><ellipse cx="580.0" cy="1076.0" rx="48" ry="56" fill="#d8dcda" opacity="0.3" filter="url(#blur8)"/><ellipse cx="580.0" cy="1070.0" rx="30" ry="33" fill="#cdd4cf" opacity="0.55" filter="url(#blur8)"/><path d="M401 968C398 967 392 963 387 961C383 959 378 957 373 957C367 956 359 956 357 956M415 1033C413 1033 410 1035 407 1036C405 1036 402 1037 399 1037C396 1037 392 1036 390 1036M431 974C431 973 433 968 434 965C436 962 437 959 439 956C440 954 443 950 444 948M424 1018C424 1020 423 1026 422 1030C420 1034 419 1038 417 1042C415 1046 412 1051 411 1053M456 995C458 994 464 990 468 987C471 984 475 980 477 975C480 971 484 963 485 960M427 1007C427 1009 428 1016 429 1020C430 1025 430 1030 430 1034C430 1039 431 1046 431 1048M446 1001C448 1002 453 1002 457 1002C460 1002 464 1001 467 1001C471 1000 476 999 478 998M410 978C409 977 405 973 402 971C398 968 395 966 392 964C389 962 384 960 382 959M435 1026C436 1027 438 1030 440 1032C442 1034 445 1036 447 1037C449 1039 453 1041 455 1042M457 997C458 997 462 997 464 996C466 996 469 996 471 996C473 996 476 995 478 995M441 979C442 977 448 972 452 968C455 964 459 960 463 957C467 953 472 947 474 946M425 988C425 986 424 979 424 975C424 970 424 966 424 962C424 957 425 951 425 949M436 982C437 980 440 974 441 970C443 965 443 960 444 955C444 950 443 942 443 939M414 1007C413 1008 410 1010 407 1011C405 1012 403 1012 401 1013C398 1014 395 1014 394 1014M398 1025C397 1028 394 1034 392 1038C390 1042 389 1047 388 1052C387 1056 386 1064 385 1066M408 972C406 972 403 971 400 970C397 970 394 970 391 970C388 970 384 972 382 972M426 1016C426 1017 425 1021 423 1023C422 1026 421 1028 419 1030C417 1032 414 1034 413 1035M431 1026C432 1027 437 1031 440 1033C444 1034 448 1035 453 1035C457 1035 464 1033 467 1033M421 988C420 985 416 977 414 972C413 967 411 961 410 955C410 950 409 941 409 938M444 981C446 981 450 981 452 982C455 983 458 984 461 986C463 987 467 991 468 992M445 985C447 984 450 982 452 981C454 979 456 978 458 976C460 975 463 973 464 972M410 975C409 974 406 970 403 968C401 966 398 964 395 962C392 960 388 957 387 956M425 1002C425 1005 425 1014 425 1020C424 1025 423 1031 422 1037C420 1043 417 1051 416 1054M411 991C409 990 402 987 398 984C394 982 390 979 386 975C383 972 378 967 376 965M422 1000C421 1001 419 1005 419 1007C419 1010 419 1013 420 1016C421 1018 423 1023 424 1024M415 978C415 976 414 968 416 964C417 959 419 954 423 949C426 945 433 940 436 938M412 1019C410 1021 406 1026 403 1030C399 1033 396 1037 393 1040C389 1043 383 1047 381 1048M395 992C393 991 385 989 380 987C375 984 370 982 366 979C361 976 354 971 352 970M429 994C431 993 437 989 440 985C444 982 447 978 450 973C453 969 456 961 457 959M437 1012C438 1014 443 1021 446 1025C449 1030 452 1034 454 1039C457 1043 461 1050 462 1053M404 970C401 970 395 969 390 970C385 971 380 973 375 976C370 979 364 986 361 988M427 1008C426 1010 426 1015 426 1019C425 1023 425 1026 424 1030C422 1033 420 1038 419 1040M404 1030C403 1032 398 1036 394 1038C391 1041 387 1043 383 1044C379 1046 372 1048 370 1048M420 1037C419 1039 415 1044 411 1047C408 1050 404 1052 399 1054C395 1056 387 1057 385 1058M403 994C401 994 393 995 388 997C383 998 378 1001 373 1004C368 1007 361 1013 359 1015M409 986C406 985 399 982 394 980C389 979 384 978 379 978C373 978 365 979 362 979M431 993C432 992 436 989 439 987C442 985 445 983 448 981C451 979 455 976 456 975M437 992C439 991 446 988 450 985C455 983 459 981 463 978C468 976 474 971 476 970M420 967C419 964 417 955 415 949C413 944 411 938 408 932C406 926 402 918 400 915M416 1003C415 1004 412 1004 410 1004C408 1004 406 1003 404 1002C401 1001 398 999 397 998M453 977C454 976 456 972 457 970C458 968 459 965 459 962C460 959 461 955 461 954M401 1000C399 1000 393 1003 389 1005C385 1007 381 1009 377 1012C374 1014 368 1019 367 1021M444 991C446 990 452 988 456 987C460 986 464 985 468 985C472 984 478 982 480 982M427 1002C428 1004 430 1009 432 1013C433 1016 435 1019 436 1023C438 1026 440 1031 441 1032M436 966C437 964 437 961 437 958C437 956 437 953 437 950C437 948 436 944 436 943M436 959C436 957 437 951 437 946C437 942 437 937 437 933C436 929 435 922 435 920M430 998C431 998 433 999 435 999C436 1000 438 1001 440 1001C441 1002 444 1003 445 1003M425 1008C425 1010 426 1017 427 1021C427 1026 428 1030 430 1034C431 1039 434 1045 434 1047M417 990C415 989 410 985 406 982C402 980 398 978 394 975C391 973 385 970 383 968M412 1034C410 1036 406 1041 403 1044C400 1047 396 1049 392 1052C388 1054 382 1056 380 1057M411 972C411 971 410 966 410 963C410 960 410 957 411 954C411 951 412 946 412 945M455 1005C457 1007 465 1013 468 1018C472 1024 475 1030 478 1037C480 1044 482 1056 482 1060M440 1002C441 1002 446 1002 449 1002C452 1001 455 1000 458 999C461 998 465 995 467 994M403 970C401 971 395 971 391 972C387 974 383 976 379 979C375 983 370 990 368 992M427 987C428 984 430 977 432 971C433 966 434 961 436 956C437 951 440 944 440 941M433 1022C434 1024 437 1030 440 1033C443 1037 447 1040 451 1043C454 1046 461 1050 463 1051M447 1013C448 1015 453 1020 456 1023C459 1027 462 1030 464 1034C467 1038 470 1044 472 1046M430 980C430 977 432 969 432 964C432 959 431 953 430 948C430 943 427 935 426 932M432 989C433 989 435 987 437 986C438 985 440 984 442 983C443 982 446 981 447 981M430 1022C431 1025 433 1034 434 1040C435 1046 437 1052 438 1058C440 1064 442 1072 443 1075M425 1018C424 1021 423 1028 422 1033C420 1038 419 1042 416 1047C414 1051 410 1057 409 1060M419 1003C417 1004 412 1008 408 1010C404 1012 399 1013 395 1014C390 1015 383 1014 381 1014M413 1009C413 1012 410 1018 410 1023C410 1028 410 1033 412 1039C414 1044 418 1051 420 1054M425 1013C425 1015 423 1021 421 1025C420 1029 417 1032 415 1035C412 1039 406 1042 405 1044M425 969C426 967 428 962 430 959C432 956 434 954 436 951C439 949 443 945 445 944M426 986C426 985 426 981 426 979C427 976 427 974 427 971C427 969 428 965 428 964M455 1016C457 1015 462 1015 465 1015C468 1014 471 1013 474 1012C477 1010 482 1007 484 1006M437 971C437 969 437 965 437 961C436 958 435 955 434 952C432 949 429 944 429 943M437 983C440 982 446 979 451 979C456 978 461 978 466 980C471 981 479 986 481 988M421 961C421 959 420 950 421 944C421 939 421 933 422 927C422 922 424 913 424 911M421 1001C419 1003 416 1007 413 1010C410 1013 408 1016 405 1019C402 1022 398 1026 397 1028M430 1010C430 1012 431 1019 431 1023C430 1028 430 1032 428 1037C427 1041 424 1048 423 1050M432 990C432 989 435 986 437 984C438 982 440 980 441 978C442 975 444 972 445 970M407 970C406 967 403 958 401 952C400 945 399 939 399 932C399 925 400 914 400 911M442 967C443 965 446 961 448 958C450 955 452 953 454 950C457 947 460 943 461 942M437 1027C437 1030 437 1039 435 1045C434 1051 431 1057 428 1062C425 1067 419 1075 417 1077M409 1003C408 1004 403 1006 401 1009C398 1011 395 1013 393 1016C390 1019 387 1023 386 1025M438 975C438 973 440 968 442 965C443 961 444 958 445 954C446 951 448 946 448 944M422 977C421 974 420 966 418 960C416 955 415 950 413 945C411 939 407 932 406 929M418 1002C417 1005 413 1011 411 1016C409 1021 408 1027 408 1033C408 1039 410 1048 410 1051M442 1022C444 1024 449 1030 454 1033C458 1036 462 1039 467 1041C472 1043 479 1046 482 1047M430 1002C432 1004 438 1010 442 1014C447 1018 451 1022 456 1026C460 1029 467 1035 470 1036M408 986C406 985 399 983 394 983C389 982 384 983 380 983C375 984 367 987 365 987M435 989C437 988 443 984 446 980C450 977 454 974 458 971C462 968 467 963 469 961M420 997C419 998 414 999 412 1001C409 1002 407 1004 405 1007C402 1009 400 1013 399 1015M421 974C422 973 423 969 425 967C426 965 428 963 430 961C432 959 436 957 437 957M452 970C453 969 456 966 457 963C459 961 461 959 462 956C464 954 466 950 467 949M426 1005C426 1006 427 1009 427 1012C427 1014 427 1016 428 1018C428 1020 428 1023 428 1024M432 1004C434 1006 440 1011 445 1014C449 1017 454 1019 459 1021C464 1023 471 1024 474 1025M436 1024C436 1026 438 1030 438 1033C439 1036 440 1039 440 1042C441 1045 442 1050 442 1051M421 1020C420 1023 418 1029 417 1034C416 1038 415 1043 413 1047C412 1052 410 1059 409 1061M401 1018C398 1019 391 1023 387 1025C382 1028 377 1029 372 1031C367 1032 359 1034 356 1034M430 1003C433 1004 439 1011 445 1012C450 1014 456 1015 462 1014C469 1013 478 1009 481 1007M429 1038C430 1040 431 1044 431 1047C432 1049 432 1052 433 1055C434 1058 435 1062 435 1063M390 997C389 996 386 995 384 993C383 992 381 991 379 989C378 987 375 985 375 984M420 992C419 991 415 989 413 988C410 988 407 987 405 987C402 987 398 988 396 989M447 973C449 971 454 965 458 962C462 958 466 955 469 951C473 948 479 942 481 941M416 960C417 957 417 949 419 944C420 939 422 933 424 928C427 923 432 916 433 914M422 1007C421 1009 419 1017 419 1022C418 1027 417 1032 416 1038C416 1043 416 1051 415 1054M446 982C448 982 452 981 455 981C458 980 462 980 465 981C468 981 473 982 475 983M437 1016C438 1017 442 1018 445 1018C447 1018 450 1018 453 1017C456 1016 461 1013 462 1012M397 980C396 979 392 978 389 977C386 976 383 976 381 975C378 975 373 975 372 974M417 968C416 965 412 957 408 952C405 947 401 942 396 938C392 934 384 929 382 927M401 1012C399 1012 391 1014 386 1014C380 1014 375 1012 369 1010C364 1008 356 1003 353 1001M420 985C419 983 416 977 413 974C411 970 409 967 407 963C404 960 400 955 399 953M451 1009C452 1011 453 1015 453 1018C453 1021 453 1024 453 1028C452 1031 451 1036 450 1038M407 1000C405 1001 399 1003 395 1005C390 1006 386 1008 382 1011C378 1013 372 1017 370 1018M424 988C424 986 424 979 424 975C423 970 424 966 424 962C424 957 425 950 425 948M430 993C431 993 436 990 439 988C442 987 445 985 448 983C452 982 456 979 458 978M419 994C417 993 411 992 407 992C403 992 399 992 395 993C391 994 385 997 383 998M436 1033C438 1033 442 1036 445 1037C449 1038 452 1039 456 1039C460 1039 466 1037 468 1037M425 964C426 962 427 955 429 951C431 947 433 942 435 939C438 935 442 929 443 927M400 1002C398 1002 391 1003 386 1004C381 1004 376 1004 371 1004C366 1004 359 1003 356 1002M414 980C413 978 409 973 406 970C404 967 401 964 398 961C395 957 391 953 390 951M424 977C424 975 424 969 424 965C423 961 423 957 423 953C422 949 422 943 422 941M410 996C407 996 400 995 395 995C390 995 385 995 380 995C375 995 368 995 366 995M442 967C442 964 442 957 440 952C439 948 437 943 434 938C431 934 425 928 423 925M442 1000C444 1000 452 999 457 997C462 995 467 992 472 988C476 984 482 976 484 974M400 985C398 984 392 981 389 978C385 975 381 973 378 970C374 967 369 962 368 960M416 1002C415 1003 411 1006 409 1008C407 1010 406 1013 404 1015C402 1018 400 1023 399 1024M391 1014C390 1016 387 1021 386 1026C384 1030 383 1034 383 1039C382 1043 382 1050 382 1053M409 1016C407 1018 401 1024 397 1028C393 1032 388 1036 384 1040C380 1044 373 1049 371 1051M416 1006C413 1008 406 1012 401 1013C395 1014 389 1014 384 1012C378 1010 369 1005 366 1003M422 989C421 987 417 979 414 975C410 971 406 967 401 964C397 961 389 958 386 957M414 996C413 996 408 996 404 995C401 994 398 992 395 991C392 989 387 985 386 984M434 976C436 974 441 968 446 965C450 962 455 959 460 958C465 957 474 956 476 956M409 1015C408 1015 404 1017 402 1017C399 1018 396 1019 393 1019C390 1019 386 1018 384 1017M417 963C416 962 413 959 411 958C409 956 407 955 405 954C403 953 399 952 398 952M433 976C433 975 433 971 433 969C433 966 432 964 432 962C431 959 430 956 429 955M426 1026C426 1028 426 1033 426 1037C426 1040 427 1044 427 1047C427 1051 428 1056 428 1058M424 1019C424 1021 424 1028 424 1032C423 1036 423 1041 423 1045C423 1049 423 1055 423 1058M436 1036C437 1038 440 1042 442 1044C444 1046 447 1049 449 1051C452 1053 457 1055 458 1056M425 1003C425 1005 425 1011 424 1015C424 1018 424 1022 424 1026C424 1030 424 1036 424 1038M422 984C422 983 421 979 421 977C421 974 421 972 420 969C420 967 420 963 420 961M427 972C427 969 428 960 428 954C428 948 428 942 428 936C428 930 427 921 427 918M403 972C401 971 394 968 389 967C384 967 378 967 373 968C368 969 359 972 356 973M424 1018C424 1020 424 1026 425 1030C425 1034 425 1038 426 1042C427 1046 428 1053 428 1055M401 1007C400 1007 397 1009 395 1010C393 1011 391 1012 389 1014C387 1015 384 1017 384 1018M431 1010C433 1013 437 1021 440 1026C443 1031 446 1036 449 1041C452 1046 457 1054 459 1056M429 1006C430 1008 431 1014 433 1017C434 1021 435 1025 436 1029C437 1033 438 1039 439 1041M416 999C415 999 411 1001 408 1002C406 1004 403 1005 401 1007C398 1008 395 1011 394 1012M435 1022C436 1024 437 1029 438 1033C439 1037 440 1040 441 1044C441 1048 442 1053 443 1055M429 986C430 983 433 975 435 969C436 963 438 958 439 952C441 946 443 937 443 934M422 990C421 989 417 983 413 980C410 977 406 974 401 973C397 971 389 971 387 971M427 983C427 980 428 971 430 965C431 959 432 953 433 947C435 941 437 932 438 929M436 1007C437 1007 441 1007 443 1005C446 1004 448 1002 450 1000C452 997 455 992 455 990M457 974C459 972 463 967 466 963C468 960 471 955 473 951C475 947 478 940 479 938M415 972C415 968 414 959 415 952C417 945 419 938 423 932C426 926 434 918 437 915M414 1017C414 1018 414 1022 415 1024C415 1027 416 1029 417 1032C418 1034 421 1037 421 1038M419 976C418 974 415 965 414 960C412 954 411 949 410 944C408 938 406 930 406 927M422 1003C421 1003 419 1006 417 1008C416 1010 414 1012 412 1013C410 1015 407 1016 406 1017M419 1017C418 1020 416 1029 415 1034C413 1040 412 1046 412 1052C411 1058 410 1068 410 1071M447 977C449 976 456 972 460 970C465 968 470 966 475 964C480 963 488 962 490 961M456 997C457 996 461 996 464 995C466 994 469 994 471 993C474 992 478 990 479 989M433 966C434 965 434 960 434 957C435 955 435 952 435 949C435 946 435 941 435 940M437 990C439 989 445 987 449 985C453 983 458 981 462 979C466 977 472 974 474 973M428 988C429 986 432 980 434 977C436 973 438 970 440 966C443 963 447 959 448 957M394 984C393 984 390 982 389 981C387 979 385 978 384 977C382 975 380 973 379 972M427 968C427 966 428 961 428 958C428 955 428 951 428 948C429 945 429 940 429 938M393 1007C392 1007 388 1009 385 1010C382 1011 380 1012 377 1013C374 1014 370 1015 369 1016M406 971C406 969 405 962 405 958C405 954 406 949 407 945C409 940 412 934 413 931M420 977C420 976 420 973 420 971C420 969 421 966 421 964C422 962 423 959 423 958M423 984C422 981 421 974 420 968C420 963 419 958 419 953C419 948 419 940 419 937M392 1003C391 1003 385 1003 382 1003C378 1002 375 1002 371 1001C368 1000 363 998 361 997M423 1003C422 1005 421 1009 421 1011C420 1014 419 1017 419 1020C418 1023 418 1027 417 1029M428 1002C429 1004 431 1009 432 1013C434 1017 435 1020 436 1024C438 1028 439 1034 440 1035M423 955C422 954 419 949 417 947C415 944 413 941 410 939C408 937 403 933 402 932M418 996C417 996 414 995 412 995C410 995 408 994 406 994C403 994 400 993 399 993M394 1002C393 1001 390 999 388 997C386 995 384 993 382 990C381 988 379 983 378 982M447 967C448 967 450 965 451 964C453 962 454 961 456 960C457 959 459 958 460 957M405 1021C404 1022 402 1024 400 1026C399 1027 397 1029 396 1030C394 1032 392 1034 391 1034M433 975C433 973 433 966 432 962C431 958 429 953 427 949C425 945 421 940 419 938M423 1002C422 1003 420 1008 418 1011C417 1015 415 1018 413 1021C412 1024 409 1029 408 1030M445 1009C448 1010 456 1013 461 1014C467 1015 472 1016 478 1015C484 1015 492 1013 495 1013M416 982C415 980 411 975 409 972C406 968 404 965 402 961C399 957 396 952 395 950M399 977C397 975 393 970 391 967C388 963 386 959 384 955C383 951 380 944 380 942M407 984C407 982 406 977 406 973C406 969 408 964 410 960C412 956 417 951 418 949M429 987C430 985 434 980 437 978C441 976 445 974 450 974C454 973 461 975 464 976M414 1005C413 1005 409 1008 406 1010C403 1011 400 1012 397 1013C394 1014 389 1016 388 1016M416 972C417 970 418 966 419 963C421 960 423 958 425 955C427 953 432 950 433 949M432 992C433 991 436 989 438 987C440 985 442 982 444 980C445 977 447 973 448 972M445 963C446 963 449 961 451 960C453 960 455 959 457 958C460 958 463 958 464 957M432 1017C433 1020 437 1028 440 1033C444 1038 447 1043 451 1047C455 1051 462 1057 464 1059M435 1017C437 1018 442 1022 447 1022C451 1023 457 1023 462 1021C467 1020 474 1014 477 1012M417 1000C415 1000 410 1000 407 999C404 998 401 996 398 994C395 991 392 985 390 984M425 987C425 984 424 976 422 970C420 965 418 960 415 955C412 951 406 944 404 942M426 991C426 988 428 980 430 974C431 969 433 963 435 958C436 952 440 944 441 941M400 1004C398 1005 393 1008 389 1009C386 1011 383 1013 380 1015C376 1017 372 1021 370 1022M434 1008C435 1008 438 1010 440 1010C442 1010 445 1010 447 1009C449 1009 453 1006 454 1006M439 1013C439 1014 441 1020 441 1024C442 1027 442 1031 441 1036C441 1040 439 1046 439 1048M424 1002C424 1003 423 1008 422 1012C422 1015 421 1019 421 1022C420 1025 420 1030 419 1032M424 1016C425 1019 425 1027 425 1032C426 1038 427 1043 428 1048C429 1053 431 1061 432 1064M452 970C454 970 460 972 465 974C469 977 473 981 477 985C480 990 484 999 486 1002M425 1006C425 1008 424 1014 423 1018C422 1021 421 1025 420 1029C418 1032 416 1038 415 1039M433 992C435 991 442 988 446 987C450 985 454 984 459 982C463 981 469 979 472 979M450 1027C452 1029 456 1035 459 1039C461 1043 464 1047 467 1051C470 1054 474 1060 475 1062M431 991C432 990 434 988 436 986C437 985 438 983 439 981C441 979 442 975 442 974M430 994C432 993 440 991 445 991C451 991 456 991 461 993C467 995 474 1000 477 1002M446 1007C448 1007 453 1009 457 1009C460 1009 464 1010 467 1009C471 1009 477 1008 478 1008M423 965C422 962 421 952 420 946C418 940 417 934 415 928C413 921 410 912 409 909M432 977C433 975 436 967 438 962C441 958 443 953 446 949C448 944 453 937 454 935M438 995C440 995 445 994 448 992C451 991 455 989 458 987C461 985 465 982 467 980M441 990C443 988 450 984 455 981C459 977 464 974 468 970C472 965 478 958 479 956M404 1020C402 1021 398 1024 394 1026C391 1028 387 1029 384 1030C380 1031 374 1032 373 1032M411 1010C410 1011 407 1013 405 1013C403 1014 400 1015 398 1016C396 1016 392 1017 391 1017M426 969C426 967 427 960 428 955C428 950 429 945 431 940C432 935 434 928 435 926M426 1010C427 1011 427 1016 428 1019C429 1022 429 1025 430 1028C431 1031 432 1036 433 1037M426 977C426 975 427 970 427 967C427 963 428 960 428 957C429 953 429 948 429 947M428 1004C429 1006 431 1013 433 1018C435 1022 437 1027 439 1032C441 1036 444 1043 445 1045M418 1024C417 1025 415 1028 414 1029C413 1031 412 1033 410 1034C409 1036 406 1038 406 1039M414 989C413 987 410 982 410 978C409 974 409 969 411 965C412 960 417 953 418 951M417 990C416 989 410 984 407 980C404 977 401 972 399 968C396 964 393 956 392 954M436 994C437 993 441 991 443 990C445 988 447 986 449 983C451 981 454 977 455 976M439 995C441 994 447 992 450 989C454 987 457 983 460 979C463 975 466 968 467 966M430 994C432 993 437 990 439 987C442 983 444 979 446 975C447 970 448 963 448 960M420 979C420 977 419 973 418 969C417 966 416 963 415 960C414 957 412 952 412 950M447 1002C448 1001 451 1000 453 999C456 997 458 996 459 994C461 992 464 988 465 987M422 1002C421 1003 419 1005 418 1007C416 1008 415 1009 413 1010C411 1011 408 1011 407 1011M415 1001C413 1002 407 1005 403 1008C399 1010 395 1012 391 1015C387 1017 381 1021 380 1022M426 1038C426 1041 427 1050 427 1056C428 1062 428 1068 428 1074C429 1080 430 1088 430 1091M539 1008C540 1008 544 1008 546 1008C548 1007 550 1006 552 1004C554 1003 557 999 558 998M535 1001C537 1001 543 1004 547 1006C550 1009 554 1012 557 1016C559 1020 563 1027 564 1029M546 1032C547 1034 547 1039 548 1043C548 1047 547 1051 547 1055C546 1059 545 1065 544 1067M554 1017C555 1019 561 1023 564 1026C568 1029 571 1032 575 1035C578 1038 583 1043 585 1044M522 993C521 992 518 989 516 986C514 984 513 981 511 979C510 976 508 972 507 971M557 988C559 987 565 984 569 982C573 980 576 978 580 976C584 973 589 969 591 968M561 1003C562 1003 565 1003 567 1003C569 1003 571 1004 573 1004C575 1004 577 1004 578 1004M516 965C516 962 515 954 514 948C514 943 514 937 515 931C516 926 517 917 518 914M529 1004C530 1007 533 1015 533 1021C534 1027 534 1033 534 1039C533 1044 531 1053 530 1056M528 1037C528 1039 526 1045 525 1049C523 1052 522 1056 520 1059C518 1063 514 1067 513 1069M523 999C521 999 516 1000 513 1001C509 1002 506 1004 503 1007C500 1009 497 1014 495 1016M522 975C522 973 520 964 519 958C518 953 518 947 517 941C517 935 516 927 516 924M521 1013C520 1016 517 1024 515 1030C513 1035 510 1041 508 1047C506 1052 502 1060 501 1063M532 1003C534 1005 540 1011 544 1016C547 1020 551 1026 553 1031C556 1037 559 1047 560 1050M547 1007C549 1009 553 1012 556 1016C559 1019 561 1022 563 1026C565 1030 567 1037 568 1039M562 986C563 986 566 986 568 986C570 986 573 986 575 986C577 986 580 986 582 986M500 1019C498 1020 491 1021 487 1021C482 1021 477 1020 473 1019C468 1017 461 1013 459 1012M517 993C515 992 508 988 504 986C500 983 495 981 491 979C486 976 480 973 478 972M524 987C524 985 523 979 523 975C523 971 524 967 526 963C527 959 530 953 531 951M521 997C520 997 515 996 511 996C508 996 505 996 501 996C498 997 493 998 491 998M539 1004C540 1004 542 1005 544 1005C546 1005 548 1005 549 1005C551 1005 554 1005 555 1005M511 1015C511 1017 508 1021 506 1023C505 1026 503 1029 502 1032C500 1035 499 1039 498 1041M543 1034C543 1038 545 1048 544 1054C544 1061 543 1068 541 1075C539 1081 534 1091 532 1095M495 1007C493 1007 489 1006 486 1005C483 1004 480 1002 477 1001C474 999 470 996 469 995M520 1031C521 1033 524 1039 527 1042C530 1045 533 1049 537 1051C541 1053 549 1055 551 1056M532 996C534 995 541 992 546 990C550 989 555 988 560 987C565 987 573 987 575 987M515 1012C515 1012 513 1015 511 1016C510 1018 509 1020 507 1021C506 1023 504 1025 503 1026M522 993C520 992 515 987 511 985C507 983 503 981 499 980C494 979 487 978 485 978M561 994C563 994 571 994 575 995C580 995 585 996 590 997C595 997 602 999 604 1000M538 997C540 996 548 994 553 993C558 992 562 991 567 990C572 989 580 987 582 986M511 982C510 981 508 978 506 976C504 974 502 973 500 971C498 969 495 967 494 966M525 1008C524 1009 523 1013 522 1015C521 1017 520 1020 519 1022C518 1024 515 1027 515 1028M535 994C536 994 538 992 539 991C541 990 542 989 544 988C545 987 547 985 548 985M534 1008C535 1010 540 1014 543 1017C546 1020 549 1023 552 1026C555 1028 560 1032 562 1033M517 1004C515 1005 509 1008 505 1010C501 1011 497 1012 493 1014C489 1015 482 1016 480 1016M511 1012C508 1013 500 1016 495 1016C489 1016 483 1014 477 1012C472 1009 463 1002 461 1000M524 983C524 980 523 971 523 965C522 959 522 953 523 947C523 941 524 932 524 929M493 998C491 1000 485 1004 481 1009C478 1013 474 1019 472 1025C470 1031 468 1043 467 1046M552 1032C553 1032 556 1033 558 1034C560 1034 562 1034 564 1034C567 1035 570 1034 571 1034M531 998C532 997 536 995 537 994C539 992 541 990 542 987C543 985 545 980 545 979M544 1011C546 1011 552 1014 556 1014C560 1015 564 1015 569 1015C573 1014 579 1012 582 1012M551 1022C554 1022 562 1025 567 1025C572 1026 578 1025 583 1024C589 1022 597 1018 600 1016M542 1019C543 1021 546 1027 548 1031C550 1035 551 1040 553 1045C554 1049 555 1056 556 1059M538 984C539 982 542 976 543 972C544 968 545 964 545 959C546 955 545 948 545 945M499 986C497 985 491 982 487 980C483 978 478 976 474 974C470 972 464 969 461 969M555 997C557 998 562 1000 565 1001C569 1003 572 1005 575 1008C578 1010 582 1015 583 1016M529 988C529 985 529 978 528 973C526 968 525 964 522 959C520 955 515 949 513 947M493 995C492 996 486 998 483 1000C479 1003 476 1005 473 1009C470 1012 466 1018 465 1020M519 1039C520 1040 521 1046 522 1049C523 1053 524 1056 526 1060C527 1063 530 1068 531 1069M497 1021C495 1023 489 1029 485 1033C481 1038 477 1042 473 1047C470 1051 465 1059 463 1061M552 998C552 996 555 992 556 989C557 985 558 981 558 977C558 973 556 966 556 964M549 1007C549 1009 552 1013 553 1016C554 1020 554 1024 554 1028C554 1032 552 1039 552 1041M519 1026C517 1028 513 1035 509 1039C505 1043 501 1047 496 1049C491 1052 483 1055 481 1056M516 1023C516 1024 517 1028 518 1030C520 1033 521 1035 523 1037C525 1039 528 1042 530 1043M535 997C537 996 545 994 549 992C554 990 559 988 564 986C568 983 575 980 577 978M519 1033C518 1034 518 1039 517 1042C517 1045 517 1049 516 1052C516 1055 516 1060 516 1062M534 1004C536 1005 542 1008 547 1010C551 1011 556 1012 560 1013C565 1014 572 1014 575 1014M540 1019C541 1020 544 1023 547 1025C549 1027 552 1028 554 1030C557 1031 561 1033 563 1034M526 961C527 960 531 957 535 955C538 954 542 953 546 953C550 952 556 954 558 954M547 997C549 998 556 1002 560 1006C564 1011 567 1017 569 1024C571 1031 571 1045 571 1049M544 979C545 977 550 971 554 966C557 962 560 957 563 952C566 947 571 940 572 938M531 994C533 992 538 987 541 984C545 981 549 979 553 976C557 974 564 972 566 971M526 1016C525 1018 525 1025 524 1030C524 1034 524 1039 524 1043C523 1048 523 1055 523 1057M531 997C532 996 536 995 538 994C540 993 542 992 545 992C547 991 551 990 552 990M536 975C537 973 539 967 540 964C542 960 543 956 544 952C545 948 547 942 548 940M519 986C519 985 518 981 519 978C519 976 519 973 520 970C520 968 522 964 523 963M545 980C545 979 547 976 547 974C548 971 548 969 549 967C549 964 549 961 550 959M509 1017C508 1019 504 1025 503 1029C501 1033 499 1037 498 1042C496 1047 495 1054 495 1056M518 1016C517 1018 513 1024 511 1028C509 1032 507 1036 505 1041C503 1045 500 1051 499 1053M522 977C520 974 517 967 515 962C512 957 509 953 506 948C502 944 496 938 494 936M540 995C541 995 544 994 546 992C548 991 550 990 552 989C554 987 556 985 557 984M517 1035C517 1037 515 1044 513 1048C512 1052 510 1057 509 1061C507 1065 504 1072 504 1074M553 1017C554 1017 558 1017 560 1016C563 1016 565 1015 567 1013C570 1012 573 1009 574 1009M537 988C538 987 540 984 542 982C544 981 545 979 547 978C549 976 551 974 552 973M519 1000C517 1001 512 1002 508 1004C505 1006 502 1008 499 1010C496 1012 491 1017 490 1018M505 1015C503 1016 495 1019 490 1020C484 1021 479 1021 473 1021C467 1020 459 1017 456 1017M538 1019C539 1020 543 1025 546 1027C549 1029 553 1032 556 1033C560 1035 566 1037 568 1037M545 1012C548 1013 555 1017 559 1020C564 1022 569 1024 574 1026C579 1028 587 1030 590 1031M525 1025C525 1027 525 1032 526 1035C526 1039 526 1042 526 1045C527 1049 527 1054 528 1055M536 1005C538 1005 541 1005 543 1004C546 1003 548 1002 550 1000C552 997 554 993 555 991M518 1037C518 1040 518 1050 518 1056C519 1062 520 1068 522 1074C523 1080 527 1089 528 1092M527 1004C527 1005 528 1011 529 1014C531 1018 533 1021 536 1023C539 1026 544 1029 546 1030M528 992C528 990 529 982 529 977C530 972 531 967 532 962C532 957 534 950 535 947M555 992C557 993 565 993 570 994C575 996 581 997 585 1000C590 1002 598 1008 600 1009M522 1006C521 1008 517 1014 514 1018C511 1022 509 1026 506 1031C504 1035 500 1041 499 1043M499 1028C497 1029 493 1033 489 1036C486 1038 483 1041 480 1043C476 1045 471 1049 470 1050M540 994C542 993 550 989 555 986C560 982 565 979 569 975C574 971 580 964 582 962M517 1012C516 1013 513 1015 511 1016C509 1017 507 1018 505 1018C502 1019 499 1019 497 1020M529 1004C530 1006 533 1014 536 1019C539 1024 543 1028 547 1032C551 1036 557 1042 559 1044M513 970C513 969 513 965 513 963C513 961 513 958 513 956C514 954 514 950 514 949M521 999C520 1000 514 1001 511 1002C507 1004 504 1007 501 1010C498 1013 495 1019 494 1021M513 975C513 974 514 970 514 967C515 964 516 962 517 959C518 957 521 953 522 952M534 993C535 993 540 989 544 988C548 987 552 987 556 987C560 987 566 989 568 989M536 995C538 994 542 992 545 991C549 990 552 989 555 989C558 988 563 987 565 986M520 959C521 956 522 948 524 942C526 937 529 932 532 927C535 922 542 915 544 913M552 1014C554 1015 562 1019 567 1022C572 1024 577 1027 582 1029C587 1031 595 1035 597 1036M529 988C529 986 529 980 529 976C529 972 529 968 529 964C529 960 528 954 528 952M499 970C497 969 493 963 490 960C487 956 484 952 481 948C479 944 475 938 473 936M523 977C521 975 517 971 513 969C509 968 504 967 499 967C494 968 486 971 483 972M513 1000C512 1000 508 1000 506 999C503 999 500 999 498 999C495 999 491 998 490 998M514 1005C511 1005 504 1005 499 1004C493 1002 488 999 484 994C479 990 474 980 472 977M513 1023C511 1025 506 1032 503 1036C499 1041 495 1045 491 1049C487 1053 481 1058 479 1060M509 992C507 991 501 990 496 990C492 991 487 991 483 992C479 994 472 997 470 998M551 1031C552 1033 555 1040 557 1044C560 1048 562 1053 563 1057C565 1062 568 1069 568 1071M505 970C505 968 504 962 504 958C505 953 506 949 507 945C509 940 512 934 513 932M525 1023C524 1026 522 1033 520 1038C518 1042 516 1047 513 1051C510 1055 505 1061 503 1063M556 1012C558 1013 565 1015 570 1015C575 1016 580 1017 585 1017C590 1017 597 1016 600 1016M516 1026C515 1027 513 1030 512 1032C510 1033 509 1035 507 1037C506 1038 503 1040 502 1041M505 986C503 986 497 986 493 987C490 988 486 990 482 992C478 995 473 1000 471 1002M524 977C523 974 521 966 519 962C517 957 514 952 511 948C508 944 502 938 501 936M546 1013C547 1014 552 1020 554 1024C557 1028 559 1032 560 1037C562 1042 563 1050 564 1052M532 995C533 993 539 988 542 984C546 981 550 978 554 975C558 972 563 967 565 966M521 981C520 979 517 975 514 974C511 972 508 970 504 969C500 969 494 969 492 969M500 993C498 992 492 989 489 986C485 983 482 980 478 976C475 973 471 966 470 964M507 1020C505 1020 501 1022 497 1022C494 1023 490 1023 487 1022C483 1022 478 1020 476 1020M505 1006C504 1007 503 1012 503 1016C503 1020 504 1024 505 1028C506 1032 510 1038 511 1040M530 1018C530 1019 531 1023 531 1025C531 1027 531 1030 531 1032C530 1034 530 1038 530 1039M540 988C541 988 544 987 547 988C549 988 552 989 555 991C557 993 561 996 562 998M551 1027C551 1029 552 1033 552 1036C553 1039 553 1042 552 1045C552 1048 551 1053 551 1054M519 999C518 999 513 999 510 998C507 998 505 997 502 996C499 995 495 993 493 993M518 957C518 955 516 950 515 947C514 944 513 940 512 937C510 934 508 929 507 927M542 1020C543 1022 546 1027 547 1030C549 1033 550 1037 552 1041C553 1044 555 1050 555 1052M540 969C540 967 540 963 540 960C540 958 539 955 539 952C538 949 537 945 537 944M543 960C542 957 541 948 538 943C535 938 532 932 527 928C523 923 514 918 511 916M556 996C558 996 564 996 569 997C573 997 577 998 581 999C585 1000 592 1002 594 1002M510 1020C507 1022 501 1027 496 1030C491 1032 486 1034 480 1036C475 1037 466 1038 463 1039M523 1002C522 1004 516 1009 513 1012C510 1016 507 1019 504 1023C501 1027 497 1033 496 1035M531 986C531 984 533 977 535 972C537 968 539 963 541 959C542 955 546 948 547 946M517 1002C515 1002 510 1003 507 1003C504 1003 501 1002 497 1002C494 1002 489 1000 487 1000M530 1007C531 1008 534 1013 537 1016C540 1018 543 1020 547 1021C551 1023 557 1022 559 1023M537 964C536 961 534 950 530 944C527 938 522 932 515 927C509 922 497 917 494 916M521 989C519 988 512 983 507 981C502 980 496 979 491 981C485 982 476 988 474 989M526 967C527 964 530 956 532 951C535 945 538 940 542 936C546 931 553 925 556 923M517 977C517 975 515 970 515 967C514 963 514 960 514 956C514 953 514 947 514 945M539 1019C539 1020 541 1026 542 1029C542 1033 543 1036 543 1040C544 1044 543 1050 543 1052M543 974C545 973 552 969 556 968C561 966 567 966 572 967C577 967 586 970 588 971M531 1023C532 1024 532 1027 533 1030C534 1032 534 1034 535 1036C536 1039 537 1042 537 1043M534 997C536 995 542 992 546 989C550 986 553 982 557 978C560 974 564 967 565 965M496 997C494 996 489 992 487 989C484 986 481 982 479 978C477 974 474 967 473 964M516 999C515 999 511 999 508 999C505 999 502 1000 499 1000C496 1001 492 1002 491 1002M542 998C544 997 547 995 549 993C552 991 554 989 556 986C557 983 559 978 560 976M551 1031C552 1034 557 1041 559 1046C562 1050 565 1055 567 1060C570 1065 573 1073 575 1075M517 1004C516 1004 513 1005 511 1004C508 1004 506 1003 504 1002C502 1001 499 998 498 997M517 1016C515 1018 509 1025 505 1028C501 1032 497 1036 492 1039C487 1042 480 1046 477 1047M541 1020C541 1021 543 1024 544 1027C545 1029 546 1032 547 1034C548 1036 549 1040 550 1041M542 993C542 992 545 988 546 985C548 982 548 979 549 975C549 972 548 966 548 964M516 981C515 980 512 978 511 978C509 977 507 976 505 976C503 976 500 976 498 976M526 1034C526 1036 528 1042 529 1046C531 1050 533 1054 535 1058C537 1062 541 1067 542 1069M501 1007C498 1007 490 1008 484 1007C478 1007 473 1006 467 1004C461 1002 453 998 450 996M546 1009C547 1011 549 1015 550 1018C552 1021 552 1025 553 1028C553 1032 552 1038 552 1040M531 1012C531 1016 532 1025 532 1032C531 1038 529 1045 526 1051C523 1057 516 1065 514 1068M544 974C545 972 547 968 549 966C551 963 553 961 555 958C557 956 560 952 561 951M514 1005C512 1005 508 1007 505 1008C501 1009 498 1010 495 1011C492 1012 487 1013 485 1014M539 1006C541 1007 546 1009 549 1010C553 1010 556 1011 560 1011C564 1011 569 1011 571 1011M510 973C510 971 510 967 510 964C511 961 512 958 513 954C514 951 517 947 518 946M522 1014C522 1016 520 1024 520 1030C520 1035 521 1041 522 1046C523 1051 526 1060 527 1062M525 994C525 992 523 987 523 984C522 981 522 978 522 974C522 971 522 966 522 964M549 986C550 986 554 984 557 983C560 981 563 980 566 980C569 979 573 978 575 977M505 970C504 969 503 963 502 960C501 956 501 952 501 948C501 944 501 938 501 936M536 999C538 999 546 998 551 997C555 995 560 993 565 990C569 988 576 982 578 981M506 1026C504 1027 499 1031 495 1033C491 1036 487 1038 483 1039C478 1041 471 1042 469 1043M506 1016C504 1016 497 1018 492 1017C487 1017 482 1015 477 1013C472 1010 465 1004 462 1002M541 1038C540 1041 539 1048 537 1052C535 1057 533 1061 529 1065C526 1069 520 1075 518 1077M520 997C519 997 515 997 513 998C510 998 507 999 505 1001C502 1002 499 1005 498 1006M531 1011C531 1012 532 1018 533 1022C533 1026 533 1030 533 1033C533 1037 531 1043 531 1045M506 1027C506 1028 506 1032 506 1034C506 1037 506 1039 507 1042C507 1044 508 1048 509 1049M535 975C536 973 538 968 539 965C540 961 542 958 543 954C545 951 547 945 548 944M516 996C514 994 507 991 503 987C499 983 495 979 491 974C488 970 484 961 483 958M525 1004C524 1007 520 1014 517 1019C514 1024 511 1029 507 1033C504 1038 498 1044 496 1046M509 967C510 964 512 952 516 946C520 939 526 933 534 928C541 924 556 922 561 921M494 1002C493 1002 488 1002 484 1003C481 1004 477 1004 474 1005C470 1005 465 1007 464 1007M512 1001C509 1000 502 999 498 997C493 995 489 992 485 988C481 984 476 975 474 973M533 1008C534 1009 537 1013 540 1015C542 1018 545 1020 547 1022C550 1024 554 1027 555 1028M562 988C564 986 571 979 575 974C578 969 582 963 585 956C587 949 590 938 591 934M521 985C520 984 518 979 517 976C516 973 514 969 513 966C511 963 509 958 509 956M534 986C534 984 534 981 534 978C534 976 534 973 533 971C533 968 531 965 531 963M514 1028C513 1029 509 1030 507 1030C504 1030 501 1030 498 1029C496 1028 491 1026 490 1026M553 976C556 976 562 974 567 974C571 974 576 974 581 976C586 977 593 981 596 982M533 1037C533 1040 535 1048 536 1053C537 1058 538 1063 539 1068C540 1073 542 1081 543 1084M533 1010C533 1012 534 1018 534 1022C534 1025 532 1030 531 1033C529 1037 524 1043 523 1044M544 1007C545 1008 549 1011 552 1013C555 1016 557 1019 560 1022C562 1025 566 1030 567 1031M516 1011C515 1013 513 1018 512 1022C512 1026 512 1030 512 1034C513 1039 516 1045 517 1048M516 999C514 999 507 999 502 998C497 998 493 997 488 996C483 995 476 992 474 992M500 1007C497 1006 489 1003 485 999C481 995 476 990 473 983C470 977 467 964 466 960M537 970C538 968 541 961 544 957C546 953 549 949 552 944C555 940 559 935 561 933M523 985C522 984 519 980 516 979C513 977 510 976 507 976C503 976 497 977 496 977M523 1002C522 1004 517 1009 515 1014C514 1018 512 1024 512 1029C511 1034 513 1043 513 1045M528 989C528 987 528 980 528 975C527 970 525 965 523 961C521 956 517 950 516 948M537 1002C538 1003 542 1005 544 1007C546 1009 548 1012 550 1015C552 1018 553 1023 554 1025M537 1022C538 1023 541 1027 543 1030C545 1033 547 1035 549 1038C551 1040 555 1044 556 1045M500 993C499 994 494 998 492 1002C490 1005 487 1010 486 1015C485 1020 485 1029 485 1032M524 966C524 965 522 962 520 960C519 958 517 957 515 955C513 953 510 951 509 950M515 992C514 991 509 988 507 986C504 984 501 982 498 980C495 978 491 975 489 974M515 997C513 996 510 994 507 992C505 989 503 986 502 983C501 980 499 974 499 972M531 978C530 977 530 973 529 971C528 969 528 967 526 965C525 963 523 960 523 959M528 1004C529 1007 532 1016 535 1021C538 1026 541 1032 545 1037C549 1041 555 1048 557 1050M511 995C510 994 508 993 506 993C504 992 502 991 501 990C499 989 496 988 495 988M537 994C538 995 544 994 547 996C550 997 554 999 557 1003C560 1006 563 1013 564 1015M540 1025C541 1028 545 1035 548 1039C551 1044 553 1048 556 1052C559 1057 563 1063 565 1065M525 994C524 993 523 989 522 986C521 984 520 981 519 978C518 975 517 971 516 970M522 980C521 979 518 974 515 971C512 968 508 966 505 964C501 962 495 961 493 961M540 1001C541 1000 546 999 548 996C551 994 553 991 555 987C557 983 558 976 558 974M528 1005C528 1007 529 1013 530 1017C530 1020 531 1024 532 1028C533 1031 535 1037 535 1038M546 1030C547 1030 550 1033 553 1034C556 1035 559 1035 562 1036C565 1036 569 1036 571 1036M545 1032C546 1033 549 1036 551 1038C553 1039 556 1041 558 1042C560 1044 564 1045 565 1046M534 987C534 985 535 982 535 979C535 977 535 974 535 972C534 969 533 965 533 964M507 999C504 999 497 997 493 996C488 994 484 992 479 989C475 987 469 981 467 980M506 999C505 1000 500 1001 496 1001C493 1002 489 1003 486 1004C483 1006 478 1008 476 1009M534 1013C536 1013 540 1016 543 1017C546 1017 550 1017 553 1016C557 1015 562 1011 564 1010M529 990C529 989 529 984 529 982C530 979 530 976 529 973C529 970 529 966 529 964M522 1012C522 1014 520 1019 519 1022C518 1025 516 1029 515 1032C514 1035 512 1040 512 1042M510 961C508 959 503 952 499 949C495 945 491 941 486 938C481 935 474 932 471 930M510 1005C508 1005 504 1005 501 1004C499 1003 496 1001 493 1000C491 998 487 994 486 993M537 1004C539 1006 544 1010 547 1013C550 1017 553 1021 555 1025C558 1029 560 1037 561 1039M521 1040C519 1041 516 1046 512 1049C509 1051 506 1054 502 1056C498 1058 492 1060 490 1060M556 1020C557 1021 559 1023 561 1025C562 1027 564 1028 565 1030C567 1031 569 1034 570 1035M554 972C557 970 564 966 569 964C574 962 579 960 585 959C590 958 599 958 602 958M528 1005C528 1007 528 1013 528 1017C528 1021 528 1025 528 1028C528 1032 527 1038 527 1040M531 998C533 997 537 996 539 994C542 992 545 991 547 989C549 987 553 983 554 982M548 1001C549 1001 552 1000 554 999C556 998 558 998 560 996C562 995 564 993 565 993M452 1058C451 1056 447 1048 445 1043C443 1038 441 1033 438 1028C435 1023 431 1016 430 1014M443 1109C440 1111 432 1116 425 1117C419 1118 411 1118 404 1116C396 1114 385 1106 381 1104M437 1108C437 1111 434 1120 433 1127C432 1133 432 1140 432 1147C432 1153 435 1164 435 1167M487 1096C489 1096 497 1096 502 1094C507 1092 512 1089 516 1085C521 1082 527 1073 530 1071M445 1069C443 1067 436 1062 432 1058C429 1053 425 1048 423 1042C420 1037 417 1027 416 1024M460 1082C461 1083 463 1088 465 1091C467 1093 470 1095 473 1097C475 1099 480 1100 482 1101M462 1098C462 1101 464 1110 465 1117C466 1123 467 1129 467 1135C468 1141 469 1151 470 1154M449 1111C448 1112 447 1115 445 1117C444 1119 443 1121 441 1123C439 1125 437 1127 436 1128M462 1067C463 1065 466 1059 467 1055C469 1050 470 1046 471 1042C472 1037 473 1030 474 1028M453 1060C452 1059 449 1054 447 1052C445 1049 442 1047 439 1045C436 1043 431 1040 429 1040M455 1087C455 1090 453 1099 451 1104C450 1110 448 1116 446 1121C445 1127 442 1135 441 1138M440 1100C439 1102 435 1106 432 1109C429 1111 426 1114 423 1116C420 1118 415 1121 414 1122M436 1110C436 1112 434 1117 434 1121C433 1124 432 1128 432 1131C431 1135 431 1141 431 1143M471 1071C473 1068 479 1063 482 1058C484 1052 486 1046 486 1039C487 1032 484 1021 484 1017M455 1040C453 1038 449 1029 446 1025C442 1020 438 1016 433 1012C428 1009 418 1005 416 1004M449 1034C449 1033 449 1028 449 1025C449 1022 449 1018 449 1015C450 1012 451 1007 451 1005M460 1084C460 1085 462 1091 464 1094C466 1098 468 1101 470 1104C473 1107 478 1110 479 1111M459 1071C460 1068 463 1059 466 1054C469 1049 474 1045 479 1042C484 1038 494 1036 497 1035M450 1112C448 1114 443 1122 438 1126C434 1130 428 1134 423 1136C417 1139 407 1141 404 1142M448 1096C446 1098 441 1104 437 1108C433 1111 428 1114 423 1116C418 1118 410 1120 407 1121M468 1043C469 1041 472 1036 473 1032C475 1029 477 1025 479 1022C481 1019 484 1014 485 1012M436 1099C433 1098 426 1099 420 1098C415 1096 410 1093 405 1089C400 1084 393 1074 391 1071M434 1070C432 1071 426 1072 422 1073C418 1075 415 1077 411 1080C407 1083 403 1089 401 1090M495 1074C496 1073 498 1071 500 1070C502 1068 503 1067 505 1065C506 1063 508 1060 509 1059M450 1074C448 1073 440 1071 436 1069C431 1067 427 1065 423 1062C418 1059 412 1054 410 1053M451 1040C450 1038 448 1032 447 1028C445 1024 444 1020 442 1016C440 1012 438 1006 437 1004M470 1047C471 1045 474 1036 476 1031C478 1025 480 1020 482 1014C483 1008 486 1000 486 997M465 1038C466 1037 468 1032 469 1028C471 1025 472 1022 474 1019C475 1016 478 1011 479 1010M456 1080C455 1081 453 1085 451 1087C449 1089 447 1091 444 1092C442 1094 438 1095 437 1096M481 1098C482 1100 485 1105 486 1109C487 1113 488 1117 488 1122C489 1126 488 1133 488 1135M454 1094C453 1097 450 1104 448 1108C445 1113 441 1117 437 1120C433 1124 426 1128 424 1129M443 1064C441 1062 437 1058 434 1055C432 1052 429 1049 426 1045C424 1042 420 1037 419 1035M456 1101C456 1103 456 1111 456 1116C457 1121 457 1126 458 1131C459 1136 462 1143 462 1146M478 1070C480 1070 483 1069 486 1068C488 1067 491 1066 493 1065C496 1064 500 1063 501 1062M468 1049C471 1047 477 1041 483 1038C489 1036 495 1034 502 1035C509 1035 520 1039 523 1040M429 1070C427 1070 419 1069 413 1069C408 1069 403 1069 398 1069C392 1069 384 1070 382 1071M444 1064C442 1063 437 1060 433 1059C429 1058 425 1058 421 1057C417 1057 410 1058 408 1059M485 1055C486 1053 491 1047 494 1043C496 1039 499 1034 501 1029C503 1024 506 1016 507 1014M486 1090C487 1091 492 1093 495 1095C498 1096 502 1098 505 1099C508 1101 513 1103 514 1104M452 1098C451 1100 448 1108 446 1113C444 1118 441 1123 438 1128C435 1132 430 1139 429 1141M453 1099C452 1102 450 1110 448 1115C446 1121 444 1126 442 1131C440 1136 437 1144 435 1147M463 1063C464 1062 467 1058 469 1056C471 1053 473 1051 476 1049C478 1047 482 1045 484 1044M439 1044C437 1041 433 1034 430 1029C427 1025 424 1020 421 1015C419 1010 414 1003 413 1001M457 1047C457 1045 456 1039 456 1036C455 1032 455 1029 454 1025C453 1021 452 1016 451 1014M474 1062C476 1060 483 1055 487 1051C491 1047 495 1044 499 1040C503 1036 509 1030 511 1028M473 1106C472 1108 471 1114 469 1118C467 1122 464 1127 461 1130C457 1134 450 1138 448 1139M449 1076C447 1075 440 1073 436 1070C432 1067 428 1062 426 1056C423 1051 422 1040 421 1037M466 1088C467 1090 471 1097 474 1101C476 1106 479 1111 481 1116C483 1121 486 1128 487 1131M472 1058C473 1057 475 1052 476 1048C477 1045 478 1041 479 1037C479 1033 479 1027 479 1025M467 1097C468 1099 470 1102 472 1105C473 1107 475 1110 477 1112C478 1114 481 1117 482 1118M453 1081C452 1082 449 1087 447 1091C446 1094 444 1098 444 1102C443 1107 442 1113 442 1115M436 1041C435 1039 430 1032 427 1027C424 1023 421 1018 417 1014C414 1009 409 1002 407 1000M473 1063C475 1061 480 1055 483 1050C486 1046 488 1041 491 1036C493 1031 495 1023 496 1020M421 1069C419 1069 413 1068 409 1067C405 1067 401 1066 397 1066C393 1066 387 1065 385 1065M461 1060C462 1057 463 1049 464 1043C465 1038 466 1032 467 1026C467 1021 468 1012 469 1010M459 1087C459 1089 459 1094 460 1097C460 1100 460 1103 461 1106C461 1109 462 1113 462 1115M472 1078C474 1079 480 1081 483 1082C487 1084 491 1086 494 1088C497 1091 502 1095 504 1096M461 1057C461 1055 463 1051 465 1049C467 1047 469 1044 472 1042C474 1041 478 1038 480 1038M462 1081C463 1082 465 1086 466 1089C467 1092 468 1095 468 1098C468 1101 467 1106 467 1108M485 1064C487 1063 492 1060 495 1057C498 1054 501 1052 504 1048C507 1045 511 1040 513 1039M449 1049C448 1048 445 1043 442 1041C439 1039 436 1037 432 1036C429 1035 423 1034 421 1033M467 1110C467 1112 468 1119 468 1124C468 1129 468 1134 467 1139C466 1144 464 1151 464 1154M491 1087C493 1087 498 1086 501 1085C505 1084 508 1083 511 1081C515 1080 519 1076 521 1075M439 1061C437 1060 431 1055 427 1052C423 1049 419 1046 415 1043C411 1040 405 1035 403 1033M454 1066C453 1064 452 1057 451 1053C451 1048 452 1043 453 1038C454 1033 457 1026 458 1024M466 1080C467 1082 472 1084 475 1087C478 1089 481 1091 484 1093C486 1096 491 1099 492 1101M459 1067C458 1066 457 1063 456 1061C455 1059 453 1057 451 1056C449 1055 445 1055 444 1054M450 1099C450 1100 449 1105 450 1108C450 1111 450 1114 451 1117C452 1120 453 1125 454 1126M433 1096C432 1098 431 1101 431 1103C430 1106 430 1109 430 1111C429 1114 430 1118 430 1119M481 1074C482 1073 487 1071 489 1068C492 1065 494 1062 496 1058C498 1055 500 1048 501 1046M464 1092C465 1094 468 1102 470 1107C473 1112 475 1118 477 1123C479 1128 483 1135 484 1138M464 1046C463 1045 462 1042 461 1039C460 1037 458 1035 457 1033C455 1031 452 1029 451 1028M455 1045C454 1044 451 1039 448 1037C444 1035 441 1033 437 1031C433 1030 426 1030 424 1030M463 1097C463 1098 463 1101 463 1104C463 1106 464 1109 464 1111C464 1114 464 1117 463 1119M467 1082C469 1083 475 1088 479 1090C483 1093 486 1096 490 1099C494 1102 500 1106 502 1107M443 1048C443 1045 442 1038 442 1033C442 1027 443 1022 445 1017C447 1012 451 1004 452 1001M455 1067C455 1066 453 1062 452 1059C450 1056 449 1054 447 1051C445 1049 442 1045 441 1044M464 1082C465 1083 470 1088 474 1090C477 1093 481 1095 485 1098C489 1100 495 1102 497 1103M446 1090C445 1091 443 1094 441 1096C439 1098 437 1100 435 1102C434 1104 431 1107 430 1108M427 1056C426 1056 423 1056 421 1056C419 1056 417 1056 415 1056C413 1057 409 1057 408 1058M474 1075C476 1075 483 1076 487 1077C492 1078 496 1080 500 1082C505 1084 511 1089 513 1090M450 1063C449 1061 445 1055 443 1052C440 1048 438 1044 436 1040C433 1036 429 1031 428 1029M474 1091C475 1091 478 1091 480 1090C482 1090 485 1089 487 1088C489 1087 492 1085 493 1084M459 1070C459 1067 460 1059 460 1054C460 1049 460 1043 459 1038C458 1033 456 1025 456 1022M473 1094C475 1095 481 1099 486 1100C490 1102 495 1103 500 1103C505 1103 512 1102 515 1102M421 1075C419 1075 413 1075 408 1074C404 1074 400 1074 396 1074C392 1074 386 1073 384 1073M465 1080C467 1082 474 1087 477 1092C480 1097 482 1103 483 1109C484 1115 483 1126 483 1129M470 1053C471 1051 473 1044 475 1040C476 1036 477 1032 478 1027C480 1023 481 1016 481 1014M457 1059C456 1057 454 1050 453 1047C451 1043 449 1039 447 1036C444 1032 440 1028 439 1026M452 1065C452 1064 452 1060 453 1058C453 1056 455 1053 456 1051C458 1049 461 1046 462 1045M472 1110C471 1113 470 1123 467 1128C464 1134 460 1140 455 1145C450 1150 440 1155 437 1157M425 1084C424 1085 418 1087 415 1088C411 1089 408 1090 405 1092C401 1093 396 1095 394 1096M452 1083C450 1085 445 1090 442 1092C439 1095 435 1097 431 1100C427 1102 422 1104 420 1105M451 1088C449 1090 445 1096 442 1100C439 1103 436 1107 432 1110C429 1113 423 1117 421 1119M447 1069C444 1069 438 1066 433 1065C429 1064 424 1064 419 1064C414 1064 407 1066 404 1066M452 1043C453 1041 454 1036 455 1032C456 1029 457 1025 459 1022C461 1019 464 1014 466 1012M430 1104C427 1106 421 1111 416 1114C412 1116 407 1119 402 1121C397 1123 389 1126 387 1127M469 1053C470 1051 472 1044 474 1039C475 1034 476 1028 476 1023C477 1018 477 1010 478 1007M466 1087C467 1089 470 1094 473 1098C475 1101 477 1105 479 1109C481 1113 485 1118 486 1120M480 1110C482 1109 490 1109 496 1106C501 1103 506 1099 511 1093C515 1088 520 1076 522 1072M458 1052C460 1051 463 1046 467 1043C471 1041 475 1039 480 1039C485 1039 493 1041 495 1041M480 1091C481 1093 487 1098 491 1101C494 1105 498 1109 501 1112C504 1116 509 1122 511 1124M434 1107C432 1107 427 1108 423 1107C419 1107 415 1106 411 1104C407 1102 401 1098 399 1097M466 1071C468 1070 475 1066 480 1064C485 1063 490 1062 495 1061C500 1060 508 1060 511 1060M448 1040C448 1038 446 1032 445 1028C444 1024 442 1020 441 1016C440 1012 438 1006 437 1003M436 1105C433 1106 427 1112 423 1115C418 1118 413 1121 408 1123C403 1126 396 1129 393 1130M460 1061C460 1059 461 1055 462 1053C463 1050 464 1048 465 1045C466 1043 468 1039 469 1038M446 1069C444 1069 440 1069 437 1070C434 1071 431 1073 429 1075C426 1078 423 1083 422 1085M444 1107C445 1108 445 1112 446 1114C446 1117 447 1119 448 1122C449 1124 451 1127 452 1129M453 1072C452 1071 449 1068 447 1065C445 1063 443 1061 442 1058C440 1056 438 1051 437 1050M491 1075C492 1074 496 1074 498 1073C500 1072 502 1072 505 1071C507 1070 510 1069 511 1068M449 1079C447 1080 442 1083 439 1085C436 1086 433 1089 430 1091C427 1093 423 1098 421 1099M470 1062C471 1061 473 1059 474 1057C475 1055 476 1053 477 1051C478 1050 480 1047 480 1046M479 1074C481 1074 484 1075 487 1076C490 1076 492 1077 495 1079C497 1080 501 1082 502 1083M451 1054C450 1053 446 1049 443 1047C440 1045 436 1044 432 1043C428 1042 422 1043 420 1043M456 1082C456 1084 455 1088 455 1091C455 1094 455 1098 455 1101C455 1104 456 1108 456 1110M487 1078C489 1077 496 1077 501 1077C506 1076 510 1075 515 1074C520 1073 527 1071 529 1070M448 1069C446 1068 441 1065 436 1063C432 1062 427 1062 423 1062C418 1062 411 1064 409 1064M456 1052C458 1049 461 1039 465 1034C470 1029 477 1025 484 1022C491 1020 504 1021 508 1020M434 1062C432 1062 428 1062 424 1063C421 1064 418 1065 415 1066C412 1068 408 1071 406 1072M437 1045C437 1042 438 1036 440 1031C442 1027 444 1022 447 1018C451 1014 457 1009 459 1008M475 1092C476 1092 479 1094 481 1094C484 1095 486 1096 488 1096C490 1096 494 1097 495 1097M459 1069C459 1067 459 1062 460 1058C461 1055 462 1051 463 1048C464 1044 465 1039 466 1037M462 1070C463 1069 467 1066 470 1065C473 1064 477 1064 481 1065C484 1066 489 1070 491 1070M447 1046C446 1044 443 1035 440 1029C438 1023 435 1018 433 1012C430 1006 426 998 425 995M443 1047C441 1045 437 1039 434 1035C430 1032 426 1028 423 1025C419 1022 412 1018 410 1016M464 1079C467 1080 474 1082 478 1081C483 1081 488 1079 493 1076C497 1073 504 1066 506 1064M458 1081C458 1083 458 1090 458 1094C459 1098 459 1102 460 1107C461 1111 464 1117 465 1119M458 1058C457 1055 456 1047 455 1042C453 1036 452 1031 449 1026C447 1021 442 1014 441 1011M451 1076C448 1077 441 1078 437 1079C432 1080 428 1082 423 1084C419 1087 412 1091 410 1092M462 1118C460 1121 457 1128 454 1133C451 1138 447 1142 443 1146C438 1150 430 1154 428 1156M468 1061C470 1059 476 1052 480 1048C485 1045 489 1041 494 1038C499 1035 507 1032 510 1031M464 1075C466 1075 473 1074 477 1073C482 1072 486 1070 491 1069C495 1067 501 1065 504 1064M435 1090C435 1091 433 1094 432 1096C431 1098 431 1101 430 1103C430 1106 429 1110 429 1112M481 1096C481 1098 482 1104 481 1109C481 1113 480 1117 478 1122C476 1126 471 1132 470 1134M452 1088C451 1091 447 1099 445 1104C443 1110 440 1115 438 1121C436 1126 432 1135 431 1137M442 1050C440 1048 436 1041 433 1036C431 1031 428 1027 426 1022C423 1017 419 1010 418 1008M476 1087C477 1087 480 1089 482 1090C484 1091 486 1092 489 1092C491 1093 494 1094 496 1094M480 1062C482 1061 486 1059 489 1057C492 1055 495 1054 498 1052C501 1051 506 1049 507 1048M460 1051C460 1049 461 1045 463 1043C464 1040 465 1038 467 1036C468 1033 471 1030 472 1029M492 1064C494 1062 501 1059 505 1056C509 1053 514 1050 518 1047C522 1044 528 1038 530 1037M450 1105C450 1106 450 1110 450 1113C450 1115 450 1118 450 1121C451 1123 451 1128 452 1129M462 1078C464 1080 470 1083 473 1087C476 1091 479 1095 481 1100C484 1105 485 1113 486 1116M448 1043C447 1040 443 1033 440 1028C436 1024 433 1020 429 1016C425 1012 419 1006 416 1005M473 1051C474 1048 478 1040 481 1035C483 1029 485 1024 487 1018C489 1012 491 1003 492 1001M471 1080C472 1081 477 1082 480 1083C483 1084 486 1085 489 1086C492 1087 497 1089 498 1089M473 1111C473 1112 474 1115 474 1117C475 1119 475 1121 475 1123C476 1125 476 1128 476 1129M459 1063C459 1061 460 1057 462 1054C463 1051 465 1048 467 1046C469 1043 473 1040 474 1039M460 1054C460 1053 460 1049 460 1046C460 1044 460 1041 460 1039C460 1036 459 1032 459 1031M489 1072C490 1073 493 1075 495 1077C497 1079 498 1081 500 1084C502 1086 504 1091 504 1092M438 1099C437 1100 434 1103 432 1106C429 1108 427 1110 425 1112C423 1114 420 1117 419 1118M472 1078C474 1079 482 1080 487 1081C492 1082 497 1084 501 1085C506 1087 513 1089 516 1090M446 1045C445 1044 443 1040 442 1038C441 1036 439 1033 437 1031C436 1029 433 1026 433 1025M488 1050C490 1050 495 1048 498 1046C502 1045 505 1044 509 1044C512 1043 518 1042 519 1042M493 1058C494 1058 498 1058 501 1058C504 1057 507 1058 511 1058C514 1058 518 1059 520 1060M443 1091C441 1092 437 1095 434 1097C431 1099 428 1101 424 1102C421 1104 416 1106 415 1107M488 1080C490 1079 497 1077 501 1074C505 1071 509 1067 513 1062C517 1057 521 1049 522 1046M465 1087C466 1090 468 1096 469 1101C470 1105 470 1110 470 1115C470 1120 468 1127 468 1130M447 1078C445 1079 440 1081 436 1083C433 1085 429 1088 426 1091C423 1094 418 1099 417 1101M481 1047C482 1045 485 1041 487 1038C489 1035 491 1032 493 1028C495 1025 497 1020 498 1019M479 1050C481 1048 486 1042 490 1039C494 1035 498 1031 502 1028C506 1024 512 1019 514 1017M455 1090C455 1093 454 1101 453 1107C453 1113 453 1119 453 1125C453 1130 454 1139 454 1142M435 1105C434 1105 428 1107 425 1107C421 1108 417 1108 413 1107C409 1106 402 1103 400 1103M447 1071C446 1070 442 1068 440 1067C437 1066 435 1065 432 1065C429 1064 425 1063 424 1062M457 1101C457 1102 457 1105 458 1108C458 1110 458 1113 459 1115C460 1117 461 1121 461 1122M467 1096C468 1098 471 1104 473 1108C475 1112 477 1116 479 1121C481 1125 485 1131 486 1133M439 1090C437 1091 432 1094 428 1096C425 1098 421 1100 418 1101C414 1103 409 1105 407 1106M460 1067C460 1064 461 1056 460 1050C460 1044 459 1038 457 1033C455 1027 451 1019 450 1017M454 1066C453 1065 450 1060 447 1057C445 1054 442 1051 439 1049C436 1046 431 1044 429 1043M467 1041C468 1040 471 1037 473 1034C475 1032 477 1030 479 1028C481 1027 485 1024 487 1023M434 1063C432 1062 425 1058 421 1054C417 1051 412 1048 408 1045C404 1041 398 1036 397 1034M488 1057C490 1056 496 1052 500 1049C505 1047 509 1044 513 1042C518 1039 524 1036 526 1034M448 1074C446 1073 439 1072 435 1070C430 1069 426 1067 422 1065C417 1063 411 1060 409 1059M474 1105C475 1106 480 1112 484 1115C487 1118 491 1121 495 1123C500 1126 506 1128 509 1129M476 1064C477 1064 481 1062 483 1061C486 1060 488 1059 491 1058C494 1057 498 1056 499 1056M461 1059C461 1056 461 1050 461 1046C461 1041 460 1037 459 1033C458 1029 456 1022 456 1020M444 1063C442 1062 437 1057 433 1054C429 1051 424 1048 420 1045C416 1042 410 1038 408 1037M456 1062C456 1061 455 1057 455 1055C454 1053 454 1051 453 1049C453 1047 452 1043 452 1042M482 1064C485 1065 493 1065 499 1068C505 1070 510 1074 515 1080C520 1085 526 1096 528 1100M444 1063C443 1062 440 1057 439 1054C437 1050 436 1047 435 1043C435 1039 434 1033 434 1031M461 1097C461 1099 462 1105 462 1110C462 1114 463 1118 463 1122C463 1126 462 1133 462 1135M447 1086C446 1088 442 1093 439 1097C437 1101 434 1105 433 1109C431 1114 429 1121 428 1123M438 1056C437 1054 432 1050 429 1046C426 1043 423 1040 420 1037C417 1034 413 1029 412 1027M435 1102C432 1104 425 1109 420 1111C415 1113 409 1115 404 1117C398 1118 389 1118 386 1118M495 1079C497 1078 505 1075 510 1072C514 1068 519 1064 523 1060C527 1055 533 1046 535 1043M468 1051C470 1048 474 1041 478 1037C482 1032 486 1028 491 1025C496 1022 504 1018 506 1016M433 1087C432 1088 429 1091 427 1093C425 1095 423 1098 422 1100C420 1103 418 1107 418 1109M456 1108C455 1111 453 1119 452 1124C450 1130 448 1135 446 1140C444 1145 440 1152 438 1155M483 1074C486 1074 493 1075 497 1075C502 1076 507 1077 511 1078C516 1079 522 1081 525 1082M479 1097C481 1099 487 1105 491 1109C495 1113 499 1117 503 1121C507 1126 513 1132 515 1134M463 1072C465 1071 472 1066 476 1063C481 1060 485 1057 490 1054C494 1051 501 1047 503 1045M445 1061C444 1058 441 1051 439 1046C438 1041 437 1036 436 1031C436 1025 437 1016 437 1013M446 1072C445 1072 442 1071 441 1070C440 1069 438 1068 437 1066C435 1065 433 1063 433 1063M464 1065C464 1064 466 1062 468 1060C470 1059 471 1057 473 1056C475 1055 478 1054 479 1054M434 1073C432 1074 424 1077 419 1081C415 1086 410 1092 407 1098C404 1105 402 1118 401 1122M491 1068C493 1068 498 1066 501 1065C505 1064 508 1062 511 1061C514 1060 519 1057 521 1056M469 1072C471 1072 477 1070 481 1069C485 1068 489 1067 493 1066C497 1065 503 1064 505 1063M462 1065C464 1063 467 1059 470 1057C474 1055 477 1054 481 1053C485 1053 492 1054 494 1054M474 1054C475 1052 479 1046 481 1042C483 1038 485 1034 487 1029C488 1025 491 1018 492 1016M473 1110C472 1113 472 1122 470 1128C469 1134 466 1140 462 1146C459 1152 451 1159 449 1161M481 1076C482 1077 486 1081 487 1085C489 1088 490 1093 490 1098C490 1102 489 1110 489 1113M453 1100C452 1102 450 1107 449 1111C447 1115 445 1118 443 1121C441 1125 438 1130 437 1131M486 1059C486 1057 489 1050 490 1045C490 1040 490 1035 489 1029C489 1024 485 1016 485 1013M477 1049C479 1048 483 1043 486 1040C489 1038 492 1035 495 1032C498 1030 503 1026 505 1025M450 1076C449 1077 445 1077 442 1078C440 1079 437 1080 434 1081C432 1082 428 1084 427 1085M445 1091C443 1092 439 1095 437 1097C434 1099 431 1101 428 1102C425 1104 420 1106 418 1106M463 1080C465 1081 470 1084 474 1086C479 1087 483 1088 487 1089C492 1089 498 1089 501 1089M424 1087C422 1089 417 1094 414 1099C412 1103 409 1109 408 1114C406 1120 405 1129 404 1132M461 1034C461 1033 461 1030 461 1028C461 1025 461 1023 460 1021C460 1019 460 1015 460 1014M477 1069C479 1068 487 1064 491 1060C496 1057 500 1054 505 1050C509 1046 515 1039 517 1037M490 1091C491 1091 496 1094 499 1095C502 1097 505 1099 508 1101C511 1102 515 1105 516 1106M469 1071C471 1069 478 1066 483 1063C488 1060 493 1057 497 1053C502 1050 509 1045 511 1043M458 1090C458 1092 456 1098 454 1102C452 1106 449 1110 446 1113C443 1116 436 1119 435 1120M462 1072C463 1071 465 1069 467 1068C468 1067 470 1065 471 1064C473 1063 475 1062 476 1061M434 1054C433 1052 431 1046 430 1042C429 1037 428 1032 429 1027C429 1022 431 1014 431 1011M455 1072C454 1070 452 1067 451 1064C450 1061 450 1058 449 1055C449 1052 449 1047 449 1045M440 1112C438 1113 432 1116 428 1117C423 1118 418 1118 413 1117C408 1116 400 1113 397 1112M469 1076C471 1076 475 1076 478 1075C481 1075 484 1074 487 1074C490 1073 494 1072 495 1071M437 1084C435 1085 430 1086 426 1087C423 1088 419 1088 416 1088C412 1089 407 1089 405 1089M454 1118C454 1119 455 1122 456 1124C456 1126 457 1128 457 1130C458 1132 459 1136 460 1137M552 1081C551 1082 547 1086 545 1090C543 1093 541 1097 540 1101C539 1106 538 1113 537 1115M545 1072C544 1073 539 1075 536 1078C533 1080 531 1083 528 1087C526 1090 523 1097 522 1098M613 1085C615 1085 619 1085 622 1084C625 1083 628 1082 631 1081C634 1080 638 1078 640 1077M553 1055C552 1053 547 1048 544 1045C542 1042 539 1038 536 1034C534 1031 530 1025 529 1023M569 1084C568 1085 566 1086 564 1086C562 1086 560 1086 558 1086C556 1086 554 1086 553 1086M572 1079C569 1080 562 1083 558 1086C554 1090 549 1094 546 1098C542 1103 538 1111 536 1114M585 1063C586 1062 587 1058 589 1056C590 1053 592 1051 593 1049C595 1047 597 1044 598 1042M551 1056C548 1055 542 1049 537 1045C533 1042 529 1038 525 1033C521 1029 515 1023 513 1020M567 1099C566 1100 564 1103 563 1105C561 1107 560 1108 558 1110C557 1112 554 1114 553 1115M587 1080C588 1080 591 1081 593 1081C596 1082 598 1082 600 1082C602 1081 606 1081 607 1080M570 1106C568 1106 563 1107 559 1106C555 1106 551 1104 547 1101C543 1099 538 1092 536 1091M565 1050C565 1047 564 1039 565 1033C566 1027 568 1021 571 1015C574 1010 581 1002 583 999M568 1054C566 1052 561 1047 556 1044C552 1042 547 1040 542 1039C536 1038 528 1039 525 1039M587 1109C587 1110 588 1114 588 1117C588 1120 588 1123 588 1125C588 1128 588 1132 588 1134M579 1097C578 1100 577 1109 575 1114C574 1119 572 1125 570 1130C567 1135 563 1143 562 1145M567 1081C565 1082 558 1084 553 1085C549 1086 544 1087 539 1087C534 1087 527 1087 524 1087M549 1090C546 1089 538 1086 534 1083C529 1079 524 1073 521 1067C517 1061 514 1048 513 1044M562 1042C562 1039 561 1033 561 1028C561 1023 561 1018 562 1013C563 1008 565 1001 566 998M584 1069C584 1067 587 1062 588 1058C588 1054 589 1049 588 1045C588 1041 587 1034 586 1032M609 1089C611 1090 616 1095 620 1098C623 1102 626 1106 629 1111C632 1115 635 1123 637 1125M566 1093C564 1094 558 1100 553 1103C549 1106 544 1109 539 1111C534 1113 526 1115 523 1116M589 1058C590 1056 591 1051 592 1048C593 1045 594 1041 594 1038C595 1034 595 1029 595 1027M584 1097C585 1098 587 1102 589 1104C590 1106 592 1108 594 1109C597 1111 600 1113 602 1114M587 1075C588 1074 591 1074 593 1074C595 1073 597 1073 598 1073C600 1073 603 1072 604 1072M586 1073C588 1072 594 1070 598 1068C602 1067 607 1066 611 1066C616 1066 622 1066 624 1066M584 1089C585 1092 587 1099 589 1103C590 1108 592 1113 594 1117C596 1122 599 1128 600 1131M595 1056C596 1054 598 1050 598 1047C599 1044 600 1041 600 1038C600 1034 600 1029 600 1028M566 1052C565 1050 564 1045 564 1041C564 1038 564 1034 564 1030C565 1026 566 1021 566 1019M546 1085C544 1086 539 1090 536 1093C533 1096 530 1100 528 1103C525 1107 522 1114 521 1116M565 1055C564 1054 560 1050 557 1048C554 1045 551 1043 547 1041C544 1039 539 1037 537 1036M551 1078C550 1079 547 1082 545 1084C543 1086 541 1089 539 1092C538 1095 536 1101 535 1102M592 1062C593 1059 597 1052 599 1046C600 1040 601 1034 602 1028C602 1022 600 1012 600 1009M573 1072C571 1071 566 1066 562 1063C558 1060 554 1057 551 1054C547 1050 542 1045 540 1043M572 1113C571 1115 568 1120 566 1124C564 1127 562 1131 559 1134C557 1137 553 1142 551 1143M591 1082C593 1082 599 1083 603 1083C607 1083 612 1082 616 1081C620 1079 626 1074 628 1073M584 1079C586 1080 591 1084 594 1086C598 1089 602 1090 606 1092C610 1094 616 1096 618 1096M550 1089C547 1089 539 1089 533 1087C528 1086 522 1083 517 1080C511 1076 504 1069 501 1066M581 1071C581 1070 581 1066 580 1064C579 1061 578 1058 577 1056C575 1054 572 1051 571 1050M587 1074C588 1073 594 1072 597 1071C601 1070 605 1070 608 1069C612 1069 617 1069 619 1069M569 1084C568 1086 565 1089 564 1092C562 1095 561 1098 560 1101C559 1104 558 1109 558 1111M598 1092C600 1093 604 1095 608 1097C611 1098 615 1099 618 1100C622 1100 627 1101 629 1101M557 1044C556 1043 553 1039 551 1036C549 1034 547 1031 544 1029C542 1026 539 1023 538 1022M560 1096C558 1098 553 1104 550 1108C547 1112 544 1116 541 1120C537 1125 533 1131 532 1133M556 1086C555 1087 553 1089 551 1091C549 1093 548 1095 547 1097C545 1099 543 1103 543 1104M590 1084C592 1084 597 1088 601 1089C605 1091 609 1092 613 1092C617 1093 624 1093 626 1093M593 1076C594 1076 597 1076 600 1075C602 1075 604 1075 606 1074C608 1074 612 1073 613 1073M564 1083C562 1083 555 1084 550 1084C545 1083 540 1082 535 1080C531 1077 524 1072 521 1071M557 1065C555 1064 550 1060 547 1057C544 1054 541 1050 539 1047C536 1043 532 1037 531 1035M613 1058C615 1057 623 1054 629 1053C634 1051 639 1050 645 1049C651 1049 659 1049 662 1048M595 1090C597 1091 603 1096 607 1099C611 1101 615 1104 619 1107C624 1109 630 1113 632 1114M575 1072C574 1071 571 1069 569 1067C567 1066 565 1065 563 1063C560 1062 557 1061 556 1060M597 1085C598 1086 601 1089 602 1092C604 1094 605 1097 606 1100C608 1103 609 1108 609 1110M573 1094C572 1096 570 1104 569 1110C568 1115 568 1121 567 1126C567 1132 568 1141 568 1144M591 1080C593 1080 599 1081 603 1081C607 1080 612 1079 616 1078C620 1076 626 1072 628 1071M580 1105C580 1107 581 1113 581 1117C581 1121 582 1126 582 1130C582 1134 583 1140 583 1142M556 1065C555 1065 553 1063 551 1062C550 1061 548 1060 547 1059C545 1058 543 1057 542 1056M568 1112C566 1112 560 1113 555 1111C551 1110 546 1108 542 1105C538 1101 533 1094 531 1092M589 1106C591 1108 594 1116 596 1121C599 1125 602 1130 605 1135C608 1139 613 1145 614 1148M598 1052C599 1051 603 1049 606 1048C608 1047 611 1047 614 1046C617 1046 621 1046 623 1046M572 1110C572 1111 574 1115 575 1118C577 1120 578 1123 580 1125C582 1127 586 1130 587 1131M546 1075C543 1075 536 1077 531 1078C526 1080 521 1082 516 1084C512 1087 505 1091 503 1093M598 1083C599 1082 605 1081 608 1079C611 1077 614 1074 617 1070C620 1066 622 1058 623 1056M573 1057C572 1056 570 1051 569 1048C568 1044 567 1041 566 1037C565 1034 564 1029 564 1027M606 1097C608 1098 614 1100 619 1102C623 1103 627 1104 632 1105C636 1105 643 1105 646 1105M576 1056C575 1055 574 1052 573 1049C572 1047 571 1045 570 1042C569 1040 567 1037 567 1036M587 1079C588 1080 593 1083 595 1086C597 1089 599 1093 600 1097C602 1101 602 1108 603 1110M586 1099C586 1102 587 1112 586 1118C586 1125 585 1131 583 1138C581 1144 577 1154 575 1157M602 1058C603 1056 607 1051 610 1048C612 1044 615 1040 617 1036C619 1031 621 1025 622 1022M564 1062C563 1061 560 1057 558 1054C556 1051 555 1048 553 1045C552 1041 550 1036 550 1034M595 1084C597 1085 604 1088 608 1091C612 1094 616 1096 620 1099C624 1102 629 1107 631 1108M596 1107C596 1108 596 1112 596 1115C595 1117 595 1120 594 1122C593 1125 592 1129 591 1130M567 1055C566 1053 562 1049 560 1047C557 1044 555 1042 552 1039C549 1037 545 1034 543 1033M585 1076C586 1076 592 1077 596 1078C599 1078 603 1079 606 1080C610 1081 615 1083 617 1084M562 1091C562 1092 561 1096 561 1099C561 1102 562 1105 562 1108C563 1112 566 1116 566 1118M577 1068C576 1066 572 1059 569 1055C567 1051 563 1047 560 1044C557 1040 551 1035 549 1033M569 1045C566 1044 558 1037 551 1036C544 1034 535 1035 528 1037C520 1040 508 1050 504 1052M600 1075C601 1075 605 1075 608 1074C610 1074 612 1074 615 1073C617 1072 621 1071 622 1071M574 1075C572 1075 565 1075 560 1076C556 1076 551 1078 547 1080C543 1082 537 1087 535 1089M582 1070C583 1067 586 1059 587 1054C589 1048 590 1043 591 1037C592 1031 594 1023 594 1020M600 1077C601 1077 604 1078 607 1079C609 1079 611 1080 613 1081C615 1082 618 1083 619 1084M609 1097C610 1097 614 1098 617 1098C619 1098 622 1098 624 1098C627 1098 631 1097 633 1097M572 1062C571 1061 568 1058 566 1056C564 1054 561 1053 559 1051C557 1050 553 1048 552 1048M592 1080C594 1080 598 1080 601 1081C604 1081 607 1081 610 1080C613 1080 618 1079 619 1079M575 1083C573 1084 569 1088 565 1091C562 1093 558 1095 554 1096C551 1098 544 1099 542 1099M574 1053C574 1052 572 1047 571 1044C570 1041 569 1038 568 1035C566 1032 564 1028 564 1026M555 1070C554 1069 549 1066 546 1063C543 1061 541 1058 538 1054C536 1051 533 1045 532 1043M589 1111C590 1113 591 1121 592 1126C592 1131 593 1136 593 1141C594 1147 594 1154 594 1157M591 1070C593 1068 600 1064 604 1060C609 1057 613 1054 617 1050C622 1047 628 1041 630 1039M564 1038C562 1037 557 1032 553 1030C549 1027 545 1025 540 1024C535 1023 527 1023 525 1022M602 1088C603 1089 607 1090 609 1092C611 1093 614 1094 616 1095C619 1096 622 1098 624 1098M553 1106C553 1108 551 1116 551 1122C551 1128 551 1134 553 1140C554 1146 558 1155 559 1158M587 1091C587 1094 588 1103 587 1109C586 1115 584 1122 580 1128C577 1133 569 1141 566 1143M598 1070C599 1069 604 1067 607 1066C610 1065 613 1063 615 1062C618 1060 623 1058 624 1057M561 1084C560 1084 554 1084 551 1084C547 1083 544 1083 540 1081C537 1080 532 1076 530 1075M578 1087C579 1089 579 1095 580 1099C580 1103 582 1106 584 1110C586 1114 589 1118 591 1120M560 1084C558 1086 552 1091 549 1095C546 1100 543 1105 541 1111C539 1116 538 1126 537 1130M556 1097C556 1100 555 1107 556 1112C557 1117 559 1123 562 1128C565 1132 571 1139 573 1141M579 1070C579 1068 577 1063 577 1059C576 1056 575 1052 574 1049C573 1045 571 1040 570 1039M553 1071C551 1071 542 1070 537 1069C531 1069 526 1069 520 1069C515 1070 506 1070 504 1071M549 1065C547 1065 542 1063 539 1063C536 1062 532 1061 529 1060C526 1060 521 1059 519 1058M577 1104C575 1106 570 1115 565 1119C560 1123 554 1127 548 1129C541 1131 529 1131 526 1131M572 1118C571 1120 569 1125 567 1128C565 1132 563 1135 560 1138C558 1141 554 1145 553 1146M565 1070C564 1070 561 1070 559 1070C556 1070 554 1071 552 1071C550 1072 547 1073 545 1074M567 1036C567 1035 567 1031 568 1028C568 1025 569 1022 570 1019C571 1017 573 1012 573 1011M584 1062C584 1060 586 1054 587 1051C588 1047 589 1043 590 1039C592 1035 594 1030 594 1028M577 1084C576 1087 572 1094 569 1099C566 1103 563 1108 559 1112C556 1116 549 1121 547 1122M561 1077C559 1078 551 1079 546 1081C541 1082 536 1084 531 1086C526 1088 519 1092 516 1093M547 1096C545 1096 540 1096 537 1095C533 1095 530 1094 527 1093C523 1092 518 1089 516 1088M583 1110C583 1113 582 1121 581 1126C580 1131 578 1137 576 1142C574 1147 570 1154 569 1157M568 1077C566 1078 560 1078 556 1079C552 1080 548 1081 544 1082C540 1083 534 1084 532 1085M578 1081C578 1082 577 1086 576 1089C576 1092 575 1094 575 1097C574 1100 574 1104 574 1105M586 1076C587 1076 590 1076 592 1076C594 1076 596 1076 598 1076C600 1076 603 1076 604 1076M560 1097C558 1099 553 1104 550 1108C547 1112 544 1115 541 1119C538 1123 534 1128 532 1130M578 1054C578 1051 578 1045 578 1040C579 1036 579 1032 580 1027C581 1023 583 1017 584 1014M604 1076C606 1076 610 1075 612 1074C615 1073 618 1072 620 1070C623 1069 626 1066 628 1066M592 1063C593 1062 595 1060 596 1058C598 1057 600 1055 601 1054C603 1052 605 1050 606 1049M574 1074C573 1073 569 1071 567 1068C565 1065 563 1061 562 1057C561 1053 562 1046 562 1044M573 1118C573 1121 571 1129 570 1134C569 1140 568 1145 567 1151C565 1156 564 1164 563 1166M584 1073C586 1072 589 1070 591 1069C594 1068 596 1067 599 1066C601 1065 605 1064 606 1064M570 1075C568 1075 563 1074 559 1072C555 1071 551 1069 548 1067C544 1065 540 1060 538 1059M576 1072C575 1072 572 1070 571 1069C569 1068 567 1067 566 1067C564 1066 561 1066 560 1065M587 1077C589 1077 595 1078 599 1079C603 1080 607 1082 611 1083C615 1085 621 1088 623 1089M609 1096C610 1097 614 1099 617 1101C620 1103 623 1104 625 1106C628 1108 632 1110 634 1111M561 1058C559 1057 555 1054 552 1052C549 1051 545 1049 542 1048C539 1047 534 1046 532 1045M581 1091C580 1094 580 1102 580 1108C579 1114 578 1120 577 1126C576 1131 573 1140 573 1143M558 1098C556 1098 550 1098 546 1097C543 1096 538 1093 535 1090C531 1088 526 1081 524 1079M589 1069C590 1068 594 1066 596 1065C598 1063 601 1062 603 1060C605 1059 609 1057 610 1056M578 1093C578 1096 578 1105 579 1111C580 1117 582 1123 585 1128C587 1134 593 1142 595 1144M612 1075C614 1076 622 1079 627 1081C631 1084 636 1087 640 1091C645 1095 650 1103 652 1105M586 1109C588 1112 592 1119 596 1123C600 1128 605 1131 610 1134C615 1137 624 1140 627 1141M583 1090C584 1091 585 1094 586 1097C587 1099 588 1101 589 1103C591 1105 593 1109 593 1110M555 1075C554 1076 551 1077 549 1078C547 1079 545 1081 544 1082C542 1084 540 1086 539 1087M590 1086C591 1087 594 1088 597 1089C600 1089 602 1090 605 1089C608 1089 612 1087 613 1087M574 1083C572 1085 567 1089 564 1092C560 1095 556 1097 552 1099C548 1101 542 1103 540 1104M587 1047C587 1045 588 1040 589 1036C589 1033 589 1029 589 1026C589 1022 589 1016 589 1015M570 1110C567 1112 560 1118 554 1119C547 1120 540 1121 533 1119C526 1117 514 1109 511 1108M597 1053C598 1051 602 1045 604 1041C607 1037 609 1032 611 1028C614 1024 617 1017 618 1015M581 1089C581 1092 581 1101 580 1107C580 1113 580 1119 579 1125C578 1131 577 1140 576 1143M606 1054C608 1053 614 1049 618 1046C623 1044 627 1041 632 1039C636 1037 643 1034 645 1033M581 1065C581 1063 582 1055 584 1051C585 1046 586 1041 588 1037C590 1032 593 1026 594 1024M613 1068C614 1067 617 1065 620 1064C622 1063 624 1062 626 1060C628 1059 631 1056 632 1056M582 1070C583 1069 586 1063 588 1059C591 1055 593 1052 595 1048C598 1045 602 1040 603 1038M555 1049C554 1047 551 1039 550 1033C550 1027 549 1021 550 1015C550 1009 553 999 554 996M558 1067C557 1067 555 1065 554 1065C552 1064 550 1063 549 1062C547 1061 545 1060 544 1059M574 1085C573 1086 571 1090 569 1093C568 1095 567 1098 566 1101C565 1103 564 1108 563 1109M599 1071C601 1070 607 1068 611 1066C615 1065 619 1063 623 1061C627 1059 632 1056 634 1055M568 1049C568 1048 570 1044 571 1041C572 1039 574 1037 576 1034C579 1032 583 1030 584 1029M585 1086C587 1087 591 1092 594 1094C597 1096 601 1098 605 1099C609 1100 615 1100 617 1100M580 1060C581 1057 581 1048 581 1042C581 1035 581 1029 581 1023C581 1017 581 1008 582 1005M591 1057C592 1056 594 1053 595 1052C596 1050 598 1048 599 1047C601 1045 603 1043 603 1042M568 1060C567 1058 563 1055 560 1052C557 1050 554 1048 551 1047C547 1045 542 1043 541 1043M589 1097C589 1098 591 1102 593 1105C594 1107 596 1110 598 1112C599 1115 602 1118 603 1119M596 1114C597 1117 600 1125 602 1130C604 1135 606 1141 608 1146C610 1151 613 1159 614 1162M583 1049C583 1047 582 1041 581 1037C580 1033 579 1029 577 1025C575 1021 572 1015 571 1014M585 1065C587 1063 591 1055 594 1050C597 1046 601 1041 604 1037C608 1032 614 1026 616 1024M600 1077C602 1077 606 1078 609 1079C612 1079 614 1080 617 1081C620 1082 624 1084 625 1084M560 1079C558 1079 550 1080 545 1080C539 1080 534 1080 529 1079C524 1079 516 1078 513 1077M572 1089C571 1091 568 1098 567 1103C566 1107 565 1112 565 1117C564 1122 564 1130 564 1133M557 1095C556 1096 554 1097 552 1098C551 1098 549 1099 547 1100C546 1100 543 1101 542 1102M578 1056C578 1055 579 1050 579 1047C580 1044 581 1041 582 1038C583 1035 585 1031 585 1029M571 1111C571 1114 571 1121 571 1125C571 1130 572 1135 573 1140C574 1144 576 1151 577 1154M589 1049C589 1048 591 1045 592 1043C593 1041 594 1039 596 1036C597 1034 599 1031 600 1030M544 1079C543 1080 538 1083 536 1086C534 1089 531 1093 530 1097C528 1100 526 1107 525 1109M598 1073C600 1071 607 1067 611 1063C615 1058 618 1053 621 1047C623 1041 624 1030 625 1026M572 1083C570 1085 564 1090 559 1093C555 1096 550 1099 545 1101C541 1103 533 1106 531 1107M581 1084C581 1086 582 1092 581 1096C581 1099 579 1103 578 1107C577 1111 573 1116 572 1117M551 1079C550 1079 546 1081 543 1082C540 1083 537 1084 535 1085C532 1086 528 1088 527 1089M574 1084C572 1086 567 1092 563 1096C558 1099 554 1102 550 1105C545 1107 537 1110 535 1111M579 1058C579 1056 579 1048 579 1043C579 1038 580 1032 580 1027C581 1022 582 1014 582 1012M600 1102C600 1105 603 1114 604 1121C605 1127 604 1135 603 1142C602 1149 598 1160 597 1163M571 1062C571 1061 570 1057 570 1054C570 1051 570 1048 571 1044C571 1041 574 1037 574 1035M585 1065C585 1064 587 1061 589 1059C590 1057 591 1055 593 1053C595 1052 597 1049 598 1049M568 1063C567 1060 562 1053 559 1047C556 1042 554 1036 552 1030C549 1024 547 1015 546 1012M601 1062C603 1061 610 1059 615 1059C620 1058 625 1058 630 1059C635 1060 642 1063 645 1063M603 1082C604 1082 608 1082 610 1081C613 1081 615 1080 618 1080C620 1079 624 1077 625 1077M583 1109C583 1111 583 1116 583 1120C583 1123 582 1127 582 1130C582 1133 581 1139 581 1140M565 1040C565 1037 565 1027 566 1021C568 1014 570 1008 573 1001C576 995 583 987 585 984M576 1065C575 1064 573 1062 571 1061C568 1060 566 1059 563 1059C560 1059 556 1060 555 1061M604 1057C606 1056 611 1053 614 1051C617 1049 620 1047 624 1044C627 1042 632 1039 633 1038M577 1049C576 1048 574 1043 572 1040C570 1036 568 1033 566 1031C563 1028 559 1025 557 1023M556 1105C555 1108 551 1114 548 1119C546 1124 544 1129 542 1134C540 1139 537 1147 536 1150M599 1039C600 1036 604 1028 607 1022C610 1017 613 1011 615 1006C618 1000 622 992 623 989M559 1099C557 1101 552 1108 548 1113C544 1117 540 1122 537 1126C533 1131 528 1138 526 1140M585 1077C587 1077 592 1078 596 1078C599 1078 603 1078 606 1078C610 1077 615 1076 617 1076M593 1063C594 1062 598 1058 601 1055C603 1052 606 1049 608 1046C611 1043 615 1038 616 1036M583 1079C585 1080 589 1083 593 1086C596 1088 599 1090 602 1093C605 1095 610 1098 611 1099M587 1067C588 1065 593 1059 597 1055C600 1050 604 1046 608 1043C611 1039 617 1033 619 1031M553 1068C552 1067 549 1065 547 1064C545 1062 543 1061 541 1059C540 1057 537 1054 536 1053M616 1065C616 1065 619 1064 620 1063C622 1062 624 1061 625 1061C627 1060 629 1059 630 1058M564 1042C565 1040 567 1034 570 1030C573 1026 577 1023 581 1020C585 1017 593 1015 595 1014M585 1062C585 1061 585 1058 585 1055C584 1053 584 1050 583 1048C582 1046 580 1042 580 1041M566 1056C565 1054 559 1049 555 1046C551 1043 547 1041 542 1039C538 1037 530 1036 528 1035M616 1077C618 1075 626 1072 631 1069C635 1065 640 1061 644 1056C648 1051 653 1042 655 1039M582 1057C582 1055 583 1051 584 1048C584 1045 585 1042 586 1039C587 1036 588 1032 589 1030M562 1087C560 1088 554 1091 550 1093C546 1095 541 1096 537 1097C533 1099 526 1100 524 1100M571 1049C571 1047 569 1041 568 1037C567 1033 567 1028 566 1024C565 1020 564 1014 564 1012M570 1085C567 1086 560 1090 555 1091C549 1092 543 1092 538 1091C532 1090 524 1085 521 1084M578 1065C578 1064 577 1061 577 1059C576 1057 575 1055 575 1053C574 1051 573 1048 573 1047M592 1071C594 1070 600 1067 604 1065C607 1063 611 1061 615 1059C618 1056 624 1053 626 1052M558 1096C557 1097 554 1102 553 1105C551 1108 550 1112 549 1116C548 1119 547 1125 546 1127M587 1071C589 1070 595 1066 598 1063C602 1060 606 1058 610 1055C613 1052 619 1048 621 1047M587 1092C588 1094 591 1099 593 1103C595 1106 597 1110 599 1113C601 1116 604 1121 605 1123M580 1071C580 1070 580 1067 579 1065C578 1063 576 1061 574 1059C573 1058 569 1057 568 1056M557 1066C555 1067 550 1069 546 1071C543 1074 540 1077 537 1081C535 1085 532 1093 531 1096M557 1066C556 1066 553 1064 550 1062C548 1061 546 1059 543 1058C541 1056 538 1054 536 1053M582 1086C583 1088 586 1094 589 1098C592 1101 595 1104 600 1106C604 1108 611 1109 614 1110M576 1092C576 1093 574 1096 572 1098C571 1100 569 1102 567 1104C565 1106 562 1108 561 1109M581 1067C581 1064 582 1058 583 1054C584 1050 585 1046 586 1041C588 1037 590 1031 590 1029M597 1092C599 1092 602 1095 605 1096C608 1097 610 1098 613 1098C616 1099 620 1099 622 1099M587 1075C588 1075 593 1074 596 1072C599 1071 601 1069 604 1067C607 1065 610 1062 611 1060M576 1079C575 1081 569 1088 567 1093C566 1099 565 1106 566 1113C567 1119 572 1129 573 1133M550 1097C548 1099 542 1106 539 1111C535 1115 532 1121 528 1126C525 1132 522 1141 520 1144M555 1094C554 1097 549 1104 547 1110C546 1116 545 1123 545 1130C545 1137 547 1149 547 1152M587 1074C589 1073 595 1070 598 1066C601 1062 604 1057 605 1051C606 1046 606 1036 606 1033M582 1086C582 1089 584 1098 586 1104C587 1110 588 1116 589 1122C591 1127 593 1136 593 1139M588 1070C590 1070 594 1068 597 1068C600 1068 604 1068 607 1069C610 1070 615 1073 616 1074M587 1075C590 1075 597 1074 602 1073C607 1072 612 1071 617 1069C622 1068 629 1065 631 1064M608 1066C609 1065 613 1064 616 1063C618 1062 621 1061 623 1059C626 1058 630 1056 631 1056M589 1093C590 1094 591 1097 591 1099C592 1101 593 1103 593 1105C594 1107 594 1110 594 1111M569 1068C569 1067 567 1064 566 1062C566 1060 565 1057 565 1055C565 1053 565 1049 566 1047" stroke="#86908b" stroke-opacity="0.5" stroke-width="0.55" fill="none" stroke-dasharray="2 1"/><path d="M399.3 1109.5H617V1093L654.6 1113.1L617 1135V1116.5H399.3Z" fill="#21c67b"/><circle cx="407.1" cy="960.9" r="7.6" fill="url(#sph)"/><circle cx="440.9" cy="963.9" r="7.1" fill="url(#sph)"/><circle cx="423.9" cy="965.0" r="7.5" fill="url(#sph)"/><circle cx="411.8" cy="976.5" r="7.2" fill="url(#sph)"/><circle cx="454.0" cy="977.4" r="7.2" fill="url(#sph)"/><circle cx="429.3" cy="978.9" r="7.2" fill="url(#sph)"/><circle cx="429.5" cy="984.5" r="6.4" fill="url(#sph)"/><circle cx="439.3" cy="987.7" r="6.6" fill="url(#sph)"/><circle cx="402.7" cy="989.5" r="6.3" fill="url(#sph)"/><circle cx="415.1" cy="991.2" r="7.5" fill="url(#sph)"/><circle cx="433.0" cy="994.3" r="7.6" fill="url(#sph)"/><circle cx="453.6" cy="1000.1" r="7.0" fill="url(#sph)"/><circle cx="418.4" cy="1006.2" r="6.4" fill="url(#sph)"/><circle cx="434.5" cy="1007.1" r="6.4" fill="url(#sph)"/><circle cx="401.5" cy="1013.2" r="6.8" fill="url(#sph)"/><circle cx="409.4" cy="1013.5" r="6.7" fill="url(#sph)"/><circle cx="507.1" cy="958.8" r="7.0" fill="url(#sph)"/><circle cx="538.4" cy="964.7" r="6.6" fill="url(#sph)"/><circle cx="525.3" cy="968.5" r="6.4" fill="url(#sph)"/><circle cx="529.3" cy="978.9" r="7.3" fill="url(#sph)"/><circle cx="549.1" cy="978.9" r="7.4" fill="url(#sph)"/><circle cx="510.1" cy="979.7" r="7.0" fill="url(#sph)"/><circle cx="543.0" cy="989.7" r="6.7" fill="url(#sph)"/><circle cx="532.9" cy="990.8" r="7.1" fill="url(#sph)"/><circle cx="507.4" cy="991.3" r="7.6" fill="url(#sph)"/><circle cx="513.1" cy="994.2" r="7.0" fill="url(#sph)"/><circle cx="554.7" cy="998.5" r="7.3" fill="url(#sph)"/><circle cx="539.1" cy="999.6" r="7.4" fill="url(#sph)"/><circle cx="524.4" cy="1004.2" r="7.3" fill="url(#sph)"/><circle cx="500.1" cy="1014.2" r="6.9" fill="url(#sph)"/><circle cx="540.7" cy="1016.8" r="6.4" fill="url(#sph)"/><circle cx="515.5" cy="1017.0" r="7.2" fill="url(#sph)"/><circle cx="436.7" cy="1038.1" r="6.6" fill="url(#sph)"/><circle cx="471.7" cy="1046.2" r="6.8" fill="url(#sph)"/><circle cx="454.8" cy="1047.0" r="6.7" fill="url(#sph)"/><circle cx="482.2" cy="1053.2" r="6.6" fill="url(#sph)"/><circle cx="441.4" cy="1056.1" r="7.0" fill="url(#sph)"/><circle cx="460.0" cy="1061.2" r="6.9" fill="url(#sph)"/><circle cx="476.9" cy="1066.3" r="6.8" fill="url(#sph)"/><circle cx="446.1" cy="1068.2" r="7.2" fill="url(#sph)"/><circle cx="437.1" cy="1069.0" r="7.3" fill="url(#sph)"/><circle cx="464.5" cy="1070.0" r="7.1" fill="url(#sph)"/><circle cx="485.0" cy="1079.8" r="6.7" fill="url(#sph)"/><circle cx="453.1" cy="1083.3" r="7.5" fill="url(#sph)"/><circle cx="467.8" cy="1084.8" r="6.3" fill="url(#sph)"/><circle cx="471.5" cy="1087.0" r="7.3" fill="url(#sph)"/><circle cx="446.7" cy="1092.1" r="6.8" fill="url(#sph)"/><circle cx="432.8" cy="1092.8" r="6.8" fill="url(#sph)"/><circle cx="557.5" cy="1039.8" r="6.5" fill="url(#sph)"/><circle cx="589.6" cy="1042.7" r="6.6" fill="url(#sph)"/><circle cx="575.8" cy="1043.9" r="6.8" fill="url(#sph)"/><circle cx="604.8" cy="1051.2" r="6.6" fill="url(#sph)"/><circle cx="565.3" cy="1055.4" r="6.7" fill="url(#sph)"/><circle cx="582.0" cy="1059.2" r="6.9" fill="url(#sph)"/><circle cx="557.8" cy="1061.9" r="7.2" fill="url(#sph)"/><circle cx="583.8" cy="1064.0" r="6.3" fill="url(#sph)"/><circle cx="597.8" cy="1068.9" r="7.6" fill="url(#sph)"/><circle cx="565.9" cy="1072.9" r="6.8" fill="url(#sph)"/><circle cx="605.1" cy="1078.4" r="7.5" fill="url(#sph)"/><circle cx="589.7" cy="1079.6" r="6.2" fill="url(#sph)"/><circle cx="577.0" cy="1088.0" r="6.3" fill="url(#sph)"/><circle cx="593.7" cy="1091.8" r="6.3" fill="url(#sph)"/><circle cx="552.2" cy="1092.4" r="7.5" fill="url(#sph)"/><circle cx="565.5" cy="1095.7" r="6.8" fill="url(#sph)"/><circle cx="427.6" cy="1030.4" r="6.5" fill="url(#sph)"/><circle cx="530.6" cy="1040.0" r="6.5" fill="url(#sph)"/><circle cx="461.4" cy="1115.7" r="6.0" fill="url(#sph)"/><circle cx="583.8" cy="1115.7" r="6.5" fill="url(#sph)"/><path d="M435 980C436 979 438 979 440 979C442 978 444 979 445 979C447 979 450 981 451 981M419 1007C419 1009 418 1014 417 1017C417 1020 416 1023 417 1027C417 1030 417 1035 418 1037M436 990C437 990 440 990 442 990C444 991 446 992 448 993C450 995 453 998 454 999M422 1016C423 1017 424 1021 425 1024C427 1026 429 1028 431 1030C433 1032 437 1034 439 1035M427 1001C427 1003 428 1008 428 1012C427 1016 426 1019 425 1023C423 1026 419 1031 418 1032M408 1006C407 1007 403 1010 400 1013C398 1015 395 1017 393 1019C390 1022 387 1025 385 1027M425 996C427 996 430 996 433 996C435 996 438 996 440 997C443 997 446 997 448 997M425 1010C425 1012 425 1016 426 1019C426 1021 427 1024 428 1027C428 1030 430 1034 430 1035M420 969C419 969 415 967 413 967C410 966 408 966 405 966C402 967 398 968 396 969M417 989C416 988 414 986 413 985C411 983 410 982 408 981C407 980 405 978 404 977M418 971C417 970 414 965 411 962C409 959 406 957 404 955C401 952 396 949 394 948M412 1017C412 1018 411 1023 410 1026C410 1029 410 1033 410 1036C410 1040 410 1045 411 1047M431 994C432 994 436 993 439 993C442 993 444 994 447 995C450 996 453 998 455 999M439 986C441 985 445 983 448 981C452 980 455 980 458 979C462 979 467 979 469 978M430 997C431 998 434 999 436 1000C439 1001 441 1003 443 1004C445 1006 448 1009 449 1009M429 999C430 1000 433 1002 435 1003C437 1005 439 1007 441 1008C443 1010 446 1013 447 1014M426 983C426 981 426 976 427 972C427 969 427 965 427 962C427 958 427 953 427 951M416 996C415 996 413 996 411 996C410 995 408 995 407 994C405 994 403 992 402 992M419 1004C419 1005 417 1006 416 1007C414 1008 413 1009 411 1010C410 1010 407 1011 407 1011M442 1012C442 1014 444 1018 444 1021C445 1024 445 1027 445 1030C445 1033 444 1038 444 1040M422 1002C422 1003 422 1006 423 1008C423 1010 424 1012 426 1013C427 1015 430 1017 431 1017M427 1000C427 1001 428 1006 429 1009C430 1012 430 1015 431 1018C431 1021 431 1026 431 1027M419 984C419 983 417 980 415 978C414 976 412 974 410 973C408 971 405 969 404 968M414 1002C413 1002 411 1003 409 1003C407 1004 405 1004 403 1004C401 1004 398 1003 397 1003M425 1002C425 1003 425 1007 425 1009C424 1011 424 1013 423 1015C423 1017 421 1020 421 1021M433 983C434 982 435 979 436 977C437 975 437 973 438 971C438 968 439 965 440 964M428 990C428 988 430 984 430 981C431 978 431 975 431 972C431 969 430 964 430 963M422 999C421 999 418 1001 415 1002C413 1002 410 1003 407 1002C405 1001 401 999 399 999M416 1008C415 1009 412 1014 410 1017C408 1020 407 1023 405 1026C404 1030 402 1035 401 1037M437 1003C438 1004 443 1007 445 1009C448 1011 450 1014 453 1016C455 1019 458 1023 460 1024M425 995C424 994 422 991 421 988C420 986 420 983 420 980C419 978 420 973 420 972M420 987C419 986 417 982 416 980C414 977 413 975 412 973C410 970 408 967 407 965M429 998C430 999 432 1000 434 1000C436 1001 437 1001 439 1001C441 1002 444 1001 444 1001M429 1011C430 1012 432 1015 433 1017C434 1019 436 1021 437 1022C439 1024 442 1026 443 1027M412 996C410 997 406 999 404 1001C402 1003 399 1006 398 1009C396 1013 395 1019 394 1021M424 995C423 995 421 993 419 991C417 990 415 988 414 987C412 985 410 983 409 982M424 995C423 994 420 992 418 990C416 989 414 987 412 986C410 984 407 982 407 981M426 994C427 993 430 990 432 988C435 987 437 985 440 985C443 984 447 984 448 984M423 1013C422 1014 422 1017 422 1019C421 1021 421 1023 420 1025C420 1027 419 1030 419 1031M425 996C425 998 424 1002 424 1005C424 1008 423 1011 422 1014C421 1017 420 1021 419 1023M426 998C426 1000 428 1005 429 1008C430 1011 432 1014 433 1016C435 1019 438 1023 438 1025M411 999C410 1001 406 1004 404 1007C402 1010 400 1014 399 1018C398 1022 398 1029 398 1031M417 995C416 996 413 996 410 997C408 998 406 999 404 1001C402 1003 399 1006 399 1007M414 990C413 989 409 986 407 984C404 981 402 978 400 975C398 972 396 967 395 966M443 1005C445 1006 449 1009 451 1011C454 1013 456 1016 459 1019C461 1021 464 1026 465 1027M425 996C426 996 430 997 432 997C435 998 437 999 439 999C442 1000 445 1001 446 1002M410 989C409 989 407 990 405 992C404 993 403 995 402 996C400 998 399 1002 399 1003M425 1012C424 1013 423 1016 422 1018C421 1020 419 1022 418 1024C416 1025 413 1028 412 1028M425 996C424 997 422 999 420 1000C418 1002 417 1003 415 1005C413 1006 411 1008 410 1009M422 1000C422 1001 421 1003 420 1005C419 1007 419 1010 418 1012C418 1014 418 1017 418 1019M430 995C431 995 436 994 439 992C441 990 444 988 446 985C448 982 451 977 452 976M425 996C426 997 430 1001 432 1004C434 1006 435 1010 437 1013C438 1016 439 1022 439 1024M438 1008C439 1009 442 1012 443 1014C445 1017 447 1019 449 1022C450 1024 452 1028 453 1029M417 996C416 996 414 997 412 997C410 998 408 999 407 1000C405 1001 403 1003 402 1003M409 976C409 975 408 974 407 973C406 972 405 971 404 970C403 969 401 967 401 967M424 998C423 999 420 1002 418 1004C416 1005 414 1006 412 1007C409 1008 405 1009 404 1009M422 1017C422 1018 421 1024 421 1027C421 1031 421 1035 421 1038C422 1042 422 1047 422 1049M441 986C442 984 445 981 446 978C448 976 449 973 450 970C451 967 452 962 453 960M425 999C424 1001 423 1006 421 1009C420 1012 418 1015 416 1018C413 1020 409 1024 408 1025M436 1004C437 1004 439 1006 441 1006C442 1007 443 1008 445 1009C446 1010 449 1011 449 1011M506 987C504 987 500 987 497 987C494 988 491 989 488 990C485 992 480 995 479 996M517 1011C516 1012 512 1015 509 1017C506 1018 503 1020 500 1021C496 1022 491 1022 490 1023M530 1007C530 1007 531 1010 531 1012C532 1014 532 1016 532 1018C532 1020 533 1023 533 1023M524 1005C523 1006 521 1009 520 1011C518 1013 517 1015 515 1017C514 1019 512 1022 511 1023M531 998C532 998 536 997 538 997C540 997 543 997 545 998C548 998 551 1000 552 1001M535 1012C535 1012 537 1014 538 1015C539 1016 541 1017 542 1018C543 1019 546 1021 546 1021M518 1020C517 1021 516 1023 515 1024C513 1026 512 1027 511 1028C510 1030 508 1031 507 1032M520 994C518 993 514 991 511 990C508 989 505 989 501 988C498 988 493 988 491 988M519 1017C518 1017 515 1020 513 1021C511 1022 508 1023 505 1024C503 1024 498 1024 497 1024M529 1002C530 1004 532 1008 534 1010C535 1013 536 1016 538 1019C539 1021 541 1026 542 1027M531 994C531 993 532 990 532 988C533 986 533 984 533 982C532 980 532 977 531 976M525 1001C525 1002 523 1004 522 1006C521 1007 520 1008 519 1010C518 1011 516 1013 516 1014M526 1015C526 1017 528 1022 530 1025C533 1028 536 1031 539 1033C543 1035 549 1036 551 1036M527 971C527 970 528 967 528 965C528 963 528 961 528 959C528 957 528 954 528 953M522 997C522 997 520 996 519 995C517 994 516 992 515 991C515 990 513 987 513 987M540 1016C540 1017 542 1020 543 1023C545 1025 546 1028 547 1030C548 1032 549 1036 550 1038M538 987C538 986 541 984 542 982C543 980 544 978 546 976C547 974 549 971 549 970M504 1004C503 1005 500 1007 498 1009C496 1011 494 1013 493 1016C491 1018 489 1023 488 1024M516 989C515 989 512 987 509 986C506 985 504 985 501 985C498 985 494 986 492 986M527 999C528 1001 531 1005 532 1007C534 1010 536 1013 538 1016C540 1018 542 1022 543 1024M526 1016C526 1017 526 1021 525 1023C525 1026 524 1028 524 1031C523 1033 522 1037 521 1038M528 1002C528 1003 529 1005 530 1007C531 1008 532 1009 533 1010C534 1011 537 1012 538 1013M524 1012C523 1013 522 1017 520 1020C519 1022 517 1025 515 1027C513 1029 509 1032 508 1033M527 999C526 997 525 994 524 991C523 989 522 986 521 984C520 981 520 977 519 976M540 992C541 991 545 987 548 984C550 981 552 978 553 974C555 970 556 964 556 961M524 1011C524 1013 523 1017 523 1019C523 1022 524 1025 524 1027C525 1030 526 1034 527 1035M526 999C525 1000 521 1001 518 1001C515 1001 512 1000 510 999C507 998 503 995 502 994M531 995C532 994 534 992 535 991C536 990 538 988 539 987C541 986 543 984 543 984M522 1015C522 1016 520 1019 519 1020C518 1022 516 1023 515 1024C513 1026 511 1027 510 1028M511 988C511 988 509 987 507 987C506 987 504 986 503 986C502 986 499 986 499 986M527 999C528 1000 531 1001 533 1002C535 1002 537 1003 539 1003C541 1003 543 1003 544 1004M527 999C528 998 531 995 533 993C535 991 537 989 539 988C542 987 545 985 546 984M516 1006C515 1007 513 1008 512 1009C510 1010 509 1011 507 1012C506 1013 504 1014 503 1014M548 1008C549 1008 550 1009 552 1009C553 1010 554 1011 555 1012C556 1012 557 1013 558 1014M525 986C525 985 525 981 525 978C525 976 525 973 526 970C526 968 527 964 527 963M538 1018C538 1019 538 1022 539 1023C539 1025 539 1027 539 1028C539 1030 539 1033 539 1034M527 990C527 989 527 983 526 979C526 976 525 972 524 968C524 965 522 959 521 958M514 996C513 996 509 996 507 995C505 995 503 995 500 995C498 995 495 994 494 994M540 1003C541 1004 545 1006 548 1007C551 1009 553 1010 556 1012C558 1013 562 1016 563 1017M516 995C516 995 513 994 511 992C509 991 507 990 506 989C504 988 501 986 501 985M515 985C513 984 510 980 507 978C504 976 502 974 499 973C496 971 492 969 490 968M544 999C544 999 547 999 549 1000C550 1000 552 1000 554 1001C556 1001 558 1002 559 1002M533 1002C534 1003 535 1004 536 1006C537 1007 538 1008 539 1010C540 1011 540 1014 541 1014M521 983C521 981 521 978 521 976C522 973 522 971 523 968C523 966 525 962 526 961M526 1025C525 1026 524 1028 523 1029C522 1030 520 1031 519 1032C518 1033 515 1034 515 1035M523 997C522 996 518 993 516 990C514 988 512 985 510 982C509 978 507 973 507 971M526 1000C525 1001 524 1003 523 1005C522 1007 521 1009 521 1011C520 1013 520 1016 519 1017M527 1000C527 1002 526 1006 526 1008C526 1011 526 1014 526 1017C526 1020 527 1024 527 1025M537 983C538 981 540 978 542 976C544 973 546 971 548 969C550 967 553 964 554 963M530 990C530 989 532 985 532 982C533 980 534 977 534 975C535 972 536 968 536 966M529 1005C528 1005 528 1008 528 1010C527 1011 526 1013 525 1014C524 1015 521 1017 520 1017M530 1018C530 1019 532 1022 533 1023C535 1024 536 1026 538 1027C540 1028 543 1029 544 1030M523 1002C521 1002 517 1003 514 1002C512 1001 509 999 506 996C504 994 501 988 501 986M523 997C522 997 518 996 516 996C514 997 512 997 510 998C507 999 504 1001 503 1002M523 1013C522 1014 520 1018 519 1019C518 1021 516 1023 515 1025C513 1027 510 1029 510 1030M548 1002C549 1003 551 1004 553 1006C555 1007 556 1009 558 1010C559 1012 561 1015 562 1016M509 1012C509 1013 508 1015 507 1017C506 1019 506 1022 506 1024C506 1026 506 1030 506 1031M508 992C508 991 507 988 506 986C506 984 506 982 506 980C506 977 507 974 507 973M512 1002C512 1002 510 1003 509 1004C507 1006 506 1007 505 1008C504 1010 503 1012 502 1013M521 979C521 978 520 976 520 974C520 972 520 970 520 968C520 966 520 963 520 962M455 1087C454 1087 452 1090 450 1092C449 1093 446 1094 444 1094C442 1095 438 1095 437 1095M482 1078C482 1079 484 1080 485 1081C486 1082 487 1083 488 1084C489 1086 490 1088 491 1088M460 1084C461 1085 463 1090 465 1093C467 1095 470 1098 473 1100C476 1101 481 1103 483 1104M467 1072C467 1071 469 1070 470 1070C471 1069 472 1069 473 1068C474 1068 476 1067 476 1067M460 1074C461 1073 465 1070 467 1068C470 1066 472 1064 475 1062C477 1060 481 1057 482 1057M457 1062C457 1060 457 1055 457 1051C457 1047 457 1044 458 1040C458 1037 460 1031 460 1029M456 1077C456 1077 453 1078 451 1080C450 1081 448 1082 446 1083C445 1084 442 1086 442 1087M470 1076C471 1077 476 1078 479 1079C482 1080 485 1082 488 1084C490 1086 494 1089 496 1091M470 1071C470 1070 472 1068 472 1066C473 1063 473 1061 473 1058C473 1056 473 1052 472 1050M447 1078C446 1078 443 1079 441 1079C440 1080 438 1080 436 1081C434 1081 431 1082 430 1082M462 1080C462 1081 465 1083 466 1083C468 1084 470 1085 472 1085C473 1085 477 1085 477 1085M465 1064C465 1063 467 1060 469 1057C470 1055 471 1052 472 1050C473 1047 475 1043 475 1042M451 1076C450 1076 447 1076 444 1077C442 1077 440 1077 437 1077C435 1077 432 1077 430 1077M456 1082C456 1083 455 1086 454 1088C453 1090 451 1092 450 1094C449 1095 446 1097 446 1098M471 1101C471 1101 473 1103 474 1105C475 1106 477 1107 478 1109C479 1110 481 1112 482 1112M465 1084C466 1085 467 1088 468 1090C469 1091 470 1094 471 1096C471 1098 472 1101 472 1103M463 1072C464 1071 468 1068 471 1067C473 1066 476 1065 479 1064C482 1064 487 1064 489 1064M455 1078C454 1079 450 1081 447 1082C443 1082 440 1082 437 1082C434 1081 429 1079 427 1078M458 1075C457 1074 456 1069 456 1066C455 1063 455 1060 455 1057C455 1054 455 1050 455 1048M442 1082C441 1082 439 1083 438 1084C437 1085 435 1086 434 1087C433 1088 431 1090 431 1091M460 1072C461 1071 463 1068 464 1066C465 1064 467 1062 468 1061C470 1059 473 1057 474 1056M466 1087C466 1088 468 1091 469 1093C470 1095 472 1097 473 1099C474 1101 475 1105 476 1106M469 1060C469 1059 469 1054 468 1052C467 1049 465 1046 463 1043C461 1041 457 1038 456 1037M448 1055C448 1053 446 1049 445 1047C443 1044 442 1041 441 1039C440 1036 438 1032 437 1031M473 1095C473 1095 474 1098 475 1100C476 1102 477 1104 477 1106C478 1108 479 1111 479 1112M462 1072C463 1071 467 1068 470 1067C473 1066 477 1065 480 1065C483 1065 489 1066 490 1066M469 1084C470 1084 474 1087 477 1088C480 1089 482 1090 485 1091C488 1091 493 1092 494 1092M463 1066C463 1065 464 1059 462 1055C461 1051 458 1047 454 1045C450 1042 443 1040 440 1040M457 1079C457 1081 456 1086 455 1088C453 1091 452 1094 450 1097C449 1099 446 1103 445 1104M455 1070C454 1069 452 1065 451 1062C450 1059 448 1056 448 1053C447 1050 446 1046 445 1044M465 1080C467 1081 471 1083 474 1083C477 1083 480 1083 484 1082C487 1082 492 1080 493 1079M462 1071C462 1070 465 1067 465 1064C466 1061 467 1058 467 1056C467 1053 466 1048 466 1046M445 1083C444 1083 442 1085 441 1086C439 1087 438 1089 437 1090C435 1091 433 1093 433 1094M457 1078C456 1078 455 1080 454 1081C454 1083 453 1084 452 1085C452 1086 451 1089 451 1089M483 1077C484 1078 489 1081 491 1085C493 1088 496 1093 497 1097C499 1102 499 1110 500 1113M458 1076C458 1075 459 1073 459 1071C459 1070 459 1068 459 1067C458 1065 458 1063 458 1062M459 1078C459 1079 461 1084 462 1088C463 1091 464 1095 464 1098C465 1102 465 1107 466 1109M459 1069C459 1067 460 1062 461 1059C462 1055 464 1052 465 1049C467 1046 470 1042 471 1041M457 1079C456 1080 455 1082 454 1083C453 1085 452 1086 451 1087C450 1088 448 1089 448 1090M459 1074C459 1073 460 1070 460 1067C461 1065 460 1062 459 1060C459 1057 456 1054 456 1053M461 1073C462 1072 465 1069 466 1066C467 1064 469 1061 470 1058C471 1055 471 1051 472 1049M446 1057C445 1056 443 1051 442 1048C441 1044 440 1041 440 1037C439 1034 439 1028 439 1027M456 1084C456 1084 455 1087 455 1088C455 1090 454 1091 454 1093C453 1094 453 1097 452 1097M472 1091C473 1092 473 1094 474 1095C474 1097 475 1098 475 1100C476 1101 476 1104 476 1104M463 1055C463 1053 465 1047 466 1044C467 1040 468 1037 469 1033C470 1030 472 1024 473 1023M477 1082C478 1083 481 1083 483 1083C484 1083 486 1083 488 1083C490 1083 493 1083 493 1083M459 1076C460 1076 464 1077 466 1078C468 1079 470 1081 472 1082C474 1084 477 1087 478 1088M446 1070C445 1070 441 1068 439 1067C437 1066 434 1065 432 1065C430 1064 426 1062 425 1062M466 1080C467 1081 470 1083 472 1085C473 1087 475 1089 476 1092C477 1094 479 1098 479 1100M452 1080C451 1081 447 1085 445 1087C443 1089 440 1092 438 1095C436 1098 433 1102 432 1104M469 1080C470 1080 472 1082 474 1083C475 1084 477 1085 478 1086C479 1088 481 1090 482 1091M460 1076C461 1077 462 1077 463 1077C465 1077 466 1078 467 1078C468 1078 470 1079 470 1079M457 1074C456 1073 453 1069 451 1066C449 1063 447 1060 445 1058C443 1055 440 1051 439 1050M456 1096C457 1098 458 1103 460 1107C462 1110 465 1114 468 1117C471 1119 477 1122 479 1123M447 1071C446 1071 444 1069 443 1068C441 1066 440 1065 438 1064C437 1062 435 1060 434 1059M472 1086C473 1086 475 1086 477 1086C478 1087 480 1086 482 1086C484 1086 486 1085 487 1085M466 1072C467 1072 470 1071 472 1071C473 1072 476 1072 477 1073C479 1074 482 1076 483 1077M446 1068C445 1067 443 1066 441 1066C440 1065 438 1064 437 1064C435 1063 433 1062 432 1062M448 1087C447 1087 445 1089 443 1090C441 1091 439 1092 437 1093C435 1094 432 1095 431 1095M470 1062C472 1061 475 1057 478 1055C481 1053 483 1051 486 1049C489 1047 493 1044 495 1043M579 1080C579 1081 579 1084 579 1086C580 1088 580 1090 581 1092C582 1094 584 1097 584 1098M583 1083C583 1084 583 1087 582 1089C581 1092 580 1094 579 1096C577 1098 574 1100 573 1101M561 1084C560 1085 560 1088 560 1091C560 1094 560 1096 561 1099C561 1102 563 1106 564 1107M581 1076C582 1075 584 1075 585 1074C586 1074 587 1073 588 1073C590 1072 591 1071 592 1071M579 1081C578 1083 577 1087 575 1089C574 1091 572 1094 570 1096C568 1098 565 1100 564 1101M585 1090C586 1091 587 1095 589 1097C590 1099 591 1100 593 1102C594 1104 597 1107 598 1107M585 1079C586 1079 590 1081 592 1082C594 1084 596 1085 598 1086C600 1088 603 1090 604 1091M594 1053C594 1052 596 1049 596 1047C597 1046 598 1044 599 1042C600 1040 601 1037 601 1036M580 1103C580 1104 580 1107 580 1109C580 1111 580 1112 580 1114C580 1116 579 1119 579 1120M590 1081C591 1082 593 1082 594 1082C596 1081 597 1081 598 1081C599 1080 601 1079 602 1079M570 1064C570 1063 567 1059 566 1057C565 1054 564 1052 563 1049C562 1046 560 1042 560 1041M593 1063C594 1062 597 1060 599 1059C601 1058 603 1057 605 1056C607 1055 610 1054 611 1054M585 1083C585 1084 587 1087 588 1089C589 1091 589 1093 590 1095C591 1097 592 1100 592 1101M586 1073C587 1072 590 1071 592 1070C595 1069 597 1069 599 1069C602 1068 605 1068 606 1068M565 1070C564 1070 562 1071 560 1072C559 1073 557 1075 556 1076C555 1078 553 1081 553 1082M583 1082C584 1084 587 1087 589 1090C591 1092 593 1094 596 1095C598 1097 602 1099 604 1099M584 1071C585 1071 587 1069 589 1068C590 1067 592 1066 594 1065C596 1064 598 1064 599 1063M594 1056C595 1056 597 1054 598 1053C600 1051 601 1050 603 1049C604 1048 607 1046 607 1046M566 1086C565 1086 562 1086 560 1086C558 1085 556 1084 554 1083C552 1082 550 1079 549 1078M579 1071C579 1070 579 1067 580 1065C581 1063 582 1061 584 1059C585 1057 588 1055 589 1055M590 1070C591 1069 594 1067 596 1065C598 1062 599 1060 601 1057C602 1054 603 1050 604 1048M561 1092C560 1093 558 1094 556 1095C555 1096 553 1097 552 1098C550 1099 547 1100 546 1100M594 1088C594 1089 596 1092 597 1095C597 1097 598 1099 598 1102C598 1105 598 1109 598 1110M563 1072C562 1072 559 1073 557 1073C555 1074 553 1075 551 1076C550 1077 547 1079 546 1080M577 1066C576 1065 574 1062 571 1061C569 1059 566 1059 563 1058C560 1058 556 1060 554 1060M588 1072C588 1071 590 1070 591 1069C592 1068 593 1067 594 1066C595 1065 596 1064 597 1063M557 1085C555 1084 550 1081 547 1078C545 1075 542 1071 540 1066C538 1061 537 1052 536 1049M588 1063C589 1062 591 1058 593 1056C594 1053 596 1050 597 1048C599 1045 601 1041 601 1040M559 1063C558 1062 556 1061 554 1060C552 1059 550 1057 549 1056C547 1055 544 1054 543 1053M574 1067C573 1066 571 1062 569 1059C568 1056 567 1054 566 1051C565 1048 564 1043 563 1042M579 1052C579 1051 577 1047 576 1044C575 1042 574 1039 572 1037C571 1035 568 1031 567 1030M584 1052C584 1051 585 1049 585 1048C586 1047 586 1045 586 1044C587 1043 587 1041 588 1040M574 1069C574 1067 571 1063 569 1060C567 1058 565 1055 564 1052C562 1049 560 1044 559 1042M580 1069C580 1067 579 1063 579 1060C578 1057 578 1055 577 1052C576 1049 575 1045 574 1044M586 1068C587 1067 589 1064 590 1062C591 1060 593 1058 594 1056C595 1054 597 1051 598 1050M573 1088C572 1089 570 1094 568 1097C566 1100 564 1103 562 1106C560 1109 557 1114 556 1115M573 1094C572 1096 569 1100 567 1103C565 1106 562 1108 559 1110C556 1112 551 1115 550 1116M592 1057C592 1055 592 1049 592 1045C591 1041 590 1037 588 1033C585 1029 581 1023 579 1021M602 1063C602 1062 604 1061 606 1060C607 1059 608 1057 610 1056C611 1055 613 1053 614 1053M593 1085C594 1085 599 1085 602 1084C605 1082 608 1080 611 1077C614 1074 617 1067 618 1065M585 1069C585 1069 586 1067 587 1066C588 1065 589 1064 590 1063C591 1062 593 1060 594 1060M586 1077C587 1077 589 1077 591 1077C592 1077 594 1077 596 1077C597 1077 600 1076 601 1076M560 1085C559 1085 555 1085 552 1084C549 1084 547 1083 544 1082C541 1081 537 1079 536 1078M585 1051C586 1051 587 1048 589 1046C590 1045 592 1044 594 1042C595 1041 598 1040 599 1039M570 1064C569 1063 565 1060 563 1058C560 1057 558 1055 555 1054C552 1053 548 1051 546 1051M579 1079C578 1081 577 1085 575 1088C573 1090 572 1093 569 1095C567 1097 564 1100 563 1101M580 1078C580 1078 580 1080 580 1082C581 1083 582 1084 583 1085C584 1086 586 1087 586 1088M579 1082C579 1083 579 1085 580 1086C580 1088 580 1089 581 1090C581 1092 582 1094 582 1094M579 1078C578 1079 577 1081 575 1082C574 1083 573 1084 572 1086C570 1087 568 1088 567 1088M593 1056C593 1055 595 1052 596 1050C597 1048 598 1046 599 1044C601 1042 602 1039 603 1038M578 1095C578 1096 576 1100 575 1102C574 1104 573 1106 572 1108C570 1110 568 1112 567 1113M579 1057C579 1055 580 1050 582 1047C583 1043 585 1040 587 1037C589 1034 593 1030 595 1029M580 1077C579 1078 578 1082 576 1083C574 1085 572 1087 569 1087C567 1088 563 1087 561 1087M580 1078C580 1079 580 1083 580 1085C581 1087 581 1090 582 1092C582 1095 584 1098 584 1099M583 1086C584 1088 586 1093 588 1096C590 1099 592 1102 595 1104C597 1107 601 1111 603 1112M578 1066C577 1065 577 1061 576 1059C576 1057 576 1054 575 1052C575 1050 575 1046 575 1045M588 1096C588 1097 590 1100 591 1102C592 1104 594 1106 595 1108C596 1110 598 1113 599 1114M602 1074C603 1073 605 1071 607 1070C608 1068 609 1066 611 1064C612 1062 613 1059 614 1058M576 1074C575 1074 572 1072 570 1072C568 1071 566 1071 564 1070C562 1070 559 1070 558 1070M581 1073C581 1072 582 1066 582 1062C582 1058 580 1054 579 1050C577 1047 572 1042 571 1040" stroke="#8c9691" stroke-opacity="0.45" stroke-width="0.5" fill="none"/>
<path d="M964 1074C962 1068 954 1049 954 1037C954 1026 957 1013 962 1003C968 993 976 983 986 977C996 971 1016 967 1022 965M858 998C857 1003 854 1017 851 1025C848 1034 844 1042 840 1050C835 1058 829 1066 823 1072C817 1079 806 1088 802 1091M940 1131C937 1130 927 1127 921 1124C916 1121 911 1116 907 1111C903 1106 901 1100 899 1094C898 1088 898 1077 898 1074M842 1021C847 1020 862 1016 871 1016C880 1016 890 1018 898 1022C907 1026 915 1032 921 1039C928 1046 934 1060 937 1064M938 995C938 998 935 1009 934 1016C934 1023 934 1030 934 1037C934 1044 936 1052 937 1059C939 1065 943 1076 944 1079M1002 973C1001 976 1000 987 998 993C996 1000 993 1006 989 1012C985 1017 980 1022 974 1026C969 1031 959 1035 956 1036M744 1083C747 1083 757 1084 764 1084C771 1085 778 1084 785 1084C792 1083 798 1082 805 1080C812 1079 822 1076 825 1075M821 994C822 992 826 986 828 983C830 979 833 975 835 971C837 967 840 963 842 960C844 956 848 950 849 948M885 1049C882 1052 872 1058 869 1063C866 1069 865 1077 867 1082C869 1087 874 1093 879 1096C885 1098 897 1097 901 1097M891 1124C888 1126 878 1132 871 1132C865 1133 857 1132 851 1130C845 1127 840 1122 836 1117C832 1111 829 1100 828 1097M736 1050C741 1053 758 1062 766 1070C775 1078 782 1088 787 1098C793 1108 796 1120 798 1132C799 1143 796 1162 796 1168M876 1065C874 1065 865 1067 861 1065C856 1064 852 1061 849 1057C847 1053 845 1048 845 1043C845 1039 848 1031 849 1028M766 1058C762 1053 746 1035 743 1023C741 1012 746 997 752 989C759 981 773 974 785 975C797 975 817 989 823 991M985 957C979 960 960 966 953 974C947 982 944 994 945 1003C947 1012 954 1023 963 1028C971 1033 992 1033 997 1034M883 1007C883 1013 882 1032 885 1043C888 1054 893 1065 900 1075C906 1084 915 1093 925 1099C934 1105 952 1111 958 1113M884 912C886 915 894 924 896 930C898 936 897 944 894 949C891 954 886 959 880 961C874 963 862 960 858 960M799 1066C804 1063 824 1055 831 1047C837 1039 839 1026 836 1017C834 1008 825 998 815 994C806 991 785 995 779 995M801 988C805 993 820 1006 826 1017C832 1027 837 1039 839 1051C841 1063 841 1076 839 1088C837 1100 828 1118 826 1124M938 1121C940 1118 948 1106 949 1099C950 1092 947 1083 943 1078C939 1073 931 1069 923 1069C916 1069 904 1076 900 1077M846 1018C845 1012 844 992 839 983C834 973 825 964 816 959C806 954 794 952 783 954C773 955 756 966 751 968M847 1124C851 1119 863 1104 873 1097C883 1091 895 1087 906 1085C917 1084 930 1085 941 1089C952 1093 967 1106 972 1109M859 1008C860 1004 863 991 862 983C861 975 858 968 854 961C849 955 843 949 836 946C829 942 816 941 812 940M844 897C843 902 839 917 835 927C831 936 826 945 820 953C813 961 806 969 798 975C790 981 775 989 771 991M852 987C847 983 831 970 820 967C809 965 796 967 787 972C778 977 769 987 766 998C762 1008 766 1029 766 1035M748 995C751 996 762 997 769 996C775 996 782 994 788 991C793 988 799 984 803 979C808 974 813 964 815 962M912 1101C912 1097 915 1083 913 1074C912 1066 909 1057 905 1049C901 1042 895 1034 889 1029C882 1023 869 1017 865 1015M922 1038C916 1039 899 1045 889 1044C879 1044 868 1040 861 1034C853 1028 846 1019 842 1010C838 1000 838 982 838 977M731 1127C733 1124 738 1115 742 1110C747 1105 752 1101 757 1097C763 1094 769 1091 776 1089C782 1088 793 1088 796 1087M893 1141C894 1139 897 1131 899 1126C901 1121 902 1116 902 1110C903 1105 903 1099 903 1094C903 1088 901 1080 901 1078M1038 1047C1034 1050 1020 1059 1014 1067C1008 1075 1003 1085 1001 1094C999 1104 999 1115 1002 1124C1004 1134 1013 1148 1016 1153M877 1009C877 1013 881 1025 879 1032C878 1038 875 1046 870 1050C865 1055 859 1059 852 1061C845 1062 833 1060 829 1059M918 1029C916 1026 912 1018 909 1012C906 1007 903 1001 900 995C897 990 894 984 891 978C888 973 884 964 882 962M898 941C902 940 915 934 922 935C929 936 937 941 940 946C943 952 945 960 943 967C941 974 930 983 927 986M890 1072C890 1075 893 1085 894 1092C896 1099 897 1105 898 1112C900 1119 901 1125 902 1132C903 1139 905 1149 906 1152M871 1053C864 1053 838 1046 828 1051C818 1055 811 1069 811 1078C812 1087 821 1101 831 1104C842 1107 867 1098 874 1097M896 1092C892 1095 881 1108 875 1110C868 1111 859 1106 856 1102C853 1097 853 1087 857 1081C862 1076 878 1072 882 1070M978 914C978 920 983 939 981 951C980 963 975 975 969 985C963 995 954 1004 943 1010C933 1017 914 1021 908 1023M863 1027C866 1029 877 1032 883 1037C888 1041 893 1046 896 1052C900 1058 902 1066 903 1073C903 1080 901 1091 900 1094M817 1158C822 1157 838 1153 848 1152C859 1150 869 1149 880 1149C890 1149 901 1150 911 1151C922 1152 937 1156 943 1157M870 1157C865 1154 852 1144 842 1140C833 1135 823 1131 812 1128C802 1125 791 1123 781 1122C770 1122 754 1123 749 1123M852 1137C846 1137 829 1136 818 1134C807 1132 796 1128 786 1123C776 1118 767 1112 758 1105C749 1098 739 1085 735 1080M897 1107C891 1108 867 1113 859 1109C850 1105 844 1091 845 1084C846 1076 856 1065 865 1063C875 1062 896 1073 902 1075M828 998C830 1000 840 1006 844 1011C849 1016 853 1023 855 1029C857 1036 858 1043 858 1050C858 1057 854 1067 853 1071M931 997C927 1000 912 1008 909 1015C905 1022 906 1033 910 1039C914 1044 923 1050 931 1050C938 1049 952 1039 957 1037M885 1013C881 1013 871 1013 864 1014C858 1016 852 1020 847 1024C842 1028 837 1033 834 1039C831 1045 830 1056 829 1059M771 1131C775 1132 786 1136 793 1139C800 1142 807 1144 814 1147C822 1150 829 1153 836 1156C843 1159 853 1163 857 1165M997 1086C992 1086 978 1084 968 1084C958 1084 948 1085 939 1086C929 1087 919 1090 910 1092C900 1095 887 1101 882 1103M845 1015C848 1017 859 1022 867 1026C874 1029 882 1033 889 1036C897 1040 904 1043 912 1047C919 1050 930 1056 934 1058M868 947C871 953 880 970 888 979C896 989 906 998 916 1005C926 1012 937 1018 949 1023C960 1027 979 1031 985 1032M1001 1161C998 1161 986 1161 981 1159C976 1156 972 1150 971 1145C970 1140 972 1133 976 1128C979 1124 990 1120 993 1118M820 978C824 980 840 985 847 992C854 999 859 1008 860 1017C862 1026 860 1037 856 1045C851 1053 837 1064 834 1067M925 1165C926 1161 927 1148 927 1139C927 1130 927 1122 926 1113C926 1104 925 1096 923 1087C922 1079 918 1066 917 1062M989 1012C984 1012 970 1008 961 1009C951 1010 942 1012 933 1016C925 1019 917 1025 910 1031C903 1038 896 1050 893 1054M984 1055C982 1057 975 1067 970 1072C965 1077 959 1081 952 1085C946 1088 939 1091 932 1093C925 1095 914 1095 910 1096M965 1106C962 1105 951 1103 945 1100C939 1096 934 1091 930 1086C927 1080 925 1073 925 1067C924 1060 928 1049 929 1046M843 1050C846 1054 857 1065 864 1072C871 1080 878 1088 885 1095C891 1103 898 1111 905 1118C912 1126 922 1138 925 1142M953 989C956 990 968 991 975 994C982 996 989 999 995 1003C1002 1007 1008 1012 1013 1017C1019 1022 1026 1031 1028 1034M719 1109C718 1105 715 1091 717 1083C719 1075 723 1068 729 1062C735 1057 743 1054 751 1053C759 1052 772 1057 777 1058M850 988C855 991 869 999 878 1005C887 1011 896 1018 905 1024C914 1031 922 1038 930 1045C939 1052 951 1063 955 1067M946 1077C942 1075 929 1070 920 1066C911 1063 902 1059 893 1055C884 1051 875 1048 867 1044C858 1040 845 1034 840 1032M773 991C776 989 784 982 789 978C795 973 800 969 805 964C811 960 816 955 821 951C826 946 834 939 837 937M890 1057C888 1055 882 1048 878 1045C873 1043 868 1042 863 1041C857 1041 852 1043 847 1045C843 1047 837 1054 835 1055M894 975C897 978 906 990 913 994C920 998 930 1000 937 998C945 997 953 993 959 988C965 982 970 968 973 964M991 984C985 987 966 993 958 1001C949 1009 943 1021 941 1031C939 1042 941 1055 946 1065C951 1075 967 1088 971 1093M896 1021C901 1019 921 1018 927 1013C934 1007 936 995 933 989C931 982 921 975 913 975C905 975 889 988 884 990M774 1144C776 1143 782 1137 785 1133C789 1130 792 1125 796 1121C799 1117 802 1112 804 1108C807 1103 810 1096 811 1093M897 1106C894 1107 883 1111 875 1111C868 1112 861 1111 854 1110C847 1108 840 1105 833 1102C827 1098 819 1090 816 1087M800 1123C803 1122 810 1117 815 1115C820 1114 825 1113 830 1114C835 1114 840 1115 845 1118C850 1120 856 1125 858 1127M937 977C935 981 932 995 928 1003C924 1011 918 1018 912 1023C905 1029 897 1034 888 1037C880 1039 866 1040 861 1041M759 1080C763 1077 776 1071 784 1066C792 1060 799 1053 805 1046C812 1039 817 1031 821 1022C825 1013 829 999 831 994M770 1072C776 1071 797 1062 808 1064C819 1066 830 1075 835 1084C839 1093 840 1107 835 1117C831 1127 811 1139 807 1144M931 912C928 914 918 921 913 926C907 932 902 937 897 944C893 950 888 956 885 963C881 970 877 981 876 984M933 1106C935 1104 941 1097 944 1093C947 1088 949 1083 950 1077C951 1072 952 1067 952 1061C951 1056 949 1047 948 1045M821 1013C824 1016 831 1025 837 1030C842 1035 848 1040 855 1044C861 1048 868 1052 875 1055C882 1058 893 1061 896 1062M876 1022C875 1026 871 1037 872 1044C872 1051 874 1058 877 1064C881 1070 886 1075 891 1079C897 1083 908 1086 912 1087M839 1007C841 1008 847 1011 851 1014C854 1017 857 1020 859 1024C860 1028 862 1033 862 1037C862 1041 860 1048 860 1050M927 1002C921 998 898 987 893 977C887 967 888 951 892 942C897 934 910 925 922 924C933 924 955 937 961 940M821 1070C823 1066 828 1053 832 1044C835 1035 838 1026 841 1017C844 1008 847 999 850 990C853 981 857 968 858 963M951 1109C955 1105 970 1094 975 1085C980 1076 982 1064 981 1055C981 1045 977 1034 971 1026C964 1017 949 1008 944 1005M1038 1086C1034 1086 1021 1090 1013 1090C1006 1089 998 1086 991 1082C985 1078 979 1072 976 1065C972 1059 970 1046 969 1042M863 993C866 994 876 999 882 1002C889 1005 895 1007 902 1009C909 1011 916 1012 923 1013C930 1014 941 1014 944 1014M827 1126C831 1122 843 1104 853 1099C863 1094 877 1093 887 1096C897 1099 908 1106 914 1116C920 1125 921 1147 923 1153M959 1042C961 1045 970 1053 973 1059C976 1066 976 1074 974 1080C973 1087 969 1094 963 1098C958 1103 946 1106 942 1107M849 965C849 971 853 991 851 1003C849 1014 843 1026 836 1035C829 1045 819 1053 808 1058C798 1063 778 1064 771 1066M890 1027C890 1031 888 1044 890 1052C891 1060 894 1068 897 1075C901 1082 906 1089 912 1094C919 1100 930 1106 934 1108M881 1009C883 1012 892 1021 894 1027C895 1033 894 1040 891 1045C888 1050 882 1055 876 1057C869 1058 858 1055 854 1054M803 1033C805 1031 814 1025 818 1020C821 1015 823 1008 823 1002C823 996 821 989 818 984C814 979 805 973 803 971M884 1112C882 1112 873 1114 867 1117C862 1119 856 1121 851 1124C846 1127 841 1130 836 1134C832 1137 825 1144 823 1146M856 1044C857 1038 857 1022 861 1013C865 1004 872 995 879 989C887 984 897 980 906 978C916 977 932 982 938 982M784 1070C788 1064 797 1041 807 1035C817 1028 832 1026 842 1029C852 1032 864 1042 868 1053C873 1064 868 1088 868 1095M741 1060C737 1056 725 1043 719 1033C714 1024 711 1013 709 1002C708 991 709 980 712 969C714 958 724 943 726 938M905 982C910 982 925 980 934 981C943 983 953 985 961 990C969 994 977 999 984 1006C991 1013 999 1025 1002 1029M807 1037C814 1036 837 1029 850 1032C862 1035 874 1044 880 1054C885 1064 887 1079 884 1091C880 1103 862 1120 857 1126M906 992C908 991 915 986 917 982C919 978 919 973 918 969C916 966 912 962 908 960C904 959 896 961 893 961M941 1037C943 1037 950 1039 954 1041C958 1042 963 1044 967 1045C971 1047 975 1049 979 1051C983 1052 989 1056 991 1057M949 1008C945 1011 931 1024 922 1027C913 1029 902 1026 894 1022C887 1017 881 1007 879 998C878 988 885 971 886 966M821 1091C820 1088 814 1081 812 1075C810 1070 809 1064 809 1058C809 1052 810 1046 812 1041C814 1035 819 1028 821 1025M1012 952C1013 954 1014 962 1014 967C1013 971 1012 976 1010 980C1008 984 1005 988 1002 992C999 995 992 999 990 1000M972 902C966 904 943 907 935 915C926 922 920 935 921 945C921 956 927 969 936 975C945 982 968 985 974 986" stroke="#8a9c94" stroke-opacity="0.8" stroke-width="0.9" fill="none"/><path d="M866.8 969.7L1033.2 1078.9" stroke="#000" stroke-opacity="0.25" stroke-width="19.0" fill="none" transform="translate(2,3)" filter="url(#blur3)" stroke-linecap="butt"/><mask id="tm8" maskUnits="userSpaceOnUse" x="0" y="780" width="1056" height="462"><path d="M866.8 969.7L1033.2 1078.9" stroke="#fff" stroke-width="19.0" fill="none" stroke-linecap="butt"/></mask><path d="M866.8 969.7L1033.2 1078.9" stroke="#3f4c0c" stroke-width="19.0" fill="none" stroke-linecap="butt"/><g mask="url(#tm8)"><path d="M866.8 969.7L1033.2 1078.9" stroke="#85931f" stroke-width="15.2" fill="none" transform="translate(-1.1,-1.9)" filter="url(#blur2)" stroke-linecap="butt"/><path d="M866.8 969.7L1033.2 1078.9" stroke="#a8b23a" stroke-width="5.7" fill="none" transform="translate(-1.9,-3.8)" filter="url(#blur2)" opacity="0.8" stroke-linecap="butt"/></g><ellipse cx="1033.2" cy="1078.9" rx="5.7" ry="9.2" transform="rotate(33.3 1033.2 1078.9)" fill="#9aa52e" stroke="#3f4c0c" stroke-width="0.6" stroke-opacity="0.5"/><path d="M931.6 919.5C932.5 925.0 936.3 942.9 936.8 952.4C937.3 961.9 936.8 969.8 934.4 976.7C932.0 983.6 927.7 988.5 922.2 994.0C916.7 999.5 907.8 1005.6 901.4 1009.6C895.0 1013.6 887.0 1016.8 884.1 1018.2" stroke="#000" stroke-opacity="0.25" stroke-width="23.0" fill="none" transform="translate(2,3)" filter="url(#blur3)" stroke-linecap="butt"/><mask id="tm9" maskUnits="userSpaceOnUse" x="0" y="780" width="1056" height="462"><path d="M931.6 919.5C932.5 925.0 936.3 942.9 936.8 952.4C937.3 961.9 936.8 969.8 934.4 976.7C932.0 983.6 927.7 988.5 922.2 994.0C916.7 999.5 907.8 1005.6 901.4 1009.6C895.0 1013.6 887.0 1016.8 884.1 1018.2" stroke="#fff" stroke-width="23.0" fill="none" stroke-linecap="butt"/></mask><path d="M931.6 919.5C932.5 925.0 936.3 942.9 936.8 952.4C937.3 961.9 936.8 969.8 934.4 976.7C932.0 983.6 927.7 988.5 922.2 994.0C916.7 999.5 907.8 1005.6 901.4 1009.6C895.0 1013.6 887.0 1016.8 884.1 1018.2" stroke="#3f4c0c" stroke-width="23.0" fill="none" stroke-linecap="butt"/><g mask="url(#tm9)"><path d="M931.6 919.5C932.5 925.0 936.3 942.9 936.8 952.4C937.3 961.9 936.8 969.8 934.4 976.7C932.0 983.6 927.7 988.5 922.2 994.0C916.7 999.5 907.8 1005.6 901.4 1009.6C895.0 1013.6 887.0 1016.8 884.1 1018.2" stroke="#85931f" stroke-width="18.4" fill="none" transform="translate(-1.4,-2.3)" filter="url(#blur2)" stroke-linecap="butt"/><path d="M931.6 919.5C932.5 925.0 936.3 942.9 936.8 952.4C937.3 961.9 936.8 969.8 934.4 976.7C932.0 983.6 927.7 988.5 922.2 994.0C916.7 999.5 907.8 1005.6 901.4 1009.6C895.0 1013.6 887.0 1016.8 884.1 1018.2" stroke="#a8b23a" stroke-width="6.9" fill="none" transform="translate(-2.3,-4.6)" filter="url(#blur2)" opacity="0.8" stroke-linecap="butt"/></g><ellipse cx="931.6" cy="919.5" rx="9.2" ry="11.2" transform="rotate(-99.0 931.6 919.5)" fill="#9aa52e" stroke="#3f4c0c" stroke-width="0.6" stroke-opacity="0.5"/><path d="M724.7 1054.6L804.4 1028.6" stroke="#000" stroke-opacity="0.25" stroke-width="19.0" fill="none" transform="translate(2,3)" filter="url(#blur3)" stroke-linecap="butt"/><mask id="tm10" maskUnits="userSpaceOnUse" x="0" y="780" width="1056" height="462"><path d="M724.7 1054.6L804.4 1028.6" stroke="#fff" stroke-width="19.0" fill="none" stroke-linecap="butt"/></mask><path d="M724.7 1054.6L804.4 1028.6" stroke="#3f4c0c" stroke-width="19.0" fill="none" stroke-linecap="butt"/><g mask="url(#tm10)"><path d="M724.7 1054.6L804.4 1028.6" stroke="#85931f" stroke-width="15.2" fill="none" transform="translate(-1.1,-1.9)" filter="url(#blur2)" stroke-linecap="butt"/><path d="M724.7 1054.6L804.4 1028.6" stroke="#a8b23a" stroke-width="5.7" fill="none" transform="translate(-1.9,-3.8)" filter="url(#blur2)" opacity="0.8" stroke-linecap="butt"/></g><ellipse cx="724.7" cy="1054.6" rx="5.7" ry="9.2" transform="rotate(161.9 724.7 1054.6)" fill="#9aa52e" stroke="#3f4c0c" stroke-width="0.6" stroke-opacity="0.5"/><path d="M737.0 1016.5C740.7 1017.7 752.7 1018.6 759.3 1023.5C765.9 1028.4 771.5 1037.6 776.7 1046.0C781.9 1054.4 785.9 1065.6 790.5 1073.7C795.1 1081.8 800.9 1089.9 804.4 1094.5C807.9 1099.1 810.1 1100.2 811.3 1101.4" stroke="#000" stroke-opacity="0.25" stroke-width="22.0" fill="none" transform="translate(2,3)" filter="url(#blur3)" stroke-linecap="round"/><mask id="tm11" maskUnits="userSpaceOnUse" x="0" y="780" width="1056" height="462"><path d="M737.0 1016.5C740.7 1017.7 752.7 1018.6 759.3 1023.5C765.9 1028.4 771.5 1037.6 776.7 1046.0C781.9 1054.4 785.9 1065.6 790.5 1073.7C795.1 1081.8 800.9 1089.9 804.4 1094.5C807.9 1099.1 810.1 1100.2 811.3 1101.4" stroke="#fff" stroke-width="22.0" fill="none" stroke-linecap="round"/></mask><path d="M737.0 1016.5C740.7 1017.7 752.7 1018.6 759.3 1023.5C765.9 1028.4 771.5 1037.6 776.7 1046.0C781.9 1054.4 785.9 1065.6 790.5 1073.7C795.1 1081.8 800.9 1089.9 804.4 1094.5C807.9 1099.1 810.1 1100.2 811.3 1101.4" stroke="#3f4c0c" stroke-width="22.0" fill="none" stroke-linecap="round"/><g mask="url(#tm11)"><path d="M737.0 1016.5C740.7 1017.7 752.7 1018.6 759.3 1023.5C765.9 1028.4 771.5 1037.6 776.7 1046.0C781.9 1054.4 785.9 1065.6 790.5 1073.7C795.1 1081.8 800.9 1089.9 804.4 1094.5C807.9 1099.1 810.1 1100.2 811.3 1101.4" stroke="#85931f" stroke-width="17.6" fill="none" transform="translate(-1.3,-2.2)" filter="url(#blur2)" stroke-linecap="round"/><path d="M737.0 1016.5C740.7 1017.7 752.7 1018.6 759.3 1023.5C765.9 1028.4 771.5 1037.6 776.7 1046.0C781.9 1054.4 785.9 1065.6 790.5 1073.7C795.1 1081.8 800.9 1089.9 804.4 1094.5C807.9 1099.1 810.1 1100.2 811.3 1101.4" stroke="#a8b23a" stroke-width="6.6" fill="none" transform="translate(-2.2,-4.4)" filter="url(#blur2)" opacity="0.8" stroke-linecap="round"/></g><path d="M743.0 940.0C744.3 945.5 746.2 964.8 750.7 973.2C755.2 981.6 760.8 987.0 769.7 990.5C778.7 994.0 795.1 994.6 804.4 994.0C813.6 993.4 820.0 987.1 825.2 987.1C830.4 987.1 832.7 989.4 835.6 994.0C838.5 998.6 839.6 1007.3 842.5 1014.8C845.4 1022.3 848.3 1032.4 852.9 1039.0C857.5 1045.6 862.7 1051.4 870.2 1054.6C877.7 1057.8 887.6 1057.8 898.0 1058.1C908.4 1058.4 926.0 1056.7 932.6 1056.4C939.2 1056.1 936.9 1056.4 937.8 1056.4" stroke="#000" stroke-opacity="0.25" stroke-width="26.0" fill="none" transform="translate(2,3)" filter="url(#blur3)" stroke-linecap="round"/><mask id="tm12" maskUnits="userSpaceOnUse" x="0" y="780" width="1056" height="462"><path d="M743.0 940.0C744.3 945.5 746.2 964.8 750.7 973.2C755.2 981.6 760.8 987.0 769.7 990.5C778.7 994.0 795.1 994.6 804.4 994.0C813.6 993.4 820.0 987.1 825.2 987.1C830.4 987.1 832.7 989.4 835.6 994.0C838.5 998.6 839.6 1007.3 842.5 1014.8C845.4 1022.3 848.3 1032.4 852.9 1039.0C857.5 1045.6 862.7 1051.4 870.2 1054.6C877.7 1057.8 887.6 1057.8 898.0 1058.1C908.4 1058.4 926.0 1056.7 932.6 1056.4C939.2 1056.1 936.9 1056.4 937.8 1056.4" stroke="#fff" stroke-width="26.0" fill="none" stroke-linecap="round"/></mask><path d="M743.0 940.0C744.3 945.5 746.2 964.8 750.7 973.2C755.2 981.6 760.8 987.0 769.7 990.5C778.7 994.0 795.1 994.6 804.4 994.0C813.6 993.4 820.0 987.1 825.2 987.1C830.4 987.1 832.7 989.4 835.6 994.0C838.5 998.6 839.6 1007.3 842.5 1014.8C845.4 1022.3 848.3 1032.4 852.9 1039.0C857.5 1045.6 862.7 1051.4 870.2 1054.6C877.7 1057.8 887.6 1057.8 898.0 1058.1C908.4 1058.4 926.0 1056.7 932.6 1056.4C939.2 1056.1 936.9 1056.4 937.8 1056.4" stroke="#3f4c0c" stroke-width="26.0" fill="none" stroke-linecap="round"/><g mask="url(#tm12)"><path d="M743.0 940.0C744.3 945.5 746.2 964.8 750.7 973.2C755.2 981.6 760.8 987.0 769.7 990.5C778.7 994.0 795.1 994.6 804.4 994.0C813.6 993.4 820.0 987.1 825.2 987.1C830.4 987.1 832.7 989.4 835.6 994.0C838.5 998.6 839.6 1007.3 842.5 1014.8C845.4 1022.3 848.3 1032.4 852.9 1039.0C857.5 1045.6 862.7 1051.4 870.2 1054.6C877.7 1057.8 887.6 1057.8 898.0 1058.1C908.4 1058.4 926.0 1056.7 932.6 1056.4C939.2 1056.1 936.9 1056.4 937.8 1056.4" stroke="#85931f" stroke-width="20.8" fill="none" transform="translate(-1.6,-2.6)" filter="url(#blur2)" stroke-linecap="round"/><path d="M743.0 940.0C744.3 945.5 746.2 964.8 750.7 973.2C755.2 981.6 760.8 987.0 769.7 990.5C778.7 994.0 795.1 994.6 804.4 994.0C813.6 993.4 820.0 987.1 825.2 987.1C830.4 987.1 832.7 989.4 835.6 994.0C838.5 998.6 839.6 1007.3 842.5 1014.8C845.4 1022.3 848.3 1032.4 852.9 1039.0C857.5 1045.6 862.7 1051.4 870.2 1054.6C877.7 1057.8 887.6 1057.8 898.0 1058.1C908.4 1058.4 926.0 1056.7 932.6 1056.4C939.2 1056.1 936.9 1056.4 937.8 1056.4" stroke="#a8b23a" stroke-width="7.8" fill="none" transform="translate(-2.6,-5.2)" filter="url(#blur2)" opacity="0.8" stroke-linecap="round"/></g><ellipse cx="937.8" cy="1056.4" rx="7.8" ry="12.7" transform="rotate(0.0 937.8 1056.4)" fill="#9aa52e" stroke="#3f4c0c" stroke-width="0.6" stroke-opacity="0.5"/><path d="M911.8 1101.4C914.7 1106.0 924.6 1120.5 929.2 1129.2C933.8 1137.9 934.4 1144.7 939.6 1153.4C944.8 1162.1 956.9 1176.6 960.4 1181.2" stroke="#000" stroke-opacity="0.25" stroke-width="24.0" fill="none" transform="translate(2,3)" filter="url(#blur3)" stroke-linecap="butt"/><mask id="tm13" maskUnits="userSpaceOnUse" x="0" y="780" width="1056" height="462"><path d="M911.8 1101.4C914.7 1106.0 924.6 1120.5 929.2 1129.2C933.8 1137.9 934.4 1144.7 939.6 1153.4C944.8 1162.1 956.9 1176.6 960.4 1181.2" stroke="#fff" stroke-width="24.0" fill="none" stroke-linecap="butt"/></mask><path d="M911.8 1101.4C914.7 1106.0 924.6 1120.5 929.2 1129.2C933.8 1137.9 934.4 1144.7 939.6 1153.4C944.8 1162.1 956.9 1176.6 960.4 1181.2" stroke="#3f4c0c" stroke-width="24.0" fill="none" stroke-linecap="butt"/><g mask="url(#tm13)"><path d="M911.8 1101.4C914.7 1106.0 924.6 1120.5 929.2 1129.2C933.8 1137.9 934.4 1144.7 939.6 1153.4C944.8 1162.1 956.9 1176.6 960.4 1181.2" stroke="#85931f" stroke-width="19.2" fill="none" transform="translate(-1.4,-2.4)" filter="url(#blur2)" stroke-linecap="butt"/><path d="M911.8 1101.4C914.7 1106.0 924.6 1120.5 929.2 1129.2C933.8 1137.9 934.4 1144.7 939.6 1153.4C944.8 1162.1 956.9 1176.6 960.4 1181.2" stroke="#a8b23a" stroke-width="7.2" fill="none" transform="translate(-2.4,-4.8)" filter="url(#blur2)" opacity="0.8" stroke-linecap="butt"/></g><path d="M809.6 1099.7C815.7 1097.1 833.6 1087.6 846.0 1084.1C858.4 1080.6 872.6 1078.9 884.1 1078.9C895.6 1078.9 904.3 1082.1 915.3 1084.1C926.3 1086.1 938.3 1089.3 949.9 1091.0C961.5 1092.7 978.8 1093.9 984.6 1094.5" stroke="#000" stroke-opacity="0.25" stroke-width="24.0" fill="none" transform="translate(2,3)" filter="url(#blur3)" stroke-linecap="round"/><mask id="tm14" maskUnits="userSpaceOnUse" x="0" y="780" width="1056" height="462"><path d="M809.6 1099.7C815.7 1097.1 833.6 1087.6 846.0 1084.1C858.4 1080.6 872.6 1078.9 884.1 1078.9C895.6 1078.9 904.3 1082.1 915.3 1084.1C926.3 1086.1 938.3 1089.3 949.9 1091.0C961.5 1092.7 978.8 1093.9 984.6 1094.5" stroke="#fff" stroke-width="24.0" fill="none" stroke-linecap="round"/></mask><path d="M809.6 1099.7C815.7 1097.1 833.6 1087.6 846.0 1084.1C858.4 1080.6 872.6 1078.9 884.1 1078.9C895.6 1078.9 904.3 1082.1 915.3 1084.1C926.3 1086.1 938.3 1089.3 949.9 1091.0C961.5 1092.7 978.8 1093.9 984.6 1094.5" stroke="#3f4c0c" stroke-width="24.0" fill="none" stroke-linecap="round"/><g mask="url(#tm14)"><path d="M809.6 1099.7C815.7 1097.1 833.6 1087.6 846.0 1084.1C858.4 1080.6 872.6 1078.9 884.1 1078.9C895.6 1078.9 904.3 1082.1 915.3 1084.1C926.3 1086.1 938.3 1089.3 949.9 1091.0C961.5 1092.7 978.8 1093.9 984.6 1094.5" stroke="#85931f" stroke-width="19.2" fill="none" transform="translate(-1.4,-2.4)" filter="url(#blur2)" stroke-linecap="round"/><path d="M809.6 1099.7C815.7 1097.1 833.6 1087.6 846.0 1084.1C858.4 1080.6 872.6 1078.9 884.1 1078.9C895.6 1078.9 904.3 1082.1 915.3 1084.1C926.3 1086.1 938.3 1089.3 949.9 1091.0C961.5 1092.7 978.8 1093.9 984.6 1094.5" stroke="#a8b23a" stroke-width="7.2" fill="none" transform="translate(-2.4,-4.8)" filter="url(#blur2)" opacity="0.8" stroke-linecap="round"/></g><ellipse cx="809.6" cy="1099.7" rx="7.2" ry="11.7" transform="rotate(156.8 809.6 1099.7)" fill="#9aa52e" stroke="#3f4c0c" stroke-width="0.6" stroke-opacity="0.5"/><path d="M835.6 1098.0C839.6 1100.9 852.6 1109.8 859.8 1115.3C867.0 1120.8 875.7 1128.3 878.9 1130.9" stroke="#000" stroke-opacity="0.25" stroke-width="22.0" fill="none" transform="translate(2,3)" filter="url(#blur3)" stroke-linecap="butt"/><mask id="tm15" maskUnits="userSpaceOnUse" x="0" y="780" width="1056" height="462"><path d="M835.6 1098.0C839.6 1100.9 852.6 1109.8 859.8 1115.3C867.0 1120.8 875.7 1128.3 878.9 1130.9" stroke="#fff" stroke-width="22.0" fill="none" stroke-linecap="butt"/></mask><path d="M835.6 1098.0C839.6 1100.9 852.6 1109.8 859.8 1115.3C867.0 1120.8 875.7 1128.3 878.9 1130.9" stroke="#3f4c0c" stroke-width="22.0" fill="none" stroke-linecap="butt"/><g mask="url(#tm15)"><path d="M835.6 1098.0C839.6 1100.9 852.6 1109.8 859.8 1115.3C867.0 1120.8 875.7 1128.3 878.9 1130.9" stroke="#85931f" stroke-width="17.6" fill="none" transform="translate(-1.3,-2.2)" filter="url(#blur2)" stroke-linecap="butt"/><path d="M835.6 1098.0C839.6 1100.9 852.6 1109.8 859.8 1115.3C867.0 1120.8 875.7 1128.3 878.9 1130.9" stroke="#a8b23a" stroke-width="6.6" fill="none" transform="translate(-2.2,-4.4)" filter="url(#blur2)" opacity="0.8" stroke-linecap="butt"/></g><ellipse cx="878.9" cy="1130.9" rx="6.6" ry="10.7" transform="rotate(39.2 878.9 1130.9)" fill="#9aa52e" stroke="#3f4c0c" stroke-width="0.6" stroke-opacity="0.5"/><circle cx="863.3" cy="1032.1" r="22.5" fill="url(#sph2)"/><circle cx="989.8" cy="1040.8" r="21.0" fill="url(#sph2)"/><circle cx="757.6" cy="1026.9" r="13.5" fill="url(#sph2)"/><circle cx="941.3" cy="1106.6" r="14.0" fill="url(#sph2)"/><circle cx="826.9" cy="1120.5" r="12.0" fill="url(#sph2)"/><circle cx="800.9" cy="1021.7" r="10.5" fill="url(#sph2)"/><circle cx="877.2" cy="1091.0" r="10.0" fill="url(#sph2)"/><circle cx="932.6" cy="1070.2" r="9.0" fill="url(#sph2)"/><circle cx="782.8" cy="966.3" r="9.2" fill="url(#sph2)"/><circle cx="783.6" cy="963.5" r="9.0" fill="url(#sph2)"/><circle cx="790.8" cy="967.9" r="7.4" fill="url(#sph2)"/><circle cx="912.5" cy="976.8" r="10.1" fill="url(#sph2)"/><circle cx="919.1" cy="970.7" r="9.6" fill="url(#sph2)"/><circle cx="911.6" cy="970.6" r="7.9" fill="url(#sph2)"/><circle cx="933.0" cy="1006.0" r="8.8" fill="url(#sph2)"/><circle cx="926.1" cy="1005.0" r="9.2" fill="url(#sph2)"/><circle cx="929.6" cy="1012.0" r="8.7" fill="url(#sph2)"/><circle cx="868.3" cy="996.8" r="9.8" fill="url(#sph2)"/><circle cx="874.0" cy="1003.6" r="9.7" fill="url(#sph2)"/><circle cx="873.9" cy="998.4" r="9.4" fill="url(#sph2)"/><circle cx="771.9" cy="1081.2" r="10.2" fill="url(#sph2)"/><circle cx="773.3" cy="1079.9" r="8.4" fill="url(#sph2)"/><circle cx="772.5" cy="1073.6" r="9.3" fill="url(#sph2)"/><path d="M921 1116C926 1114 942 1104 951 1104C961 1104 972 1108 978 1114C985 1120 990 1131 990 1140C991 1150 983 1166 982 1172M970 1108C968 1107 962 1102 957 1100C953 1098 948 1096 944 1096C939 1095 934 1095 929 1096C925 1097 918 1100 915 1101M748 954C751 957 760 969 767 972C774 975 783 975 790 972C796 969 803 962 806 955C808 948 805 933 805 929M984 1012C979 1011 964 1002 957 1003C950 1004 942 1012 941 1017C940 1023 943 1033 949 1037C955 1041 973 1039 977 1040M933 1162C928 1158 912 1148 903 1139C895 1131 888 1120 882 1110C876 1099 872 1087 870 1075C868 1063 869 1044 869 1038M911 1107C912 1102 916 1088 918 1078C920 1068 921 1059 923 1049C925 1039 926 1029 927 1019C928 1009 929 994 930 989M978 1098C975 1101 967 1110 964 1116C961 1123 960 1131 960 1138C960 1145 962 1152 965 1159C968 1165 977 1173 979 1176M846 1080C847 1084 846 1096 848 1104C850 1111 854 1118 859 1123C864 1129 870 1133 877 1136C884 1139 897 1139 901 1140M968 1012C966 1018 965 1038 960 1046C954 1053 942 1058 934 1057C926 1057 915 1050 910 1042C906 1033 908 1013 908 1007M898 1121C895 1124 888 1133 881 1137C875 1140 868 1142 861 1141C854 1141 847 1139 841 1135C835 1131 828 1121 825 1118M853 1040C853 1036 852 1023 854 1014C856 1006 859 998 863 990C868 983 873 976 879 970C886 964 897 958 901 956M898 1034C896 1038 891 1049 887 1055C883 1062 878 1068 873 1074C868 1080 862 1085 856 1090C850 1095 839 1100 836 1102M794 1004C791 1010 785 1031 777 1038C769 1046 756 1051 746 1050C736 1049 723 1044 716 1035C709 1026 705 1005 703 999M773 1037C772 1039 768 1044 764 1047C761 1049 756 1051 752 1051C748 1052 744 1052 740 1052C736 1051 730 1048 728 1047M919 1019C916 1018 905 1013 897 1012C890 1010 882 1009 874 1009C867 1010 859 1011 852 1013C844 1015 834 1020 830 1021M778 1050C776 1044 768 1027 763 1016C758 1006 752 995 746 984C740 974 734 963 727 953C721 942 711 927 707 922M830 1053C827 1054 817 1056 811 1059C806 1062 802 1067 799 1072C796 1078 794 1084 794 1090C794 1096 797 1106 798 1109M889 1063C885 1065 875 1072 867 1077C860 1082 852 1086 845 1091C838 1095 830 1100 823 1105C815 1109 804 1116 800 1118M781 1013C784 1016 793 1024 797 1031C801 1037 804 1044 805 1051C807 1059 807 1066 807 1074C806 1081 801 1092 800 1096M917 1124C918 1121 924 1108 928 1105C933 1102 941 1105 944 1108C947 1111 947 1120 944 1124C940 1128 927 1131 923 1132M813 1116C811 1111 801 1096 798 1086C795 1075 794 1064 795 1053C796 1043 799 1032 804 1022C810 1012 822 1000 826 996M921 1084C918 1085 909 1086 903 1086C896 1086 890 1086 884 1085C878 1085 872 1084 866 1082C860 1081 851 1078 848 1077M800 1004C806 1004 825 1001 836 1003C848 1005 859 1009 868 1016C877 1022 886 1031 891 1041C897 1051 900 1070 902 1076M816 970C818 975 826 992 827 1004C828 1015 826 1027 822 1037C818 1047 810 1056 801 1063C792 1070 774 1075 768 1078M842 1048C846 1047 860 1046 868 1043C876 1040 885 1036 892 1031C899 1026 905 1020 911 1013C917 1006 923 994 925 990M907 1064C910 1069 918 1082 924 1091C930 1099 937 1107 945 1113C953 1120 961 1126 970 1132C979 1137 994 1143 999 1145M810 913C805 918 788 932 784 942C781 952 784 966 789 973C795 980 808 986 818 986C829 985 846 971 852 968M853 1094C851 1093 841 1090 837 1086C834 1082 833 1075 834 1071C836 1067 840 1062 844 1060C849 1058 859 1061 862 1061M992 975C990 971 987 958 983 953C978 948 971 944 964 943C958 942 949 943 943 947C937 951 931 962 928 966M797 984C801 990 813 1014 823 1019C832 1024 849 1019 854 1013C860 1007 862 990 856 981C850 972 824 963 818 960M757 1113C759 1112 766 1107 771 1105C776 1103 781 1101 786 1101C791 1100 797 1101 802 1102C807 1103 815 1106 818 1107M942 1065C939 1062 927 1054 924 1047C921 1041 920 1032 922 1025C923 1019 928 1011 934 1007C941 1003 954 1002 958 1000M882 1097C883 1095 886 1088 886 1084C886 1080 885 1075 883 1072C881 1069 877 1065 874 1063C870 1061 863 1061 860 1060M871 1063C872 1059 874 1048 877 1041C881 1034 885 1028 890 1022C895 1016 901 1011 907 1008C914 1004 925 1000 929 999M899 943C902 944 910 948 916 948C922 949 928 948 933 945C938 943 943 940 947 935C950 931 953 922 954 919M849 1175C848 1168 846 1146 840 1136C834 1125 823 1117 812 1113C802 1109 788 1108 776 1112C765 1116 750 1132 744 1136M914 1010C910 1009 897 1001 890 1001C883 1001 875 1007 873 1012C871 1018 871 1027 875 1033C880 1038 895 1042 898 1044M872 1023C871 1025 870 1036 867 1039C864 1042 857 1042 854 1041C851 1039 848 1034 848 1029C849 1025 856 1018 857 1015M864 1053C862 1050 853 1039 850 1032C847 1024 847 1015 848 1007C849 1000 853 991 858 985C863 979 876 972 879 969M820 1171C822 1165 828 1149 834 1139C840 1129 846 1119 854 1111C861 1102 870 1094 879 1087C888 1080 903 1072 908 1069M807 1029C806 1027 803 1020 801 1016C800 1011 799 1007 798 1002C797 997 797 992 797 987C797 983 798 975 798 973M950 1023C950 1027 951 1038 949 1044C947 1051 945 1058 941 1063C938 1069 933 1074 927 1079C922 1083 912 1087 909 1089M731 1061C732 1063 733 1069 735 1073C736 1077 739 1081 741 1085C744 1088 747 1091 750 1094C753 1097 759 1100 761 1101M994 1084C994 1088 990 1100 990 1108C990 1116 991 1125 994 1132C997 1139 1002 1147 1008 1152C1014 1158 1025 1164 1029 1166M987 927C984 933 977 957 968 964C959 970 944 971 935 967C927 964 918 951 918 940C917 929 931 908 934 902M970 1015C967 1019 959 1031 955 1040C951 1049 948 1058 946 1068C945 1077 944 1087 945 1096C945 1106 949 1120 950 1125M864 1050C869 1046 889 1038 897 1029C906 1021 912 1009 915 997C918 986 918 972 915 961C911 949 898 932 895 927M984 1005C980 1007 966 1010 963 1015C959 1019 960 1028 963 1031C966 1035 974 1037 979 1035C984 1033 990 1020 993 1017M889 924C890 929 889 944 892 950C896 956 905 960 910 959C916 959 924 953 926 947C929 940 925 925 924 921M921 1037C919 1040 915 1050 910 1055C906 1060 900 1064 894 1066C887 1067 880 1067 874 1066C867 1064 858 1057 855 1056M733 993C737 994 748 995 754 998C760 1002 766 1007 769 1012C773 1018 776 1025 776 1032C776 1038 773 1049 772 1053M822 1029C821 1033 816 1046 817 1054C818 1061 822 1069 828 1074C833 1079 841 1082 849 1083C856 1083 869 1077 873 1076M861 955C861 960 861 974 858 982C856 990 851 998 845 1004C839 1011 832 1016 824 1019C816 1023 802 1023 797 1024M941 1063C940 1060 938 1050 935 1045C932 1039 928 1034 924 1030C920 1026 915 1022 909 1019C904 1016 894 1014 891 1013M899 984C902 989 914 1001 917 1009C919 1018 916 1028 912 1035C907 1041 898 1047 889 1048C880 1049 865 1041 860 1039M697 1042C697 1036 695 1019 697 1008C699 998 704 987 711 979C717 971 726 963 735 958C745 953 763 951 768 950M797 1018C796 1020 794 1027 792 1032C791 1037 789 1041 787 1046C785 1050 782 1054 780 1058C777 1063 773 1069 772 1071M850 1044C852 1042 859 1036 861 1032C863 1027 865 1022 865 1017C865 1012 863 1007 861 1002C859 998 852 992 850 990M857 951C860 953 868 959 871 965C874 970 874 977 873 982C871 987 867 993 862 996C857 999 847 999 843 1000M981 930C983 935 987 948 989 957C992 966 994 975 997 984C1000 993 1002 1001 1005 1010C1008 1019 1012 1033 1013 1037M898 1074C893 1069 877 1051 866 1048C856 1045 841 1050 835 1057C828 1064 824 1079 827 1089C830 1100 849 1115 854 1120M855 1129C855 1125 853 1108 856 1102C860 1096 869 1091 875 1092C881 1092 890 1097 892 1104C895 1111 891 1127 891 1131M957 1036C958 1039 961 1048 963 1054C964 1060 964 1066 964 1072C964 1079 963 1085 961 1091C960 1097 955 1105 954 1108M899 1038C895 1037 882 1031 874 1030C866 1030 857 1032 850 1036C844 1040 837 1047 834 1054C830 1061 830 1076 829 1080M859 956C863 961 877 975 882 986C887 997 889 1009 889 1021C889 1033 885 1045 880 1056C874 1066 859 1080 855 1084M914 963C912 963 905 963 901 964C897 965 893 966 889 968C885 970 881 972 878 975C875 978 871 984 869 986M932 1124C932 1120 930 1103 934 1096C937 1090 947 1086 952 1087C958 1087 967 1094 969 1100C970 1107 964 1123 964 1128M995 1012C993 1014 985 1019 982 1023C980 1027 980 1033 981 1037C983 1041 987 1045 991 1047C995 1048 1005 1046 1007 1046M944 1007C941 1011 935 1025 930 1033C924 1041 918 1048 911 1055C904 1061 896 1068 888 1073C880 1078 866 1084 862 1086M903 1036C898 1040 884 1055 873 1061C862 1066 848 1069 836 1068C824 1068 811 1064 800 1058C789 1052 776 1035 771 1031M781 942C779 946 772 960 766 969C761 977 755 985 748 993C741 1000 734 1008 726 1014C718 1021 705 1029 701 1032M908 1011C906 1005 902 983 894 976C887 968 874 963 865 964C855 965 843 971 837 980C831 988 830 1010 828 1016M973 1048C968 1050 954 1060 943 1064C933 1067 922 1069 911 1069C900 1070 889 1068 879 1065C868 1061 854 1052 849 1049M995 978C992 980 982 987 975 991C968 995 960 998 953 1001C945 1003 937 1005 929 1006C921 1007 909 1007 905 1007M729 1053C735 1054 751 1060 763 1061C774 1062 786 1062 797 1060C808 1058 819 1055 829 1050C839 1045 853 1034 858 1031M846 1136C841 1135 826 1132 816 1132C806 1132 796 1133 786 1134C776 1136 767 1139 757 1142C748 1146 735 1153 730 1155M878 1121C878 1118 878 1109 877 1104C876 1098 874 1093 872 1088C870 1082 867 1077 864 1073C861 1068 854 1062 852 1060M869 1034C867 1039 855 1059 856 1068C857 1077 867 1087 874 1089C882 1091 895 1087 900 1079C906 1071 904 1049 905 1043M1038 1069C1036 1071 1030 1077 1028 1082C1025 1087 1023 1092 1022 1097C1021 1102 1021 1108 1021 1113C1022 1119 1025 1127 1026 1129M782 1067C786 1063 800 1053 803 1046C806 1038 805 1027 802 1020C798 1013 790 1006 782 1004C773 1003 757 1008 752 1009M840 1043C840 1047 835 1060 837 1065C839 1070 846 1075 850 1075C855 1075 862 1070 864 1065C865 1060 862 1047 861 1044M833 1083C835 1078 838 1064 842 1056C846 1048 852 1040 857 1033C863 1026 870 1019 878 1014C885 1008 899 1002 903 1000M745 1065C750 1066 768 1070 780 1071C792 1071 804 1071 815 1069C827 1068 839 1065 850 1061C861 1057 877 1048 882 1045M760 983C760 988 759 1001 760 1010C761 1018 763 1027 767 1035C770 1043 774 1050 780 1057C785 1064 795 1073 798 1076M874 1122C870 1120 859 1116 854 1111C849 1106 845 1098 844 1092C844 1085 845 1077 848 1071C851 1064 861 1057 864 1054M914 1041C914 1045 911 1056 910 1064C908 1071 906 1079 904 1086C902 1094 900 1101 897 1109C895 1116 891 1127 890 1131M849 1085C850 1082 854 1074 858 1069C861 1064 865 1059 870 1055C874 1050 879 1046 884 1043C889 1039 897 1035 900 1033M722 1047C726 1046 739 1041 745 1043C752 1044 758 1050 760 1056C761 1061 760 1069 756 1075C752 1080 739 1084 736 1086M908 979C907 982 904 989 903 993C901 998 899 1002 898 1007C896 1011 894 1016 892 1020C890 1025 888 1031 887 1034M723 995C723 999 722 1012 723 1020C723 1028 725 1037 727 1045C729 1052 733 1060 736 1068C740 1075 748 1085 750 1089M828 970C832 972 845 978 854 982C863 986 871 991 879 996C887 1001 895 1006 903 1012C911 1017 922 1026 926 1029M1010 1009C1009 1014 1008 1031 1003 1037C998 1044 988 1049 980 1050C973 1050 963 1047 957 1041C951 1035 946 1019 944 1014" stroke="#8a9c94" stroke-opacity="0.75" stroke-width="0.9" fill="none"/><path d="M806 1076C807 1076 810 1076 811 1076C812 1077 813 1078 814 1079C814 1080 814 1081 814 1083C813 1084 811 1085 810 1086M832 1072C832 1071 834 1069 834 1068C835 1066 835 1064 835 1063C836 1061 835 1059 835 1058C835 1056 833 1054 833 1053M837 1045C838 1046 841 1049 843 1050C845 1050 847 1049 848 1047C849 1046 849 1043 848 1042C847 1040 842 1039 841 1038M813 1062C814 1060 819 1055 820 1053C821 1050 818 1046 816 1045C814 1044 810 1045 808 1047C806 1049 806 1057 806 1059M849 988C847 988 838 990 837 993C835 995 837 1000 839 1000C840 1001 845 999 846 997C846 994 842 986 842 984M781 1045C781 1047 779 1051 780 1054C780 1057 781 1060 783 1062C785 1064 788 1066 790 1066C793 1067 798 1065 800 1065M911 1039C910 1040 908 1046 905 1048C902 1051 899 1053 895 1054C892 1055 888 1055 884 1054C881 1053 876 1050 874 1049M812 1095C813 1094 816 1092 818 1091C820 1090 822 1090 825 1089C827 1088 829 1088 832 1088C834 1088 838 1088 839 1088M810 1077C809 1077 808 1078 807 1079C806 1081 806 1082 806 1083C806 1084 807 1086 808 1087C809 1088 811 1089 811 1089M872 1064C871 1063 868 1059 866 1057C865 1054 863 1051 862 1048C860 1046 859 1043 858 1040C857 1037 855 1032 855 1031M781 1065C783 1066 789 1066 791 1067C792 1069 793 1073 792 1075C791 1076 788 1078 786 1078C783 1078 779 1073 778 1073M854 1081C853 1081 849 1082 848 1082C846 1082 845 1079 845 1078C845 1077 847 1075 848 1075C850 1075 853 1077 854 1078M874 1078C875 1078 878 1077 879 1077C881 1077 882 1077 884 1078C885 1079 886 1081 886 1082C886 1084 886 1087 885 1088M810 1100C810 1099 810 1096 810 1094C810 1092 810 1090 810 1088C811 1086 811 1084 812 1082C812 1080 813 1077 814 1076M888 1067C887 1068 883 1071 881 1072C878 1073 875 1073 873 1072C871 1072 868 1070 866 1068C865 1066 863 1062 862 1061M830 1059C828 1058 824 1056 821 1054C819 1052 817 1049 815 1047C813 1044 811 1041 810 1038C809 1035 809 1030 808 1028M853 1104C854 1104 858 1103 859 1104C861 1104 863 1106 863 1107C864 1109 864 1111 863 1113C862 1114 859 1116 858 1117M885 1042C884 1042 881 1044 879 1045C876 1046 874 1047 872 1048C870 1049 868 1051 867 1052C865 1054 862 1056 861 1057M836 1035C835 1036 833 1040 830 1041C828 1043 825 1044 822 1045C819 1045 816 1045 814 1045C811 1044 807 1042 805 1041M817 1074C819 1074 825 1072 828 1069C831 1067 833 1064 834 1061C836 1058 837 1054 836 1050C836 1046 834 1041 833 1039M842 1030C840 1029 834 1027 832 1025C830 1022 831 1018 832 1016C833 1014 837 1013 840 1013C843 1014 847 1020 848 1021M794 1067C793 1068 790 1072 789 1072C787 1073 785 1071 784 1070C783 1069 783 1066 784 1065C786 1064 790 1063 791 1063M892 1067C891 1068 888 1072 887 1074C886 1077 886 1080 887 1083C887 1085 889 1088 891 1090C893 1091 898 1093 899 1093M864 1039C863 1041 859 1049 857 1050C855 1051 850 1048 850 1047C849 1045 852 1040 855 1041C858 1041 864 1047 866 1048M802 1053C804 1053 808 1055 811 1056C814 1057 817 1057 820 1058C823 1058 826 1058 829 1057C832 1057 836 1056 838 1056M838 1015C837 1017 834 1020 831 1022C829 1024 826 1025 824 1027C821 1028 818 1029 815 1030C812 1030 808 1030 806 1030M902 1104C902 1103 900 1098 898 1095C897 1092 895 1089 893 1086C892 1083 890 1080 888 1077C886 1074 884 1070 883 1068M808 1079C806 1077 797 1073 796 1069C794 1066 796 1060 798 1058C801 1057 807 1056 810 1058C813 1060 815 1070 816 1072M838 1076C839 1077 839 1081 840 1083C842 1085 843 1086 845 1088C846 1089 848 1090 851 1091C853 1092 856 1092 858 1092M828 1108C828 1106 828 1101 828 1098C827 1095 826 1093 824 1090C823 1087 821 1085 819 1082C817 1080 813 1078 812 1077M828 1037C829 1038 830 1041 831 1043C831 1045 832 1047 832 1050C831 1052 831 1054 830 1056C830 1058 828 1060 827 1061M847 1035C846 1034 845 1032 845 1031C845 1030 846 1028 846 1027C847 1026 849 1026 850 1026C851 1025 853 1026 854 1027M793 1048C795 1049 798 1052 800 1053C802 1053 805 1053 807 1052C809 1050 811 1048 811 1046C812 1043 810 1039 810 1038M803 1089C802 1092 800 1103 797 1105C795 1108 788 1106 786 1104C785 1102 786 1095 789 1093C792 1091 803 1094 806 1094M824 1074C824 1074 827 1073 828 1073C830 1072 832 1073 833 1073C834 1074 836 1074 837 1076C838 1077 839 1079 840 1080M833 1067C835 1066 844 1064 846 1062C848 1059 846 1053 845 1052C843 1051 837 1051 835 1054C834 1057 835 1066 835 1068M833 1038C833 1039 834 1042 834 1043C834 1045 833 1047 832 1048C831 1049 830 1050 828 1051C826 1051 824 1051 823 1051M821 1066C820 1065 819 1061 818 1059C816 1057 814 1055 812 1053C810 1051 808 1050 805 1049C803 1048 799 1048 797 1047M785 1048C785 1047 785 1044 785 1041C784 1039 784 1037 784 1034C784 1032 784 1030 785 1027C785 1025 785 1021 785 1020M834 1105C834 1106 833 1108 832 1110C832 1111 832 1113 832 1114C832 1116 833 1118 834 1119C835 1120 837 1121 838 1122M799 1055C801 1054 807 1049 810 1049C813 1049 817 1052 818 1054C818 1057 817 1061 814 1063C811 1064 804 1063 802 1063M826 1043C827 1043 832 1043 834 1044C836 1045 837 1048 837 1050C837 1052 835 1055 833 1055C830 1056 825 1054 824 1054M840 1068C842 1069 848 1074 849 1077C851 1080 851 1085 849 1088C848 1091 844 1094 841 1095C837 1096 830 1094 828 1094M902 1077C902 1075 900 1070 899 1067C897 1064 894 1061 891 1060C888 1058 885 1057 882 1056C878 1056 873 1057 871 1058M767 1032C769 1032 775 1033 779 1035C782 1037 784 1040 786 1043C787 1046 788 1050 787 1054C787 1057 783 1062 782 1064M793 1130C795 1131 800 1132 803 1131C805 1130 807 1126 807 1124C807 1122 805 1119 803 1118C801 1117 795 1118 793 1118M879 1079C879 1078 877 1076 876 1075C875 1073 874 1072 873 1071C872 1069 871 1068 870 1067C868 1065 867 1063 866 1063M822 1012C824 1012 829 1013 832 1012C835 1012 838 1011 841 1010C844 1009 847 1007 849 1005C851 1003 854 999 855 998M834 1078C834 1077 834 1074 835 1072C835 1070 835 1069 836 1067C836 1065 837 1063 837 1061C838 1060 839 1057 839 1056M808 1027C809 1027 813 1025 815 1024C818 1023 820 1022 822 1020C824 1018 826 1017 828 1015C830 1013 832 1009 833 1008M846 1094C845 1093 841 1090 840 1087C839 1084 838 1081 838 1079C839 1076 840 1073 842 1071C843 1068 848 1066 849 1065M847 1048C847 1049 847 1053 846 1055C846 1057 843 1058 841 1058C840 1059 837 1057 836 1056C835 1054 835 1050 835 1049M790 1097C791 1096 793 1092 795 1089C797 1086 798 1084 800 1081C802 1078 804 1076 806 1073C808 1071 811 1068 812 1066M810 1095C810 1094 810 1092 810 1091C810 1090 810 1088 810 1087C810 1086 810 1085 810 1083C811 1082 811 1080 811 1080M863 1098C863 1096 865 1092 865 1089C865 1086 865 1083 864 1081C864 1078 863 1075 862 1072C860 1070 857 1066 856 1065M855 1103C853 1104 849 1108 847 1108C844 1109 841 1108 839 1106C838 1104 837 1101 837 1099C838 1096 842 1092 843 1091M816 1060C818 1060 822 1056 825 1056C828 1056 831 1057 833 1059C835 1060 837 1064 837 1066C837 1069 835 1074 834 1076M851 1065C850 1064 847 1060 846 1058C846 1056 847 1053 848 1052C850 1051 853 1051 855 1052C857 1053 859 1058 859 1059M832 1045C831 1043 830 1033 828 1031C826 1029 820 1030 819 1032C817 1033 818 1040 821 1041C824 1043 833 1040 836 1040M837 1043C836 1043 833 1043 831 1043C828 1043 826 1042 824 1042C822 1041 820 1039 819 1038C817 1036 815 1034 814 1033M821 1042C822 1042 824 1043 826 1044C827 1044 829 1044 830 1044C832 1044 834 1043 835 1043C836 1042 838 1041 839 1040M846 1086C847 1086 852 1089 854 1089C855 1088 855 1085 854 1084C854 1084 851 1087 852 1088C852 1089 858 1091 859 1091M812 1058C812 1058 809 1057 808 1055C808 1054 808 1052 809 1051C809 1050 811 1050 812 1050C814 1051 816 1053 816 1054M830 1042C831 1042 835 1045 838 1045C840 1045 843 1045 845 1043C847 1042 849 1040 851 1038C852 1036 853 1032 853 1030M853 1062C853 1061 853 1057 852 1055C852 1053 851 1050 851 1048C850 1045 850 1043 849 1041C849 1038 847 1035 847 1033M787 1082C789 1082 796 1082 800 1084C803 1086 805 1089 806 1092C807 1096 807 1100 806 1103C804 1107 798 1110 797 1112M804 1054C805 1055 805 1058 806 1060C807 1062 809 1063 810 1063C812 1063 814 1062 816 1061C817 1060 818 1056 818 1055M829 1118C830 1118 833 1116 834 1115C836 1114 838 1112 840 1111C842 1110 844 1109 846 1108C847 1107 850 1106 851 1106M836 1036C836 1037 837 1041 836 1043C836 1046 835 1048 834 1050C832 1051 830 1053 828 1054C826 1054 822 1054 821 1054M798 1109C799 1108 801 1106 803 1104C805 1103 807 1101 809 1100C811 1099 813 1098 816 1098C818 1097 821 1097 822 1097M860 1079C860 1078 862 1073 864 1071C865 1070 868 1069 870 1069C873 1069 875 1071 877 1073C878 1074 879 1079 879 1081M846 1100C846 1101 848 1105 848 1108C848 1111 848 1113 847 1116C846 1118 844 1120 842 1122C840 1124 836 1126 835 1126M859 1049C858 1048 853 1043 850 1042C847 1042 844 1043 842 1045C840 1047 839 1051 840 1054C841 1057 846 1061 847 1062M847 1012C848 1013 851 1014 852 1015C854 1016 856 1018 857 1019C858 1021 859 1023 860 1025C861 1027 862 1030 862 1031M830 1068C831 1068 833 1069 835 1069C836 1070 838 1070 839 1071C841 1071 842 1072 844 1072C845 1073 848 1073 848 1073M850 1081C852 1082 855 1085 858 1086C861 1087 864 1088 866 1089C869 1090 872 1091 875 1092C878 1093 883 1094 884 1094M788 1085C788 1084 787 1082 787 1080C788 1079 789 1077 790 1077C791 1076 793 1076 794 1076C796 1076 798 1077 799 1078M869 1051C869 1052 867 1057 868 1059C869 1061 872 1063 873 1062C875 1062 877 1060 877 1058C878 1056 875 1052 875 1050M815 1056C816 1055 819 1054 820 1053C822 1052 823 1051 824 1049C825 1048 826 1046 826 1045C827 1043 827 1040 828 1039M814 1050C814 1051 814 1054 814 1056C813 1057 812 1058 810 1059C809 1060 807 1060 805 1059C804 1059 802 1057 801 1056M828 1080C829 1078 830 1070 832 1068C834 1065 840 1065 842 1066C844 1068 846 1072 846 1075C845 1078 838 1084 837 1085M752 1061C753 1061 759 1062 761 1061C764 1060 767 1058 768 1055C769 1053 769 1050 768 1047C767 1045 762 1041 761 1040M831 1083C833 1083 837 1084 839 1084C842 1084 844 1083 847 1082C849 1082 852 1081 854 1079C856 1078 859 1076 860 1075M814 1083C813 1082 810 1081 809 1080C807 1079 805 1078 804 1077C802 1076 800 1074 799 1073C798 1071 796 1068 795 1068M825 1044C824 1044 821 1048 820 1048C818 1049 815 1048 815 1047C814 1046 814 1043 815 1042C816 1040 820 1039 821 1038M837 1093C836 1093 830 1091 829 1089C828 1088 830 1084 831 1084C832 1084 836 1086 835 1088C835 1090 831 1094 830 1095M809 1109C808 1107 808 1099 807 1096C805 1094 801 1092 798 1092C795 1092 791 1095 790 1098C789 1101 790 1108 790 1110M812 1077C812 1078 812 1080 812 1082C812 1083 811 1084 810 1085C809 1086 807 1087 806 1087C805 1087 802 1086 801 1086M857 1070C856 1070 852 1067 849 1066C846 1065 843 1065 840 1066C838 1067 835 1068 833 1070C831 1073 830 1077 829 1079M876 1045C877 1045 880 1046 881 1047C882 1048 883 1050 884 1051C885 1053 885 1054 885 1056C885 1058 885 1060 885 1061M763 1053C765 1054 772 1055 775 1057C778 1059 781 1062 782 1066C783 1069 782 1073 781 1077C779 1080 774 1084 773 1086M823 1068C822 1068 819 1068 818 1068C816 1069 815 1069 813 1069C811 1069 810 1070 808 1070C806 1070 804 1071 803 1071M805 1021C805 1022 805 1024 805 1026C805 1028 804 1029 804 1031C804 1033 804 1035 803 1036C803 1038 802 1040 802 1041M867 1051C867 1052 866 1055 865 1058C865 1060 864 1062 864 1064C864 1066 863 1069 863 1071C863 1073 863 1076 863 1078M859 1069C857 1069 849 1069 847 1071C845 1073 844 1078 845 1080C846 1082 850 1085 853 1084C856 1083 861 1077 863 1075M809 1075C810 1074 810 1072 811 1070C812 1069 813 1068 814 1067C815 1066 817 1065 818 1065C820 1065 822 1065 823 1065M820 1022C820 1023 820 1025 820 1026C820 1028 821 1029 821 1031C821 1032 822 1033 822 1035C823 1036 824 1038 824 1039M871 1072C871 1074 868 1080 869 1084C869 1087 871 1091 874 1093C876 1096 880 1097 884 1098C887 1098 893 1095 895 1094M843 1025C842 1025 838 1027 836 1028C834 1029 832 1030 829 1031C827 1032 825 1033 822 1034C820 1035 816 1036 815 1036M873 1081C873 1079 874 1074 873 1071C871 1069 869 1066 867 1065C865 1064 861 1063 858 1063C856 1064 851 1067 850 1068M885 1050C883 1050 878 1051 874 1051C871 1052 867 1052 864 1052C860 1051 857 1051 853 1050C850 1050 845 1048 843 1047M840 1058C840 1057 839 1052 838 1049C837 1045 836 1042 835 1039C834 1036 833 1033 832 1030C831 1026 829 1022 828 1020M784 1044C785 1044 790 1042 794 1042C797 1041 800 1041 804 1041C807 1041 811 1041 814 1042C817 1043 822 1044 824 1045M821 1049C824 1049 835 1053 838 1052C841 1050 840 1043 839 1042C838 1042 831 1045 831 1048C832 1051 841 1058 843 1061M825 1027C826 1026 827 1022 829 1020C830 1018 832 1017 835 1016C837 1015 839 1015 842 1016C844 1016 848 1018 849 1019M792 1065C793 1066 796 1068 798 1069C800 1069 802 1067 802 1066C803 1065 802 1062 801 1061C800 1060 796 1060 795 1059M864 1076C863 1075 858 1074 856 1073C853 1072 851 1071 849 1069C847 1067 845 1065 843 1063C841 1061 839 1057 839 1056M834 1054C835 1054 837 1056 839 1056C840 1057 842 1056 844 1055C845 1055 846 1053 847 1052C847 1050 847 1047 847 1046M891 1024C891 1022 891 1019 891 1017C891 1015 891 1012 891 1010C892 1008 892 1006 893 1004C893 1001 895 998 895 997M811 1064C811 1063 810 1060 810 1058C809 1057 809 1055 809 1053C808 1052 808 1050 807 1048C807 1047 806 1044 806 1043M810 1052C811 1051 814 1048 816 1047C819 1045 821 1044 824 1044C827 1043 829 1043 832 1044C835 1044 839 1046 840 1047M809 1068C809 1068 812 1070 813 1070C815 1071 817 1070 818 1069C819 1068 820 1067 820 1065C821 1064 820 1061 819 1060M803 1027C804 1028 809 1028 810 1030C812 1031 813 1034 813 1036C813 1038 812 1040 811 1042C809 1043 805 1044 803 1045M830 1067C829 1066 828 1063 826 1062C825 1061 823 1060 821 1060C819 1060 817 1061 816 1062C814 1063 813 1067 813 1067M800 1016C801 1016 805 1019 808 1019C811 1020 814 1019 816 1017C818 1016 821 1014 822 1011C823 1009 822 1003 822 1002M781 1102C782 1103 786 1107 787 1109C788 1112 788 1115 788 1118C787 1121 786 1124 784 1126C783 1128 778 1130 777 1131M834 1098C832 1098 827 1097 823 1098C820 1098 817 1098 813 1099C810 1099 807 1100 803 1101C800 1102 795 1104 794 1105M828 1101C827 1101 823 1099 820 1098C818 1097 815 1096 813 1094C811 1092 809 1091 807 1089C805 1087 802 1083 801 1082M835 1092C836 1091 841 1090 843 1089C846 1088 848 1086 850 1083C852 1081 853 1078 854 1076C855 1073 854 1068 854 1067M847 1078C846 1078 844 1078 843 1078C841 1078 840 1079 839 1079C838 1080 837 1081 836 1082C835 1083 835 1085 835 1086M822 1036C822 1035 820 1034 819 1032C818 1031 817 1029 816 1028C815 1026 815 1025 815 1023C815 1021 815 1019 815 1018M779 1113C780 1112 782 1112 784 1112C786 1112 788 1111 790 1110C791 1110 793 1109 794 1108C796 1107 798 1105 799 1104M807 1078C807 1079 809 1083 811 1085C813 1087 815 1088 817 1089C820 1089 823 1089 825 1088C827 1087 830 1083 831 1082M868 1029C867 1030 865 1031 865 1032C864 1033 863 1035 864 1036C864 1037 864 1039 865 1040C865 1041 867 1042 868 1043M853 1036C852 1036 851 1039 850 1040C849 1042 848 1043 848 1045C847 1047 846 1048 846 1050C845 1052 845 1055 845 1055M868 972C867 975 862 982 862 986C862 989 865 993 868 994C871 995 876 993 878 990C880 987 880 978 880 976M810 1089C809 1089 805 1087 802 1086C800 1084 799 1082 797 1079C796 1077 795 1074 795 1072C795 1069 797 1065 797 1063M808 1069C810 1068 814 1066 817 1066C820 1066 823 1067 824 1069C826 1071 827 1074 827 1077C827 1079 823 1083 823 1085M864 1000C862 999 856 996 853 996C849 996 845 997 843 1000C840 1002 838 1006 838 1010C838 1013 841 1019 842 1021M872 1024C871 1023 868 1019 868 1017C869 1014 871 1012 872 1011C874 1011 877 1012 878 1013C880 1015 880 1020 880 1022M837 1016C836 1017 836 1018 835 1020C834 1021 833 1021 832 1022C831 1023 830 1023 829 1024C828 1024 826 1024 825 1024M868 1050C868 1048 867 1044 867 1041C866 1039 865 1036 863 1033C862 1031 860 1029 858 1027C856 1025 852 1022 851 1021M822 1039C821 1038 818 1034 816 1033C813 1031 810 1031 807 1032C805 1032 802 1034 800 1037C799 1039 798 1044 798 1045M783 1076C783 1077 785 1083 788 1085C790 1087 793 1088 796 1089C799 1089 803 1088 805 1086C808 1084 810 1079 811 1078M799 1055C798 1057 793 1063 791 1064C788 1065 785 1061 785 1060C784 1058 787 1054 790 1054C792 1055 798 1060 800 1061M826 1091C827 1091 829 1089 829 1087C829 1086 829 1084 828 1083C828 1082 826 1081 825 1080C824 1080 821 1080 820 1080M884 1059C884 1058 883 1055 882 1053C881 1051 880 1049 878 1047C877 1045 876 1044 874 1042C873 1040 870 1038 869 1037M835 1071C833 1071 826 1068 823 1069C820 1070 817 1073 817 1076C816 1079 818 1083 820 1085C823 1087 831 1087 833 1087M844 998C845 1001 847 1012 846 1016C844 1019 837 1019 835 1018C833 1017 832 1009 835 1007C838 1005 849 1005 852 1004M839 1020C839 1020 840 1024 840 1025C841 1027 842 1028 844 1029C845 1030 847 1030 849 1030C851 1030 854 1029 854 1028" stroke="#7f918a" stroke-opacity="0.6" stroke-width="0.6" fill="none"/>
<text x="393.6" y="1164.0" font-size="23.3" textLength="281.0" lengthAdjust="spacingAndGlyphs" fill="#111" >Nanocellulose hybrid lignin</text>
<text x="53.9" y="1234.1" font-size="24.0" textLength="208.6" lengthAdjust="spacingAndGlyphs" fill="#111" >Cellulose fibers</text>
<text x="800.5" y="1234.1" font-size="24.0" textLength="209.7" lengthAdjust="spacingAndGlyphs" fill="#111" >Lignin-cellulose</text>
</svg></body></html>
